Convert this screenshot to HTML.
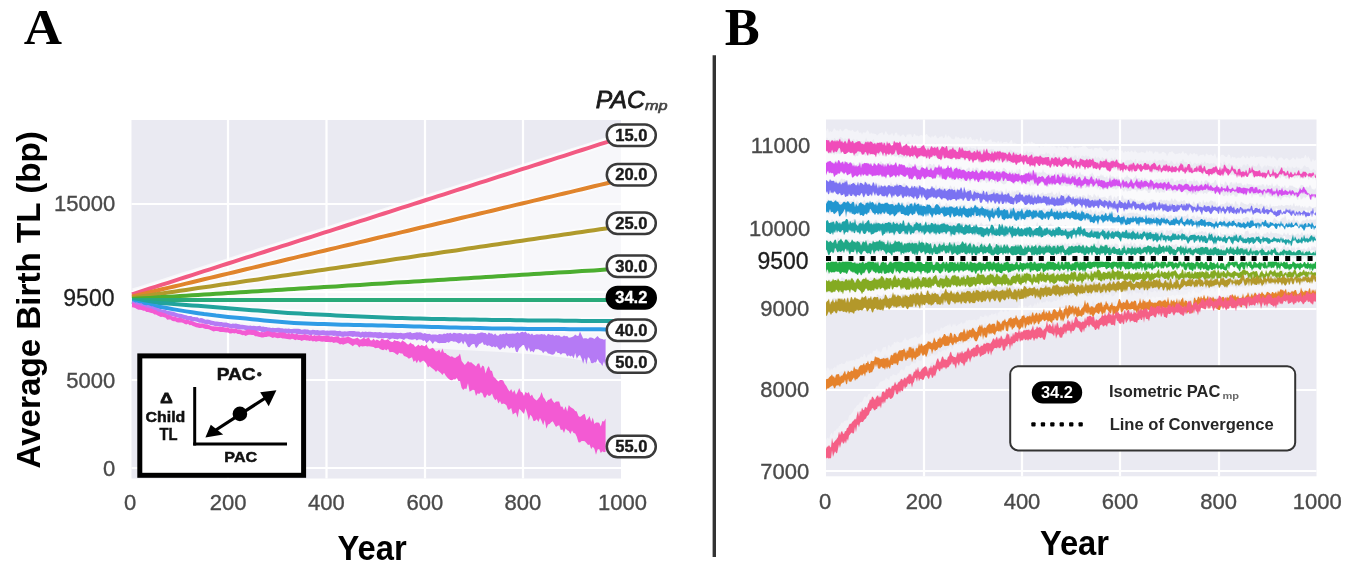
<!DOCTYPE html>
<html><head><meta charset="utf-8"><style>
html,body{margin:0;padding:0;background:#fff;}
body{width:1350px;height:583px;overflow:hidden;position:relative;}
svg{position:absolute;left:0;top:0;filter:blur(0.55px);}
</style></head><body>
<svg width="1350" height="583" viewBox="0 0 1350 583">
<rect x="131.5" y="120" width="489.5" height="358.5" fill="#EAEAF2"/>
<line x1="228" y1="120" x2="228" y2="478.5" stroke="#fff" stroke-width="2.2"/>
<line x1="326.5" y1="120" x2="326.5" y2="478.5" stroke="#fff" stroke-width="2.2"/>
<line x1="425" y1="120" x2="425" y2="478.5" stroke="#fff" stroke-width="2.2"/>
<line x1="523" y1="120" x2="523" y2="478.5" stroke="#fff" stroke-width="2.2"/>
<line x1="131.5" y1="204" x2="621" y2="204" stroke="#fff" stroke-width="2.2"/>
<line x1="131.5" y1="292" x2="621" y2="292" stroke="#fff" stroke-width="2.2"/>
<line x1="131.5" y1="380" x2="621" y2="380" stroke="#fff" stroke-width="2.2"/>
<line x1="131.5" y1="468" x2="621" y2="468" stroke="#fff" stroke-width="2.2"/>
<polygon points="132.0,288.6 142.0,285.4 152.0,282.2 162.0,279.0 172.0,275.8 182.0,272.6 192.0,269.4 202.0,266.3 212.0,263.1 222.0,259.9 232.0,256.7 242.0,253.5 252.0,250.3 262.0,247.1 272.0,243.9 282.0,240.7 292.0,237.5 302.0,234.3 312.0,231.1 322.0,227.9 332.0,224.8 342.0,221.6 352.0,218.4 362.0,215.2 372.0,212.0 382.0,208.8 392.0,205.6 402.0,202.4 412.0,199.2 422.0,196.0 432.0,192.8 442.0,189.6 452.0,186.4 462.0,183.3 472.0,180.1 482.0,176.9 492.0,173.7 502.0,170.5 512.0,167.3 522.0,164.1 532.0,160.9 542.0,157.7 552.0,154.5 562.0,151.3 572.0,148.1 582.0,144.9 592.0,141.8 602.0,138.6 612.0,135.4 621.0,132.5 621.0,368.0 611.0,366.0 601.0,363.9 591.0,361.9 581.0,360.2 571.0,358.6 561.0,357.3 551.0,356.2 541.0,355.1 531.0,354.2 521.0,353.4 511.0,352.7 501.0,352.1 491.0,351.5 481.0,351.0 471.0,350.6 461.0,350.1 451.0,349.4 441.0,348.6 431.0,347.9 421.0,347.1 411.0,346.3 401.0,345.6 391.0,344.8 381.0,344.1 371.0,343.3 361.0,342.6 351.0,341.8 341.0,341.1 331.0,340.3 321.0,339.6 311.0,338.8 301.0,338.1 291.0,337.3 281.0,336.6 271.0,335.9 261.0,335.1 251.0,334.1 241.0,333.1 231.0,332.0 221.0,330.8 211.0,329.2 201.0,327.2 191.0,324.7 181.0,321.8 171.0,318.7 161.0,315.5 151.0,312.1 141.0,308.9" fill="#fff" opacity="0.6"/>
<path d="M132.0,294.3 L138.0,292.4 L144.0,290.5 L150.0,288.5 L156.0,286.6 L162.0,284.7 L168.0,282.8 L174.0,280.8 L180.0,278.9 L186.0,277.0 L192.0,275.1 L198.0,273.1 L204.0,271.2 L210.0,269.3 L216.0,267.4 L222.0,265.4 L228.0,263.5 L234.0,261.6 L240.0,259.7 L246.0,257.7 L252.0,255.8 L258.0,253.9 L264.0,252.0 L270.0,250.0 L276.0,248.1 L282.0,246.2 L288.0,244.3 L294.0,242.4 L300.0,240.4 L306.0,238.5 L312.0,236.6 L318.0,234.7 L324.0,232.7 L330.0,230.8 L336.0,228.9 L342.0,227.0 L348.0,225.0 L354.0,223.1 L360.0,221.2 L366.0,219.3 L372.0,217.3 L378.0,215.4 L384.0,213.5 L390.0,211.6 L396.0,209.6 L402.0,207.7 L408.0,205.8 L414.0,203.9 L420.0,202.0 L426.0,200.0 L432.0,198.1 L438.0,196.2 L444.0,194.3 L450.0,192.3 L456.0,190.4 L462.0,188.5 L468.0,186.6 L474.0,184.6 L480.0,182.7 L486.0,180.8 L492.0,178.9 L498.0,176.9 L504.0,175.0 L510.0,173.1 L516.0,171.2 L522.0,169.2 L528.0,167.3 L534.0,165.4 L540.0,163.5 L546.0,161.5 L552.0,159.6 L558.0,157.7 L564.0,155.8 L570.0,153.9 L576.0,151.9 L582.0,150.0 L588.0,148.1 L594.0,146.2 L600.0,144.2 L606.0,142.3 L612.0,140.4 L618.0,138.5" fill="none" stroke="#fff" stroke-width="8.0" opacity="0.5"/>
<path d="M132.0,296.5 L138.0,295.1 L144.0,293.6 L150.0,292.2 L156.0,290.8 L162.0,289.3 L168.0,287.9 L174.0,286.5 L180.0,285.1 L186.0,283.6 L192.0,282.2 L198.0,280.8 L204.0,279.3 L210.0,277.9 L216.0,276.5 L222.0,275.0 L228.0,273.6 L234.0,272.2 L240.0,270.7 L246.0,269.3 L252.0,267.9 L258.0,266.5 L264.0,265.0 L270.0,263.6 L276.0,262.2 L282.0,260.7 L288.0,259.3 L294.0,257.9 L300.0,256.4 L306.0,255.0 L312.0,253.6 L318.0,252.1 L324.0,250.7 L330.0,249.3 L336.0,247.9 L342.0,246.4 L348.0,245.0 L354.0,243.6 L360.0,242.1 L366.0,240.7 L372.0,239.3 L378.0,237.8 L384.0,236.4 L390.0,235.0 L396.0,233.6 L402.0,232.1 L408.0,230.7 L414.0,229.3 L420.0,227.8 L426.0,226.4 L432.0,225.0 L438.0,223.5 L444.0,222.1 L450.0,220.7 L456.0,219.2 L462.0,217.8 L468.0,216.4 L474.0,215.0 L480.0,213.5 L486.0,212.1 L492.0,210.7 L498.0,209.2 L504.0,207.8 L510.0,206.4 L516.0,204.9 L522.0,203.5 L528.0,202.1 L534.0,200.6 L540.0,199.2 L546.0,197.8 L552.0,196.4 L558.0,194.9 L564.0,193.5 L570.0,192.1 L576.0,190.6 L582.0,189.2 L588.0,187.8 L594.0,186.3 L600.0,184.9 L606.0,183.5 L612.0,182.0 L618.0,180.6" fill="none" stroke="#fff" stroke-width="8.0" opacity="0.5"/>
<path d="M132.0,297.8 L138.0,296.9 L144.0,296.0 L150.0,295.2 L156.0,294.3 L162.0,293.4 L168.0,292.5 L174.0,291.7 L180.0,290.8 L186.0,289.9 L192.0,289.0 L198.0,288.1 L204.0,287.3 L210.0,286.4 L216.0,285.5 L222.0,284.6 L228.0,283.7 L234.0,282.9 L240.0,282.0 L246.0,281.1 L252.0,280.2 L258.0,279.4 L264.0,278.5 L270.0,277.6 L276.0,276.7 L282.0,275.8 L288.0,275.0 L294.0,274.1 L300.0,273.2 L306.0,272.3 L312.0,271.4 L318.0,270.6 L324.0,269.7 L330.0,268.8 L336.0,267.9 L342.0,267.1 L348.0,266.2 L354.0,265.3 L360.0,264.4 L366.0,263.5 L372.0,262.7 L378.0,261.8 L384.0,260.9 L390.0,260.0 L396.0,259.1 L402.0,258.3 L408.0,257.4 L414.0,256.5 L420.0,255.6 L426.0,254.8 L432.0,253.9 L438.0,253.0 L444.0,252.1 L450.0,251.2 L456.0,250.4 L462.0,249.5 L468.0,248.6 L474.0,247.7 L480.0,246.8 L486.0,246.0 L492.0,245.1 L498.0,244.2 L504.0,243.3 L510.0,242.5 L516.0,241.6 L522.0,240.7 L528.0,239.8 L534.0,238.9 L540.0,238.1 L546.0,237.2 L552.0,236.3 L558.0,235.4 L564.0,234.5 L570.0,233.7 L576.0,232.8 L582.0,231.9 L588.0,231.0 L594.0,230.2 L600.0,229.3 L606.0,228.4 L612.0,227.5 L618.0,226.6" fill="none" stroke="#fff" stroke-width="8.0" opacity="0.5"/>
<path d="M132.0,299.0 L138.0,298.6 L144.0,298.3 L150.0,297.9 L156.0,297.5 L162.0,297.1 L168.0,296.8 L174.0,296.4 L180.0,296.0 L186.0,295.7 L192.0,295.3 L198.0,294.9 L204.0,294.5 L210.0,294.2 L216.0,293.8 L222.0,293.4 L228.0,293.1 L234.0,292.7 L240.0,292.3 L246.0,291.9 L252.0,291.6 L258.0,291.2 L264.0,290.8 L270.0,290.4 L276.0,290.1 L282.0,289.7 L288.0,289.3 L294.0,289.0 L300.0,288.6 L306.0,288.2 L312.0,287.8 L318.0,287.5 L324.0,287.1 L330.0,286.7 L336.0,286.4 L342.0,286.0 L348.0,285.6 L354.0,285.2 L360.0,284.9 L366.0,284.5 L372.0,284.1 L378.0,283.8 L384.0,283.4 L390.0,283.0 L396.0,282.6 L402.0,282.3 L408.0,281.9 L414.0,281.5 L420.0,281.2 L426.0,280.8 L432.0,280.4 L438.0,280.0 L444.0,279.7 L450.0,279.3 L456.0,278.9 L462.0,278.6 L468.0,278.2 L474.0,277.8 L480.0,277.4 L486.0,277.1 L492.0,276.7 L498.0,276.3 L504.0,275.9 L510.0,275.6 L516.0,275.2 L522.0,274.8 L528.0,274.5 L534.0,274.1 L540.0,273.7 L546.0,273.3 L552.0,273.0 L558.0,272.6 L564.0,272.2 L570.0,271.9 L576.0,271.5 L582.0,271.1 L588.0,270.7 L594.0,270.4 L600.0,270.0 L606.0,269.6 L612.0,269.3 L618.0,268.9" fill="none" stroke="#fff" stroke-width="8.0" opacity="0.5"/>
<path d="M132.0,300.0 L138.0,300.0 L144.0,300.0 L150.0,300.0 L156.0,300.0 L162.0,300.0 L168.0,300.0 L174.0,300.0 L180.0,300.0 L186.0,300.0 L192.0,300.0 L198.0,300.0 L204.0,300.0 L210.0,300.0 L216.0,300.0 L222.0,300.0 L228.0,300.0 L234.0,300.0 L240.0,300.0 L246.0,300.0 L252.0,300.0 L258.0,300.0 L264.0,300.0 L270.0,300.0 L276.0,300.0 L282.0,300.0 L288.0,300.0 L294.0,300.0 L300.0,300.0 L306.0,300.0 L312.0,300.0 L318.0,300.0 L324.0,300.0 L330.0,300.0 L336.0,300.0 L342.0,300.0 L348.0,300.0 L354.0,300.0 L360.0,300.0 L366.0,300.0 L372.0,300.0 L378.0,300.0 L384.0,300.0 L390.0,300.0 L396.0,300.0 L402.0,300.0 L408.0,300.0 L414.0,300.0 L420.0,300.0 L426.0,300.0 L432.0,300.0 L438.0,300.0 L444.0,300.0 L450.0,300.0 L456.0,300.0 L462.0,300.0 L468.0,300.0 L474.0,300.0 L480.0,300.0 L486.0,300.0 L492.0,300.0 L498.0,300.0 L504.0,300.0 L510.0,300.0 L516.0,300.0 L522.0,300.0 L528.0,300.0 L534.0,300.0 L540.0,300.0 L546.0,300.0 L552.0,300.0 L558.0,300.0 L564.0,300.0 L570.0,300.0 L576.0,300.0 L582.0,300.0 L588.0,300.0 L594.0,300.0 L600.0,300.0 L606.0,300.0 L612.0,300.0 L618.0,300.0" fill="none" stroke="#fff" stroke-width="8.0" opacity="0.5"/>
<path d="M132.0,301.0 L138.0,301.4 L144.0,301.9 L150.0,302.3 L156.0,302.7 L162.0,303.2 L168.0,303.6 L174.0,304.1 L180.0,304.5 L186.0,304.9 L192.0,305.4 L198.0,305.8 L204.0,306.3 L210.0,306.8 L216.0,307.3 L222.0,307.8 L228.0,308.2 L234.0,308.7 L240.0,309.2 L246.0,309.7 L252.0,310.2 L258.0,310.6 L264.0,311.1 L270.0,311.6 L276.0,312.0 L282.0,312.5 L288.0,312.9 L294.0,313.3 L300.0,313.6 L306.0,313.9 L312.0,314.2 L318.0,314.5 L324.0,314.8 L330.0,315.1 L336.0,315.4 L342.0,315.7 L348.0,316.0 L354.0,316.2 L360.0,316.5 L366.0,316.8 L372.0,317.0 L378.0,317.2 L384.0,317.5 L390.0,317.7 L396.0,317.9 L402.0,318.1 L408.0,318.2 L414.0,318.4 L420.0,318.6 L426.0,318.7 L432.0,318.9 L438.0,319.0 L444.0,319.1 L450.0,319.2 L456.0,319.3 L462.0,319.4 L468.0,319.5 L474.0,319.6 L480.0,319.7 L486.0,319.8 L492.0,319.9 L498.0,320.0 L504.0,320.1 L510.0,320.1 L516.0,320.2 L522.0,320.3 L528.0,320.4 L534.0,320.4 L540.0,320.5 L546.0,320.5 L552.0,320.6 L558.0,320.6 L564.0,320.7 L570.0,320.8 L576.0,320.8 L582.0,320.9 L588.0,320.9 L594.0,321.0 L600.0,321.0 L606.0,321.1 L612.0,321.1 L618.0,321.2" fill="none" stroke="#fff" stroke-width="8.0" opacity="0.5"/>
<path d="M132.0,302.0 L138.0,303.0 L144.0,304.1 L150.0,305.1 L156.0,306.2 L162.0,307.3 L168.0,308.3 L174.0,309.4 L180.0,310.4 L186.0,311.4 L192.0,312.3 L198.0,313.2 L204.0,314.1 L210.0,314.8 L216.0,315.6 L222.0,316.2 L228.0,316.9 L234.0,317.5 L240.0,318.0 L246.0,318.6 L252.0,319.2 L258.0,319.8 L264.0,320.4 L270.0,321.0 L276.0,321.5 L282.0,322.0 L288.0,322.5 L294.0,322.9 L300.0,323.2 L306.0,323.5 L312.0,323.7 L318.0,323.9 L324.0,324.1 L330.0,324.3 L336.0,324.5 L342.0,324.7 L348.0,324.8 L354.0,324.9 L360.0,325.1 L366.0,325.2 L372.0,325.3 L378.0,325.5 L384.0,325.6 L390.0,325.7 L396.0,325.9 L402.0,326.1 L408.0,326.2 L414.0,326.4 L420.0,326.5 L426.0,326.7 L432.0,326.9 L438.0,327.1 L444.0,327.2 L450.0,327.4 L456.0,327.5 L462.0,327.7 L468.0,327.8 L474.0,328.0 L480.0,328.1 L486.0,328.2 L492.0,328.4 L498.0,328.5 L504.0,328.6 L510.0,328.6 L516.0,328.7 L522.0,328.8 L528.0,328.9 L534.0,328.9 L540.0,329.0 L546.0,329.0 L552.0,329.1 L558.0,329.1 L564.0,329.1 L570.0,329.2 L576.0,329.2 L582.0,329.2 L588.0,329.3 L594.0,329.3 L600.0,329.3 L606.0,329.4 L612.0,329.4 L618.0,329.5" fill="none" stroke="#fff" stroke-width="8.0" opacity="0.5"/>
<path d="M132.0,294.3 L138.0,292.4 L144.0,290.5 L150.0,288.5 L156.0,286.6 L162.0,284.7 L168.0,282.8 L174.0,280.8 L180.0,278.9 L186.0,277.0 L192.0,275.1 L198.0,273.1 L204.0,271.2 L210.0,269.3 L216.0,267.4 L222.0,265.4 L228.0,263.5 L234.0,261.6 L240.0,259.7 L246.0,257.7 L252.0,255.8 L258.0,253.9 L264.0,252.0 L270.0,250.0 L276.0,248.1 L282.0,246.2 L288.0,244.3 L294.0,242.4 L300.0,240.4 L306.0,238.5 L312.0,236.6 L318.0,234.7 L324.0,232.7 L330.0,230.8 L336.0,228.9 L342.0,227.0 L348.0,225.0 L354.0,223.1 L360.0,221.2 L366.0,219.3 L372.0,217.3 L378.0,215.4 L384.0,213.5 L390.0,211.6 L396.0,209.6 L402.0,207.7 L408.0,205.8 L414.0,203.9 L420.0,202.0 L426.0,200.0 L432.0,198.1 L438.0,196.2 L444.0,194.3 L450.0,192.3 L456.0,190.4 L462.0,188.5 L468.0,186.6 L474.0,184.6 L480.0,182.7 L486.0,180.8 L492.0,178.9 L498.0,176.9 L504.0,175.0 L510.0,173.1 L516.0,171.2 L522.0,169.2 L528.0,167.3 L534.0,165.4 L540.0,163.5 L546.0,161.5 L552.0,159.6 L558.0,157.7 L564.0,155.8 L570.0,153.9 L576.0,151.9 L582.0,150.0 L588.0,148.1 L594.0,146.2 L600.0,144.2 L606.0,142.3 L612.0,140.4 L618.0,138.5" fill="none" stroke="#f25a82" stroke-width="4.0"/>
<path d="M132.0,296.5 L138.0,295.1 L144.0,293.6 L150.0,292.2 L156.0,290.8 L162.0,289.3 L168.0,287.9 L174.0,286.5 L180.0,285.1 L186.0,283.6 L192.0,282.2 L198.0,280.8 L204.0,279.3 L210.0,277.9 L216.0,276.5 L222.0,275.0 L228.0,273.6 L234.0,272.2 L240.0,270.7 L246.0,269.3 L252.0,267.9 L258.0,266.5 L264.0,265.0 L270.0,263.6 L276.0,262.2 L282.0,260.7 L288.0,259.3 L294.0,257.9 L300.0,256.4 L306.0,255.0 L312.0,253.6 L318.0,252.1 L324.0,250.7 L330.0,249.3 L336.0,247.9 L342.0,246.4 L348.0,245.0 L354.0,243.6 L360.0,242.1 L366.0,240.7 L372.0,239.3 L378.0,237.8 L384.0,236.4 L390.0,235.0 L396.0,233.6 L402.0,232.1 L408.0,230.7 L414.0,229.3 L420.0,227.8 L426.0,226.4 L432.0,225.0 L438.0,223.5 L444.0,222.1 L450.0,220.7 L456.0,219.2 L462.0,217.8 L468.0,216.4 L474.0,215.0 L480.0,213.5 L486.0,212.1 L492.0,210.7 L498.0,209.2 L504.0,207.8 L510.0,206.4 L516.0,204.9 L522.0,203.5 L528.0,202.1 L534.0,200.6 L540.0,199.2 L546.0,197.8 L552.0,196.4 L558.0,194.9 L564.0,193.5 L570.0,192.1 L576.0,190.6 L582.0,189.2 L588.0,187.8 L594.0,186.3 L600.0,184.9 L606.0,183.5 L612.0,182.0 L618.0,180.6" fill="none" stroke="#e0842c" stroke-width="4.0"/>
<path d="M132.0,297.8 L138.0,296.9 L144.0,296.0 L150.0,295.2 L156.0,294.3 L162.0,293.4 L168.0,292.5 L174.0,291.7 L180.0,290.8 L186.0,289.9 L192.0,289.0 L198.0,288.1 L204.0,287.3 L210.0,286.4 L216.0,285.5 L222.0,284.6 L228.0,283.7 L234.0,282.9 L240.0,282.0 L246.0,281.1 L252.0,280.2 L258.0,279.4 L264.0,278.5 L270.0,277.6 L276.0,276.7 L282.0,275.8 L288.0,275.0 L294.0,274.1 L300.0,273.2 L306.0,272.3 L312.0,271.4 L318.0,270.6 L324.0,269.7 L330.0,268.8 L336.0,267.9 L342.0,267.1 L348.0,266.2 L354.0,265.3 L360.0,264.4 L366.0,263.5 L372.0,262.7 L378.0,261.8 L384.0,260.9 L390.0,260.0 L396.0,259.1 L402.0,258.3 L408.0,257.4 L414.0,256.5 L420.0,255.6 L426.0,254.8 L432.0,253.9 L438.0,253.0 L444.0,252.1 L450.0,251.2 L456.0,250.4 L462.0,249.5 L468.0,248.6 L474.0,247.7 L480.0,246.8 L486.0,246.0 L492.0,245.1 L498.0,244.2 L504.0,243.3 L510.0,242.5 L516.0,241.6 L522.0,240.7 L528.0,239.8 L534.0,238.9 L540.0,238.1 L546.0,237.2 L552.0,236.3 L558.0,235.4 L564.0,234.5 L570.0,233.7 L576.0,232.8 L582.0,231.9 L588.0,231.0 L594.0,230.2 L600.0,229.3 L606.0,228.4 L612.0,227.5 L618.0,226.6" fill="none" stroke="#b09a2c" stroke-width="4.0"/>
<path d="M132.0,299.0 L138.0,298.6 L144.0,298.3 L150.0,297.9 L156.0,297.5 L162.0,297.1 L168.0,296.8 L174.0,296.4 L180.0,296.0 L186.0,295.7 L192.0,295.3 L198.0,294.9 L204.0,294.5 L210.0,294.2 L216.0,293.8 L222.0,293.4 L228.0,293.1 L234.0,292.7 L240.0,292.3 L246.0,291.9 L252.0,291.6 L258.0,291.2 L264.0,290.8 L270.0,290.4 L276.0,290.1 L282.0,289.7 L288.0,289.3 L294.0,289.0 L300.0,288.6 L306.0,288.2 L312.0,287.8 L318.0,287.5 L324.0,287.1 L330.0,286.7 L336.0,286.4 L342.0,286.0 L348.0,285.6 L354.0,285.2 L360.0,284.9 L366.0,284.5 L372.0,284.1 L378.0,283.8 L384.0,283.4 L390.0,283.0 L396.0,282.6 L402.0,282.3 L408.0,281.9 L414.0,281.5 L420.0,281.2 L426.0,280.8 L432.0,280.4 L438.0,280.0 L444.0,279.7 L450.0,279.3 L456.0,278.9 L462.0,278.6 L468.0,278.2 L474.0,277.8 L480.0,277.4 L486.0,277.1 L492.0,276.7 L498.0,276.3 L504.0,275.9 L510.0,275.6 L516.0,275.2 L522.0,274.8 L528.0,274.5 L534.0,274.1 L540.0,273.7 L546.0,273.3 L552.0,273.0 L558.0,272.6 L564.0,272.2 L570.0,271.9 L576.0,271.5 L582.0,271.1 L588.0,270.7 L594.0,270.4 L600.0,270.0 L606.0,269.6 L612.0,269.3 L618.0,268.9" fill="none" stroke="#4cae30" stroke-width="4.0"/>
<path d="M132.0,300.0 L138.0,300.0 L144.0,300.0 L150.0,300.0 L156.0,300.0 L162.0,300.0 L168.0,300.0 L174.0,300.0 L180.0,300.0 L186.0,300.0 L192.0,300.0 L198.0,300.0 L204.0,300.0 L210.0,300.0 L216.0,300.0 L222.0,300.0 L228.0,300.0 L234.0,300.0 L240.0,300.0 L246.0,300.0 L252.0,300.0 L258.0,300.0 L264.0,300.0 L270.0,300.0 L276.0,300.0 L282.0,300.0 L288.0,300.0 L294.0,300.0 L300.0,300.0 L306.0,300.0 L312.0,300.0 L318.0,300.0 L324.0,300.0 L330.0,300.0 L336.0,300.0 L342.0,300.0 L348.0,300.0 L354.0,300.0 L360.0,300.0 L366.0,300.0 L372.0,300.0 L378.0,300.0 L384.0,300.0 L390.0,300.0 L396.0,300.0 L402.0,300.0 L408.0,300.0 L414.0,300.0 L420.0,300.0 L426.0,300.0 L432.0,300.0 L438.0,300.0 L444.0,300.0 L450.0,300.0 L456.0,300.0 L462.0,300.0 L468.0,300.0 L474.0,300.0 L480.0,300.0 L486.0,300.0 L492.0,300.0 L498.0,300.0 L504.0,300.0 L510.0,300.0 L516.0,300.0 L522.0,300.0 L528.0,300.0 L534.0,300.0 L540.0,300.0 L546.0,300.0 L552.0,300.0 L558.0,300.0 L564.0,300.0 L570.0,300.0 L576.0,300.0 L582.0,300.0 L588.0,300.0 L594.0,300.0 L600.0,300.0 L606.0,300.0 L612.0,300.0 L618.0,300.0" fill="none" stroke="#2aaa7a" stroke-width="4.0"/>
<path d="M132.0,301.0 L138.0,301.4 L144.0,301.9 L150.0,302.3 L156.0,302.7 L162.0,303.2 L168.0,303.6 L174.0,304.1 L180.0,304.5 L186.0,304.9 L192.0,305.4 L198.0,305.8 L204.0,306.3 L210.0,306.8 L216.0,307.3 L222.0,307.8 L228.0,308.2 L234.0,308.7 L240.0,309.2 L246.0,309.7 L252.0,310.2 L258.0,310.6 L264.0,311.1 L270.0,311.6 L276.0,312.0 L282.0,312.5 L288.0,312.9 L294.0,313.3 L300.0,313.6 L306.0,313.9 L312.0,314.2 L318.0,314.5 L324.0,314.8 L330.0,315.1 L336.0,315.4 L342.0,315.7 L348.0,316.0 L354.0,316.2 L360.0,316.5 L366.0,316.8 L372.0,317.0 L378.0,317.2 L384.0,317.5 L390.0,317.7 L396.0,317.9 L402.0,318.1 L408.0,318.2 L414.0,318.4 L420.0,318.6 L426.0,318.7 L432.0,318.9 L438.0,319.0 L444.0,319.1 L450.0,319.2 L456.0,319.3 L462.0,319.4 L468.0,319.5 L474.0,319.6 L480.0,319.7 L486.0,319.8 L492.0,319.9 L498.0,320.0 L504.0,320.1 L510.0,320.1 L516.0,320.2 L522.0,320.3 L528.0,320.4 L534.0,320.4 L540.0,320.5 L546.0,320.5 L552.0,320.6 L558.0,320.6 L564.0,320.7 L570.0,320.8 L576.0,320.8 L582.0,320.9 L588.0,320.9 L594.0,321.0 L600.0,321.0 L606.0,321.1 L612.0,321.1 L618.0,321.2" fill="none" stroke="#22a39c" stroke-width="4.0"/>
<path d="M132.0,302.0 L138.0,303.0 L144.0,304.1 L150.0,305.1 L156.0,306.2 L162.0,307.3 L168.0,308.3 L174.0,309.4 L180.0,310.4 L186.0,311.4 L192.0,312.3 L198.0,313.2 L204.0,314.1 L210.0,314.8 L216.0,315.6 L222.0,316.2 L228.0,316.9 L234.0,317.5 L240.0,318.0 L246.0,318.6 L252.0,319.2 L258.0,319.8 L264.0,320.4 L270.0,321.0 L276.0,321.5 L282.0,322.0 L288.0,322.5 L294.0,322.9 L300.0,323.2 L306.0,323.5 L312.0,323.7 L318.0,323.9 L324.0,324.1 L330.0,324.3 L336.0,324.5 L342.0,324.7 L348.0,324.8 L354.0,324.9 L360.0,325.1 L366.0,325.2 L372.0,325.3 L378.0,325.5 L384.0,325.6 L390.0,325.7 L396.0,325.9 L402.0,326.1 L408.0,326.2 L414.0,326.4 L420.0,326.5 L426.0,326.7 L432.0,326.9 L438.0,327.1 L444.0,327.2 L450.0,327.4 L456.0,327.5 L462.0,327.7 L468.0,327.8 L474.0,328.0 L480.0,328.1 L486.0,328.2 L492.0,328.4 L498.0,328.5 L504.0,328.6 L510.0,328.6 L516.0,328.7 L522.0,328.8 L528.0,328.9 L534.0,328.9 L540.0,329.0 L546.0,329.0 L552.0,329.1 L558.0,329.1 L564.0,329.1 L570.0,329.2 L576.0,329.2 L582.0,329.2 L588.0,329.3 L594.0,329.3 L600.0,329.3 L606.0,329.4 L612.0,329.4 L618.0,329.5" fill="none" stroke="#2f9ce6" stroke-width="4.0"/>
<polygon points="132.0,301.2 133.6,301.4 135.2,302.5 136.8,302.3 138.4,303.0 140.0,303.3 141.6,303.2 143.2,304.4 144.8,305.0 146.4,305.2 148.0,305.0 149.6,305.4 151.2,306.2 152.8,306.3 154.4,307.1 156.0,307.6 157.6,307.9 159.2,308.8 160.8,309.0 162.4,309.7 164.0,309.6 165.6,309.9 167.2,310.8 168.8,311.0 170.4,311.3 172.0,311.5 173.6,311.8 175.2,312.5 176.8,313.0 178.4,313.6 180.0,313.8 181.6,314.0 183.2,314.6 184.8,314.9 186.4,315.2 188.0,315.9 189.6,316.0 191.2,315.9 192.8,317.0 194.4,317.1 196.0,317.3 197.6,317.2 199.2,318.5 200.8,318.0 202.4,318.3 204.0,318.9 205.6,319.7 207.2,319.6 208.8,319.8 210.4,320.3 212.0,320.8 213.6,321.1 215.2,321.4 216.8,321.6 218.4,321.7 220.0,321.9 221.6,322.1 223.2,322.4 224.8,322.6 226.4,322.6 228.0,323.1 229.6,323.4 231.2,324.0 232.8,323.4 234.4,323.8 236.0,323.6 237.6,324.1 239.2,324.2 240.8,324.8 242.4,324.8 244.0,324.9 245.6,325.2 247.2,325.6 248.8,325.7 250.4,325.5 252.0,325.9 253.6,325.8 255.2,326.0 256.8,326.3 258.4,326.0 260.0,325.8 261.6,326.8 263.2,326.6 264.8,326.9 266.4,327.0 268.0,327.5 269.6,327.6 271.2,328.0 272.8,327.7 274.4,327.9 276.0,327.9 277.6,327.7 279.2,327.8 280.8,328.3 282.4,328.2 284.0,328.7 285.6,328.5 287.2,328.8 288.8,328.5 290.4,328.9 292.0,328.9 293.6,328.8 295.2,328.8 296.8,328.8 298.4,328.8 300.0,328.9 301.6,329.7 303.2,329.6 304.8,329.3 306.4,329.5 308.0,329.6 309.6,330.2 311.2,330.3 312.8,329.7 314.4,330.0 316.0,330.2 317.6,330.0 319.2,330.6 320.8,330.4 322.4,330.2 324.0,330.3 325.6,330.7 327.2,330.6 328.8,330.8 330.4,330.5 332.0,330.5 333.6,330.6 335.2,330.6 336.8,331.1 338.4,331.0 340.0,330.8 341.6,331.4 343.2,331.4 344.8,331.3 346.4,331.4 348.0,331.3 349.6,331.0 351.2,330.9 352.8,330.9 354.4,331.0 356.0,331.6 357.6,331.4 359.2,331.6 360.8,332.4 362.4,331.6 364.0,331.9 365.6,331.6 367.2,332.1 368.8,331.8 370.4,331.8 372.0,331.9 373.6,332.2 375.2,332.1 376.8,332.3 378.4,332.2 380.0,332.0 381.6,332.4 383.2,333.0 384.8,332.5 386.4,332.6 388.0,332.7 389.6,332.8 391.2,332.7 392.8,332.5 394.4,332.8 396.0,332.8 397.6,333.1 399.2,333.0 400.8,332.8 402.4,333.2 404.0,333.3 405.6,333.1 407.2,332.5 408.8,332.4 410.4,332.0 412.0,333.2 413.6,332.9 415.2,332.7 416.8,332.3 418.4,332.5 420.0,332.3 421.6,332.7 423.2,333.7 424.8,333.0 426.4,333.7 428.0,334.0 429.6,333.7 431.2,334.7 432.8,334.4 434.4,334.4 436.0,334.4 437.6,334.9 439.2,334.1 440.8,334.3 442.4,334.6 444.0,333.6 445.6,334.0 447.2,332.9 448.8,333.5 450.4,332.7 452.0,333.9 453.6,332.7 455.2,333.1 456.8,333.4 458.4,333.2 460.0,332.9 461.6,333.5 463.2,334.5 464.8,333.2 466.4,333.4 468.0,334.4 469.6,333.6 471.2,333.8 472.8,333.7 474.4,333.9 476.0,334.6 477.6,333.3 479.2,333.3 480.8,332.4 482.4,332.5 484.0,333.1 485.6,333.0 487.2,334.8 488.8,332.6 490.4,333.4 492.0,333.5 493.6,334.9 495.2,333.6 496.8,335.4 498.4,335.7 500.0,334.0 501.6,334.6 503.2,333.7 504.8,334.3 506.4,332.4 508.0,334.0 509.6,333.8 511.2,333.8 512.8,333.4 514.4,333.8 516.0,333.2 517.6,332.1 519.2,333.4 520.8,332.3 522.4,331.8 524.0,332.6 525.6,331.5 527.2,333.7 528.8,333.3 530.4,334.8 532.0,333.6 533.6,335.3 535.2,334.7 536.8,334.3 538.4,334.4 540.0,334.4 541.6,333.9 543.2,334.4 544.8,334.3 546.4,336.1 548.0,333.8 549.6,334.5 551.2,335.1 552.8,334.6 554.4,336.1 556.0,334.9 557.6,335.6 559.2,335.3 560.8,336.7 562.4,336.8 564.0,335.4 565.6,336.3 567.2,336.1 568.8,337.7 570.4,337.6 572.0,337.1 573.6,336.3 575.2,334.6 576.8,335.8 578.4,336.0 580.0,331.6 581.6,335.0 583.2,338.4 584.8,338.2 586.4,338.2 588.0,339.1 589.6,337.5 591.2,337.4 592.8,338.1 594.4,339.0 596.0,337.5 597.6,336.0 599.2,338.1 600.8,338.7 602.4,338.9 604.0,339.8 605.6,338.9 605.6,366.8 604.0,361.2 602.4,366.1 600.8,363.6 599.2,362.3 597.6,359.1 596.0,362.5 594.4,362.2 592.8,363.3 591.2,363.1 589.6,358.5 588.0,357.1 586.4,364.6 584.8,357.8 583.2,363.7 581.6,358.4 580.0,354.9 578.4,356.0 576.8,358.7 575.2,353.0 573.6,358.5 572.0,355.4 570.4,356.5 568.8,355.2 567.2,356.5 565.6,353.6 564.0,353.3 562.4,353.2 560.8,354.8 559.2,353.0 557.6,352.9 556.0,351.0 554.4,353.9 552.8,354.7 551.2,354.6 549.6,353.7 548.0,353.5 546.4,351.5 544.8,351.2 543.2,353.3 541.6,350.8 540.0,350.3 538.4,349.3 536.8,349.2 535.2,349.2 533.6,352.4 532.0,350.8 530.4,352.0 528.8,347.3 527.2,351.4 525.6,349.0 524.0,344.9 522.4,345.2 520.8,347.0 519.2,348.3 517.6,352.2 516.0,351.7 514.4,346.5 512.8,348.3 511.2,347.1 509.6,348.5 508.0,346.4 506.4,345.2 504.8,348.9 503.2,346.9 501.6,348.7 500.0,349.9 498.4,348.6 496.8,346.2 495.2,347.5 493.6,346.2 492.0,347.2 490.4,346.1 488.8,345.3 487.2,346.0 485.6,344.4 484.0,345.1 482.4,342.1 480.8,343.5 479.2,344.0 477.6,346.6 476.0,348.3 474.4,344.1 472.8,344.1 471.2,345.1 469.6,347.3 468.0,347.0 466.4,343.7 464.8,341.1 463.2,344.6 461.6,341.2 460.0,342.9 458.4,343.5 456.8,342.2 455.2,341.4 453.6,341.7 452.0,341.1 450.4,341.3 448.8,342.8 447.2,342.1 445.6,342.9 444.0,343.1 442.4,342.9 440.8,343.0 439.2,343.3 437.6,342.7 436.0,341.4 434.4,341.4 432.8,344.0 431.2,341.8 429.6,339.9 428.0,341.8 426.4,343.3 424.8,340.3 423.2,341.0 421.6,339.7 420.0,339.6 418.4,339.5 416.8,340.4 415.2,339.1 413.6,339.6 412.0,339.8 410.4,339.5 408.8,339.3 407.2,338.4 405.6,338.5 404.0,340.0 402.4,339.2 400.8,338.7 399.2,338.6 397.6,339.6 396.0,338.9 394.4,339.1 392.8,338.5 391.2,338.8 389.6,339.7 388.0,338.4 386.4,338.1 384.8,338.0 383.2,338.4 381.6,337.9 380.0,338.2 378.4,338.5 376.8,338.1 375.2,337.5 373.6,337.7 372.0,337.6 370.4,337.5 368.8,337.4 367.2,337.6 365.6,337.5 364.0,338.0 362.4,337.0 360.8,338.0 359.2,337.0 357.6,336.7 356.0,336.8 354.4,336.6 352.8,337.1 351.2,336.4 349.6,336.3 348.0,336.2 346.4,336.6 344.8,336.5 343.2,336.9 341.6,336.7 340.0,336.2 338.4,336.4 336.8,336.0 335.2,335.8 333.6,336.0 332.0,335.6 330.4,335.5 328.8,335.8 327.2,335.7 325.6,335.8 324.0,335.1 322.4,335.2 320.8,335.2 319.2,335.7 317.6,335.3 316.0,335.5 314.4,334.8 312.8,334.5 311.2,335.4 309.6,335.1 308.0,334.5 306.4,334.5 304.8,334.5 303.2,334.6 301.6,334.5 300.0,334.1 298.4,334.2 296.8,333.9 295.2,333.6 293.6,333.6 292.0,333.9 290.4,333.5 288.8,333.7 287.2,333.5 285.6,333.3 284.0,333.2 282.4,333.2 280.8,333.3 279.2,333.0 277.6,332.6 276.0,332.5 274.4,332.9 272.8,333.1 271.2,332.9 269.6,332.7 268.0,332.4 266.4,331.7 264.8,331.9 263.2,332.0 261.6,331.9 260.0,331.1 258.4,330.8 256.8,331.1 255.2,331.1 253.6,331.5 252.0,330.8 250.4,330.4 248.8,330.7 247.2,330.7 245.6,330.5 244.0,329.6 242.4,329.6 240.8,329.5 239.2,329.1 237.6,329.2 236.0,328.8 234.4,328.6 232.8,328.2 231.2,328.8 229.6,327.9 228.0,327.6 226.4,327.0 224.8,327.5 223.2,327.3 221.6,326.4 220.0,326.7 218.4,326.3 216.8,326.0 215.2,326.2 213.6,325.6 212.0,325.3 210.4,325.2 208.8,324.1 207.2,324.0 205.6,324.0 204.0,323.8 202.4,323.0 200.8,322.8 199.2,322.7 197.6,322.0 196.0,321.6 194.4,321.2 192.8,321.7 191.2,321.4 189.6,320.3 188.0,320.2 186.4,319.9 184.8,319.2 183.2,318.9 181.6,318.4 180.0,318.2 178.4,317.8 176.8,317.3 175.2,316.9 173.6,316.2 172.0,315.9 170.4,315.7 168.8,315.4 167.2,314.8 165.6,314.3 164.0,314.1 162.4,314.3 160.8,313.2 159.2,313.0 157.6,312.5 156.0,311.6 154.4,311.8 152.8,311.5 151.2,310.7 149.6,310.2 148.0,310.4 146.4,310.0 144.8,309.2 143.2,308.7 141.6,308.2 140.0,307.6 138.4,307.6 136.8,307.3 135.2,306.8 133.6,305.9 132.0,305.9" fill="#b57af5" opacity="1.0"/>
<polygon points="132.0,302.8 133.6,303.0 135.2,303.8 136.8,304.7 138.4,304.7 140.0,305.0 141.6,305.9 143.2,305.9 144.8,306.5 146.4,307.5 148.0,307.5 149.6,308.3 151.2,308.2 152.8,309.1 154.4,309.7 156.0,309.9 157.6,311.5 159.2,311.7 160.8,312.1 162.4,312.6 164.0,313.1 165.6,313.6 167.2,314.5 168.8,315.1 170.4,315.2 172.0,316.2 173.6,316.4 175.2,316.6 176.8,317.5 178.4,317.9 180.0,317.7 181.6,317.9 183.2,319.1 184.8,319.3 186.4,320.0 188.0,319.8 189.6,320.6 191.2,320.7 192.8,321.5 194.4,321.9 196.0,322.5 197.6,323.0 199.2,323.2 200.8,323.4 202.4,323.3 204.0,323.9 205.6,324.2 207.2,324.3 208.8,324.7 210.4,325.7 212.0,326.2 213.6,326.3 215.2,326.5 216.8,326.6 218.4,326.8 220.0,326.9 221.6,327.0 223.2,327.0 224.8,327.8 226.4,327.5 228.0,327.2 229.6,328.4 231.2,328.4 232.8,328.5 234.4,328.9 236.0,328.2 237.6,329.5 239.2,329.3 240.8,329.7 242.4,330.4 244.0,330.5 245.6,330.4 247.2,329.6 248.8,329.4 250.4,329.7 252.0,330.1 253.6,330.0 255.2,330.2 256.8,331.1 258.4,331.2 260.0,332.3 261.6,332.1 263.2,332.2 264.8,332.0 266.4,331.3 268.0,331.0 269.6,331.5 271.2,331.9 272.8,332.4 274.4,331.9 276.0,332.5 277.6,332.7 279.2,332.4 280.8,332.4 282.4,332.6 284.0,332.6 285.6,333.0 287.2,334.0 288.8,333.1 290.4,334.2 292.0,333.2 293.6,334.1 295.2,334.3 296.8,333.6 298.4,334.7 300.0,334.5 301.6,335.0 303.2,334.7 304.8,334.1 306.4,334.7 308.0,335.0 309.6,335.4 311.2,334.8 312.8,336.0 314.4,335.0 316.0,336.1 317.6,335.6 319.2,335.3 320.8,335.8 322.4,336.0 324.0,335.6 325.6,336.1 327.2,335.6 328.8,336.1 330.4,336.4 332.0,336.2 333.6,337.0 335.2,336.4 336.8,336.2 338.4,336.3 340.0,337.9 341.6,337.4 343.2,337.2 344.8,337.5 346.4,337.3 348.0,336.2 349.6,337.3 351.2,338.1 352.8,338.7 354.4,338.7 356.0,338.2 357.6,337.6 359.2,339.2 360.8,339.4 362.4,338.6 364.0,337.8 365.6,339.1 367.2,338.2 368.8,337.2 370.4,340.3 372.0,340.5 373.6,338.6 375.2,340.7 376.8,339.4 378.4,340.2 380.0,341.0 381.6,338.2 383.2,339.3 384.8,340.3 386.4,340.1 388.0,338.9 389.6,340.9 391.2,341.7 392.8,341.9 394.4,340.0 396.0,341.0 397.6,341.1 399.2,341.5 400.8,342.6 402.4,340.3 404.0,341.5 405.6,342.5 407.2,344.3 408.8,344.6 410.4,342.4 412.0,344.0 413.6,344.6 415.2,347.0 416.8,346.0 418.4,344.5 420.0,346.3 421.6,344.9 423.2,345.7 424.8,346.3 426.4,344.3 428.0,347.8 429.6,349.2 431.2,348.5 432.8,347.8 434.4,349.6 436.0,351.4 437.6,351.0 439.2,349.6 440.8,352.8 442.4,348.6 444.0,352.7 445.6,353.1 447.2,354.7 448.8,355.4 450.4,356.8 452.0,356.2 453.6,357.6 455.2,358.1 456.8,356.8 458.4,356.1 460.0,353.4 461.6,361.1 463.2,363.0 464.8,365.1 466.4,363.2 468.0,360.9 469.6,362.4 471.2,362.2 472.8,363.7 474.4,364.9 476.0,366.4 477.6,363.8 479.2,363.3 480.8,368.4 482.4,365.4 484.0,366.5 485.6,373.5 487.2,368.4 488.8,365.9 490.4,370.5 492.0,370.9 493.6,376.7 495.2,378.0 496.8,379.9 498.4,381.4 500.0,380.0 501.6,380.0 503.2,380.5 504.8,384.0 506.4,386.0 508.0,389.2 509.6,391.6 511.2,389.1 512.8,392.8 514.4,390.1 516.0,394.7 517.6,392.0 519.2,388.0 520.8,391.7 522.4,392.5 524.0,396.0 525.6,391.7 527.2,393.5 528.8,392.1 530.4,396.2 532.0,394.5 533.6,398.1 535.2,399.5 536.8,400.5 538.4,398.6 540.0,396.5 541.6,391.9 543.2,397.0 544.8,399.0 546.4,402.2 548.0,400.1 549.6,399.5 551.2,398.0 552.8,401.1 554.4,402.9 556.0,401.6 557.6,401.5 559.2,401.5 560.8,406.8 562.4,406.6 564.0,410.2 565.6,406.3 567.2,411.5 568.8,405.0 570.4,406.9 572.0,408.1 573.6,408.9 575.2,411.1 576.8,411.4 578.4,415.9 580.0,416.9 581.6,416.1 583.2,414.5 584.8,413.9 586.4,420.3 588.0,418.8 589.6,415.9 591.2,421.9 592.8,417.6 594.4,424.1 596.0,422.4 597.6,422.4 599.2,422.7 600.8,426.4 602.4,421.0 604.0,421.6 605.6,418.5 605.6,451.8 604.0,452.3 602.4,451.3 600.8,453.0 599.2,449.1 597.6,449.6 596.0,454.7 594.4,448.7 592.8,446.8 591.2,449.1 589.6,444.5 588.0,445.1 586.4,443.1 584.8,441.2 583.2,441.1 581.6,440.9 580.0,442.5 578.4,442.2 576.8,436.8 575.2,433.5 573.6,433.0 572.0,430.6 570.4,433.9 568.8,431.0 567.2,430.2 565.6,428.6 564.0,432.9 562.4,429.4 560.8,430.1 559.2,425.3 557.6,425.7 556.0,426.9 554.4,424.2 552.8,421.2 551.2,422.2 549.6,424.1 548.0,424.5 546.4,428.8 544.8,420.0 543.2,425.3 541.6,420.9 540.0,417.9 538.4,422.1 536.8,419.3 535.2,420.8 533.6,421.3 532.0,416.8 530.4,414.8 528.8,420.2 527.2,413.5 525.6,408.3 524.0,414.1 522.4,412.2 520.8,410.3 519.2,409.0 517.6,417.7 516.0,412.6 514.4,413.2 512.8,414.4 511.2,408.0 509.6,409.4 508.0,409.7 506.4,405.2 504.8,404.1 503.2,403.5 501.6,404.3 500.0,400.9 498.4,403.6 496.8,399.1 495.2,400.3 493.6,397.8 492.0,393.6 490.4,395.6 488.8,396.0 487.2,394.2 485.6,397.4 484.0,397.5 482.4,393.3 480.8,392.2 479.2,393.9 477.6,393.3 476.0,395.9 474.4,390.1 472.8,389.8 471.2,390.8 469.6,391.7 468.0,383.3 466.4,388.9 464.8,388.4 463.2,390.1 461.6,387.8 460.0,381.0 458.4,381.1 456.8,377.7 455.2,379.6 453.6,379.3 452.0,380.3 450.4,380.1 448.8,379.1 447.2,377.6 445.6,375.6 444.0,372.7 442.4,374.9 440.8,372.9 439.2,371.8 437.6,370.2 436.0,372.1 434.4,370.0 432.8,368.8 431.2,367.4 429.6,366.0 428.0,367.5 426.4,363.8 424.8,361.7 423.2,360.6 421.6,361.6 420.0,362.7 418.4,360.1 416.8,363.3 415.2,360.3 413.6,361.9 412.0,357.3 410.4,358.1 408.8,358.8 407.2,357.3 405.6,356.4 404.0,355.9 402.4,353.4 400.8,353.5 399.2,352.7 397.6,355.0 396.0,353.9 394.4,352.8 392.8,352.0 391.2,352.0 389.6,352.2 388.0,348.7 386.4,350.6 384.8,349.2 383.2,350.2 381.6,349.8 380.0,349.1 378.4,347.7 376.8,348.0 375.2,348.2 373.6,347.1 372.0,346.7 370.4,346.6 368.8,346.2 367.2,346.4 365.6,345.9 364.0,346.3 362.4,346.4 360.8,346.0 359.2,347.6 357.6,345.2 356.0,344.6 354.4,344.8 352.8,346.3 351.2,345.0 349.6,343.9 348.0,343.0 346.4,343.6 344.8,343.9 343.2,344.7 341.6,344.0 340.0,344.4 338.4,343.2 336.8,342.5 335.2,342.6 333.6,343.1 332.0,342.0 330.4,342.2 328.8,342.1 327.2,341.9 325.6,341.9 324.0,341.4 322.4,341.8 320.8,341.4 319.2,340.9 317.6,341.2 316.0,341.8 314.4,341.0 312.8,341.6 311.2,340.4 309.6,340.9 308.0,340.6 306.4,340.6 304.8,339.9 303.2,340.2 301.6,340.9 300.0,340.0 298.4,340.0 296.8,339.4 295.2,340.2 293.6,339.3 292.0,338.7 290.4,339.5 288.8,339.2 287.2,339.1 285.6,338.7 284.0,338.4 282.4,338.4 280.8,337.8 279.2,338.1 277.6,338.2 276.0,337.7 274.4,337.2 272.8,338.0 271.2,337.2 269.6,336.5 268.0,336.5 266.4,336.9 264.8,337.1 263.2,337.6 261.6,337.4 260.0,337.1 258.4,336.7 256.8,336.3 255.2,336.3 253.6,335.0 252.0,334.9 250.4,334.7 248.8,334.8 247.2,335.2 245.6,336.0 244.0,335.1 242.4,335.2 240.8,334.6 239.2,334.1 237.6,334.1 236.0,333.1 234.4,333.5 232.8,333.1 231.2,333.5 229.6,333.4 228.0,332.4 226.4,332.4 224.8,332.2 223.2,331.9 221.6,331.9 220.0,331.9 218.4,331.2 216.8,331.0 215.2,331.1 213.6,331.4 212.0,330.7 210.4,330.1 208.8,329.3 207.2,329.1 205.6,328.9 204.0,328.6 202.4,327.7 200.8,328.0 199.2,327.9 197.6,327.4 196.0,327.3 194.4,326.5 192.8,326.0 191.2,325.0 189.6,325.2 188.0,323.8 186.4,324.4 184.8,323.9 183.2,323.1 181.6,322.4 180.0,322.5 178.4,322.5 176.8,322.2 175.2,321.3 173.6,321.3 172.0,320.7 170.4,319.5 168.8,319.5 167.2,319.8 165.6,317.8 164.0,317.2 162.4,316.8 160.8,316.9 159.2,316.3 157.6,315.4 156.0,314.6 154.4,314.4 152.8,313.3 151.2,313.1 149.6,312.6 148.0,312.0 146.4,312.0 144.8,310.8 143.2,310.7 141.6,310.1 140.0,309.7 138.4,309.8 136.8,309.1 135.2,308.0 133.6,307.6 132.0,307.2" fill="#f35ad3" opacity="1.0"/>
<rect x="606.8" y="124.55000000000001" width="49" height="21.5" rx="10.75" fill="#fff" stroke="#3a3a3a" stroke-width="2.5"/>
<text x="631.3" y="140.9" font-family="Liberation Sans" font-size="16.5" font-weight="bold" fill="#1a1a1a" text-anchor="middle" stroke="#1a1a1a" stroke-width="0.4">15.0</text>
<rect x="606.8" y="163.95" width="49" height="21.5" rx="10.75" fill="#fff" stroke="#3a3a3a" stroke-width="2.5"/>
<text x="631.3" y="180.29999999999998" font-family="Liberation Sans" font-size="16.5" font-weight="bold" fill="#1a1a1a" text-anchor="middle" stroke="#1a1a1a" stroke-width="0.4">20.0</text>
<rect x="606.8" y="212.45" width="49" height="21.5" rx="10.75" fill="#fff" stroke="#3a3a3a" stroke-width="2.5"/>
<text x="631.3" y="228.79999999999998" font-family="Liberation Sans" font-size="16.5" font-weight="bold" fill="#1a1a1a" text-anchor="middle" stroke="#1a1a1a" stroke-width="0.4">25.0</text>
<rect x="606.8" y="255.55" width="49" height="21.5" rx="10.75" fill="#fff" stroke="#3a3a3a" stroke-width="2.5"/>
<text x="631.3" y="271.90000000000003" font-family="Liberation Sans" font-size="16.5" font-weight="bold" fill="#1a1a1a" text-anchor="middle" stroke="#1a1a1a" stroke-width="0.4">30.0</text>
<rect x="606.8" y="287.05" width="49" height="21.5" rx="10.75" fill="#000" stroke="#000" stroke-width="2.4"/>
<text x="631.3" y="303.40000000000003" font-family="Liberation Sans" font-size="16.5" font-weight="bold" fill="#fff" text-anchor="middle" stroke="#fff" stroke-width="0.3">34.2</text>
<rect x="606.8" y="319.45" width="49" height="21.5" rx="10.75" fill="#fff" stroke="#3a3a3a" stroke-width="2.5"/>
<text x="631.3" y="335.8" font-family="Liberation Sans" font-size="16.5" font-weight="bold" fill="#1a1a1a" text-anchor="middle" stroke="#1a1a1a" stroke-width="0.4">40.0</text>
<rect x="606.8" y="351.25" width="49" height="21.5" rx="10.75" fill="#fff" stroke="#3a3a3a" stroke-width="2.5"/>
<text x="631.3" y="367.6" font-family="Liberation Sans" font-size="16.5" font-weight="bold" fill="#1a1a1a" text-anchor="middle" stroke="#1a1a1a" stroke-width="0.4">50.0</text>
<rect x="606.8" y="435.85" width="49" height="21.5" rx="10.75" fill="#fff" stroke="#3a3a3a" stroke-width="2.5"/>
<text x="631.3" y="452.20000000000005" font-family="Liberation Sans" font-size="16.5" font-weight="bold" fill="#1a1a1a" text-anchor="middle" stroke="#1a1a1a" stroke-width="0.4">55.0</text>
<text transform="translate(595.86,108.26) scale(1.0335,1)" font-family="Liberation Sans" font-size="23.94" font-weight="normal" font-style="italic" fill="#1a1a1a" stroke="#1a1a1a" stroke-width="0.8">PAC</text>
<text transform="translate(645.07,109.70) scale(1.3120,1)" font-family="Liberation Sans" font-size="12.40" font-weight="normal" font-style="italic" fill="#444" stroke="#444" stroke-width="0.6">mp</text>
<rect x="139.8" y="355.9" width="163.8" height="119.4" fill="#fff" stroke="#000" stroke-width="5"/>
<line x1="194.7" y1="387" x2="194.7" y2="445.5" stroke="#000" stroke-width="3"/>
<line x1="193.2" y1="444" x2="287" y2="444" stroke="#000" stroke-width="3"/>
<line x1="212" y1="432.5" x2="270" y2="395" stroke="#000" stroke-width="3.2"/>
<polygon points="205.4,437.6 210.8,424.8 223.2,434.4" fill="#000"/>
<polygon points="276.4,390.2 260.2,392.2 268.7,406.2" fill="#000"/>
<circle cx="239.9" cy="413.9" r="7.3" fill="#000"/>
<text transform="translate(216.66,379.74) scale(1.2090,1)" font-family="Liberation Sans" font-size="15.77" font-weight="bold" font-style="normal" fill="#111" stroke="#111" stroke-width="0.5">PAC</text>
<circle cx="259.3" cy="374.3" r="2.2" fill="#222"/>
<text transform="translate(160.31,402.60) scale(1.1188,1)" font-family="Liberation Sans" font-size="15.36" font-weight="bold" font-style="normal" fill="#111" stroke="#111" stroke-width="0.9">Δ</text>
<text transform="translate(145.56,421.65) scale(1.0412,1)" font-family="Liberation Sans" font-size="15.27" font-weight="bold" font-style="normal" fill="#111" stroke="#111" stroke-width="0.5">Child</text>
<text transform="translate(159.45,440.20) scale(0.8771,1)" font-family="Liberation Sans" font-size="16.81" font-weight="bold" font-style="normal" fill="#111" stroke="#111" stroke-width="0.5">TL</text>
<text transform="translate(224.37,462.36) scale(1.1195,1)" font-family="Liberation Sans" font-size="14.37" font-weight="bold" font-style="normal" fill="#111" stroke="#111" stroke-width="0.5">PAC</text>
<text x="115.2" y="211.2" font-family="Liberation Sans" font-size="22" font-weight="normal" fill="#4a4a4a" text-anchor="end" stroke="#4a4a4a" stroke-width="0.35">15000</text>
<text x="114.5" y="306.0" font-family="Liberation Sans" font-size="23" font-weight="normal" fill="#1e1e1e" text-anchor="end" stroke="#1e1e1e" stroke-width="0.3">9500</text>
<text x="115.2" y="388.0" font-family="Liberation Sans" font-size="22" font-weight="normal" fill="#4a4a4a" text-anchor="end" stroke="#4a4a4a" stroke-width="0.35">5000</text>
<text x="115.2" y="475.6" font-family="Liberation Sans" font-size="22" font-weight="normal" fill="#4a4a4a" text-anchor="end" stroke="#4a4a4a" stroke-width="0.35">0</text>
<text x="130" y="509.6" font-family="Liberation Sans" font-size="22" font-weight="normal" fill="#4a4a4a" text-anchor="middle" stroke="#4a4a4a" stroke-width="0.35">0</text>
<text x="228.2" y="509.6" font-family="Liberation Sans" font-size="22" font-weight="normal" fill="#4a4a4a" text-anchor="middle" stroke="#4a4a4a" stroke-width="0.35">200</text>
<text x="326.3" y="509.6" font-family="Liberation Sans" font-size="22" font-weight="normal" fill="#4a4a4a" text-anchor="middle" stroke="#4a4a4a" stroke-width="0.35">400</text>
<text x="424.8" y="509.6" font-family="Liberation Sans" font-size="22" font-weight="normal" fill="#4a4a4a" text-anchor="middle" stroke="#4a4a4a" stroke-width="0.35">600</text>
<text x="522.9" y="509.6" font-family="Liberation Sans" font-size="22" font-weight="normal" fill="#4a4a4a" text-anchor="middle" stroke="#4a4a4a" stroke-width="0.35">800</text>
<text x="622.5" y="509.6" font-family="Liberation Sans" font-size="22" font-weight="normal" fill="#4a4a4a" text-anchor="middle" stroke="#4a4a4a" stroke-width="0.35">1000</text>
<text transform="translate(337.55,560.45) scale(0.9228,1)" font-family="Liberation Sans" font-size="35.43" font-weight="bold" font-style="normal" fill="#000" >Year</text>
<text transform="translate(40.0,468.6) rotate(-90) scale(1.0,1)" font-family="Liberation Sans" font-size="33.2" font-weight="bold" fill="#000">Average Birth TL (bp)</text>
<rect x="826" y="119.5" width="490.5" height="356.8" fill="#EAEAF2"/>
<line x1="924" y1="119.5" x2="924" y2="476.3" stroke="#fff" stroke-width="2.2"/>
<line x1="1022" y1="119.5" x2="1022" y2="476.3" stroke="#fff" stroke-width="2.2"/>
<line x1="1120" y1="119.5" x2="1120" y2="476.3" stroke="#fff" stroke-width="2.2"/>
<line x1="1219" y1="119.5" x2="1219" y2="476.3" stroke="#fff" stroke-width="2.2"/>
<line x1="826" y1="145" x2="1316.5" y2="145" stroke="#fff" stroke-width="2.2"/>
<line x1="826" y1="227" x2="1316.5" y2="227" stroke="#fff" stroke-width="2.2"/>
<line x1="826" y1="309" x2="1316.5" y2="309" stroke="#fff" stroke-width="2.2"/>
<line x1="826" y1="390" x2="1316.5" y2="390" stroke="#fff" stroke-width="2.2"/>
<line x1="826" y1="471" x2="1316.5" y2="471" stroke="#fff" stroke-width="2.2"/>
<polygon points="826.0,131.4 827.0,129.1 828.0,128.5 829.0,133.0 830.0,130.4 831.0,131.7 832.0,132.1 833.0,130.4 834.0,128.0 835.0,129.0 836.0,130.6 837.0,130.6 838.0,130.2 839.0,131.5 840.0,128.4 841.0,129.8 842.0,131.6 843.0,131.1 844.0,129.9 845.0,128.7 846.0,128.8 847.0,128.7 848.0,130.1 849.0,130.8 850.0,130.0 851.0,131.5 852.0,129.6 853.0,130.3 854.0,131.8 855.0,131.7 856.0,131.7 857.0,130.4 858.0,130.1 859.0,132.5 860.0,133.1 861.0,132.0 862.0,134.8 863.0,132.2 864.0,132.6 865.0,132.6 866.0,132.5 867.0,130.0 868.0,130.8 869.0,131.9 870.0,134.5 871.0,132.3 872.0,133.4 873.0,133.6 874.0,133.4 875.0,134.1 876.0,133.9 877.0,135.8 878.0,134.7 879.0,133.8 880.0,133.1 881.0,133.1 882.0,131.9 883.0,133.4 884.0,135.6 885.0,132.2 886.0,130.8 887.0,133.2 888.0,134.2 889.0,135.5 890.0,134.2 891.0,134.7 892.0,132.4 893.0,134.8 894.0,136.6 895.0,132.8 896.0,132.7 897.0,132.6 898.0,136.0 899.0,134.0 900.0,136.7 901.0,136.0 902.0,135.1 903.0,134.2 904.0,134.9 905.0,136.8 906.0,137.4 907.0,133.8 908.0,135.5 909.0,133.3 910.0,134.9 911.0,133.6 912.0,137.0 913.0,137.1 914.0,133.7 915.0,134.0 916.0,136.1 917.0,135.2 918.0,135.9 919.0,136.5 920.0,135.3 921.0,135.3 922.0,134.7 923.0,136.3 924.0,134.3 925.0,135.5 926.0,134.0 927.0,134.2 928.0,135.6 929.0,136.7 930.0,136.7 931.0,138.3 932.0,135.3 933.0,137.5 934.0,136.3 935.0,135.3 936.0,135.5 937.0,137.9 938.0,138.4 939.0,137.7 940.0,136.2 941.0,137.0 942.0,135.4 943.0,137.7 944.0,138.6 945.0,136.0 946.0,133.4 947.0,138.0 948.0,135.6 949.0,135.7 950.0,137.1 951.0,137.7 952.0,139.5 953.0,138.6 954.0,139.9 955.0,137.9 956.0,135.6 957.0,138.0 958.0,136.7 959.0,137.7 960.0,138.8 961.0,138.7 962.0,137.9 963.0,137.4 964.0,139.1 965.0,137.9 966.0,136.0 967.0,139.1 968.0,139.8 969.0,138.6 970.0,137.0 971.0,137.1 972.0,139.5 973.0,140.3 974.0,138.7 975.0,141.5 976.0,138.4 977.0,139.4 978.0,139.2 979.0,142.5 980.0,138.4 981.0,136.9 982.0,141.6 983.0,140.6 984.0,140.2 985.0,141.4 986.0,141.9 987.0,141.1 988.0,141.8 989.0,139.6 990.0,140.1 991.0,138.8 992.0,141.7 993.0,141.9 994.0,141.2 995.0,142.0 996.0,142.2 997.0,142.7 998.0,140.5 999.0,141.7 1000.0,143.0 1001.0,140.5 1002.0,143.6 1003.0,142.4 1004.0,142.1 1005.0,141.9 1006.0,141.9 1007.0,141.4 1008.0,143.5 1009.0,142.5 1010.0,142.1 1011.0,140.0 1012.0,140.2 1013.0,144.5 1014.0,142.1 1015.0,144.1 1016.0,142.5 1017.0,145.7 1018.0,146.3 1019.0,145.0 1020.0,144.4 1021.0,143.3 1022.0,141.6 1023.0,145.7 1024.0,142.4 1025.0,145.3 1026.0,141.8 1027.0,143.1 1028.0,143.2 1029.0,140.9 1030.0,144.0 1031.0,141.7 1032.0,141.7 1033.0,142.7 1034.0,143.6 1035.0,143.3 1036.0,145.9 1037.0,144.5 1038.0,143.9 1039.0,148.3 1040.0,146.9 1041.0,144.1 1042.0,144.9 1043.0,147.0 1044.0,145.8 1045.0,144.5 1046.0,142.6 1047.0,145.7 1048.0,146.5 1049.0,144.4 1050.0,145.2 1051.0,145.2 1052.0,146.8 1053.0,145.9 1054.0,144.6 1055.0,147.5 1056.0,146.2 1057.0,148.9 1058.0,145.5 1059.0,146.5 1060.0,146.8 1061.0,147.9 1062.0,145.9 1063.0,146.7 1064.0,147.6 1065.0,146.7 1066.0,147.4 1067.0,147.9 1068.0,150.2 1069.0,144.8 1070.0,147.2 1071.0,146.0 1072.0,146.3 1073.0,146.0 1074.0,148.5 1075.0,148.1 1076.0,148.3 1077.0,146.7 1078.0,148.2 1079.0,146.9 1080.0,147.6 1081.0,146.9 1082.0,147.0 1083.0,144.7 1084.0,145.0 1085.0,145.6 1086.0,146.4 1087.0,147.5 1088.0,148.5 1089.0,149.2 1090.0,148.8 1091.0,149.2 1092.0,147.8 1093.0,151.1 1094.0,148.6 1095.0,148.1 1096.0,147.8 1097.0,148.2 1098.0,148.5 1099.0,148.6 1100.0,147.0 1101.0,148.0 1102.0,148.5 1103.0,149.8 1104.0,151.8 1105.0,149.3 1106.0,150.7 1107.0,151.4 1108.0,151.4 1109.0,149.7 1110.0,150.0 1111.0,148.2 1112.0,149.8 1113.0,149.6 1114.0,148.7 1115.0,149.2 1116.0,151.7 1117.0,148.3 1118.0,149.7 1119.0,151.0 1120.0,154.2 1121.0,151.6 1122.0,149.9 1123.0,151.9 1124.0,153.1 1125.0,150.8 1126.0,151.7 1127.0,152.1 1128.0,150.7 1129.0,151.8 1130.0,152.5 1131.0,150.6 1132.0,150.8 1133.0,152.1 1134.0,152.6 1135.0,149.6 1136.0,152.1 1137.0,152.3 1138.0,153.5 1139.0,152.3 1140.0,153.3 1141.0,151.6 1142.0,152.1 1143.0,152.2 1144.0,152.4 1145.0,153.4 1146.0,152.1 1147.0,149.8 1148.0,152.6 1149.0,151.2 1150.0,150.3 1151.0,152.2 1152.0,150.6 1153.0,154.0 1154.0,153.2 1155.0,151.7 1156.0,151.2 1157.0,152.4 1158.0,151.2 1159.0,154.4 1160.0,152.8 1161.0,153.9 1162.0,151.9 1163.0,151.8 1164.0,151.9 1165.0,153.0 1166.0,153.5 1167.0,156.6 1168.0,154.3 1169.0,152.4 1170.0,151.7 1171.0,152.4 1172.0,150.7 1173.0,152.4 1174.0,153.0 1175.0,154.2 1176.0,154.2 1177.0,153.4 1178.0,153.9 1179.0,152.7 1180.0,153.4 1181.0,153.6 1182.0,152.4 1183.0,150.6 1184.0,153.6 1185.0,153.4 1186.0,152.7 1187.0,154.3 1188.0,155.6 1189.0,155.4 1190.0,153.1 1191.0,153.6 1192.0,154.5 1193.0,154.3 1194.0,152.6 1195.0,153.8 1196.0,154.7 1197.0,153.3 1198.0,156.2 1199.0,156.2 1200.0,154.7 1201.0,154.9 1202.0,154.8 1203.0,154.6 1204.0,154.8 1205.0,156.9 1206.0,153.3 1207.0,153.9 1208.0,154.8 1209.0,155.5 1210.0,154.8 1211.0,154.3 1212.0,155.3 1213.0,156.2 1214.0,154.9 1215.0,153.1 1216.0,156.3 1217.0,159.0 1218.0,155.8 1219.0,155.8 1220.0,157.7 1221.0,154.8 1222.0,155.0 1223.0,154.4 1224.0,155.6 1225.0,156.5 1226.0,156.9 1227.0,156.9 1228.0,154.4 1229.0,154.4 1230.0,155.3 1231.0,159.2 1232.0,156.6 1233.0,157.1 1234.0,157.8 1235.0,156.5 1236.0,159.1 1237.0,157.8 1238.0,157.7 1239.0,157.3 1240.0,158.6 1241.0,157.6 1242.0,156.9 1243.0,155.2 1244.0,156.4 1245.0,158.1 1246.0,158.5 1247.0,155.0 1248.0,157.5 1249.0,158.6 1250.0,157.4 1251.0,155.7 1252.0,156.9 1253.0,156.8 1254.0,155.0 1255.0,157.8 1256.0,157.3 1257.0,156.8 1258.0,157.2 1259.0,156.2 1260.0,156.9 1261.0,156.2 1262.0,156.6 1263.0,156.5 1264.0,157.2 1265.0,157.7 1266.0,158.6 1267.0,158.2 1268.0,154.8 1269.0,157.9 1270.0,154.8 1271.0,158.6 1272.0,157.9 1273.0,155.7 1274.0,157.2 1275.0,158.1 1276.0,159.0 1277.0,160.7 1278.0,160.0 1279.0,157.2 1280.0,158.3 1281.0,156.7 1282.0,158.1 1283.0,158.4 1284.0,160.3 1285.0,158.9 1286.0,158.2 1287.0,158.1 1288.0,159.0 1289.0,160.5 1290.0,160.0 1291.0,159.4 1292.0,158.4 1293.0,157.3 1294.0,158.2 1295.0,159.9 1296.0,158.7 1297.0,156.2 1298.0,158.9 1299.0,158.0 1300.0,159.0 1301.0,158.6 1302.0,157.5 1303.0,158.2 1304.0,157.9 1305.0,155.1 1306.0,155.2 1307.0,159.0 1308.0,156.1 1309.0,157.5 1310.0,158.9 1311.0,162.3 1312.0,160.8 1313.0,158.5 1314.0,160.8 1315.0,160.5 1316.0,159.4 1316.0,170.2 1315.0,170.7 1314.0,168.6 1313.0,169.3 1312.0,169.9 1311.0,171.1 1310.0,170.0 1309.0,167.8 1308.0,166.9 1307.0,167.1 1306.0,167.1 1305.0,165.3 1304.0,165.7 1303.0,167.1 1302.0,169.1 1301.0,168.5 1300.0,169.4 1299.0,166.8 1298.0,168.8 1297.0,166.7 1296.0,166.5 1295.0,168.1 1294.0,167.8 1293.0,167.8 1292.0,166.0 1291.0,170.1 1290.0,166.6 1289.0,168.7 1288.0,165.3 1287.0,167.6 1286.0,168.4 1285.0,167.9 1284.0,166.5 1283.0,168.3 1282.0,168.3 1281.0,166.8 1280.0,166.8 1279.0,164.9 1278.0,166.8 1277.0,169.4 1276.0,167.9 1275.0,165.8 1274.0,166.7 1273.0,168.1 1272.0,166.0 1271.0,167.0 1270.0,165.8 1269.0,166.5 1268.0,165.3 1267.0,165.5 1266.0,167.5 1265.0,164.5 1264.0,166.8 1263.0,166.3 1262.0,169.8 1261.0,166.2 1260.0,166.5 1259.0,163.1 1258.0,164.3 1257.0,166.0 1256.0,167.1 1255.0,165.8 1254.0,166.6 1253.0,164.7 1252.0,165.3 1251.0,168.2 1250.0,166.5 1249.0,166.0 1248.0,163.9 1247.0,163.9 1246.0,166.7 1245.0,164.6 1244.0,164.8 1243.0,164.5 1242.0,167.2 1241.0,167.4 1240.0,166.0 1239.0,168.1 1238.0,166.5 1237.0,166.1 1236.0,164.4 1235.0,168.7 1234.0,164.4 1233.0,167.0 1232.0,163.7 1231.0,165.5 1230.0,163.9 1229.0,162.7 1228.0,164.7 1227.0,165.9 1226.0,163.9 1225.0,162.6 1224.0,161.1 1223.0,164.6 1222.0,165.1 1221.0,162.6 1220.0,163.0 1219.0,164.0 1218.0,166.8 1217.0,166.3 1216.0,164.6 1215.0,164.3 1214.0,162.5 1213.0,163.4 1212.0,163.8 1211.0,163.0 1210.0,164.0 1209.0,163.5 1208.0,163.2 1207.0,162.8 1206.0,164.3 1205.0,160.9 1204.0,162.4 1203.0,164.0 1202.0,162.3 1201.0,162.5 1200.0,164.3 1199.0,163.3 1198.0,163.3 1197.0,164.0 1196.0,163.7 1195.0,162.4 1194.0,163.1 1193.0,164.4 1192.0,165.3 1191.0,162.2 1190.0,161.1 1189.0,163.7 1188.0,165.0 1187.0,162.2 1186.0,161.8 1185.0,162.5 1184.0,161.2 1183.0,158.5 1182.0,160.7 1181.0,161.2 1180.0,161.8 1179.0,163.3 1178.0,164.5 1177.0,161.1 1176.0,163.7 1175.0,163.8 1174.0,164.1 1173.0,162.6 1172.0,161.6 1171.0,160.2 1170.0,163.1 1169.0,162.8 1168.0,163.8 1167.0,160.9 1166.0,160.5 1165.0,160.9 1164.0,160.2 1163.0,159.1 1162.0,159.6 1161.0,161.1 1160.0,160.2 1159.0,159.5 1158.0,161.1 1157.0,160.9 1156.0,162.1 1155.0,158.5 1154.0,161.0 1153.0,161.6 1152.0,161.8 1151.0,163.8 1150.0,159.7 1149.0,161.0 1148.0,162.0 1147.0,159.5 1146.0,161.6 1145.0,163.5 1144.0,160.2 1143.0,160.7 1142.0,161.4 1141.0,159.2 1140.0,161.7 1139.0,159.8 1138.0,162.0 1137.0,164.1 1136.0,159.0 1135.0,159.3 1134.0,162.1 1133.0,161.3 1132.0,160.3 1131.0,159.8 1130.0,159.6 1129.0,160.9 1128.0,159.5 1127.0,160.7 1126.0,160.3 1125.0,161.9 1124.0,161.9 1123.0,162.9 1122.0,161.6 1121.0,158.3 1120.0,160.7 1119.0,159.3 1118.0,159.7 1117.0,160.0 1116.0,160.6 1115.0,156.6 1114.0,160.0 1113.0,159.3 1112.0,158.0 1111.0,157.7 1110.0,161.7 1109.0,159.9 1108.0,160.0 1107.0,157.1 1106.0,159.5 1105.0,159.6 1104.0,158.5 1103.0,157.8 1102.0,156.7 1101.0,159.9 1100.0,158.3 1099.0,157.7 1098.0,156.6 1097.0,159.0 1096.0,157.3 1095.0,155.9 1094.0,159.3 1093.0,157.5 1092.0,157.7 1091.0,158.3 1090.0,156.7 1089.0,156.6 1088.0,155.5 1087.0,157.3 1086.0,154.6 1085.0,156.9 1084.0,156.0 1083.0,155.7 1082.0,155.2 1081.0,156.9 1080.0,159.4 1079.0,154.6 1078.0,158.3 1077.0,157.4 1076.0,155.0 1075.0,155.6 1074.0,155.8 1073.0,158.0 1072.0,155.3 1071.0,157.1 1070.0,156.4 1069.0,155.6 1068.0,158.0 1067.0,157.1 1066.0,157.1 1065.0,157.5 1064.0,155.5 1063.0,157.7 1062.0,156.2 1061.0,157.4 1060.0,154.2 1059.0,157.8 1058.0,154.2 1057.0,157.2 1056.0,158.0 1055.0,153.5 1054.0,153.0 1053.0,155.0 1052.0,157.4 1051.0,156.4 1050.0,154.8 1049.0,153.0 1048.0,153.8 1047.0,153.5 1046.0,151.7 1045.0,154.6 1044.0,154.2 1043.0,154.2 1042.0,153.8 1041.0,153.7 1040.0,153.7 1039.0,155.6 1038.0,156.5 1037.0,156.2 1036.0,154.5 1035.0,155.8 1034.0,153.8 1033.0,152.4 1032.0,151.8 1031.0,151.9 1030.0,151.8 1029.0,152.7 1028.0,153.3 1027.0,150.1 1026.0,152.6 1025.0,153.0 1024.0,153.0 1023.0,150.1 1022.0,152.3 1021.0,151.2 1020.0,155.2 1019.0,153.2 1018.0,152.1 1017.0,152.5 1016.0,152.2 1015.0,152.2 1014.0,150.9 1013.0,151.4 1012.0,150.8 1011.0,150.1 1010.0,149.6 1009.0,151.7 1008.0,152.9 1007.0,148.4 1006.0,153.1 1005.0,151.3 1004.0,152.8 1003.0,149.9 1002.0,152.4 1001.0,150.5 1000.0,149.0 999.0,152.3 998.0,149.3 997.0,152.0 996.0,152.7 995.0,153.1 994.0,149.5 993.0,148.9 992.0,149.4 991.0,148.6 990.0,150.0 989.0,149.5 988.0,151.6 987.0,150.1 986.0,150.8 985.0,150.7 984.0,148.7 983.0,149.9 982.0,149.7 981.0,148.4 980.0,149.5 979.0,148.9 978.0,150.2 977.0,145.2 976.0,149.1 975.0,149.3 974.0,148.1 973.0,148.2 972.0,148.7 971.0,147.9 970.0,147.1 969.0,149.4 968.0,148.7 967.0,146.7 966.0,146.9 965.0,147.6 964.0,147.5 963.0,148.0 962.0,147.2 961.0,147.6 960.0,146.6 959.0,148.5 958.0,145.9 957.0,147.3 956.0,146.2 955.0,147.7 954.0,147.0 953.0,145.7 952.0,146.3 951.0,145.9 950.0,145.0 949.0,144.0 948.0,146.0 947.0,146.2 946.0,144.7 945.0,145.8 944.0,145.9 943.0,145.7 942.0,147.0 941.0,148.4 940.0,148.1 939.0,146.3 938.0,146.1 937.0,147.4 936.0,143.6 935.0,143.4 934.0,145.1 933.0,149.0 932.0,146.8 931.0,146.6 930.0,145.8 929.0,145.7 928.0,144.4 927.0,144.7 926.0,143.6 925.0,143.3 924.0,143.6 923.0,144.8 922.0,144.9 921.0,144.3 920.0,144.3 919.0,144.5 918.0,146.2 917.0,147.4 916.0,144.3 915.0,144.6 914.0,145.0 913.0,145.6 912.0,146.7 911.0,145.2 910.0,142.9 909.0,142.0 908.0,140.7 907.0,143.1 906.0,143.1 905.0,145.8 904.0,144.4 903.0,143.6 902.0,144.5 901.0,143.8 900.0,145.8 899.0,143.8 898.0,145.1 897.0,143.0 896.0,143.0 895.0,144.1 894.0,144.4 893.0,140.6 892.0,143.0 891.0,144.9 890.0,143.4 889.0,144.1 888.0,144.2 887.0,142.6 886.0,142.4 885.0,143.0 884.0,141.5 883.0,142.6 882.0,143.1 881.0,142.7 880.0,143.1 879.0,143.3 878.0,143.2 877.0,145.2 876.0,141.4 875.0,144.8 874.0,139.2 873.0,139.4 872.0,140.9 871.0,141.4 870.0,142.4 869.0,142.0 868.0,141.7 867.0,140.3 866.0,137.3 865.0,141.8 864.0,140.6 863.0,142.5 862.0,141.3 861.0,140.9 860.0,141.8 859.0,140.9 858.0,140.8 857.0,139.0 856.0,140.8 855.0,141.5 854.0,138.4 853.0,139.6 852.0,139.8 851.0,141.3 850.0,141.1 849.0,140.5 848.0,138.3 847.0,139.0 846.0,139.5 845.0,137.5 844.0,139.7 843.0,138.5 842.0,138.0 841.0,137.1 840.0,136.9 839.0,139.6 838.0,138.0 837.0,141.0 836.0,139.8 835.0,137.9 834.0,138.1 833.0,141.6 832.0,138.0 831.0,141.2 830.0,139.0 829.0,140.2 828.0,140.0 827.0,137.0 826.0,139.5" fill="#ffffff" opacity="0.45"/>
<polygon points="826.0,151.8 827.0,150.3 828.0,153.3 829.0,154.2 830.0,153.8 831.0,152.8 832.0,154.4 833.0,152.2 834.0,155.3 835.0,153.5 836.0,153.2 837.0,154.5 838.0,152.4 839.0,154.5 840.0,153.4 841.0,154.5 842.0,152.1 843.0,150.3 844.0,154.8 845.0,152.6 846.0,153.6 847.0,153.3 848.0,151.0 849.0,152.8 850.0,151.3 851.0,153.5 852.0,153.9 853.0,152.6 854.0,154.3 855.0,157.4 856.0,155.3 857.0,156.1 858.0,156.3 859.0,153.0 860.0,154.0 861.0,153.2 862.0,152.6 863.0,154.4 864.0,154.3 865.0,155.4 866.0,155.7 867.0,154.2 868.0,153.5 869.0,154.9 870.0,155.5 871.0,152.5 872.0,154.4 873.0,154.9 874.0,153.8 875.0,153.4 876.0,155.1 877.0,154.4 878.0,154.4 879.0,155.4 880.0,155.9 881.0,153.4 882.0,153.4 883.0,153.9 884.0,156.9 885.0,155.5 886.0,153.5 887.0,153.8 888.0,156.3 889.0,153.0 890.0,151.9 891.0,157.0 892.0,155.3 893.0,154.1 894.0,156.3 895.0,156.3 896.0,157.1 897.0,155.8 898.0,156.1 899.0,158.2 900.0,156.2 901.0,157.5 902.0,156.9 903.0,158.9 904.0,154.4 905.0,157.5 906.0,158.5 907.0,156.8 908.0,155.7 909.0,152.7 910.0,155.5 911.0,155.3 912.0,156.0 913.0,156.4 914.0,160.2 915.0,156.7 916.0,154.7 917.0,158.0 918.0,158.5 919.0,153.7 920.0,156.7 921.0,156.4 922.0,155.6 923.0,158.1 924.0,157.3 925.0,158.6 926.0,158.5 927.0,157.9 928.0,157.7 929.0,157.2 930.0,155.0 931.0,155.6 932.0,154.8 933.0,156.7 934.0,156.4 935.0,158.2 936.0,156.7 937.0,158.3 938.0,159.5 939.0,159.1 940.0,157.5 941.0,157.9 942.0,158.5 943.0,159.2 944.0,155.5 945.0,158.5 946.0,157.7 947.0,157.0 948.0,158.8 949.0,159.0 950.0,157.8 951.0,160.5 952.0,159.9 953.0,159.4 954.0,155.8 955.0,158.6 956.0,157.3 957.0,156.7 958.0,161.3 959.0,158.2 960.0,159.4 961.0,160.3 962.0,157.4 963.0,160.5 964.0,157.9 965.0,160.1 966.0,159.8 967.0,157.3 968.0,160.1 969.0,159.5 970.0,160.1 971.0,161.5 972.0,159.5 973.0,159.4 974.0,159.0 975.0,159.8 976.0,158.3 977.0,160.1 978.0,160.1 979.0,161.0 980.0,164.2 981.0,159.9 982.0,160.9 983.0,159.5 984.0,161.1 985.0,159.8 986.0,161.6 987.0,158.3 988.0,161.2 989.0,162.0 990.0,162.4 991.0,163.2 992.0,160.7 993.0,163.1 994.0,162.8 995.0,160.0 996.0,159.5 997.0,162.5 998.0,162.4 999.0,163.2 1000.0,162.0 1001.0,160.6 1002.0,160.4 1003.0,160.7 1004.0,161.2 1005.0,162.3 1006.0,163.0 1007.0,162.7 1008.0,161.9 1009.0,162.4 1010.0,162.8 1011.0,164.2 1012.0,160.7 1013.0,163.7 1014.0,161.1 1015.0,161.9 1016.0,160.1 1017.0,162.7 1018.0,162.6 1019.0,160.9 1020.0,162.3 1021.0,162.0 1022.0,160.3 1023.0,162.4 1024.0,161.7 1025.0,161.7 1026.0,163.2 1027.0,162.1 1028.0,161.7 1029.0,162.8 1030.0,162.2 1031.0,161.5 1032.0,163.9 1033.0,162.0 1034.0,163.3 1035.0,162.5 1036.0,162.3 1037.0,163.5 1038.0,163.0 1039.0,164.2 1040.0,162.3 1041.0,164.2 1042.0,161.8 1043.0,163.1 1044.0,163.6 1045.0,162.1 1046.0,165.5 1047.0,164.1 1048.0,160.6 1049.0,162.4 1050.0,167.4 1051.0,164.1 1052.0,164.3 1053.0,167.4 1054.0,164.2 1055.0,162.4 1056.0,165.4 1057.0,162.4 1058.0,163.0 1059.0,165.3 1060.0,165.0 1061.0,166.0 1062.0,163.4 1063.0,162.1 1064.0,164.2 1065.0,162.9 1066.0,161.7 1067.0,165.6 1068.0,162.6 1069.0,163.5 1070.0,164.1 1071.0,164.2 1072.0,166.4 1073.0,164.3 1074.0,165.0 1075.0,164.5 1076.0,165.7 1077.0,163.3 1078.0,167.2 1079.0,165.5 1080.0,163.7 1081.0,167.6 1082.0,165.0 1083.0,165.6 1084.0,164.9 1085.0,163.5 1086.0,165.5 1087.0,167.8 1088.0,165.9 1089.0,165.1 1090.0,168.5 1091.0,165.2 1092.0,165.7 1093.0,164.5 1094.0,167.4 1095.0,165.5 1096.0,165.8 1097.0,167.3 1098.0,165.7 1099.0,169.0 1100.0,168.0 1101.0,168.0 1102.0,166.7 1103.0,165.6 1104.0,168.0 1105.0,167.1 1106.0,169.5 1107.0,167.5 1108.0,169.3 1109.0,169.9 1110.0,169.0 1111.0,166.9 1112.0,167.2 1113.0,167.6 1114.0,170.0 1115.0,169.3 1116.0,169.2 1117.0,167.7 1118.0,167.6 1119.0,168.4 1120.0,166.9 1121.0,170.2 1122.0,170.9 1123.0,170.8 1124.0,167.1 1125.0,170.5 1126.0,169.0 1127.0,166.0 1128.0,166.1 1129.0,173.4 1130.0,170.7 1131.0,167.8 1132.0,168.9 1133.0,170.9 1134.0,168.0 1135.0,168.7 1136.0,168.8 1137.0,167.7 1138.0,170.8 1139.0,169.2 1140.0,168.8 1141.0,170.0 1142.0,171.1 1143.0,169.6 1144.0,169.0 1145.0,167.2 1146.0,170.5 1147.0,165.0 1148.0,169.8 1149.0,169.5 1150.0,171.5 1151.0,171.3 1152.0,170.8 1153.0,172.1 1154.0,170.2 1155.0,173.1 1156.0,169.8 1157.0,172.9 1158.0,172.6 1159.0,169.4 1160.0,170.9 1161.0,171.4 1162.0,171.8 1163.0,168.7 1164.0,171.2 1165.0,171.1 1166.0,171.4 1167.0,169.5 1168.0,170.0 1169.0,170.0 1170.0,169.2 1171.0,170.7 1172.0,168.7 1173.0,172.6 1174.0,172.0 1175.0,173.1 1176.0,173.3 1177.0,169.6 1178.0,171.3 1179.0,171.4 1180.0,170.0 1181.0,170.6 1182.0,170.8 1183.0,171.9 1184.0,170.4 1185.0,171.1 1186.0,171.5 1187.0,171.6 1188.0,173.3 1189.0,171.7 1190.0,173.4 1191.0,170.0 1192.0,173.0 1193.0,173.6 1194.0,171.3 1195.0,170.8 1196.0,172.0 1197.0,171.7 1198.0,170.9 1199.0,172.2 1200.0,171.9 1201.0,172.6 1202.0,172.6 1203.0,176.4 1204.0,172.4 1205.0,171.4 1206.0,172.8 1207.0,170.6 1208.0,173.3 1209.0,172.4 1210.0,173.1 1211.0,175.9 1212.0,173.3 1213.0,174.7 1214.0,173.2 1215.0,174.9 1216.0,172.5 1217.0,173.6 1218.0,177.5 1219.0,174.0 1220.0,174.4 1221.0,172.4 1222.0,174.7 1223.0,174.4 1224.0,173.9 1225.0,175.2 1226.0,173.1 1227.0,173.7 1228.0,174.5 1229.0,172.1 1230.0,173.5 1231.0,175.4 1232.0,174.5 1233.0,174.6 1234.0,175.4 1235.0,175.4 1236.0,176.1 1237.0,173.9 1238.0,171.9 1239.0,173.6 1240.0,172.4 1241.0,172.7 1242.0,175.4 1243.0,175.7 1244.0,175.8 1245.0,173.1 1246.0,175.2 1247.0,177.1 1248.0,173.7 1249.0,175.5 1250.0,174.5 1251.0,172.8 1252.0,175.9 1253.0,176.7 1254.0,175.4 1255.0,174.7 1256.0,176.1 1257.0,176.5 1258.0,175.6 1259.0,177.0 1260.0,175.5 1261.0,176.1 1262.0,174.6 1263.0,179.3 1264.0,175.4 1265.0,178.7 1266.0,176.8 1267.0,176.0 1268.0,174.5 1269.0,176.6 1270.0,177.6 1271.0,174.7 1272.0,177.3 1273.0,176.2 1274.0,178.0 1275.0,175.5 1276.0,177.9 1277.0,175.0 1278.0,175.3 1279.0,176.2 1280.0,178.8 1281.0,177.3 1282.0,174.8 1283.0,177.0 1284.0,176.7 1285.0,177.4 1286.0,179.2 1287.0,178.0 1288.0,177.8 1289.0,174.5 1290.0,178.0 1291.0,176.0 1292.0,175.1 1293.0,177.1 1294.0,177.9 1295.0,178.8 1296.0,175.9 1297.0,178.4 1298.0,177.1 1299.0,175.7 1300.0,179.6 1301.0,177.8 1302.0,176.5 1303.0,177.4 1304.0,178.4 1305.0,178.2 1306.0,177.8 1307.0,175.2 1308.0,178.5 1309.0,180.3 1310.0,175.4 1311.0,177.6 1312.0,177.7 1313.0,179.5 1314.0,177.4 1315.0,177.7 1316.0,180.8 1316.0,188.8 1315.0,188.3 1314.0,190.3 1313.0,188.5 1312.0,189.6 1311.0,186.6 1310.0,184.6 1309.0,186.3 1308.0,188.2 1307.0,186.0 1306.0,187.5 1305.0,187.4 1304.0,186.7 1303.0,185.1 1302.0,185.2 1301.0,184.5 1300.0,186.8 1299.0,187.3 1298.0,189.4 1297.0,187.9 1296.0,187.8 1295.0,187.5 1294.0,186.8 1293.0,186.4 1292.0,185.2 1291.0,186.2 1290.0,184.9 1289.0,186.4 1288.0,188.1 1287.0,187.8 1286.0,188.6 1285.0,184.8 1284.0,186.8 1283.0,187.1 1282.0,186.0 1281.0,189.8 1280.0,186.3 1279.0,186.1 1278.0,185.4 1277.0,183.6 1276.0,185.9 1275.0,185.2 1274.0,187.3 1273.0,185.8 1272.0,182.5 1271.0,186.2 1270.0,184.7 1269.0,185.5 1268.0,186.0 1267.0,184.0 1266.0,185.0 1265.0,187.8 1264.0,184.5 1263.0,184.6 1262.0,184.0 1261.0,186.5 1260.0,184.3 1259.0,186.2 1258.0,184.4 1257.0,186.4 1256.0,185.0 1255.0,188.0 1254.0,184.0 1253.0,186.0 1252.0,184.4 1251.0,184.5 1250.0,184.4 1249.0,184.0 1248.0,184.6 1247.0,182.8 1246.0,186.7 1245.0,184.0 1244.0,185.1 1243.0,185.8 1242.0,184.5 1241.0,182.3 1240.0,183.7 1239.0,182.8 1238.0,184.0 1237.0,182.9 1236.0,181.4 1235.0,184.9 1234.0,182.0 1233.0,185.4 1232.0,181.9 1231.0,182.2 1230.0,182.7 1229.0,185.8 1228.0,184.9 1227.0,183.5 1226.0,181.9 1225.0,181.2 1224.0,186.0 1223.0,184.6 1222.0,183.7 1221.0,184.4 1220.0,181.9 1219.0,179.6 1218.0,183.5 1217.0,183.9 1216.0,180.2 1215.0,180.1 1214.0,182.3 1213.0,183.1 1212.0,182.8 1211.0,184.3 1210.0,183.0 1209.0,181.8 1208.0,182.1 1207.0,180.3 1206.0,180.5 1205.0,180.2 1204.0,182.6 1203.0,184.6 1202.0,180.7 1201.0,180.7 1200.0,184.4 1199.0,183.3 1198.0,182.1 1197.0,180.2 1196.0,180.6 1195.0,181.7 1194.0,177.9 1193.0,183.0 1192.0,180.4 1191.0,181.4 1190.0,180.3 1189.0,181.2 1188.0,183.2 1187.0,181.6 1186.0,178.8 1185.0,179.1 1184.0,180.9 1183.0,179.0 1182.0,179.1 1181.0,179.5 1180.0,179.8 1179.0,180.9 1178.0,180.5 1177.0,179.4 1176.0,181.2 1175.0,181.6 1174.0,181.9 1173.0,178.0 1172.0,179.0 1171.0,177.8 1170.0,180.6 1169.0,180.4 1168.0,177.5 1167.0,180.7 1166.0,178.2 1165.0,179.7 1164.0,180.2 1163.0,178.7 1162.0,179.4 1161.0,179.5 1160.0,179.9 1159.0,178.1 1158.0,180.9 1157.0,178.8 1156.0,179.8 1155.0,179.5 1154.0,179.9 1153.0,181.9 1152.0,179.7 1151.0,179.8 1150.0,179.6 1149.0,180.6 1148.0,180.3 1147.0,179.0 1146.0,179.8 1145.0,177.3 1144.0,178.9 1143.0,180.6 1142.0,176.7 1141.0,180.7 1140.0,178.5 1139.0,177.7 1138.0,178.2 1137.0,179.4 1136.0,174.7 1135.0,177.0 1134.0,177.6 1133.0,178.9 1132.0,179.9 1131.0,178.4 1130.0,178.0 1129.0,177.3 1128.0,176.8 1127.0,174.4 1126.0,177.6 1125.0,176.6 1124.0,178.4 1123.0,179.5 1122.0,176.7 1121.0,178.5 1120.0,178.2 1119.0,174.8 1118.0,178.9 1117.0,175.9 1116.0,178.3 1115.0,177.2 1114.0,177.3 1113.0,176.1 1112.0,176.9 1111.0,176.0 1110.0,174.0 1109.0,178.1 1108.0,179.2 1107.0,175.5 1106.0,177.8 1105.0,177.0 1104.0,177.2 1103.0,174.4 1102.0,176.3 1101.0,173.8 1100.0,176.3 1099.0,176.0 1098.0,175.9 1097.0,175.5 1096.0,178.9 1095.0,177.5 1094.0,175.7 1093.0,174.1 1092.0,172.2 1091.0,175.3 1090.0,173.6 1089.0,177.5 1088.0,175.7 1087.0,176.4 1086.0,175.5 1085.0,176.0 1084.0,176.0 1083.0,174.1 1082.0,174.9 1081.0,174.1 1080.0,171.4 1079.0,174.1 1078.0,175.5 1077.0,172.1 1076.0,174.7 1075.0,174.6 1074.0,174.7 1073.0,172.2 1072.0,174.1 1071.0,174.3 1070.0,173.6 1069.0,174.6 1068.0,172.3 1067.0,176.2 1066.0,173.8 1065.0,172.0 1064.0,174.0 1063.0,173.0 1062.0,173.0 1061.0,171.9 1060.0,174.0 1059.0,172.2 1058.0,173.0 1057.0,176.6 1056.0,171.1 1055.0,173.5 1054.0,176.4 1053.0,177.8 1052.0,172.8 1051.0,175.2 1050.0,173.7 1049.0,173.4 1048.0,173.8 1047.0,174.1 1046.0,173.2 1045.0,172.3 1044.0,172.3 1043.0,168.7 1042.0,172.7 1041.0,172.3 1040.0,172.9 1039.0,171.6 1038.0,174.1 1037.0,171.4 1036.0,175.1 1035.0,172.0 1034.0,172.7 1033.0,169.6 1032.0,171.0 1031.0,171.7 1030.0,170.5 1029.0,170.8 1028.0,172.3 1027.0,173.7 1026.0,173.5 1025.0,172.8 1024.0,172.4 1023.0,173.9 1022.0,172.0 1021.0,170.5 1020.0,169.8 1019.0,168.6 1018.0,173.6 1017.0,168.8 1016.0,172.9 1015.0,171.4 1014.0,171.9 1013.0,172.4 1012.0,169.3 1011.0,173.1 1010.0,171.1 1009.0,170.0 1008.0,174.1 1007.0,171.5 1006.0,169.8 1005.0,168.8 1004.0,167.7 1003.0,168.1 1002.0,171.7 1001.0,171.1 1000.0,171.3 999.0,168.9 998.0,170.2 997.0,171.2 996.0,171.4 995.0,168.3 994.0,169.5 993.0,168.7 992.0,169.9 991.0,168.2 990.0,169.8 989.0,170.8 988.0,171.2 987.0,168.7 986.0,168.7 985.0,171.4 984.0,171.4 983.0,170.4 982.0,169.4 981.0,169.4 980.0,170.7 979.0,171.0 978.0,167.6 977.0,168.1 976.0,166.9 975.0,170.1 974.0,168.8 973.0,167.5 972.0,169.0 971.0,172.5 970.0,168.7 969.0,166.9 968.0,168.4 967.0,168.6 966.0,169.8 965.0,170.8 964.0,168.8 963.0,170.0 962.0,168.9 961.0,165.9 960.0,167.9 959.0,166.3 958.0,169.3 957.0,165.8 956.0,168.5 955.0,167.9 954.0,167.2 953.0,168.2 952.0,168.3 951.0,166.0 950.0,168.0 949.0,168.7 948.0,169.9 947.0,168.1 946.0,168.7 945.0,170.2 944.0,167.2 943.0,167.2 942.0,168.0 941.0,168.7 940.0,167.4 939.0,168.5 938.0,167.1 937.0,166.5 936.0,167.1 935.0,165.5 934.0,163.6 933.0,164.5 932.0,166.3 931.0,164.1 930.0,164.1 929.0,163.6 928.0,166.8 927.0,163.9 926.0,167.7 925.0,167.1 924.0,165.2 923.0,167.3 922.0,164.4 921.0,165.3 920.0,166.0 919.0,165.6 918.0,166.4 917.0,165.4 916.0,165.2 915.0,166.7 914.0,168.0 913.0,165.4 912.0,165.6 911.0,163.9 910.0,164.6 909.0,161.9 908.0,166.5 907.0,165.2 906.0,168.1 905.0,167.7 904.0,166.2 903.0,164.6 902.0,165.9 901.0,164.6 900.0,166.7 899.0,164.5 898.0,165.5 897.0,166.6 896.0,165.7 895.0,165.3 894.0,166.6 893.0,163.3 892.0,164.5 891.0,163.8 890.0,161.1 889.0,162.8 888.0,163.4 887.0,163.2 886.0,162.8 885.0,164.9 884.0,164.5 883.0,163.8 882.0,162.7 881.0,161.0 880.0,162.0 879.0,163.4 878.0,163.8 877.0,164.6 876.0,165.5 875.0,160.9 874.0,162.9 873.0,162.7 872.0,166.7 871.0,163.3 870.0,162.7 869.0,164.0 868.0,162.8 867.0,162.6 866.0,163.1 865.0,164.1 864.0,164.8 863.0,165.6 862.0,160.7 861.0,164.2 860.0,162.9 859.0,161.9 858.0,164.5 857.0,163.7 856.0,166.0 855.0,165.5 854.0,162.6 853.0,162.8 852.0,163.3 851.0,161.6 850.0,163.2 849.0,161.9 848.0,162.8 847.0,161.5 846.0,164.6 845.0,161.2 844.0,160.9 843.0,161.8 842.0,161.5 841.0,163.9 840.0,162.4 839.0,162.1 838.0,163.5 837.0,162.3 836.0,159.9 835.0,160.8 834.0,162.1 833.0,162.5 832.0,161.2 831.0,163.7 830.0,164.2 829.0,165.6 828.0,161.0 827.0,161.4 826.0,163.8" fill="#ffffff" opacity="0.75"/>
<polygon points="826.0,173.8 827.0,172.2 828.0,171.0 829.0,171.3 830.0,171.7 831.0,174.5 832.0,170.9 833.0,172.9 834.0,174.4 835.0,172.2 836.0,173.5 837.0,171.1 838.0,172.4 839.0,172.7 840.0,172.1 841.0,172.4 842.0,171.4 843.0,173.4 844.0,173.1 845.0,170.6 846.0,172.9 847.0,174.7 848.0,175.8 849.0,173.6 850.0,173.6 851.0,174.2 852.0,175.2 853.0,173.6 854.0,174.6 855.0,174.0 856.0,174.7 857.0,175.2 858.0,172.6 859.0,174.0 860.0,174.9 861.0,175.3 862.0,173.8 863.0,174.6 864.0,171.2 865.0,171.7 866.0,172.8 867.0,173.3 868.0,177.0 869.0,173.7 870.0,173.7 871.0,176.5 872.0,175.6 873.0,174.6 874.0,174.8 875.0,175.1 876.0,175.0 877.0,173.8 878.0,177.3 879.0,175.7 880.0,176.3 881.0,175.4 882.0,176.0 883.0,177.2 884.0,177.2 885.0,176.8 886.0,175.3 887.0,175.2 888.0,175.1 889.0,176.1 890.0,175.0 891.0,170.0 892.0,175.5 893.0,173.7 894.0,176.1 895.0,174.2 896.0,173.3 897.0,175.5 898.0,175.7 899.0,175.5 900.0,172.6 901.0,176.3 902.0,173.6 903.0,178.3 904.0,175.5 905.0,174.4 906.0,176.2 907.0,174.9 908.0,177.4 909.0,175.5 910.0,178.8 911.0,176.0 912.0,176.8 913.0,178.6 914.0,175.4 915.0,178.5 916.0,176.9 917.0,177.0 918.0,177.0 919.0,179.2 920.0,176.7 921.0,177.3 922.0,179.4 923.0,176.9 924.0,177.9 925.0,176.6 926.0,179.7 927.0,175.5 928.0,177.9 929.0,177.4 930.0,177.6 931.0,177.9 932.0,175.1 933.0,178.6 934.0,179.3 935.0,177.6 936.0,176.7 937.0,177.6 938.0,177.8 939.0,178.0 940.0,176.7 941.0,178.7 942.0,176.9 943.0,178.2 944.0,178.9 945.0,178.6 946.0,178.2 947.0,177.0 948.0,180.0 949.0,177.7 950.0,176.3 951.0,180.6 952.0,178.8 953.0,181.2 954.0,179.4 955.0,179.2 956.0,176.8 957.0,177.2 958.0,177.4 959.0,180.7 960.0,179.8 961.0,182.2 962.0,180.9 963.0,179.2 964.0,181.9 965.0,180.3 966.0,178.1 967.0,182.3 968.0,179.9 969.0,181.2 970.0,183.9 971.0,181.1 972.0,180.3 973.0,179.7 974.0,178.9 975.0,179.4 976.0,179.7 977.0,180.0 978.0,181.9 979.0,180.6 980.0,182.0 981.0,183.1 982.0,180.3 983.0,181.8 984.0,179.4 985.0,180.2 986.0,183.1 987.0,183.3 988.0,180.7 989.0,183.0 990.0,179.7 991.0,182.0 992.0,183.1 993.0,179.6 994.0,180.0 995.0,183.7 996.0,183.5 997.0,180.5 998.0,183.9 999.0,180.8 1000.0,181.5 1001.0,182.4 1002.0,183.4 1003.0,184.0 1004.0,184.7 1005.0,183.5 1006.0,184.1 1007.0,181.3 1008.0,181.0 1009.0,181.5 1010.0,181.5 1011.0,179.2 1012.0,182.5 1013.0,182.7 1014.0,184.4 1015.0,184.5 1016.0,179.6 1017.0,182.2 1018.0,181.7 1019.0,184.0 1020.0,183.1 1021.0,181.9 1022.0,183.6 1023.0,182.0 1024.0,183.2 1025.0,183.6 1026.0,184.7 1027.0,184.9 1028.0,183.6 1029.0,184.6 1030.0,186.4 1031.0,185.2 1032.0,183.5 1033.0,185.9 1034.0,184.5 1035.0,183.2 1036.0,185.5 1037.0,185.4 1038.0,184.7 1039.0,183.1 1040.0,182.8 1041.0,183.4 1042.0,182.7 1043.0,182.4 1044.0,185.3 1045.0,184.6 1046.0,185.9 1047.0,183.9 1048.0,187.7 1049.0,185.0 1050.0,184.6 1051.0,185.0 1052.0,185.8 1053.0,185.5 1054.0,183.9 1055.0,185.1 1056.0,184.1 1057.0,184.3 1058.0,182.2 1059.0,185.6 1060.0,185.3 1061.0,186.6 1062.0,185.7 1063.0,186.2 1064.0,184.3 1065.0,186.3 1066.0,186.0 1067.0,187.1 1068.0,185.8 1069.0,185.5 1070.0,186.2 1071.0,185.7 1072.0,186.2 1073.0,184.8 1074.0,184.2 1075.0,188.5 1076.0,185.8 1077.0,187.4 1078.0,187.5 1079.0,189.2 1080.0,187.4 1081.0,186.8 1082.0,187.5 1083.0,188.5 1084.0,184.4 1085.0,188.2 1086.0,187.9 1087.0,186.9 1088.0,184.6 1089.0,185.1 1090.0,184.8 1091.0,186.7 1092.0,186.8 1093.0,188.1 1094.0,185.0 1095.0,188.0 1096.0,184.8 1097.0,189.8 1098.0,187.4 1099.0,187.9 1100.0,190.6 1101.0,189.0 1102.0,187.8 1103.0,189.1 1104.0,190.6 1105.0,187.8 1106.0,189.2 1107.0,188.5 1108.0,190.4 1109.0,188.5 1110.0,188.0 1111.0,188.3 1112.0,188.2 1113.0,189.1 1114.0,188.5 1115.0,188.6 1116.0,189.9 1117.0,188.3 1118.0,188.7 1119.0,187.3 1120.0,188.2 1121.0,188.5 1122.0,189.4 1123.0,190.6 1124.0,192.0 1125.0,189.8 1126.0,189.2 1127.0,191.8 1128.0,190.9 1129.0,190.5 1130.0,191.3 1131.0,190.7 1132.0,189.0 1133.0,190.0 1134.0,189.6 1135.0,190.2 1136.0,189.8 1137.0,192.5 1138.0,189.7 1139.0,190.5 1140.0,190.1 1141.0,191.3 1142.0,190.8 1143.0,190.5 1144.0,189.8 1145.0,188.9 1146.0,190.9 1147.0,190.2 1148.0,193.1 1149.0,193.0 1150.0,192.7 1151.0,189.4 1152.0,189.4 1153.0,188.7 1154.0,189.2 1155.0,190.2 1156.0,192.9 1157.0,192.3 1158.0,190.4 1159.0,193.0 1160.0,193.1 1161.0,190.0 1162.0,192.7 1163.0,191.4 1164.0,193.3 1165.0,191.7 1166.0,189.9 1167.0,188.7 1168.0,190.7 1169.0,191.1 1170.0,191.3 1171.0,190.4 1172.0,190.4 1173.0,194.1 1174.0,190.9 1175.0,193.6 1176.0,191.5 1177.0,192.5 1178.0,190.1 1179.0,191.3 1180.0,191.2 1181.0,192.0 1182.0,192.2 1183.0,190.9 1184.0,190.7 1185.0,192.5 1186.0,192.2 1187.0,195.8 1188.0,194.1 1189.0,193.1 1190.0,192.8 1191.0,194.1 1192.0,195.0 1193.0,193.5 1194.0,193.6 1195.0,194.6 1196.0,195.3 1197.0,193.9 1198.0,192.6 1199.0,193.0 1200.0,191.0 1201.0,194.0 1202.0,190.3 1203.0,194.2 1204.0,193.5 1205.0,192.6 1206.0,193.6 1207.0,194.0 1208.0,191.8 1209.0,192.3 1210.0,190.4 1211.0,192.7 1212.0,193.2 1213.0,191.1 1214.0,193.2 1215.0,192.3 1216.0,192.9 1217.0,192.5 1218.0,193.9 1219.0,195.6 1220.0,196.4 1221.0,193.1 1222.0,193.3 1223.0,196.0 1224.0,196.3 1225.0,195.9 1226.0,194.1 1227.0,195.4 1228.0,196.6 1229.0,193.3 1230.0,195.0 1231.0,196.3 1232.0,194.6 1233.0,194.4 1234.0,194.4 1235.0,196.9 1236.0,196.3 1237.0,197.0 1238.0,194.1 1239.0,193.5 1240.0,194.4 1241.0,193.1 1242.0,192.8 1243.0,195.2 1244.0,195.2 1245.0,193.8 1246.0,196.3 1247.0,193.3 1248.0,192.5 1249.0,194.5 1250.0,194.4 1251.0,193.5 1252.0,198.5 1253.0,194.0 1254.0,195.6 1255.0,194.6 1256.0,195.2 1257.0,194.7 1258.0,193.5 1259.0,195.5 1260.0,197.8 1261.0,196.3 1262.0,197.2 1263.0,195.7 1264.0,197.2 1265.0,198.7 1266.0,194.9 1267.0,193.0 1268.0,196.0 1269.0,195.3 1270.0,197.0 1271.0,196.8 1272.0,196.4 1273.0,197.0 1274.0,196.1 1275.0,198.2 1276.0,194.9 1277.0,197.7 1278.0,198.8 1279.0,197.6 1280.0,198.9 1281.0,200.5 1282.0,197.7 1283.0,197.4 1284.0,196.7 1285.0,196.6 1286.0,197.2 1287.0,197.4 1288.0,196.5 1289.0,198.2 1290.0,198.5 1291.0,195.7 1292.0,196.4 1293.0,196.0 1294.0,197.8 1295.0,195.1 1296.0,197.0 1297.0,199.1 1298.0,200.3 1299.0,195.6 1300.0,196.3 1301.0,199.9 1302.0,198.4 1303.0,198.4 1304.0,196.3 1305.0,198.6 1306.0,197.3 1307.0,196.6 1308.0,195.9 1309.0,197.0 1310.0,199.3 1311.0,200.3 1312.0,199.6 1313.0,196.5 1314.0,198.3 1315.0,198.6 1316.0,197.9 1316.0,206.7 1315.0,206.9 1314.0,207.5 1313.0,207.4 1312.0,208.6 1311.0,206.5 1310.0,206.5 1309.0,205.7 1308.0,208.4 1307.0,206.8 1306.0,208.9 1305.0,205.5 1304.0,207.9 1303.0,206.5 1302.0,206.0 1301.0,208.5 1300.0,205.7 1299.0,205.1 1298.0,206.7 1297.0,205.3 1296.0,206.0 1295.0,206.5 1294.0,202.5 1293.0,204.8 1292.0,207.0 1291.0,204.5 1290.0,205.3 1289.0,205.7 1288.0,205.1 1287.0,205.2 1286.0,204.7 1285.0,205.7 1284.0,205.8 1283.0,205.9 1282.0,204.8 1281.0,204.9 1280.0,206.3 1279.0,205.1 1278.0,205.9 1277.0,206.3 1276.0,206.0 1275.0,206.2 1274.0,206.6 1273.0,205.7 1272.0,207.1 1271.0,206.0 1270.0,203.3 1269.0,207.2 1268.0,207.2 1267.0,204.6 1266.0,205.6 1265.0,206.2 1264.0,204.3 1263.0,206.2 1262.0,203.6 1261.0,204.1 1260.0,203.7 1259.0,205.4 1258.0,204.4 1257.0,202.3 1256.0,203.9 1255.0,205.9 1254.0,204.4 1253.0,203.8 1252.0,203.2 1251.0,203.8 1250.0,202.5 1249.0,203.7 1248.0,204.8 1247.0,204.7 1246.0,204.3 1245.0,204.1 1244.0,203.7 1243.0,202.8 1242.0,202.6 1241.0,201.6 1240.0,204.6 1239.0,207.4 1238.0,203.4 1237.0,204.7 1236.0,201.0 1235.0,201.8 1234.0,207.1 1233.0,203.7 1232.0,203.6 1231.0,203.7 1230.0,204.0 1229.0,201.9 1228.0,204.1 1227.0,200.6 1226.0,203.2 1225.0,203.0 1224.0,205.0 1223.0,203.7 1222.0,204.3 1221.0,204.4 1220.0,204.3 1219.0,205.2 1218.0,202.1 1217.0,203.6 1216.0,203.9 1215.0,200.5 1214.0,203.0 1213.0,200.8 1212.0,201.1 1211.0,199.9 1210.0,201.0 1209.0,202.3 1208.0,202.9 1207.0,201.5 1206.0,201.7 1205.0,203.4 1204.0,202.0 1203.0,199.5 1202.0,206.0 1201.0,202.5 1200.0,201.8 1199.0,201.4 1198.0,204.0 1197.0,202.8 1196.0,204.9 1195.0,203.9 1194.0,201.2 1193.0,202.0 1192.0,205.6 1191.0,203.9 1190.0,203.9 1189.0,200.8 1188.0,203.8 1187.0,203.0 1186.0,203.6 1185.0,200.6 1184.0,199.9 1183.0,200.7 1182.0,201.6 1181.0,199.6 1180.0,202.4 1179.0,201.1 1178.0,203.1 1177.0,200.5 1176.0,200.6 1175.0,198.3 1174.0,199.9 1173.0,201.4 1172.0,198.0 1171.0,199.2 1170.0,202.2 1169.0,200.3 1168.0,201.6 1167.0,199.6 1166.0,200.3 1165.0,200.7 1164.0,199.6 1163.0,201.2 1162.0,199.9 1161.0,199.2 1160.0,200.2 1159.0,200.1 1158.0,203.8 1157.0,201.8 1156.0,202.9 1155.0,200.8 1154.0,200.6 1153.0,199.2 1152.0,199.8 1151.0,199.0 1150.0,201.2 1149.0,201.1 1148.0,203.3 1147.0,200.9 1146.0,202.2 1145.0,199.3 1144.0,201.3 1143.0,200.2 1142.0,201.1 1141.0,200.4 1140.0,200.2 1139.0,201.6 1138.0,201.0 1137.0,199.9 1136.0,202.7 1135.0,198.6 1134.0,199.7 1133.0,199.4 1132.0,199.3 1131.0,198.2 1130.0,198.5 1129.0,199.1 1128.0,200.2 1127.0,198.5 1126.0,200.1 1125.0,198.1 1124.0,199.8 1123.0,196.0 1122.0,195.1 1121.0,197.9 1120.0,196.2 1119.0,196.6 1118.0,195.7 1117.0,197.1 1116.0,199.4 1115.0,196.7 1114.0,196.5 1113.0,200.3 1112.0,198.6 1111.0,194.4 1110.0,196.3 1109.0,195.5 1108.0,200.1 1107.0,197.9 1106.0,198.0 1105.0,196.2 1104.0,197.6 1103.0,196.7 1102.0,197.9 1101.0,197.0 1100.0,197.9 1099.0,197.0 1098.0,194.4 1097.0,197.7 1096.0,196.1 1095.0,195.1 1094.0,193.5 1093.0,196.7 1092.0,197.6 1091.0,195.7 1090.0,194.7 1089.0,196.1 1088.0,193.2 1087.0,198.1 1086.0,197.3 1085.0,195.8 1084.0,195.6 1083.0,195.0 1082.0,196.3 1081.0,197.2 1080.0,195.8 1079.0,196.2 1078.0,197.3 1077.0,194.8 1076.0,195.4 1075.0,196.4 1074.0,196.6 1073.0,196.4 1072.0,196.9 1071.0,197.0 1070.0,193.7 1069.0,194.0 1068.0,195.1 1067.0,193.4 1066.0,193.2 1065.0,195.4 1064.0,193.8 1063.0,195.5 1062.0,195.7 1061.0,195.0 1060.0,193.3 1059.0,190.7 1058.0,196.3 1057.0,192.2 1056.0,193.6 1055.0,194.5 1054.0,194.9 1053.0,193.5 1052.0,191.0 1051.0,193.3 1050.0,192.6 1049.0,193.8 1048.0,192.5 1047.0,194.1 1046.0,194.1 1045.0,193.8 1044.0,194.7 1043.0,191.7 1042.0,193.2 1041.0,193.2 1040.0,195.0 1039.0,195.2 1038.0,195.7 1037.0,195.3 1036.0,196.1 1035.0,194.6 1034.0,192.1 1033.0,193.0 1032.0,191.4 1031.0,194.4 1030.0,193.6 1029.0,191.8 1028.0,194.5 1027.0,193.0 1026.0,193.5 1025.0,193.4 1024.0,192.6 1023.0,194.1 1022.0,191.5 1021.0,191.1 1020.0,195.0 1019.0,189.8 1018.0,191.1 1017.0,190.1 1016.0,191.2 1015.0,192.1 1014.0,190.5 1013.0,193.3 1012.0,189.6 1011.0,195.1 1010.0,191.7 1009.0,190.3 1008.0,192.4 1007.0,191.9 1006.0,188.1 1005.0,193.9 1004.0,193.8 1003.0,192.0 1002.0,191.4 1001.0,189.7 1000.0,191.2 999.0,191.6 998.0,191.4 997.0,189.8 996.0,192.9 995.0,189.6 994.0,189.2 993.0,189.5 992.0,189.5 991.0,190.0 990.0,192.2 989.0,191.2 988.0,190.0 987.0,192.0 986.0,193.1 985.0,191.7 984.0,193.7 983.0,189.9 982.0,189.3 981.0,192.7 980.0,192.3 979.0,191.0 978.0,191.2 977.0,189.7 976.0,190.8 975.0,189.1 974.0,190.3 973.0,188.8 972.0,191.8 971.0,189.7 970.0,190.4 969.0,188.3 968.0,189.7 967.0,188.9 966.0,190.9 965.0,190.0 964.0,190.2 963.0,191.1 962.0,191.5 961.0,191.2 960.0,188.5 959.0,189.7 958.0,188.8 957.0,187.4 956.0,191.4 955.0,187.4 954.0,185.9 953.0,189.7 952.0,188.3 951.0,185.8 950.0,185.4 949.0,189.0 948.0,188.7 947.0,187.8 946.0,188.2 945.0,188.3 944.0,189.0 943.0,186.1 942.0,187.3 941.0,188.6 940.0,185.6 939.0,187.5 938.0,189.8 937.0,186.8 936.0,184.2 935.0,186.8 934.0,187.8 933.0,186.2 932.0,187.3 931.0,185.3 930.0,189.5 929.0,189.7 928.0,187.6 927.0,189.1 926.0,187.5 925.0,188.6 924.0,187.5 923.0,186.9 922.0,187.4 921.0,187.1 920.0,186.1 919.0,185.0 918.0,185.1 917.0,187.9 916.0,187.9 915.0,186.2 914.0,186.2 913.0,185.7 912.0,186.7 911.0,188.4 910.0,188.0 909.0,187.0 908.0,185.6 907.0,185.1 906.0,185.3 905.0,183.6 904.0,183.3 903.0,183.7 902.0,185.4 901.0,185.6 900.0,184.4 899.0,183.1 898.0,185.7 897.0,182.1 896.0,183.4 895.0,186.1 894.0,184.4 893.0,184.4 892.0,184.8 891.0,181.6 890.0,184.7 889.0,184.9 888.0,186.3 887.0,186.1 886.0,185.7 885.0,184.8 884.0,184.3 883.0,188.4 882.0,186.1 881.0,184.2 880.0,186.0 879.0,182.8 878.0,185.1 877.0,183.1 876.0,182.5 875.0,182.0 874.0,184.8 873.0,185.4 872.0,185.6 871.0,183.7 870.0,184.4 869.0,183.0 868.0,184.1 867.0,181.7 866.0,183.0 865.0,180.5 864.0,182.0 863.0,185.0 862.0,184.4 861.0,180.0 860.0,183.8 859.0,182.9 858.0,181.5 857.0,185.1 856.0,182.4 855.0,181.9 854.0,182.2 853.0,183.5 852.0,183.2 851.0,184.2 850.0,181.2 849.0,184.4 848.0,184.6 847.0,182.8 846.0,179.9 845.0,179.7 844.0,178.7 843.0,179.9 842.0,178.3 841.0,179.1 840.0,180.4 839.0,181.6 838.0,182.2 837.0,181.7 836.0,178.9 835.0,181.7 834.0,180.9 833.0,183.1 832.0,180.1 831.0,183.6 830.0,181.4 829.0,180.4 828.0,182.5 827.0,181.4 826.0,182.4" fill="#ffffff" opacity="0.75"/>
<polygon points="826.0,192.5 827.0,191.5 828.0,191.1 829.0,193.1 830.0,193.2 831.0,192.4 832.0,193.8 833.0,192.9 834.0,192.8 835.0,191.5 836.0,189.3 837.0,191.0 838.0,195.5 839.0,189.6 840.0,193.1 841.0,192.6 842.0,192.5 843.0,193.0 844.0,193.9 845.0,192.6 846.0,191.5 847.0,191.1 848.0,193.9 849.0,194.4 850.0,191.6 851.0,191.6 852.0,193.4 853.0,192.8 854.0,190.5 855.0,191.4 856.0,193.9 857.0,190.9 858.0,193.1 859.0,193.5 860.0,195.1 861.0,192.7 862.0,192.9 863.0,192.0 864.0,192.0 865.0,192.7 866.0,195.0 867.0,190.4 868.0,193.0 869.0,192.7 870.0,192.8 871.0,196.9 872.0,191.6 873.0,194.7 874.0,192.4 875.0,192.6 876.0,193.0 877.0,190.6 878.0,194.7 879.0,192.2 880.0,193.2 881.0,193.9 882.0,194.0 883.0,193.9 884.0,192.6 885.0,193.1 886.0,194.0 887.0,193.6 888.0,192.9 889.0,193.3 890.0,195.2 891.0,193.8 892.0,193.7 893.0,193.0 894.0,194.2 895.0,195.1 896.0,192.4 897.0,195.1 898.0,194.6 899.0,195.2 900.0,195.7 901.0,195.6 902.0,193.8 903.0,193.9 904.0,196.7 905.0,195.1 906.0,192.7 907.0,195.6 908.0,194.8 909.0,194.5 910.0,192.6 911.0,197.1 912.0,194.0 913.0,193.6 914.0,194.4 915.0,195.3 916.0,195.3 917.0,196.4 918.0,195.9 919.0,197.3 920.0,194.8 921.0,194.3 922.0,195.0 923.0,196.6 924.0,194.7 925.0,194.4 926.0,194.4 927.0,196.5 928.0,194.7 929.0,196.4 930.0,196.7 931.0,195.7 932.0,196.2 933.0,195.9 934.0,195.3 935.0,195.9 936.0,194.8 937.0,197.6 938.0,196.4 939.0,197.1 940.0,193.1 941.0,194.1 942.0,194.6 943.0,195.8 944.0,194.8 945.0,193.9 946.0,196.0 947.0,196.3 948.0,195.8 949.0,195.5 950.0,197.8 951.0,197.9 952.0,195.6 953.0,195.8 954.0,195.4 955.0,195.5 956.0,194.5 957.0,196.9 958.0,196.6 959.0,198.1 960.0,195.6 961.0,195.4 962.0,196.8 963.0,199.2 964.0,195.6 965.0,195.9 966.0,195.9 967.0,197.7 968.0,197.4 969.0,199.4 970.0,198.9 971.0,198.3 972.0,197.7 973.0,198.8 974.0,199.0 975.0,199.1 976.0,198.0 977.0,198.0 978.0,195.6 979.0,198.2 980.0,196.2 981.0,197.6 982.0,198.9 983.0,199.2 984.0,199.4 985.0,198.8 986.0,198.5 987.0,199.3 988.0,199.6 989.0,199.9 990.0,198.9 991.0,201.2 992.0,198.2 993.0,198.3 994.0,197.7 995.0,200.1 996.0,199.2 997.0,198.3 998.0,197.1 999.0,198.9 1000.0,199.8 1001.0,200.7 1002.0,199.8 1003.0,196.4 1004.0,198.2 1005.0,200.8 1006.0,200.8 1007.0,198.7 1008.0,200.0 1009.0,198.2 1010.0,199.2 1011.0,200.2 1012.0,199.7 1013.0,198.8 1014.0,198.1 1015.0,197.3 1016.0,197.4 1017.0,197.8 1018.0,199.6 1019.0,200.4 1020.0,198.7 1021.0,198.6 1022.0,200.7 1023.0,197.8 1024.0,201.4 1025.0,198.9 1026.0,198.5 1027.0,199.2 1028.0,201.8 1029.0,198.9 1030.0,198.4 1031.0,200.9 1032.0,200.9 1033.0,199.7 1034.0,199.9 1035.0,200.3 1036.0,199.9 1037.0,200.3 1038.0,200.2 1039.0,200.9 1040.0,201.6 1041.0,199.5 1042.0,199.7 1043.0,198.7 1044.0,198.6 1045.0,199.9 1046.0,201.9 1047.0,201.0 1048.0,199.5 1049.0,198.8 1050.0,198.6 1051.0,200.3 1052.0,199.4 1053.0,198.9 1054.0,196.6 1055.0,200.0 1056.0,199.6 1057.0,199.6 1058.0,201.6 1059.0,199.9 1060.0,200.9 1061.0,201.6 1062.0,200.7 1063.0,201.0 1064.0,198.2 1065.0,199.7 1066.0,202.1 1067.0,200.7 1068.0,199.5 1069.0,201.6 1070.0,202.2 1071.0,202.0 1072.0,200.7 1073.0,197.0 1074.0,202.4 1075.0,200.9 1076.0,201.5 1077.0,204.6 1078.0,202.5 1079.0,202.7 1080.0,199.3 1081.0,200.6 1082.0,201.4 1083.0,201.0 1084.0,202.9 1085.0,202.0 1086.0,202.6 1087.0,202.0 1088.0,202.1 1089.0,201.6 1090.0,201.0 1091.0,200.1 1092.0,201.3 1093.0,202.4 1094.0,200.9 1095.0,202.5 1096.0,200.5 1097.0,202.8 1098.0,203.0 1099.0,202.4 1100.0,204.0 1101.0,202.9 1102.0,201.7 1103.0,201.5 1104.0,203.6 1105.0,204.7 1106.0,203.9 1107.0,201.7 1108.0,203.0 1109.0,201.9 1110.0,201.5 1111.0,205.6 1112.0,204.7 1113.0,203.8 1114.0,205.0 1115.0,206.6 1116.0,205.2 1117.0,203.4 1118.0,206.6 1119.0,205.2 1120.0,204.5 1121.0,206.9 1122.0,205.5 1123.0,203.9 1124.0,204.8 1125.0,204.5 1126.0,205.6 1127.0,205.8 1128.0,205.9 1129.0,204.4 1130.0,204.4 1131.0,204.3 1132.0,205.9 1133.0,202.9 1134.0,203.3 1135.0,203.9 1136.0,206.2 1137.0,204.3 1138.0,206.6 1139.0,204.9 1140.0,205.5 1141.0,205.0 1142.0,206.8 1143.0,204.6 1144.0,203.9 1145.0,206.2 1146.0,209.5 1147.0,207.0 1148.0,206.7 1149.0,207.4 1150.0,204.5 1151.0,205.0 1152.0,206.3 1153.0,205.1 1154.0,205.7 1155.0,204.1 1156.0,207.0 1157.0,205.6 1158.0,205.3 1159.0,207.3 1160.0,205.9 1161.0,206.8 1162.0,206.3 1163.0,207.3 1164.0,205.9 1165.0,207.6 1166.0,207.7 1167.0,208.3 1168.0,207.3 1169.0,205.9 1170.0,205.3 1171.0,208.8 1172.0,209.1 1173.0,208.0 1174.0,206.4 1175.0,206.6 1176.0,204.3 1177.0,208.8 1178.0,204.2 1179.0,206.1 1180.0,208.1 1181.0,206.0 1182.0,204.9 1183.0,206.1 1184.0,207.7 1185.0,207.6 1186.0,207.7 1187.0,206.5 1188.0,205.7 1189.0,209.6 1190.0,205.8 1191.0,207.0 1192.0,209.3 1193.0,208.5 1194.0,206.1 1195.0,209.2 1196.0,209.8 1197.0,206.6 1198.0,206.4 1199.0,206.4 1200.0,208.4 1201.0,206.1 1202.0,208.8 1203.0,208.6 1204.0,208.4 1205.0,208.2 1206.0,205.8 1207.0,208.5 1208.0,208.8 1209.0,209.9 1210.0,209.3 1211.0,208.9 1212.0,208.5 1213.0,210.9 1214.0,207.9 1215.0,208.1 1216.0,209.6 1217.0,209.0 1218.0,207.6 1219.0,210.2 1220.0,210.2 1221.0,208.4 1222.0,211.6 1223.0,208.9 1224.0,211.5 1225.0,207.4 1226.0,209.4 1227.0,208.6 1228.0,210.3 1229.0,209.2 1230.0,209.8 1231.0,211.6 1232.0,208.0 1233.0,210.1 1234.0,211.0 1235.0,209.9 1236.0,210.8 1237.0,210.1 1238.0,209.9 1239.0,207.9 1240.0,209.9 1241.0,210.9 1242.0,210.2 1243.0,210.4 1244.0,209.7 1245.0,211.2 1246.0,211.7 1247.0,206.5 1248.0,208.4 1249.0,210.0 1250.0,209.0 1251.0,210.4 1252.0,209.8 1253.0,209.8 1254.0,211.8 1255.0,213.3 1256.0,209.0 1257.0,210.5 1258.0,211.0 1259.0,208.1 1260.0,211.2 1261.0,209.5 1262.0,209.7 1263.0,212.7 1264.0,209.4 1265.0,211.3 1266.0,211.4 1267.0,212.1 1268.0,210.8 1269.0,212.8 1270.0,211.1 1271.0,211.7 1272.0,210.2 1273.0,211.2 1274.0,211.1 1275.0,212.7 1276.0,207.4 1277.0,209.5 1278.0,209.1 1279.0,211.1 1280.0,211.0 1281.0,210.9 1282.0,210.0 1283.0,209.7 1284.0,210.4 1285.0,207.7 1286.0,213.6 1287.0,210.8 1288.0,212.0 1289.0,213.3 1290.0,210.7 1291.0,210.3 1292.0,210.6 1293.0,209.9 1294.0,207.5 1295.0,212.1 1296.0,211.0 1297.0,212.6 1298.0,211.6 1299.0,214.4 1300.0,214.7 1301.0,213.3 1302.0,211.6 1303.0,213.0 1304.0,210.4 1305.0,209.4 1306.0,210.2 1307.0,209.6 1308.0,213.7 1309.0,211.4 1310.0,210.0 1311.0,211.9 1312.0,212.1 1313.0,211.6 1314.0,210.8 1315.0,210.9 1316.0,213.2 1316.0,218.4 1315.0,220.3 1314.0,219.0 1313.0,220.7 1312.0,219.6 1311.0,219.9 1310.0,218.5 1309.0,220.5 1308.0,220.1 1307.0,218.2 1306.0,220.0 1305.0,220.6 1304.0,220.5 1303.0,220.0 1302.0,221.3 1301.0,222.0 1300.0,224.5 1299.0,221.9 1298.0,220.9 1297.0,219.8 1296.0,220.9 1295.0,220.4 1294.0,215.2 1293.0,219.4 1292.0,220.5 1291.0,220.7 1290.0,220.9 1289.0,218.8 1288.0,219.9 1287.0,221.8 1286.0,217.7 1285.0,214.8 1284.0,218.2 1283.0,217.1 1282.0,218.8 1281.0,218.6 1280.0,221.4 1279.0,221.3 1278.0,221.7 1277.0,219.7 1276.0,220.1 1275.0,217.9 1274.0,218.3 1273.0,220.3 1272.0,223.6 1271.0,221.6 1270.0,221.9 1269.0,221.5 1268.0,221.5 1267.0,222.0 1266.0,219.9 1265.0,219.1 1264.0,220.9 1263.0,220.0 1262.0,218.8 1261.0,219.6 1260.0,217.9 1259.0,220.8 1258.0,217.8 1257.0,219.2 1256.0,218.1 1255.0,219.4 1254.0,220.6 1253.0,217.2 1252.0,216.8 1251.0,219.6 1250.0,221.2 1249.0,217.7 1248.0,217.5 1247.0,216.8 1246.0,217.1 1245.0,217.7 1244.0,218.2 1243.0,218.1 1242.0,221.0 1241.0,220.3 1240.0,219.0 1239.0,219.0 1238.0,218.4 1237.0,219.5 1236.0,219.1 1235.0,218.9 1234.0,218.0 1233.0,220.9 1232.0,219.3 1231.0,221.0 1230.0,219.9 1229.0,218.8 1228.0,220.5 1227.0,217.0 1226.0,219.6 1225.0,217.2 1224.0,216.5 1223.0,220.3 1222.0,220.5 1221.0,218.6 1220.0,219.1 1219.0,216.7 1218.0,218.2 1217.0,217.0 1216.0,220.1 1215.0,218.1 1214.0,219.0 1213.0,219.5 1212.0,217.3 1211.0,217.8 1210.0,218.6 1209.0,217.1 1208.0,219.4 1207.0,217.7 1206.0,216.8 1205.0,219.1 1204.0,216.0 1203.0,217.4 1202.0,219.4 1201.0,216.4 1200.0,216.9 1199.0,216.5 1198.0,217.1 1197.0,214.8 1196.0,218.4 1195.0,217.5 1194.0,215.0 1193.0,216.3 1192.0,216.0 1191.0,217.9 1190.0,217.8 1189.0,218.8 1188.0,213.8 1187.0,214.5 1186.0,216.3 1185.0,216.1 1184.0,215.7 1183.0,217.6 1182.0,215.5 1181.0,217.9 1180.0,214.9 1179.0,216.1 1178.0,214.9 1177.0,218.3 1176.0,215.5 1175.0,216.1 1174.0,215.4 1173.0,218.8 1172.0,215.7 1171.0,215.1 1170.0,215.6 1169.0,216.7 1168.0,215.2 1167.0,219.0 1166.0,216.7 1165.0,215.0 1164.0,214.1 1163.0,214.2 1162.0,217.2 1161.0,215.1 1160.0,216.8 1159.0,213.0 1158.0,215.5 1157.0,215.2 1156.0,216.8 1155.0,216.4 1154.0,214.1 1153.0,214.5 1152.0,214.5 1151.0,213.9 1150.0,216.6 1149.0,214.5 1148.0,215.0 1147.0,215.4 1146.0,215.2 1145.0,216.7 1144.0,214.9 1143.0,215.8 1142.0,215.8 1141.0,215.6 1140.0,214.1 1139.0,214.4 1138.0,213.4 1137.0,212.6 1136.0,213.1 1135.0,214.3 1134.0,212.3 1133.0,212.9 1132.0,212.6 1131.0,212.9 1130.0,212.6 1129.0,213.1 1128.0,213.3 1127.0,213.4 1126.0,215.3 1125.0,212.0 1124.0,215.1 1123.0,212.2 1122.0,214.5 1121.0,213.7 1120.0,212.7 1119.0,213.3 1118.0,212.8 1117.0,214.5 1116.0,214.4 1115.0,212.8 1114.0,213.4 1113.0,212.7 1112.0,212.4 1111.0,214.1 1110.0,210.9 1109.0,212.2 1108.0,213.6 1107.0,213.1 1106.0,213.5 1105.0,212.7 1104.0,211.0 1103.0,211.5 1102.0,210.3 1101.0,210.5 1100.0,212.3 1099.0,212.3 1098.0,211.6 1097.0,215.0 1096.0,209.5 1095.0,211.7 1094.0,211.2 1093.0,213.4 1092.0,211.3 1091.0,209.5 1090.0,209.3 1089.0,212.8 1088.0,209.8 1087.0,210.2 1086.0,211.8 1085.0,210.0 1084.0,213.0 1083.0,208.0 1082.0,210.7 1081.0,209.3 1080.0,210.9 1079.0,212.0 1078.0,211.0 1077.0,210.3 1076.0,209.8 1075.0,209.7 1074.0,213.5 1073.0,210.4 1072.0,213.1 1071.0,207.7 1070.0,209.4 1069.0,210.8 1068.0,210.2 1067.0,208.6 1066.0,207.4 1065.0,210.1 1064.0,208.6 1063.0,209.7 1062.0,209.7 1061.0,206.8 1060.0,209.1 1059.0,208.5 1058.0,210.1 1057.0,209.5 1056.0,208.6 1055.0,208.2 1054.0,209.5 1053.0,207.0 1052.0,208.3 1051.0,209.4 1050.0,209.3 1049.0,208.3 1048.0,209.2 1047.0,209.9 1046.0,211.0 1045.0,208.4 1044.0,208.4 1043.0,208.3 1042.0,209.7 1041.0,209.4 1040.0,210.3 1039.0,207.5 1038.0,208.8 1037.0,208.3 1036.0,209.0 1035.0,209.3 1034.0,209.2 1033.0,209.0 1032.0,210.1 1031.0,210.7 1030.0,212.5 1029.0,206.9 1028.0,208.6 1027.0,207.1 1026.0,208.1 1025.0,206.7 1024.0,208.1 1023.0,208.0 1022.0,208.6 1021.0,210.3 1020.0,208.9 1019.0,207.6 1018.0,209.2 1017.0,209.1 1016.0,208.0 1015.0,209.6 1014.0,206.0 1013.0,207.4 1012.0,207.9 1011.0,207.7 1010.0,207.3 1009.0,208.0 1008.0,209.7 1007.0,210.3 1006.0,206.7 1005.0,209.4 1004.0,208.7 1003.0,206.4 1002.0,209.0 1001.0,208.0 1000.0,210.1 999.0,207.9 998.0,207.0 997.0,205.1 996.0,207.7 995.0,208.5 994.0,205.8 993.0,207.2 992.0,207.7 991.0,209.5 990.0,207.8 989.0,208.3 988.0,206.1 987.0,206.7 986.0,206.8 985.0,208.2 984.0,209.8 983.0,207.7 982.0,205.4 981.0,205.0 980.0,206.3 979.0,207.9 978.0,206.2 977.0,205.2 976.0,205.1 975.0,208.4 974.0,208.3 973.0,205.9 972.0,206.6 971.0,204.9 970.0,206.2 969.0,206.8 968.0,209.2 967.0,208.1 966.0,207.7 965.0,203.6 964.0,206.0 963.0,206.0 962.0,204.5 961.0,204.5 960.0,208.2 959.0,206.2 958.0,205.4 957.0,206.0 956.0,208.0 955.0,206.5 954.0,204.5 953.0,205.9 952.0,206.8 951.0,206.7 950.0,205.3 949.0,203.9 948.0,206.2 947.0,203.6 946.0,203.0 945.0,205.6 944.0,205.5 943.0,205.3 942.0,205.7 941.0,205.7 940.0,201.7 939.0,202.4 938.0,205.1 937.0,205.5 936.0,204.9 935.0,206.2 934.0,205.8 933.0,202.2 932.0,204.4 931.0,206.9 930.0,205.4 929.0,205.5 928.0,205.5 927.0,205.9 926.0,204.3 925.0,203.3 924.0,202.8 923.0,203.3 922.0,205.1 921.0,204.3 920.0,204.4 919.0,204.4 918.0,205.9 917.0,201.7 916.0,203.1 915.0,204.3 914.0,203.5 913.0,203.1 912.0,204.9 911.0,204.2 910.0,203.1 909.0,201.4 908.0,201.7 907.0,201.7 906.0,204.0 905.0,205.9 904.0,203.1 903.0,202.6 902.0,204.6 901.0,203.8 900.0,203.3 899.0,204.1 898.0,203.0 897.0,202.5 896.0,204.9 895.0,202.2 894.0,203.1 893.0,200.9 892.0,200.3 891.0,206.7 890.0,204.8 889.0,204.6 888.0,201.9 887.0,204.4 886.0,203.8 885.0,203.6 884.0,204.6 883.0,203.2 882.0,203.6 881.0,202.4 880.0,202.0 879.0,198.4 878.0,201.2 877.0,200.2 876.0,201.7 875.0,202.6 874.0,203.1 873.0,201.8 872.0,202.4 871.0,201.8 870.0,202.0 869.0,203.0 868.0,201.8 867.0,201.1 866.0,203.9 865.0,200.2 864.0,200.3 863.0,202.2 862.0,202.3 861.0,203.0 860.0,203.1 859.0,202.5 858.0,202.1 857.0,200.2 856.0,202.0 855.0,203.9 854.0,198.3 853.0,201.3 852.0,200.7 851.0,201.3 850.0,201.4 849.0,201.2 848.0,204.1 847.0,202.7 846.0,199.2 845.0,200.9 844.0,201.0 843.0,201.5 842.0,202.5 841.0,202.2 840.0,201.5 839.0,200.1 838.0,203.0 837.0,201.0 836.0,198.7 835.0,201.7 834.0,198.7 833.0,200.2 832.0,202.3 831.0,201.9 830.0,201.9 829.0,201.2 828.0,198.6 827.0,200.9 826.0,201.3" fill="#ffffff" opacity="0.75"/>
<polygon points="826.0,212.6 827.0,211.3 828.0,211.9 829.0,214.5 830.0,213.7 831.0,210.7 832.0,210.1 833.0,211.1 834.0,213.8 835.0,213.5 836.0,213.7 837.0,212.9 838.0,211.9 839.0,209.6 840.0,211.4 841.0,214.6 842.0,213.6 843.0,212.6 844.0,211.7 845.0,212.4 846.0,211.4 847.0,212.6 848.0,210.8 849.0,210.0 850.0,211.9 851.0,210.7 852.0,213.7 853.0,211.2 854.0,209.6 855.0,212.6 856.0,212.3 857.0,213.1 858.0,213.4 859.0,212.3 860.0,211.9 861.0,212.6 862.0,214.5 863.0,209.9 864.0,212.1 865.0,213.1 866.0,215.0 867.0,213.4 868.0,212.7 869.0,213.5 870.0,212.4 871.0,213.2 872.0,210.7 873.0,214.1 874.0,212.1 875.0,211.8 876.0,212.7 877.0,214.2 878.0,213.0 879.0,214.7 880.0,216.3 881.0,214.8 882.0,215.9 883.0,211.7 884.0,212.9 885.0,212.5 886.0,214.1 887.0,213.6 888.0,213.8 889.0,214.5 890.0,212.1 891.0,212.0 892.0,213.3 893.0,211.5 894.0,213.1 895.0,213.4 896.0,213.2 897.0,213.0 898.0,212.1 899.0,214.8 900.0,211.8 901.0,213.0 902.0,214.1 903.0,213.5 904.0,213.2 905.0,212.4 906.0,213.3 907.0,216.0 908.0,213.8 909.0,213.2 910.0,214.3 911.0,213.3 912.0,212.6 913.0,213.2 914.0,213.3 915.0,212.0 916.0,212.4 917.0,211.9 918.0,216.3 919.0,212.4 920.0,215.1 921.0,214.7 922.0,213.1 923.0,213.4 924.0,214.3 925.0,212.8 926.0,213.1 927.0,214.1 928.0,212.0 929.0,213.3 930.0,214.2 931.0,213.7 932.0,214.7 933.0,212.4 934.0,213.8 935.0,213.0 936.0,211.2 937.0,213.1 938.0,214.3 939.0,213.8 940.0,214.6 941.0,217.3 942.0,212.0 943.0,212.6 944.0,214.3 945.0,213.7 946.0,212.6 947.0,213.4 948.0,212.1 949.0,212.6 950.0,213.0 951.0,210.9 952.0,213.2 953.0,213.5 954.0,215.2 955.0,214.2 956.0,212.0 957.0,214.4 958.0,214.8 959.0,213.7 960.0,213.2 961.0,214.2 962.0,212.4 963.0,214.4 964.0,215.4 965.0,213.1 966.0,214.7 967.0,215.2 968.0,213.1 969.0,213.0 970.0,215.1 971.0,214.7 972.0,212.7 973.0,216.0 974.0,217.7 975.0,217.4 976.0,216.1 977.0,214.0 978.0,215.6 979.0,215.2 980.0,214.5 981.0,212.3 982.0,215.9 983.0,215.1 984.0,215.9 985.0,214.7 986.0,215.7 987.0,216.3 988.0,215.1 989.0,212.8 990.0,215.2 991.0,214.6 992.0,216.3 993.0,215.9 994.0,214.4 995.0,216.5 996.0,214.4 997.0,216.2 998.0,213.5 999.0,215.3 1000.0,213.9 1001.0,214.7 1002.0,213.1 1003.0,215.5 1004.0,216.5 1005.0,216.8 1006.0,217.7 1007.0,216.2 1008.0,217.0 1009.0,219.0 1010.0,215.9 1011.0,215.8 1012.0,217.4 1013.0,216.8 1014.0,216.2 1015.0,217.9 1016.0,217.0 1017.0,217.4 1018.0,216.7 1019.0,216.3 1020.0,218.0 1021.0,215.6 1022.0,216.0 1023.0,215.1 1024.0,218.1 1025.0,218.1 1026.0,217.6 1027.0,220.7 1028.0,217.6 1029.0,216.3 1030.0,218.8 1031.0,220.3 1032.0,219.0 1033.0,214.6 1034.0,215.6 1035.0,218.6 1036.0,215.4 1037.0,216.8 1038.0,216.3 1039.0,218.2 1040.0,218.0 1041.0,216.9 1042.0,218.4 1043.0,219.2 1044.0,219.4 1045.0,216.3 1046.0,217.9 1047.0,218.2 1048.0,217.3 1049.0,217.6 1050.0,216.4 1051.0,217.1 1052.0,215.7 1053.0,217.3 1054.0,215.4 1055.0,217.1 1056.0,219.0 1057.0,219.3 1058.0,216.5 1059.0,218.6 1060.0,217.9 1061.0,216.0 1062.0,216.4 1063.0,217.5 1064.0,218.8 1065.0,218.2 1066.0,217.8 1067.0,218.5 1068.0,218.2 1069.0,217.0 1070.0,218.5 1071.0,219.2 1072.0,216.9 1073.0,218.8 1074.0,218.5 1075.0,218.3 1076.0,217.6 1077.0,217.9 1078.0,218.6 1079.0,219.5 1080.0,220.7 1081.0,218.5 1082.0,218.3 1083.0,217.1 1084.0,220.2 1085.0,220.5 1086.0,220.5 1087.0,217.7 1088.0,218.2 1089.0,221.0 1090.0,219.0 1091.0,220.0 1092.0,221.4 1093.0,219.2 1094.0,220.0 1095.0,218.4 1096.0,219.7 1097.0,219.7 1098.0,218.8 1099.0,219.4 1100.0,220.9 1101.0,220.6 1102.0,220.1 1103.0,219.6 1104.0,220.4 1105.0,219.3 1106.0,220.1 1107.0,221.4 1108.0,220.9 1109.0,221.1 1110.0,219.7 1111.0,218.4 1112.0,219.6 1113.0,218.7 1114.0,220.9 1115.0,220.6 1116.0,221.3 1117.0,221.1 1118.0,220.0 1119.0,218.4 1120.0,221.9 1121.0,220.2 1122.0,222.1 1123.0,221.8 1124.0,220.8 1125.0,223.5 1126.0,220.5 1127.0,219.8 1128.0,219.5 1129.0,222.5 1130.0,220.0 1131.0,221.5 1132.0,219.8 1133.0,219.3 1134.0,220.4 1135.0,219.6 1136.0,220.9 1137.0,222.7 1138.0,221.3 1139.0,220.0 1140.0,223.3 1141.0,221.6 1142.0,220.9 1143.0,223.2 1144.0,219.0 1145.0,221.3 1146.0,220.0 1147.0,223.6 1148.0,223.8 1149.0,222.6 1150.0,222.7 1151.0,219.4 1152.0,220.5 1153.0,221.7 1154.0,223.5 1155.0,221.4 1156.0,222.5 1157.0,220.9 1158.0,221.0 1159.0,223.3 1160.0,225.2 1161.0,221.3 1162.0,222.3 1163.0,221.0 1164.0,223.3 1165.0,223.1 1166.0,221.1 1167.0,222.1 1168.0,221.0 1169.0,218.7 1170.0,222.4 1171.0,221.0 1172.0,222.2 1173.0,225.0 1174.0,224.5 1175.0,222.7 1176.0,223.3 1177.0,220.9 1178.0,223.2 1179.0,222.6 1180.0,223.4 1181.0,221.7 1182.0,219.0 1183.0,220.9 1184.0,221.6 1185.0,221.9 1186.0,223.1 1187.0,222.4 1188.0,224.0 1189.0,223.2 1190.0,222.5 1191.0,224.5 1192.0,224.5 1193.0,225.1 1194.0,224.3 1195.0,221.8 1196.0,224.5 1197.0,222.5 1198.0,224.0 1199.0,223.4 1200.0,222.0 1201.0,223.8 1202.0,218.8 1203.0,223.5 1204.0,224.1 1205.0,222.0 1206.0,220.8 1207.0,223.1 1208.0,224.3 1209.0,221.6 1210.0,223.2 1211.0,222.4 1212.0,224.6 1213.0,222.7 1214.0,222.8 1215.0,225.2 1216.0,224.2 1217.0,222.9 1218.0,222.2 1219.0,222.2 1220.0,225.5 1221.0,224.3 1222.0,225.7 1223.0,224.1 1224.0,224.3 1225.0,223.7 1226.0,224.8 1227.0,224.1 1228.0,225.5 1229.0,224.3 1230.0,225.7 1231.0,223.7 1232.0,224.4 1233.0,223.5 1234.0,221.9 1235.0,223.6 1236.0,226.7 1237.0,224.5 1238.0,223.9 1239.0,225.5 1240.0,225.4 1241.0,224.0 1242.0,224.7 1243.0,225.1 1244.0,222.3 1245.0,223.6 1246.0,222.7 1247.0,223.7 1248.0,221.6 1249.0,223.6 1250.0,224.4 1251.0,223.9 1252.0,226.6 1253.0,226.8 1254.0,224.3 1255.0,224.2 1256.0,223.4 1257.0,224.2 1258.0,224.5 1259.0,224.4 1260.0,224.6 1261.0,226.4 1262.0,226.1 1263.0,221.5 1264.0,225.4 1265.0,223.7 1266.0,224.4 1267.0,223.8 1268.0,224.0 1269.0,223.5 1270.0,223.0 1271.0,224.4 1272.0,225.5 1273.0,226.0 1274.0,224.5 1275.0,226.1 1276.0,226.6 1277.0,227.3 1278.0,225.3 1279.0,225.4 1280.0,229.0 1281.0,222.0 1282.0,225.6 1283.0,225.4 1284.0,222.5 1285.0,226.4 1286.0,225.2 1287.0,223.1 1288.0,226.5 1289.0,224.3 1290.0,225.2 1291.0,225.8 1292.0,225.6 1293.0,223.7 1294.0,225.0 1295.0,226.7 1296.0,226.3 1297.0,224.5 1298.0,226.2 1299.0,224.7 1300.0,226.1 1301.0,225.0 1302.0,224.9 1303.0,226.0 1304.0,224.7 1305.0,226.1 1306.0,225.0 1307.0,224.4 1308.0,224.5 1309.0,225.8 1310.0,226.1 1311.0,225.1 1312.0,224.8 1313.0,223.6 1314.0,226.4 1315.0,223.6 1316.0,227.0 1316.0,236.3 1315.0,234.4 1314.0,235.0 1313.0,233.5 1312.0,236.0 1311.0,233.6 1310.0,233.1 1309.0,235.9 1308.0,233.6 1307.0,233.8 1306.0,235.8 1305.0,233.1 1304.0,236.7 1303.0,233.8 1302.0,232.1 1301.0,233.2 1300.0,235.3 1299.0,234.8 1298.0,232.8 1297.0,234.5 1296.0,233.9 1295.0,235.6 1294.0,235.2 1293.0,233.2 1292.0,233.6 1291.0,235.3 1290.0,235.0 1289.0,235.1 1288.0,232.3 1287.0,234.2 1286.0,235.1 1285.0,233.8 1284.0,232.3 1283.0,234.8 1282.0,235.8 1281.0,233.9 1280.0,235.1 1279.0,233.0 1278.0,234.3 1277.0,233.0 1276.0,233.2 1275.0,232.8 1274.0,233.7 1273.0,232.8 1272.0,233.4 1271.0,230.7 1270.0,233.5 1269.0,233.9 1268.0,232.3 1267.0,232.1 1266.0,233.9 1265.0,233.6 1264.0,233.6 1263.0,234.5 1262.0,236.4 1261.0,235.2 1260.0,235.3 1259.0,232.7 1258.0,232.7 1257.0,233.5 1256.0,230.8 1255.0,232.9 1254.0,234.0 1253.0,232.5 1252.0,233.4 1251.0,233.2 1250.0,234.4 1249.0,233.2 1248.0,230.2 1247.0,231.1 1246.0,231.0 1245.0,231.8 1244.0,236.3 1243.0,234.0 1242.0,233.9 1241.0,232.9 1240.0,235.4 1239.0,232.6 1238.0,234.8 1237.0,233.4 1236.0,233.4 1235.0,232.2 1234.0,231.7 1233.0,235.5 1232.0,233.7 1231.0,233.9 1230.0,235.8 1229.0,233.2 1228.0,234.9 1227.0,232.5 1226.0,235.4 1225.0,234.1 1224.0,234.7 1223.0,233.7 1222.0,234.8 1221.0,233.1 1220.0,232.1 1219.0,232.8 1218.0,231.7 1217.0,233.9 1216.0,234.3 1215.0,232.7 1214.0,232.0 1213.0,232.9 1212.0,233.0 1211.0,231.9 1210.0,231.8 1209.0,232.3 1208.0,235.1 1207.0,233.8 1206.0,231.4 1205.0,231.4 1204.0,232.9 1203.0,231.6 1202.0,231.0 1201.0,231.6 1200.0,232.6 1199.0,231.0 1198.0,233.7 1197.0,232.0 1196.0,232.2 1195.0,232.9 1194.0,232.8 1193.0,235.0 1192.0,232.3 1191.0,234.8 1190.0,229.7 1189.0,231.7 1188.0,234.0 1187.0,234.4 1186.0,232.4 1185.0,232.4 1184.0,233.3 1183.0,230.6 1182.0,228.2 1181.0,229.2 1180.0,230.3 1179.0,231.0 1178.0,231.3 1177.0,231.0 1176.0,231.9 1175.0,234.6 1174.0,230.3 1173.0,233.7 1172.0,230.0 1171.0,230.5 1170.0,229.8 1169.0,231.2 1168.0,230.7 1167.0,229.4 1166.0,231.1 1165.0,234.1 1164.0,233.5 1163.0,230.0 1162.0,230.4 1161.0,230.1 1160.0,231.6 1159.0,231.2 1158.0,231.7 1157.0,231.5 1156.0,232.3 1155.0,231.7 1154.0,231.8 1153.0,232.1 1152.0,231.0 1151.0,230.2 1150.0,229.8 1149.0,229.4 1148.0,231.1 1147.0,229.1 1146.0,232.3 1145.0,228.5 1144.0,230.5 1143.0,228.1 1142.0,230.3 1141.0,230.8 1140.0,230.0 1139.0,230.5 1138.0,230.4 1137.0,229.5 1136.0,231.5 1135.0,228.7 1134.0,229.3 1133.0,227.4 1132.0,229.2 1131.0,229.5 1130.0,228.7 1129.0,229.0 1128.0,228.8 1127.0,230.8 1126.0,230.0 1125.0,229.6 1124.0,231.1 1123.0,231.0 1122.0,231.8 1121.0,231.1 1120.0,230.1 1119.0,228.1 1118.0,228.2 1117.0,230.4 1116.0,230.2 1115.0,228.4 1114.0,228.2 1113.0,228.5 1112.0,227.5 1111.0,228.0 1110.0,229.5 1109.0,229.9 1108.0,228.3 1107.0,227.8 1106.0,230.1 1105.0,226.4 1104.0,228.3 1103.0,229.7 1102.0,228.8 1101.0,228.8 1100.0,229.3 1099.0,225.4 1098.0,228.2 1097.0,227.3 1096.0,229.6 1095.0,227.7 1094.0,226.4 1093.0,228.0 1092.0,226.3 1091.0,227.7 1090.0,228.2 1089.0,227.6 1088.0,228.0 1087.0,227.6 1086.0,225.8 1085.0,228.7 1084.0,227.4 1083.0,225.9 1082.0,225.8 1081.0,228.7 1080.0,229.7 1079.0,227.0 1078.0,226.2 1077.0,227.5 1076.0,227.8 1075.0,226.1 1074.0,226.2 1073.0,228.0 1072.0,227.2 1071.0,229.3 1070.0,226.1 1069.0,228.1 1068.0,227.9 1067.0,227.2 1066.0,225.2 1065.0,224.9 1064.0,227.5 1063.0,228.6 1062.0,226.6 1061.0,224.9 1060.0,228.0 1059.0,225.7 1058.0,227.3 1057.0,229.0 1056.0,227.0 1055.0,227.4 1054.0,226.9 1053.0,224.5 1052.0,226.0 1051.0,223.1 1050.0,224.4 1049.0,224.2 1048.0,224.9 1047.0,230.5 1046.0,226.3 1045.0,227.4 1044.0,227.7 1043.0,224.7 1042.0,225.7 1041.0,225.0 1040.0,226.2 1039.0,228.6 1038.0,223.6 1037.0,221.9 1036.0,226.2 1035.0,226.1 1034.0,226.1 1033.0,225.4 1032.0,226.1 1031.0,228.7 1030.0,226.4 1029.0,228.6 1028.0,224.4 1027.0,227.0 1026.0,226.3 1025.0,225.3 1024.0,225.4 1023.0,227.1 1022.0,224.6 1021.0,224.3 1020.0,227.5 1019.0,224.1 1018.0,226.5 1017.0,226.7 1016.0,225.1 1015.0,224.0 1014.0,224.3 1013.0,224.9 1012.0,225.8 1011.0,227.2 1010.0,223.7 1009.0,226.6 1008.0,224.9 1007.0,226.5 1006.0,227.4 1005.0,227.1 1004.0,225.6 1003.0,225.2 1002.0,222.6 1001.0,226.0 1000.0,224.7 999.0,224.2 998.0,223.5 997.0,226.0 996.0,223.9 995.0,222.8 994.0,225.3 993.0,225.2 992.0,225.5 991.0,225.5 990.0,224.5 989.0,223.4 988.0,224.9 987.0,224.1 986.0,224.2 985.0,225.2 984.0,225.7 983.0,224.9 982.0,223.4 981.0,222.3 980.0,224.5 979.0,225.3 978.0,226.5 977.0,223.5 976.0,223.4 975.0,224.3 974.0,224.7 973.0,224.4 972.0,221.7 971.0,224.6 970.0,223.4 969.0,225.1 968.0,221.9 967.0,225.6 966.0,223.3 965.0,222.8 964.0,224.6 963.0,222.3 962.0,222.6 961.0,222.4 960.0,223.6 959.0,223.3 958.0,223.1 957.0,223.6 956.0,222.7 955.0,222.0 954.0,226.0 953.0,221.3 952.0,224.2 951.0,221.5 950.0,222.7 949.0,222.1 948.0,223.9 947.0,221.7 946.0,223.7 945.0,221.5 944.0,222.0 943.0,223.2 942.0,221.3 941.0,224.1 940.0,224.2 939.0,223.3 938.0,220.3 937.0,223.6 936.0,222.5 935.0,222.9 934.0,220.2 933.0,223.3 932.0,223.3 931.0,225.2 930.0,224.4 929.0,221.4 928.0,222.6 927.0,222.0 926.0,223.5 925.0,222.8 924.0,222.6 923.0,220.2 922.0,221.7 921.0,222.7 920.0,222.3 919.0,221.9 918.0,221.5 917.0,222.1 916.0,219.4 915.0,221.5 914.0,222.7 913.0,221.5 912.0,222.7 911.0,223.2 910.0,223.0 909.0,220.8 908.0,222.1 907.0,223.0 906.0,222.3 905.0,224.0 904.0,219.8 903.0,220.1 902.0,224.1 901.0,221.9 900.0,221.7 899.0,220.9 898.0,222.6 897.0,221.3 896.0,220.7 895.0,222.9 894.0,220.4 893.0,222.1 892.0,223.4 891.0,220.4 890.0,220.0 889.0,222.5 888.0,224.3 887.0,221.3 886.0,221.7 885.0,221.5 884.0,222.1 883.0,221.0 882.0,223.6 881.0,224.4 880.0,222.3 879.0,224.1 878.0,222.5 877.0,221.1 876.0,219.6 875.0,220.5 874.0,221.9 873.0,223.0 872.0,222.7 871.0,220.9 870.0,221.9 869.0,221.6 868.0,220.5 867.0,219.3 866.0,222.2 865.0,220.2 864.0,221.3 863.0,220.8 862.0,221.3 861.0,222.4 860.0,220.0 859.0,221.6 858.0,221.6 857.0,221.8 856.0,220.3 855.0,219.9 854.0,218.3 853.0,220.3 852.0,220.0 851.0,221.1 850.0,221.7 849.0,220.6 848.0,222.5 847.0,219.0 846.0,220.6 845.0,220.1 844.0,223.1 843.0,221.6 842.0,221.7 841.0,222.8 840.0,223.1 839.0,219.8 838.0,220.1 837.0,221.0 836.0,222.4 835.0,219.6 834.0,222.7 833.0,220.8 832.0,219.1 831.0,221.2 830.0,222.3 829.0,223.4 828.0,222.4 827.0,222.8 826.0,222.1" fill="#ffffff" opacity="0.75"/>
<polygon points="826.0,231.1 827.0,229.5 828.0,231.4 829.0,233.0 830.0,232.1 831.0,229.4 832.0,231.7 833.0,233.9 834.0,231.1 835.0,230.1 836.0,229.7 837.0,232.4 838.0,231.4 839.0,229.5 840.0,230.4 841.0,232.6 842.0,232.7 843.0,232.6 844.0,231.2 845.0,230.0 846.0,231.5 847.0,230.8 848.0,229.3 849.0,230.2 850.0,231.7 851.0,232.8 852.0,230.4 853.0,233.2 854.0,232.5 855.0,232.6 856.0,227.3 857.0,232.1 858.0,231.4 859.0,230.8 860.0,233.6 861.0,233.1 862.0,230.4 863.0,230.6 864.0,233.6 865.0,233.1 866.0,233.4 867.0,231.7 868.0,230.0 869.0,232.5 870.0,231.7 871.0,232.4 872.0,231.7 873.0,232.1 874.0,232.9 875.0,231.8 876.0,231.7 877.0,232.0 878.0,232.0 879.0,230.9 880.0,231.6 881.0,231.4 882.0,233.4 883.0,231.7 884.0,232.4 885.0,233.4 886.0,230.2 887.0,232.3 888.0,233.8 889.0,233.9 890.0,232.2 891.0,232.8 892.0,234.4 893.0,231.0 894.0,233.7 895.0,232.3 896.0,235.5 897.0,233.1 898.0,233.5 899.0,234.2 900.0,234.6 901.0,232.7 902.0,234.0 903.0,234.4 904.0,233.2 905.0,235.1 906.0,232.7 907.0,232.7 908.0,231.8 909.0,232.4 910.0,232.3 911.0,232.3 912.0,231.7 913.0,232.0 914.0,231.8 915.0,234.6 916.0,234.3 917.0,234.2 918.0,232.9 919.0,235.6 920.0,233.4 921.0,234.2 922.0,230.0 923.0,231.0 924.0,233.8 925.0,233.6 926.0,231.1 927.0,233.1 928.0,232.7 929.0,234.4 930.0,234.0 931.0,236.1 932.0,232.4 933.0,231.6 934.0,230.9 935.0,232.8 936.0,232.4 937.0,234.8 938.0,233.4 939.0,230.8 940.0,234.1 941.0,233.2 942.0,233.6 943.0,235.1 944.0,234.5 945.0,232.5 946.0,234.4 947.0,232.1 948.0,232.0 949.0,234.3 950.0,237.3 951.0,232.9 952.0,231.9 953.0,232.4 954.0,232.5 955.0,233.0 956.0,236.0 957.0,234.1 958.0,232.9 959.0,232.4 960.0,232.0 961.0,233.3 962.0,233.0 963.0,233.6 964.0,233.0 965.0,234.1 966.0,233.8 967.0,233.8 968.0,234.9 969.0,232.3 970.0,230.4 971.0,232.3 972.0,236.5 973.0,233.4 974.0,235.9 975.0,234.6 976.0,233.5 977.0,235.1 978.0,232.8 979.0,234.6 980.0,233.2 981.0,234.6 982.0,234.5 983.0,236.4 984.0,233.2 985.0,231.7 986.0,235.2 987.0,235.9 988.0,234.5 989.0,234.8 990.0,236.4 991.0,234.3 992.0,237.3 993.0,239.5 994.0,234.6 995.0,235.8 996.0,235.7 997.0,235.3 998.0,236.8 999.0,233.8 1000.0,236.4 1001.0,236.2 1002.0,234.7 1003.0,235.0 1004.0,234.9 1005.0,238.4 1006.0,233.7 1007.0,237.0 1008.0,236.5 1009.0,235.2 1010.0,235.6 1011.0,237.9 1012.0,237.0 1013.0,237.2 1014.0,235.1 1015.0,235.8 1016.0,234.9 1017.0,235.2 1018.0,236.0 1019.0,234.6 1020.0,236.9 1021.0,236.3 1022.0,238.0 1023.0,234.2 1024.0,233.5 1025.0,235.5 1026.0,236.2 1027.0,235.3 1028.0,234.6 1029.0,235.2 1030.0,236.6 1031.0,236.9 1032.0,236.4 1033.0,235.2 1034.0,235.8 1035.0,236.9 1036.0,235.3 1037.0,235.5 1038.0,235.1 1039.0,233.5 1040.0,234.8 1041.0,234.9 1042.0,234.6 1043.0,235.1 1044.0,234.8 1045.0,235.9 1046.0,236.1 1047.0,234.8 1048.0,236.9 1049.0,237.0 1050.0,233.1 1051.0,234.4 1052.0,236.4 1053.0,236.4 1054.0,234.9 1055.0,235.3 1056.0,234.3 1057.0,236.4 1058.0,234.1 1059.0,236.2 1060.0,235.2 1061.0,232.3 1062.0,237.9 1063.0,235.5 1064.0,236.5 1065.0,232.3 1066.0,233.4 1067.0,236.8 1068.0,237.8 1069.0,233.6 1070.0,236.8 1071.0,236.9 1072.0,235.6 1073.0,235.3 1074.0,233.9 1075.0,234.7 1076.0,233.0 1077.0,233.7 1078.0,234.1 1079.0,237.0 1080.0,235.8 1081.0,234.4 1082.0,236.3 1083.0,234.6 1084.0,235.0 1085.0,236.3 1086.0,236.4 1087.0,233.6 1088.0,235.1 1089.0,238.1 1090.0,235.9 1091.0,235.2 1092.0,236.1 1093.0,236.7 1094.0,235.5 1095.0,235.8 1096.0,235.2 1097.0,233.9 1098.0,235.3 1099.0,234.9 1100.0,235.5 1101.0,237.9 1102.0,234.6 1103.0,234.7 1104.0,237.4 1105.0,236.5 1106.0,234.1 1107.0,236.0 1108.0,232.1 1109.0,234.3 1110.0,234.6 1111.0,237.5 1112.0,234.7 1113.0,236.0 1114.0,236.6 1115.0,236.1 1116.0,234.9 1117.0,235.7 1118.0,234.0 1119.0,236.3 1120.0,235.6 1121.0,236.4 1122.0,237.5 1123.0,234.6 1124.0,233.6 1125.0,235.7 1126.0,234.8 1127.0,235.2 1128.0,233.7 1129.0,234.3 1130.0,236.8 1131.0,234.0 1132.0,232.2 1133.0,238.7 1134.0,235.2 1135.0,237.3 1136.0,235.9 1137.0,237.0 1138.0,235.0 1139.0,236.2 1140.0,233.9 1141.0,238.0 1142.0,238.5 1143.0,237.0 1144.0,236.1 1145.0,234.0 1146.0,235.1 1147.0,237.7 1148.0,232.4 1149.0,236.4 1150.0,236.0 1151.0,233.6 1152.0,234.7 1153.0,235.2 1154.0,236.7 1155.0,238.3 1156.0,235.5 1157.0,237.5 1158.0,236.3 1159.0,234.8 1160.0,237.1 1161.0,236.5 1162.0,238.3 1163.0,236.8 1164.0,237.4 1165.0,235.1 1166.0,236.3 1167.0,236.5 1168.0,235.0 1169.0,237.2 1170.0,235.3 1171.0,236.9 1172.0,234.8 1173.0,236.3 1174.0,237.9 1175.0,235.3 1176.0,236.3 1177.0,235.8 1178.0,237.8 1179.0,236.3 1180.0,236.0 1181.0,236.9 1182.0,239.7 1183.0,236.8 1184.0,236.1 1185.0,237.1 1186.0,236.1 1187.0,234.9 1188.0,238.1 1189.0,234.8 1190.0,238.5 1191.0,237.7 1192.0,236.9 1193.0,237.7 1194.0,236.4 1195.0,237.4 1196.0,239.8 1197.0,236.1 1198.0,237.3 1199.0,236.0 1200.0,235.7 1201.0,235.1 1202.0,237.1 1203.0,239.3 1204.0,235.2 1205.0,237.5 1206.0,238.1 1207.0,238.4 1208.0,236.1 1209.0,235.1 1210.0,238.2 1211.0,235.8 1212.0,238.0 1213.0,236.8 1214.0,239.3 1215.0,238.4 1216.0,236.4 1217.0,236.5 1218.0,238.7 1219.0,235.6 1220.0,237.2 1221.0,239.2 1222.0,237.4 1223.0,237.6 1224.0,236.0 1225.0,239.5 1226.0,237.4 1227.0,240.2 1228.0,237.1 1229.0,237.8 1230.0,237.5 1231.0,239.1 1232.0,237.0 1233.0,237.8 1234.0,238.9 1235.0,237.4 1236.0,237.5 1237.0,235.1 1238.0,237.4 1239.0,236.5 1240.0,236.0 1241.0,238.6 1242.0,238.1 1243.0,238.3 1244.0,236.5 1245.0,238.5 1246.0,239.0 1247.0,238.0 1248.0,236.9 1249.0,238.3 1250.0,238.0 1251.0,237.7 1252.0,238.5 1253.0,236.6 1254.0,237.3 1255.0,238.1 1256.0,238.9 1257.0,239.7 1258.0,236.7 1259.0,238.6 1260.0,238.8 1261.0,236.9 1262.0,238.4 1263.0,236.6 1264.0,238.7 1265.0,237.6 1266.0,237.4 1267.0,238.6 1268.0,237.9 1269.0,237.6 1270.0,237.1 1271.0,239.4 1272.0,240.1 1273.0,236.0 1274.0,240.4 1275.0,239.0 1276.0,236.5 1277.0,238.7 1278.0,237.8 1279.0,238.8 1280.0,239.5 1281.0,240.4 1282.0,240.4 1283.0,236.7 1284.0,236.0 1285.0,236.2 1286.0,239.2 1287.0,238.7 1288.0,239.2 1289.0,239.6 1290.0,239.7 1291.0,239.5 1292.0,238.7 1293.0,239.5 1294.0,236.3 1295.0,238.4 1296.0,237.6 1297.0,239.0 1298.0,239.1 1299.0,239.5 1300.0,242.6 1301.0,236.9 1302.0,238.9 1303.0,240.5 1304.0,236.8 1305.0,239.2 1306.0,238.3 1307.0,239.4 1308.0,241.5 1309.0,240.1 1310.0,238.8 1311.0,238.3 1312.0,239.6 1313.0,239.2 1314.0,238.1 1315.0,236.8 1316.0,238.0 1316.0,247.2 1315.0,247.3 1314.0,245.8 1313.0,248.4 1312.0,245.6 1311.0,249.2 1310.0,249.5 1309.0,246.7 1308.0,247.8 1307.0,249.1 1306.0,250.5 1305.0,248.7 1304.0,248.3 1303.0,249.1 1302.0,249.4 1301.0,248.4 1300.0,249.4 1299.0,246.2 1298.0,248.0 1297.0,247.1 1296.0,248.7 1295.0,248.9 1294.0,246.2 1293.0,249.3 1292.0,246.7 1291.0,248.0 1290.0,251.0 1289.0,247.3 1288.0,246.9 1287.0,247.0 1286.0,249.2 1285.0,245.7 1284.0,245.4 1283.0,247.1 1282.0,248.4 1281.0,248.9 1280.0,249.2 1279.0,248.6 1278.0,247.1 1277.0,246.3 1276.0,247.4 1275.0,248.5 1274.0,247.0 1273.0,246.9 1272.0,248.7 1271.0,248.0 1270.0,245.2 1269.0,246.5 1268.0,246.6 1267.0,245.9 1266.0,245.2 1265.0,247.6 1264.0,248.1 1263.0,246.1 1262.0,244.0 1261.0,246.7 1260.0,247.8 1259.0,249.3 1258.0,246.8 1257.0,249.0 1256.0,247.5 1255.0,244.9 1254.0,245.0 1253.0,248.0 1252.0,244.9 1251.0,247.5 1250.0,249.2 1249.0,246.3 1248.0,245.9 1247.0,248.7 1246.0,246.5 1245.0,247.1 1244.0,247.3 1243.0,247.3 1242.0,245.2 1241.0,246.4 1240.0,247.0 1239.0,246.1 1238.0,244.1 1237.0,244.7 1236.0,247.0 1235.0,246.8 1234.0,245.9 1233.0,248.2 1232.0,246.3 1231.0,248.0 1230.0,248.4 1229.0,248.4 1228.0,245.9 1227.0,249.3 1226.0,246.8 1225.0,246.6 1224.0,244.7 1223.0,246.0 1222.0,245.3 1221.0,246.7 1220.0,244.1 1219.0,246.7 1218.0,244.4 1217.0,246.4 1216.0,245.2 1215.0,246.7 1214.0,248.2 1213.0,243.4 1212.0,246.6 1211.0,246.9 1210.0,247.4 1209.0,247.8 1208.0,246.9 1207.0,245.9 1206.0,244.3 1205.0,246.3 1204.0,246.9 1203.0,245.8 1202.0,247.1 1201.0,243.9 1200.0,245.9 1199.0,245.6 1198.0,243.7 1197.0,246.0 1196.0,245.7 1195.0,247.8 1194.0,246.2 1193.0,245.4 1192.0,245.8 1191.0,246.7 1190.0,246.2 1189.0,247.6 1188.0,246.6 1187.0,246.0 1186.0,243.1 1185.0,243.8 1184.0,243.5 1183.0,246.5 1182.0,244.7 1181.0,246.1 1180.0,247.9 1179.0,246.6 1178.0,248.3 1177.0,244.7 1176.0,243.8 1175.0,244.6 1174.0,245.5 1173.0,245.1 1172.0,243.9 1171.0,245.4 1170.0,245.9 1169.0,244.9 1168.0,244.3 1167.0,244.9 1166.0,247.1 1165.0,246.1 1164.0,246.5 1163.0,245.6 1162.0,246.7 1161.0,244.6 1160.0,244.1 1159.0,245.1 1158.0,244.1 1157.0,245.4 1156.0,245.0 1155.0,246.5 1154.0,242.1 1153.0,244.6 1152.0,243.6 1151.0,246.6 1150.0,244.8 1149.0,246.0 1148.0,246.4 1147.0,246.5 1146.0,246.2 1145.0,244.1 1144.0,244.5 1143.0,245.4 1142.0,245.5 1141.0,244.0 1140.0,243.2 1139.0,245.5 1138.0,245.8 1137.0,246.2 1136.0,245.0 1135.0,243.6 1134.0,242.8 1133.0,245.8 1132.0,245.0 1131.0,241.3 1130.0,243.9 1129.0,244.4 1128.0,243.9 1127.0,242.5 1126.0,245.5 1125.0,243.2 1124.0,243.4 1123.0,243.8 1122.0,245.2 1121.0,244.0 1120.0,246.6 1119.0,245.5 1118.0,245.3 1117.0,243.5 1116.0,244.3 1115.0,243.1 1114.0,245.6 1113.0,245.8 1112.0,243.2 1111.0,245.9 1110.0,244.6 1109.0,245.3 1108.0,243.1 1107.0,245.8 1106.0,243.5 1105.0,246.2 1104.0,245.7 1103.0,245.7 1102.0,242.8 1101.0,244.2 1100.0,244.5 1099.0,242.0 1098.0,239.8 1097.0,244.0 1096.0,243.7 1095.0,243.5 1094.0,246.1 1093.0,245.4 1092.0,244.0 1091.0,244.7 1090.0,245.8 1089.0,247.3 1088.0,246.9 1087.0,245.6 1086.0,244.3 1085.0,245.9 1084.0,244.7 1083.0,245.1 1082.0,245.1 1081.0,242.1 1080.0,243.4 1079.0,242.7 1078.0,242.8 1077.0,241.9 1076.0,243.7 1075.0,244.2 1074.0,243.5 1073.0,243.0 1072.0,243.9 1071.0,246.4 1070.0,246.6 1069.0,243.2 1068.0,243.6 1067.0,244.7 1066.0,244.3 1065.0,242.3 1064.0,244.5 1063.0,245.0 1062.0,242.3 1061.0,244.3 1060.0,243.2 1059.0,245.0 1058.0,243.2 1057.0,244.9 1056.0,243.8 1055.0,244.0 1054.0,245.6 1053.0,244.2 1052.0,245.7 1051.0,243.3 1050.0,243.5 1049.0,243.8 1048.0,243.4 1047.0,244.4 1046.0,243.6 1045.0,246.3 1044.0,243.6 1043.0,245.9 1042.0,243.9 1041.0,245.1 1040.0,241.5 1039.0,244.4 1038.0,242.3 1037.0,243.9 1036.0,244.7 1035.0,244.1 1034.0,247.4 1033.0,245.9 1032.0,244.5 1031.0,245.0 1030.0,242.7 1029.0,245.1 1028.0,245.4 1027.0,243.6 1026.0,243.9 1025.0,245.4 1024.0,242.5 1023.0,245.8 1022.0,243.4 1021.0,244.7 1020.0,244.9 1019.0,247.0 1018.0,245.8 1017.0,244.8 1016.0,244.2 1015.0,244.0 1014.0,244.5 1013.0,244.4 1012.0,245.9 1011.0,247.6 1010.0,244.7 1009.0,246.2 1008.0,243.9 1007.0,244.5 1006.0,243.3 1005.0,244.0 1004.0,244.9 1003.0,245.1 1002.0,246.2 1001.0,244.8 1000.0,245.2 999.0,243.0 998.0,242.1 997.0,245.0 996.0,243.9 995.0,243.6 994.0,242.2 993.0,244.1 992.0,245.6 991.0,245.4 990.0,244.1 989.0,244.4 988.0,244.7 987.0,244.7 986.0,243.4 985.0,243.6 984.0,243.0 983.0,247.0 982.0,240.8 981.0,242.7 980.0,243.5 979.0,242.1 978.0,241.9 977.0,242.6 976.0,245.6 975.0,244.5 974.0,242.7 973.0,242.6 972.0,243.7 971.0,240.6 970.0,242.8 969.0,244.4 968.0,242.9 967.0,243.6 966.0,243.1 965.0,244.0 964.0,243.3 963.0,243.8 962.0,242.3 961.0,244.3 960.0,242.9 959.0,241.8 958.0,241.0 957.0,241.8 956.0,242.3 955.0,241.6 954.0,242.1 953.0,241.3 952.0,242.8 951.0,241.2 950.0,244.5 949.0,243.9 948.0,242.8 947.0,242.9 946.0,243.1 945.0,243.8 944.0,242.6 943.0,243.2 942.0,241.4 941.0,241.7 940.0,240.9 939.0,242.0 938.0,242.3 937.0,240.4 936.0,243.8 935.0,241.6 934.0,242.2 933.0,241.8 932.0,242.1 931.0,247.7 930.0,241.4 929.0,242.8 928.0,243.1 927.0,244.6 926.0,242.3 925.0,240.8 924.0,243.2 923.0,240.6 922.0,237.7 921.0,243.2 920.0,242.1 919.0,244.3 918.0,241.9 917.0,241.0 916.0,242.0 915.0,240.2 914.0,241.4 913.0,242.0 912.0,239.9 911.0,239.8 910.0,239.4 909.0,242.8 908.0,239.8 907.0,243.7 906.0,242.0 905.0,245.1 904.0,243.5 903.0,243.2 902.0,244.6 901.0,242.8 900.0,243.9 899.0,244.0 898.0,243.1 897.0,243.0 896.0,244.9 895.0,243.5 894.0,240.4 893.0,241.6 892.0,242.3 891.0,241.5 890.0,240.5 889.0,241.6 888.0,240.9 887.0,242.1 886.0,241.7 885.0,242.0 884.0,239.5 883.0,240.1 882.0,243.2 881.0,238.7 880.0,239.6 879.0,240.2 878.0,241.0 877.0,240.6 876.0,240.1 875.0,240.3 874.0,243.1 873.0,241.3 872.0,240.9 871.0,241.7 870.0,240.5 869.0,241.0 868.0,238.8 867.0,240.2 866.0,242.3 865.0,242.9 864.0,239.8 863.0,241.2 862.0,241.3 861.0,240.8 860.0,241.1 859.0,240.0 858.0,241.1 857.0,243.8 856.0,240.6 855.0,241.5 854.0,241.8 853.0,240.6 852.0,241.2 851.0,242.5 850.0,241.0 849.0,239.1 848.0,239.2 847.0,238.8 846.0,240.8 845.0,239.1 844.0,242.1 843.0,241.6 842.0,240.5 841.0,239.1 840.0,241.7 839.0,238.5 838.0,237.5 837.0,239.2 836.0,242.9 835.0,239.1 834.0,244.3 833.0,240.2 832.0,242.7 831.0,241.4 830.0,239.5 829.0,242.4 828.0,238.6 827.0,241.2 826.0,241.6" fill="#ffffff" opacity="0.75"/>
<polygon points="826.0,249.2 827.0,252.2 828.0,250.3 829.0,252.8 830.0,250.8 831.0,251.0 832.0,253.1 833.0,252.4 834.0,252.0 835.0,252.5 836.0,251.7 837.0,250.5 838.0,252.4 839.0,253.1 840.0,253.2 841.0,255.1 842.0,252.8 843.0,252.3 844.0,251.6 845.0,250.5 846.0,249.5 847.0,252.5 848.0,250.1 849.0,251.4 850.0,250.3 851.0,251.7 852.0,251.7 853.0,252.1 854.0,252.8 855.0,251.7 856.0,252.5 857.0,251.8 858.0,251.9 859.0,250.9 860.0,251.8 861.0,252.0 862.0,251.3 863.0,251.0 864.0,252.3 865.0,252.0 866.0,250.8 867.0,253.5 868.0,254.3 869.0,252.8 870.0,252.7 871.0,252.7 872.0,251.5 873.0,251.7 874.0,253.6 875.0,253.7 876.0,253.4 877.0,251.8 878.0,251.9 879.0,252.7 880.0,254.8 881.0,252.2 882.0,253.2 883.0,254.9 884.0,253.0 885.0,252.7 886.0,249.8 887.0,253.3 888.0,251.8 889.0,253.6 890.0,251.6 891.0,252.5 892.0,252.6 893.0,251.7 894.0,252.6 895.0,252.1 896.0,251.4 897.0,252.0 898.0,251.0 899.0,253.8 900.0,251.5 901.0,249.8 902.0,250.7 903.0,255.8 904.0,252.3 905.0,251.6 906.0,252.5 907.0,252.7 908.0,254.0 909.0,249.7 910.0,252.2 911.0,253.3 912.0,249.7 913.0,251.9 914.0,253.0 915.0,254.7 916.0,255.5 917.0,253.2 918.0,250.6 919.0,251.1 920.0,251.7 921.0,253.1 922.0,251.7 923.0,252.6 924.0,251.6 925.0,252.9 926.0,252.0 927.0,249.4 928.0,249.9 929.0,251.7 930.0,254.7 931.0,253.8 932.0,252.1 933.0,252.1 934.0,253.6 935.0,250.8 936.0,252.0 937.0,249.8 938.0,253.4 939.0,251.0 940.0,249.5 941.0,251.3 942.0,250.4 943.0,251.0 944.0,253.3 945.0,254.9 946.0,252.2 947.0,251.5 948.0,251.2 949.0,254.0 950.0,253.2 951.0,251.6 952.0,253.2 953.0,251.0 954.0,251.3 955.0,252.1 956.0,253.0 957.0,250.5 958.0,252.5 959.0,251.4 960.0,254.9 961.0,254.2 962.0,252.2 963.0,251.4 964.0,253.8 965.0,252.2 966.0,254.4 967.0,253.6 968.0,253.2 969.0,253.2 970.0,251.6 971.0,253.7 972.0,251.8 973.0,251.1 974.0,249.7 975.0,250.8 976.0,252.1 977.0,252.3 978.0,252.9 979.0,252.1 980.0,250.5 981.0,251.0 982.0,251.6 983.0,251.3 984.0,251.2 985.0,251.2 986.0,250.1 987.0,252.1 988.0,253.8 989.0,251.3 990.0,251.7 991.0,249.6 992.0,251.5 993.0,252.2 994.0,253.2 995.0,252.4 996.0,252.7 997.0,249.7 998.0,250.8 999.0,251.8 1000.0,250.9 1001.0,251.9 1002.0,253.7 1003.0,250.9 1004.0,254.5 1005.0,252.5 1006.0,253.4 1007.0,253.3 1008.0,253.5 1009.0,251.8 1010.0,250.8 1011.0,250.8 1012.0,252.4 1013.0,253.5 1014.0,250.5 1015.0,250.9 1016.0,250.5 1017.0,251.5 1018.0,252.9 1019.0,250.7 1020.0,249.8 1021.0,253.0 1022.0,253.5 1023.0,249.7 1024.0,252.4 1025.0,253.3 1026.0,250.4 1027.0,251.7 1028.0,252.0 1029.0,250.5 1030.0,249.1 1031.0,250.3 1032.0,253.5 1033.0,249.0 1034.0,250.7 1035.0,250.6 1036.0,252.1 1037.0,253.5 1038.0,250.5 1039.0,249.9 1040.0,251.1 1041.0,249.5 1042.0,250.2 1043.0,250.9 1044.0,251.6 1045.0,252.3 1046.0,249.3 1047.0,252.1 1048.0,251.0 1049.0,252.6 1050.0,250.8 1051.0,250.1 1052.0,250.4 1053.0,252.7 1054.0,251.1 1055.0,252.0 1056.0,251.8 1057.0,253.3 1058.0,251.6 1059.0,251.3 1060.0,251.6 1061.0,249.9 1062.0,253.2 1063.0,251.9 1064.0,247.8 1065.0,248.3 1066.0,252.4 1067.0,251.3 1068.0,252.3 1069.0,254.3 1070.0,252.3 1071.0,247.4 1072.0,250.6 1073.0,250.6 1074.0,251.6 1075.0,249.5 1076.0,249.8 1077.0,250.2 1078.0,248.1 1079.0,251.7 1080.0,251.1 1081.0,252.3 1082.0,250.6 1083.0,250.1 1084.0,252.8 1085.0,249.4 1086.0,248.0 1087.0,251.2 1088.0,251.4 1089.0,249.6 1090.0,249.7 1091.0,250.1 1092.0,251.5 1093.0,251.8 1094.0,250.8 1095.0,251.4 1096.0,249.7 1097.0,250.4 1098.0,248.5 1099.0,250.2 1100.0,250.2 1101.0,250.4 1102.0,250.1 1103.0,250.3 1104.0,248.8 1105.0,250.1 1106.0,248.4 1107.0,251.9 1108.0,253.5 1109.0,252.1 1110.0,250.8 1111.0,252.1 1112.0,253.5 1113.0,249.7 1114.0,251.5 1115.0,247.5 1116.0,253.2 1117.0,250.8 1118.0,252.7 1119.0,250.0 1120.0,253.0 1121.0,250.9 1122.0,248.7 1123.0,248.1 1124.0,248.4 1125.0,249.2 1126.0,248.2 1127.0,251.4 1128.0,249.2 1129.0,251.8 1130.0,251.6 1131.0,249.6 1132.0,250.3 1133.0,248.5 1134.0,249.2 1135.0,249.6 1136.0,252.0 1137.0,251.6 1138.0,251.3 1139.0,253.2 1140.0,250.8 1141.0,251.5 1142.0,250.8 1143.0,251.0 1144.0,251.6 1145.0,253.1 1146.0,249.0 1147.0,251.0 1148.0,251.7 1149.0,249.4 1150.0,252.2 1151.0,252.2 1152.0,250.1 1153.0,252.2 1154.0,250.1 1155.0,250.1 1156.0,251.5 1157.0,253.7 1158.0,250.8 1159.0,250.2 1160.0,249.1 1161.0,250.0 1162.0,250.7 1163.0,252.4 1164.0,250.4 1165.0,249.0 1166.0,251.2 1167.0,249.0 1168.0,249.4 1169.0,249.7 1170.0,250.3 1171.0,249.6 1172.0,251.9 1173.0,250.5 1174.0,251.9 1175.0,250.1 1176.0,250.7 1177.0,250.5 1178.0,251.7 1179.0,248.5 1180.0,248.3 1181.0,252.2 1182.0,249.9 1183.0,250.1 1184.0,251.6 1185.0,249.8 1186.0,252.3 1187.0,252.1 1188.0,249.5 1189.0,248.9 1190.0,250.6 1191.0,252.2 1192.0,252.2 1193.0,251.2 1194.0,250.8 1195.0,251.2 1196.0,249.6 1197.0,250.2 1198.0,250.3 1199.0,249.9 1200.0,249.1 1201.0,251.7 1202.0,250.0 1203.0,252.9 1204.0,250.5 1205.0,251.2 1206.0,253.2 1207.0,250.0 1208.0,250.4 1209.0,249.7 1210.0,250.9 1211.0,253.2 1212.0,251.5 1213.0,249.6 1214.0,252.7 1215.0,250.8 1216.0,248.7 1217.0,251.8 1218.0,251.2 1219.0,249.8 1220.0,251.1 1221.0,251.4 1222.0,251.3 1223.0,249.8 1224.0,251.3 1225.0,245.7 1226.0,247.0 1227.0,248.8 1228.0,249.1 1229.0,250.4 1230.0,252.4 1231.0,250.3 1232.0,251.9 1233.0,251.1 1234.0,252.5 1235.0,250.9 1236.0,249.5 1237.0,252.3 1238.0,247.3 1239.0,249.3 1240.0,248.8 1241.0,248.7 1242.0,248.2 1243.0,250.5 1244.0,252.3 1245.0,250.9 1246.0,252.2 1247.0,252.1 1248.0,249.8 1249.0,252.6 1250.0,253.2 1251.0,250.0 1252.0,249.6 1253.0,250.4 1254.0,251.0 1255.0,249.4 1256.0,251.5 1257.0,249.0 1258.0,251.6 1259.0,250.4 1260.0,250.2 1261.0,250.6 1262.0,251.9 1263.0,251.0 1264.0,249.5 1265.0,251.9 1266.0,250.1 1267.0,249.6 1268.0,251.2 1269.0,251.3 1270.0,252.9 1271.0,250.4 1272.0,252.5 1273.0,248.9 1274.0,250.7 1275.0,252.8 1276.0,251.8 1277.0,252.3 1278.0,250.9 1279.0,249.5 1280.0,248.4 1281.0,251.0 1282.0,251.1 1283.0,249.1 1284.0,250.8 1285.0,249.4 1286.0,249.9 1287.0,250.9 1288.0,249.9 1289.0,252.2 1290.0,250.1 1291.0,251.1 1292.0,251.3 1293.0,250.8 1294.0,250.7 1295.0,250.8 1296.0,248.3 1297.0,249.8 1298.0,251.5 1299.0,251.4 1300.0,251.2 1301.0,251.8 1302.0,250.4 1303.0,249.9 1304.0,250.9 1305.0,252.7 1306.0,252.4 1307.0,252.3 1308.0,251.1 1309.0,251.0 1310.0,250.5 1311.0,250.4 1312.0,250.1 1313.0,250.3 1314.0,250.7 1315.0,252.5 1316.0,252.1 1316.0,259.6 1315.0,261.7 1314.0,261.3 1313.0,259.3 1312.0,257.2 1311.0,260.2 1310.0,259.0 1309.0,260.9 1308.0,259.4 1307.0,261.7 1306.0,257.5 1305.0,259.8 1304.0,260.8 1303.0,260.1 1302.0,258.2 1301.0,260.1 1300.0,259.5 1299.0,258.1 1298.0,257.6 1297.0,257.3 1296.0,258.8 1295.0,259.9 1294.0,257.5 1293.0,257.8 1292.0,259.6 1291.0,259.4 1290.0,260.2 1289.0,259.4 1288.0,259.8 1287.0,263.0 1286.0,260.8 1285.0,258.1 1284.0,259.9 1283.0,259.2 1282.0,258.5 1281.0,259.4 1280.0,257.6 1279.0,259.6 1278.0,262.4 1277.0,260.0 1276.0,261.9 1275.0,259.3 1274.0,260.3 1273.0,255.4 1272.0,259.6 1271.0,260.2 1270.0,259.3 1269.0,258.7 1268.0,262.9 1267.0,259.6 1266.0,259.5 1265.0,259.8 1264.0,260.3 1263.0,259.2 1262.0,263.2 1261.0,259.6 1260.0,259.3 1259.0,259.7 1258.0,259.4 1257.0,261.2 1256.0,260.7 1255.0,258.2 1254.0,260.8 1253.0,258.8 1252.0,258.6 1251.0,260.0 1250.0,260.1 1249.0,258.1 1248.0,260.4 1247.0,259.8 1246.0,260.6 1245.0,258.6 1244.0,260.8 1243.0,258.2 1242.0,257.5 1241.0,259.8 1240.0,258.6 1239.0,258.6 1238.0,257.0 1237.0,260.4 1236.0,256.1 1235.0,260.4 1234.0,261.1 1233.0,260.1 1232.0,262.7 1231.0,258.9 1230.0,262.2 1229.0,262.5 1228.0,258.5 1227.0,259.0 1226.0,259.4 1225.0,256.9 1224.0,257.9 1223.0,257.8 1222.0,259.1 1221.0,259.1 1220.0,263.3 1219.0,261.3 1218.0,258.3 1217.0,259.9 1216.0,258.5 1215.0,259.5 1214.0,261.0 1213.0,259.6 1212.0,259.1 1211.0,259.4 1210.0,261.1 1209.0,261.9 1208.0,258.3 1207.0,259.5 1206.0,258.1 1205.0,259.5 1204.0,261.2 1203.0,255.4 1202.0,260.8 1201.0,260.0 1200.0,257.8 1199.0,259.0 1198.0,260.3 1197.0,259.2 1196.0,261.1 1195.0,259.8 1194.0,259.8 1193.0,258.8 1192.0,260.7 1191.0,257.2 1190.0,260.5 1189.0,259.0 1188.0,260.3 1187.0,260.1 1186.0,259.2 1185.0,259.7 1184.0,259.3 1183.0,261.6 1182.0,258.3 1181.0,258.2 1180.0,258.5 1179.0,258.1 1178.0,259.8 1177.0,259.1 1176.0,260.9 1175.0,260.2 1174.0,258.7 1173.0,259.7 1172.0,261.8 1171.0,260.1 1170.0,261.1 1169.0,261.0 1168.0,256.5 1167.0,260.0 1166.0,258.6 1165.0,258.4 1164.0,261.6 1163.0,258.6 1162.0,260.3 1161.0,258.5 1160.0,259.9 1159.0,261.9 1158.0,259.9 1157.0,259.4 1156.0,260.0 1155.0,260.4 1154.0,260.2 1153.0,260.5 1152.0,259.1 1151.0,257.8 1150.0,261.1 1149.0,260.3 1148.0,259.9 1147.0,258.8 1146.0,258.9 1145.0,261.4 1144.0,260.9 1143.0,258.1 1142.0,258.3 1141.0,259.4 1140.0,260.9 1139.0,258.9 1138.0,261.5 1137.0,259.8 1136.0,259.2 1135.0,258.2 1134.0,259.2 1133.0,262.0 1132.0,259.6 1131.0,257.4 1130.0,259.6 1129.0,260.2 1128.0,257.9 1127.0,259.7 1126.0,260.5 1125.0,256.6 1124.0,260.1 1123.0,256.0 1122.0,258.0 1121.0,259.4 1120.0,257.9 1119.0,259.8 1118.0,260.0 1117.0,258.1 1116.0,258.7 1115.0,260.3 1114.0,259.0 1113.0,263.0 1112.0,261.0 1111.0,260.2 1110.0,259.9 1109.0,260.5 1108.0,261.3 1107.0,260.6 1106.0,259.1 1105.0,261.5 1104.0,259.8 1103.0,259.0 1102.0,262.5 1101.0,259.3 1100.0,260.4 1099.0,259.6 1098.0,258.8 1097.0,260.8 1096.0,259.4 1095.0,259.9 1094.0,260.3 1093.0,259.6 1092.0,260.0 1091.0,261.1 1090.0,260.2 1089.0,256.9 1088.0,261.4 1087.0,259.7 1086.0,260.7 1085.0,259.7 1084.0,259.0 1083.0,261.3 1082.0,261.3 1081.0,259.9 1080.0,260.7 1079.0,260.2 1078.0,259.6 1077.0,258.9 1076.0,260.6 1075.0,258.8 1074.0,258.6 1073.0,260.9 1072.0,258.6 1071.0,258.4 1070.0,260.3 1069.0,260.0 1068.0,262.2 1067.0,261.2 1066.0,258.8 1065.0,260.2 1064.0,259.6 1063.0,260.2 1062.0,257.4 1061.0,259.8 1060.0,259.3 1059.0,260.5 1058.0,259.5 1057.0,259.5 1056.0,259.7 1055.0,260.7 1054.0,261.8 1053.0,259.8 1052.0,261.6 1051.0,261.8 1050.0,260.1 1049.0,260.5 1048.0,259.1 1047.0,261.0 1046.0,262.0 1045.0,259.8 1044.0,258.3 1043.0,261.5 1042.0,258.3 1041.0,259.9 1040.0,258.4 1039.0,260.7 1038.0,258.7 1037.0,259.1 1036.0,260.5 1035.0,259.6 1034.0,260.1 1033.0,262.1 1032.0,258.4 1031.0,258.9 1030.0,258.1 1029.0,259.4 1028.0,257.9 1027.0,260.4 1026.0,257.9 1025.0,262.7 1024.0,262.1 1023.0,260.3 1022.0,257.6 1021.0,261.0 1020.0,261.1 1019.0,258.9 1018.0,257.2 1017.0,260.4 1016.0,260.6 1015.0,259.4 1014.0,259.6 1013.0,259.9 1012.0,261.0 1011.0,260.0 1010.0,261.0 1009.0,259.4 1008.0,259.9 1007.0,260.1 1006.0,261.1 1005.0,258.3 1004.0,259.3 1003.0,263.3 1002.0,260.2 1001.0,259.6 1000.0,260.4 999.0,259.4 998.0,260.0 997.0,260.3 996.0,259.6 995.0,259.2 994.0,262.3 993.0,261.4 992.0,259.4 991.0,258.8 990.0,262.3 989.0,263.3 988.0,264.0 987.0,262.3 986.0,258.9 985.0,259.3 984.0,260.9 983.0,262.6 982.0,261.9 981.0,259.8 980.0,263.0 979.0,259.1 978.0,261.6 977.0,257.4 976.0,260.7 975.0,263.0 974.0,260.6 973.0,260.5 972.0,262.4 971.0,261.8 970.0,259.8 969.0,261.5 968.0,261.1 967.0,261.0 966.0,263.4 965.0,262.3 964.0,261.2 963.0,260.9 962.0,257.5 961.0,263.1 960.0,263.9 959.0,260.2 958.0,262.3 957.0,261.6 956.0,261.6 955.0,259.9 954.0,259.2 953.0,262.0 952.0,260.2 951.0,263.7 950.0,261.2 949.0,263.4 948.0,261.1 947.0,260.8 946.0,261.1 945.0,260.7 944.0,261.1 943.0,261.6 942.0,259.9 941.0,258.5 940.0,260.4 939.0,263.0 938.0,260.9 937.0,258.3 936.0,260.7 935.0,258.1 934.0,263.2 933.0,261.0 932.0,261.4 931.0,263.3 930.0,261.1 929.0,261.8 928.0,259.6 927.0,257.9 926.0,260.0 925.0,260.0 924.0,262.3 923.0,264.1 922.0,260.2 921.0,259.6 920.0,262.0 919.0,263.3 918.0,260.3 917.0,264.1 916.0,262.0 915.0,264.6 914.0,260.0 913.0,261.7 912.0,259.9 911.0,262.3 910.0,259.5 909.0,260.8 908.0,263.2 907.0,261.1 906.0,259.4 905.0,261.2 904.0,261.1 903.0,262.2 902.0,259.9 901.0,260.1 900.0,263.6 899.0,261.5 898.0,259.1 897.0,261.6 896.0,261.5 895.0,259.2 894.0,261.1 893.0,260.9 892.0,261.2 891.0,260.6 890.0,262.6 889.0,260.8 888.0,262.9 887.0,264.0 886.0,260.5 885.0,262.3 884.0,262.3 883.0,260.5 882.0,260.9 881.0,260.9 880.0,263.1 879.0,262.1 878.0,260.9 877.0,261.7 876.0,263.5 875.0,260.8 874.0,260.3 873.0,262.2 872.0,262.9 871.0,258.3 870.0,262.8 869.0,263.2 868.0,261.8 867.0,261.0 866.0,260.0 865.0,260.7 864.0,260.8 863.0,261.0 862.0,261.2 861.0,259.0 860.0,261.9 859.0,261.4 858.0,261.9 857.0,261.7 856.0,262.5 855.0,261.1 854.0,260.0 853.0,259.8 852.0,260.9 851.0,263.3 850.0,261.6 849.0,259.3 848.0,260.3 847.0,261.1 846.0,259.2 845.0,259.3 844.0,259.6 843.0,261.1 842.0,261.2 841.0,261.5 840.0,263.1 839.0,260.9 838.0,260.9 837.0,260.4 836.0,259.0 835.0,262.5 834.0,260.9 833.0,260.4 832.0,261.7 831.0,260.7 830.0,261.3 829.0,263.7 828.0,262.6 827.0,260.6 826.0,263.5" fill="#ffffff" opacity="0.75"/>
<polygon points="826.0,273.1 827.0,270.3 828.0,276.1 829.0,270.0 830.0,271.3 831.0,269.6 832.0,270.9 833.0,272.3 834.0,272.4 835.0,272.5 836.0,270.3 837.0,271.9 838.0,268.6 839.0,270.7 840.0,268.5 841.0,271.5 842.0,267.9 843.0,271.3 844.0,271.2 845.0,268.7 846.0,268.4 847.0,271.0 848.0,268.7 849.0,268.2 850.0,267.5 851.0,271.1 852.0,269.3 853.0,269.0 854.0,271.3 855.0,271.3 856.0,270.6 857.0,271.3 858.0,272.9 859.0,269.4 860.0,270.4 861.0,272.5 862.0,272.3 863.0,272.3 864.0,274.0 865.0,272.0 866.0,272.6 867.0,269.3 868.0,270.6 869.0,270.6 870.0,270.3 871.0,272.0 872.0,268.6 873.0,269.4 874.0,269.0 875.0,268.5 876.0,269.6 877.0,270.1 878.0,270.2 879.0,269.4 880.0,270.0 881.0,269.4 882.0,269.4 883.0,268.1 884.0,270.0 885.0,266.6 886.0,267.3 887.0,269.7 888.0,269.3 889.0,270.5 890.0,269.8 891.0,269.8 892.0,270.8 893.0,268.7 894.0,268.1 895.0,269.7 896.0,266.7 897.0,267.8 898.0,268.7 899.0,269.2 900.0,268.8 901.0,266.0 902.0,267.7 903.0,268.3 904.0,267.9 905.0,267.4 906.0,268.1 907.0,269.6 908.0,268.0 909.0,268.1 910.0,265.7 911.0,269.0 912.0,267.7 913.0,271.4 914.0,269.3 915.0,268.9 916.0,268.0 917.0,267.9 918.0,267.0 919.0,269.2 920.0,268.0 921.0,268.8 922.0,267.2 923.0,269.1 924.0,268.2 925.0,267.9 926.0,267.7 927.0,267.9 928.0,266.5 929.0,267.6 930.0,268.3 931.0,267.8 932.0,268.1 933.0,265.2 934.0,266.7 935.0,269.9 936.0,266.1 937.0,266.8 938.0,264.1 939.0,265.3 940.0,266.0 941.0,268.1 942.0,265.1 943.0,266.9 944.0,266.5 945.0,267.3 946.0,267.6 947.0,264.8 948.0,268.4 949.0,265.7 950.0,268.2 951.0,268.3 952.0,266.8 953.0,266.0 954.0,265.0 955.0,264.1 956.0,264.8 957.0,267.6 958.0,266.6 959.0,268.0 960.0,267.1 961.0,267.0 962.0,267.1 963.0,266.7 964.0,264.2 965.0,267.0 966.0,265.3 967.0,266.4 968.0,265.1 969.0,266.8 970.0,264.4 971.0,265.5 972.0,265.9 973.0,264.9 974.0,264.8 975.0,266.1 976.0,268.3 977.0,266.3 978.0,262.9 979.0,262.9 980.0,263.5 981.0,264.5 982.0,264.9 983.0,266.0 984.0,265.9 985.0,268.0 986.0,266.8 987.0,265.4 988.0,266.4 989.0,265.7 990.0,264.1 991.0,265.1 992.0,267.0 993.0,262.4 994.0,264.8 995.0,265.0 996.0,264.7 997.0,265.1 998.0,262.7 999.0,266.3 1000.0,266.5 1001.0,266.3 1002.0,266.4 1003.0,263.4 1004.0,263.9 1005.0,265.5 1006.0,263.1 1007.0,264.4 1008.0,266.4 1009.0,263.4 1010.0,265.7 1011.0,264.8 1012.0,265.9 1013.0,262.9 1014.0,264.9 1015.0,262.6 1016.0,266.1 1017.0,263.6 1018.0,263.1 1019.0,263.0 1020.0,262.0 1021.0,265.6 1022.0,265.1 1023.0,263.4 1024.0,264.6 1025.0,265.3 1026.0,264.6 1027.0,267.2 1028.0,264.9 1029.0,266.1 1030.0,265.1 1031.0,263.7 1032.0,260.7 1033.0,265.1 1034.0,263.9 1035.0,265.7 1036.0,265.8 1037.0,263.4 1038.0,262.7 1039.0,263.4 1040.0,262.6 1041.0,265.2 1042.0,265.4 1043.0,264.6 1044.0,261.8 1045.0,264.8 1046.0,265.1 1047.0,263.7 1048.0,263.4 1049.0,264.8 1050.0,264.9 1051.0,264.0 1052.0,265.3 1053.0,262.8 1054.0,263.4 1055.0,265.1 1056.0,263.4 1057.0,260.8 1058.0,264.1 1059.0,265.1 1060.0,263.8 1061.0,263.2 1062.0,260.5 1063.0,261.7 1064.0,263.2 1065.0,261.2 1066.0,262.3 1067.0,264.2 1068.0,263.2 1069.0,264.1 1070.0,263.8 1071.0,260.7 1072.0,260.6 1073.0,261.7 1074.0,260.6 1075.0,259.2 1076.0,262.1 1077.0,260.7 1078.0,262.0 1079.0,262.9 1080.0,262.0 1081.0,264.1 1082.0,263.3 1083.0,260.2 1084.0,264.3 1085.0,262.6 1086.0,262.0 1087.0,259.8 1088.0,263.5 1089.0,263.2 1090.0,259.6 1091.0,259.9 1092.0,261.6 1093.0,260.1 1094.0,262.3 1095.0,261.3 1096.0,262.4 1097.0,262.7 1098.0,262.0 1099.0,259.1 1100.0,261.4 1101.0,263.4 1102.0,262.3 1103.0,260.1 1104.0,263.1 1105.0,262.9 1106.0,263.2 1107.0,260.8 1108.0,262.9 1109.0,259.6 1110.0,260.8 1111.0,258.9 1112.0,263.5 1113.0,263.2 1114.0,265.1 1115.0,258.6 1116.0,263.2 1117.0,264.1 1118.0,260.6 1119.0,264.6 1120.0,261.3 1121.0,261.2 1122.0,261.2 1123.0,259.2 1124.0,262.5 1125.0,260.0 1126.0,260.7 1127.0,259.9 1128.0,263.2 1129.0,261.0 1130.0,260.1 1131.0,258.9 1132.0,260.5 1133.0,260.2 1134.0,257.8 1135.0,260.1 1136.0,260.4 1137.0,260.6 1138.0,257.2 1139.0,259.1 1140.0,260.0 1141.0,263.0 1142.0,260.9 1143.0,260.4 1144.0,258.9 1145.0,259.4 1146.0,259.7 1147.0,260.7 1148.0,260.9 1149.0,259.8 1150.0,260.9 1151.0,258.5 1152.0,259.7 1153.0,257.4 1154.0,261.2 1155.0,259.2 1156.0,261.3 1157.0,261.5 1158.0,261.8 1159.0,260.0 1160.0,261.8 1161.0,259.2 1162.0,259.3 1163.0,259.6 1164.0,262.4 1165.0,261.8 1166.0,258.9 1167.0,260.7 1168.0,260.1 1169.0,258.5 1170.0,261.1 1171.0,258.8 1172.0,263.1 1173.0,259.2 1174.0,260.1 1175.0,259.9 1176.0,260.4 1177.0,259.9 1178.0,260.4 1179.0,260.7 1180.0,261.5 1181.0,258.7 1182.0,261.1 1183.0,259.3 1184.0,259.4 1185.0,260.4 1186.0,259.9 1187.0,259.0 1188.0,258.3 1189.0,259.1 1190.0,258.3 1191.0,260.3 1192.0,262.2 1193.0,263.0 1194.0,257.6 1195.0,260.5 1196.0,260.1 1197.0,259.2 1198.0,260.7 1199.0,259.4 1200.0,258.8 1201.0,257.9 1202.0,259.9 1203.0,259.9 1204.0,261.1 1205.0,260.5 1206.0,258.1 1207.0,261.5 1208.0,261.2 1209.0,260.3 1210.0,260.3 1211.0,261.8 1212.0,260.3 1213.0,260.5 1214.0,261.6 1215.0,260.9 1216.0,260.7 1217.0,260.1 1218.0,259.3 1219.0,260.7 1220.0,262.4 1221.0,260.7 1222.0,262.7 1223.0,258.5 1224.0,259.3 1225.0,258.9 1226.0,261.2 1227.0,258.9 1228.0,258.7 1229.0,262.1 1230.0,259.9 1231.0,256.1 1232.0,258.8 1233.0,258.5 1234.0,258.3 1235.0,260.3 1236.0,258.8 1237.0,258.6 1238.0,260.1 1239.0,260.4 1240.0,259.8 1241.0,261.5 1242.0,261.4 1243.0,260.5 1244.0,259.6 1245.0,259.1 1246.0,258.3 1247.0,257.7 1248.0,259.5 1249.0,258.8 1250.0,261.9 1251.0,258.0 1252.0,261.5 1253.0,259.5 1254.0,260.5 1255.0,258.4 1256.0,261.1 1257.0,260.4 1258.0,259.4 1259.0,259.2 1260.0,260.3 1261.0,258.5 1262.0,260.5 1263.0,257.5 1264.0,260.5 1265.0,257.2 1266.0,257.7 1267.0,259.7 1268.0,259.2 1269.0,258.4 1270.0,259.7 1271.0,262.2 1272.0,260.7 1273.0,258.3 1274.0,258.8 1275.0,260.1 1276.0,259.1 1277.0,258.9 1278.0,258.1 1279.0,257.8 1280.0,262.2 1281.0,258.8 1282.0,261.5 1283.0,257.2 1284.0,260.7 1285.0,260.0 1286.0,261.7 1287.0,261.6 1288.0,261.7 1289.0,259.1 1290.0,260.7 1291.0,260.4 1292.0,259.8 1293.0,261.0 1294.0,258.3 1295.0,259.2 1296.0,258.8 1297.0,259.1 1298.0,258.5 1299.0,259.9 1300.0,257.9 1301.0,260.8 1302.0,262.9 1303.0,261.0 1304.0,258.0 1305.0,258.8 1306.0,257.9 1307.0,260.7 1308.0,257.7 1309.0,257.3 1310.0,257.0 1311.0,258.9 1312.0,261.6 1313.0,257.8 1314.0,258.9 1315.0,260.2 1316.0,259.5 1316.0,269.8 1315.0,268.8 1314.0,269.5 1313.0,270.6 1312.0,267.4 1311.0,265.9 1310.0,266.8 1309.0,267.6 1308.0,266.9 1307.0,269.0 1306.0,267.1 1305.0,269.5 1304.0,268.3 1303.0,269.5 1302.0,271.6 1301.0,270.6 1300.0,268.4 1299.0,268.4 1298.0,267.2 1297.0,269.0 1296.0,269.0 1295.0,267.2 1294.0,268.1 1293.0,270.9 1292.0,266.7 1291.0,270.9 1290.0,267.1 1289.0,270.1 1288.0,270.2 1287.0,272.3 1286.0,268.8 1285.0,268.5 1284.0,267.9 1283.0,268.8 1282.0,270.3 1281.0,269.8 1280.0,269.2 1279.0,267.2 1278.0,269.3 1277.0,268.1 1276.0,270.0 1275.0,268.7 1274.0,267.5 1273.0,268.5 1272.0,269.2 1271.0,269.1 1270.0,270.0 1269.0,265.0 1268.0,268.0 1267.0,266.6 1266.0,269.4 1265.0,268.6 1264.0,266.9 1263.0,267.2 1262.0,269.0 1261.0,269.4 1260.0,269.8 1259.0,267.4 1258.0,271.5 1257.0,268.0 1256.0,270.4 1255.0,268.9 1254.0,268.6 1253.0,269.4 1252.0,266.2 1251.0,268.3 1250.0,271.0 1249.0,268.6 1248.0,268.6 1247.0,268.0 1246.0,268.7 1245.0,268.5 1244.0,269.1 1243.0,267.6 1242.0,268.4 1241.0,270.9 1240.0,269.7 1239.0,271.3 1238.0,267.6 1237.0,267.3 1236.0,270.2 1235.0,269.6 1234.0,268.9 1233.0,269.0 1232.0,269.4 1231.0,268.4 1230.0,267.5 1229.0,268.3 1228.0,269.6 1227.0,269.2 1226.0,271.4 1225.0,269.6 1224.0,269.5 1223.0,268.2 1222.0,271.3 1221.0,269.3 1220.0,273.3 1219.0,270.0 1218.0,268.1 1217.0,270.9 1216.0,268.1 1215.0,269.6 1214.0,270.4 1213.0,269.5 1212.0,271.1 1211.0,270.6 1210.0,270.7 1209.0,268.6 1208.0,267.3 1207.0,270.1 1206.0,265.7 1205.0,271.2 1204.0,271.5 1203.0,267.5 1202.0,271.8 1201.0,268.4 1200.0,266.4 1199.0,267.8 1198.0,268.2 1197.0,269.7 1196.0,267.3 1195.0,270.4 1194.0,267.2 1193.0,270.2 1192.0,270.2 1191.0,271.2 1190.0,270.9 1189.0,267.5 1188.0,267.6 1187.0,269.6 1186.0,267.6 1185.0,269.4 1184.0,268.4 1183.0,268.3 1182.0,269.9 1181.0,269.2 1180.0,268.9 1179.0,270.6 1178.0,271.0 1177.0,268.3 1176.0,267.0 1175.0,269.0 1174.0,270.2 1173.0,268.0 1172.0,269.9 1171.0,269.8 1170.0,268.7 1169.0,270.3 1168.0,269.1 1167.0,270.3 1166.0,273.4 1165.0,269.7 1164.0,268.6 1163.0,271.0 1162.0,268.6 1161.0,269.5 1160.0,270.3 1159.0,269.0 1158.0,269.2 1157.0,270.1 1156.0,269.2 1155.0,271.1 1154.0,268.3 1153.0,269.6 1152.0,268.7 1151.0,269.1 1150.0,271.1 1149.0,268.5 1148.0,268.1 1147.0,268.8 1146.0,271.8 1145.0,270.0 1144.0,271.2 1143.0,269.1 1142.0,266.2 1141.0,270.4 1140.0,269.3 1139.0,268.6 1138.0,270.5 1137.0,268.3 1136.0,271.1 1135.0,266.5 1134.0,268.5 1133.0,267.4 1132.0,267.7 1131.0,270.4 1130.0,269.9 1129.0,270.5 1128.0,272.0 1127.0,271.4 1126.0,267.7 1125.0,272.2 1124.0,269.4 1123.0,270.1 1122.0,271.3 1121.0,270.1 1120.0,270.3 1119.0,270.6 1118.0,270.2 1117.0,271.0 1116.0,271.0 1115.0,270.7 1114.0,272.1 1113.0,272.8 1112.0,271.1 1111.0,268.9 1110.0,268.5 1109.0,269.5 1108.0,270.9 1107.0,270.4 1106.0,271.3 1105.0,270.8 1104.0,271.2 1103.0,270.6 1102.0,273.4 1101.0,271.2 1100.0,270.2 1099.0,270.2 1098.0,269.2 1097.0,270.6 1096.0,271.1 1095.0,269.9 1094.0,270.9 1093.0,270.8 1092.0,270.0 1091.0,271.0 1090.0,270.0 1089.0,271.7 1088.0,269.5 1087.0,271.9 1086.0,271.2 1085.0,272.8 1084.0,270.1 1083.0,273.5 1082.0,271.7 1081.0,273.2 1080.0,269.7 1079.0,271.5 1078.0,270.2 1077.0,270.6 1076.0,271.7 1075.0,270.1 1074.0,269.0 1073.0,271.4 1072.0,270.1 1071.0,271.7 1070.0,269.4 1069.0,272.0 1068.0,270.0 1067.0,271.1 1066.0,270.4 1065.0,270.2 1064.0,272.2 1063.0,274.1 1062.0,272.1 1061.0,271.5 1060.0,272.4 1059.0,271.5 1058.0,269.7 1057.0,270.6 1056.0,273.4 1055.0,272.9 1054.0,269.9 1053.0,272.4 1052.0,274.8 1051.0,273.9 1050.0,271.8 1049.0,272.5 1048.0,272.3 1047.0,273.4 1046.0,272.5 1045.0,271.4 1044.0,270.7 1043.0,273.4 1042.0,272.9 1041.0,272.4 1040.0,271.5 1039.0,273.6 1038.0,275.0 1037.0,274.6 1036.0,275.1 1035.0,275.6 1034.0,274.2 1033.0,274.0 1032.0,273.2 1031.0,271.6 1030.0,273.1 1029.0,272.5 1028.0,274.2 1027.0,274.9 1026.0,273.6 1025.0,275.0 1024.0,273.8 1023.0,272.1 1022.0,273.9 1021.0,272.8 1020.0,273.6 1019.0,271.1 1018.0,274.5 1017.0,274.8 1016.0,275.4 1015.0,271.6 1014.0,272.8 1013.0,273.2 1012.0,276.0 1011.0,272.8 1010.0,271.5 1009.0,274.1 1008.0,273.0 1007.0,273.9 1006.0,274.7 1005.0,273.9 1004.0,273.1 1003.0,270.8 1002.0,272.7 1001.0,274.2 1000.0,274.5 999.0,274.1 998.0,275.8 997.0,274.8 996.0,274.9 995.0,273.2 994.0,272.5 993.0,272.7 992.0,273.2 991.0,273.9 990.0,272.3 989.0,273.4 988.0,275.2 987.0,275.5 986.0,272.4 985.0,275.0 984.0,273.5 983.0,274.3 982.0,274.9 981.0,275.8 980.0,274.8 979.0,272.1 978.0,274.3 977.0,274.6 976.0,277.0 975.0,273.7 974.0,276.6 973.0,277.3 972.0,275.0 971.0,275.3 970.0,274.3 969.0,274.6 968.0,275.5 967.0,275.2 966.0,274.7 965.0,275.7 964.0,274.6 963.0,274.6 962.0,275.2 961.0,275.4 960.0,278.3 959.0,277.5 958.0,274.5 957.0,276.9 956.0,274.2 955.0,275.3 954.0,274.6 953.0,275.4 952.0,276.1 951.0,276.1 950.0,277.1 949.0,274.0 948.0,275.7 947.0,275.0 946.0,273.3 945.0,273.8 944.0,275.8 943.0,275.9 942.0,274.9 941.0,275.1 940.0,274.4 939.0,275.8 938.0,276.4 937.0,275.6 936.0,276.2 935.0,276.9 934.0,277.0 933.0,275.8 932.0,273.7 931.0,279.3 930.0,275.8 929.0,278.2 928.0,277.0 927.0,275.9 926.0,277.6 925.0,276.3 924.0,276.9 923.0,277.5 922.0,276.9 921.0,275.1 920.0,276.3 919.0,276.1 918.0,275.2 917.0,278.8 916.0,278.4 915.0,279.2 914.0,276.6 913.0,278.3 912.0,276.3 911.0,278.0 910.0,276.3 909.0,276.6 908.0,276.4 907.0,279.0 906.0,277.9 905.0,275.4 904.0,278.6 903.0,276.5 902.0,278.0 901.0,277.0 900.0,277.9 899.0,279.6 898.0,276.9 897.0,275.9 896.0,278.0 895.0,279.4 894.0,274.9 893.0,279.0 892.0,279.1 891.0,280.0 890.0,277.3 889.0,279.1 888.0,280.7 887.0,278.9 886.0,276.8 885.0,278.9 884.0,277.2 883.0,278.4 882.0,278.1 881.0,278.5 880.0,279.4 879.0,277.3 878.0,279.2 877.0,276.5 876.0,278.0 875.0,279.9 874.0,277.8 873.0,276.9 872.0,279.6 871.0,276.7 870.0,278.0 869.0,279.0 868.0,280.9 867.0,277.9 866.0,280.2 865.0,278.2 864.0,281.3 863.0,280.5 862.0,281.7 861.0,278.1 860.0,281.5 859.0,279.2 858.0,281.7 857.0,279.5 856.0,278.8 855.0,280.3 854.0,280.1 853.0,280.6 852.0,278.9 851.0,276.4 850.0,281.0 849.0,280.6 848.0,278.5 847.0,278.9 846.0,282.0 845.0,279.0 844.0,278.0 843.0,278.3 842.0,276.7 841.0,278.5 840.0,280.7 839.0,281.1 838.0,280.0 837.0,278.2 836.0,279.8 835.0,280.3 834.0,280.7 833.0,281.7 832.0,280.2 831.0,279.5 830.0,280.6 829.0,279.5 828.0,281.8 827.0,280.4 826.0,282.2" fill="#ffffff" opacity="0.75"/>
<polygon points="826.0,293.9 827.0,291.3 828.0,292.1 829.0,292.8 830.0,291.9 831.0,293.5 832.0,289.7 833.0,290.4 834.0,290.6 835.0,289.4 836.0,288.3 837.0,287.4 838.0,290.0 839.0,291.3 840.0,289.5 841.0,288.6 842.0,291.4 843.0,289.9 844.0,291.8 845.0,289.8 846.0,291.9 847.0,289.8 848.0,290.1 849.0,288.2 850.0,289.2 851.0,291.2 852.0,289.5 853.0,288.5 854.0,288.9 855.0,290.7 856.0,290.8 857.0,290.4 858.0,289.4 859.0,288.9 860.0,288.1 861.0,289.9 862.0,287.7 863.0,286.0 864.0,290.3 865.0,289.3 866.0,286.3 867.0,287.6 868.0,287.2 869.0,288.9 870.0,288.1 871.0,288.5 872.0,289.7 873.0,286.4 874.0,288.0 875.0,289.5 876.0,287.3 877.0,286.1 878.0,288.7 879.0,285.9 880.0,284.9 881.0,289.6 882.0,287.2 883.0,287.3 884.0,287.5 885.0,287.3 886.0,286.9 887.0,286.8 888.0,284.1 889.0,284.3 890.0,285.4 891.0,286.4 892.0,284.7 893.0,285.8 894.0,286.0 895.0,286.5 896.0,286.4 897.0,285.9 898.0,285.8 899.0,286.0 900.0,283.6 901.0,285.7 902.0,284.0 903.0,286.3 904.0,284.7 905.0,285.2 906.0,286.8 907.0,282.8 908.0,287.4 909.0,286.4 910.0,284.9 911.0,286.5 912.0,284.9 913.0,283.8 914.0,283.5 915.0,283.0 916.0,284.6 917.0,285.4 918.0,281.5 919.0,283.8 920.0,283.5 921.0,284.2 922.0,284.0 923.0,284.2 924.0,285.6 925.0,282.1 926.0,286.9 927.0,284.7 928.0,284.9 929.0,281.9 930.0,284.9 931.0,285.4 932.0,283.4 933.0,285.1 934.0,282.5 935.0,283.2 936.0,284.1 937.0,284.9 938.0,285.9 939.0,282.8 940.0,282.9 941.0,280.7 942.0,281.1 943.0,282.0 944.0,283.1 945.0,283.3 946.0,282.2 947.0,278.9 948.0,279.4 949.0,281.3 950.0,281.6 951.0,283.4 952.0,280.2 953.0,283.1 954.0,281.7 955.0,281.4 956.0,282.9 957.0,282.9 958.0,281.4 959.0,282.6 960.0,281.0 961.0,281.7 962.0,280.1 963.0,278.7 964.0,277.3 965.0,281.5 966.0,280.4 967.0,279.8 968.0,281.0 969.0,278.3 970.0,280.1 971.0,281.0 972.0,279.6 973.0,279.2 974.0,279.9 975.0,280.8 976.0,281.1 977.0,283.0 978.0,278.2 979.0,278.4 980.0,278.3 981.0,281.1 982.0,278.0 983.0,280.3 984.0,280.6 985.0,283.4 986.0,280.0 987.0,278.9 988.0,277.6 989.0,280.3 990.0,279.6 991.0,278.8 992.0,279.1 993.0,280.8 994.0,278.7 995.0,279.7 996.0,279.8 997.0,279.4 998.0,276.8 999.0,278.0 1000.0,278.1 1001.0,276.3 1002.0,278.8 1003.0,278.4 1004.0,276.7 1005.0,278.9 1006.0,279.9 1007.0,279.8 1008.0,281.9 1009.0,277.9 1010.0,277.1 1011.0,277.3 1012.0,278.4 1013.0,275.4 1014.0,278.6 1015.0,277.9 1016.0,278.2 1017.0,276.9 1018.0,279.8 1019.0,276.6 1020.0,279.5 1021.0,279.0 1022.0,276.8 1023.0,276.8 1024.0,275.9 1025.0,277.8 1026.0,278.4 1027.0,277.3 1028.0,279.3 1029.0,276.0 1030.0,275.1 1031.0,276.2 1032.0,277.2 1033.0,276.1 1034.0,277.1 1035.0,276.3 1036.0,274.5 1037.0,276.4 1038.0,277.0 1039.0,277.1 1040.0,275.7 1041.0,277.3 1042.0,273.8 1043.0,276.8 1044.0,273.3 1045.0,273.9 1046.0,275.6 1047.0,275.8 1048.0,274.6 1049.0,276.7 1050.0,275.9 1051.0,275.7 1052.0,272.5 1053.0,274.3 1054.0,274.0 1055.0,275.0 1056.0,273.5 1057.0,273.0 1058.0,275.4 1059.0,272.7 1060.0,276.2 1061.0,275.1 1062.0,277.3 1063.0,273.0 1064.0,274.7 1065.0,273.5 1066.0,271.2 1067.0,274.0 1068.0,273.3 1069.0,271.5 1070.0,272.0 1071.0,271.6 1072.0,273.8 1073.0,273.5 1074.0,274.1 1075.0,274.4 1076.0,272.8 1077.0,272.7 1078.0,272.8 1079.0,272.0 1080.0,272.1 1081.0,273.2 1082.0,274.5 1083.0,272.5 1084.0,272.5 1085.0,270.4 1086.0,270.1 1087.0,274.0 1088.0,271.4 1089.0,271.6 1090.0,271.9 1091.0,273.2 1092.0,273.0 1093.0,273.5 1094.0,273.1 1095.0,271.1 1096.0,272.4 1097.0,270.0 1098.0,271.0 1099.0,273.9 1100.0,272.8 1101.0,272.0 1102.0,270.2 1103.0,270.6 1104.0,269.6 1105.0,272.3 1106.0,271.1 1107.0,270.4 1108.0,271.5 1109.0,270.2 1110.0,272.3 1111.0,269.9 1112.0,271.6 1113.0,272.1 1114.0,273.0 1115.0,268.9 1116.0,270.4 1117.0,270.4 1118.0,271.6 1119.0,272.1 1120.0,269.9 1121.0,270.6 1122.0,271.4 1123.0,271.2 1124.0,270.9 1125.0,271.6 1126.0,271.4 1127.0,271.4 1128.0,271.4 1129.0,266.9 1130.0,266.9 1131.0,271.6 1132.0,269.2 1133.0,270.0 1134.0,266.9 1135.0,267.3 1136.0,269.3 1137.0,270.8 1138.0,270.2 1139.0,270.9 1140.0,269.2 1141.0,271.3 1142.0,269.6 1143.0,269.0 1144.0,264.2 1145.0,270.2 1146.0,267.9 1147.0,267.6 1148.0,268.7 1149.0,268.6 1150.0,270.6 1151.0,270.0 1152.0,270.1 1153.0,271.3 1154.0,269.2 1155.0,271.0 1156.0,270.0 1157.0,271.0 1158.0,267.6 1159.0,268.5 1160.0,267.7 1161.0,268.6 1162.0,267.9 1163.0,267.2 1164.0,269.0 1165.0,265.7 1166.0,268.7 1167.0,269.7 1168.0,270.1 1169.0,272.7 1170.0,267.2 1171.0,268.3 1172.0,269.4 1173.0,266.8 1174.0,270.6 1175.0,268.6 1176.0,267.8 1177.0,266.8 1178.0,266.0 1179.0,266.6 1180.0,267.2 1181.0,271.1 1182.0,266.6 1183.0,268.2 1184.0,267.4 1185.0,266.3 1186.0,266.5 1187.0,266.1 1188.0,268.0 1189.0,270.0 1190.0,268.4 1191.0,267.5 1192.0,269.2 1193.0,264.2 1194.0,265.9 1195.0,269.8 1196.0,264.8 1197.0,267.4 1198.0,267.1 1199.0,266.1 1200.0,266.1 1201.0,265.4 1202.0,267.6 1203.0,267.3 1204.0,268.2 1205.0,267.0 1206.0,267.5 1207.0,265.4 1208.0,267.2 1209.0,263.4 1210.0,265.5 1211.0,267.9 1212.0,265.1 1213.0,266.6 1214.0,265.6 1215.0,266.8 1216.0,268.5 1217.0,265.7 1218.0,267.8 1219.0,269.3 1220.0,266.8 1221.0,265.2 1222.0,266.0 1223.0,265.6 1224.0,269.3 1225.0,265.4 1226.0,268.2 1227.0,265.2 1228.0,266.6 1229.0,262.4 1230.0,265.8 1231.0,266.1 1232.0,265.1 1233.0,265.2 1234.0,267.2 1235.0,266.9 1236.0,266.4 1237.0,265.0 1238.0,267.6 1239.0,264.4 1240.0,264.4 1241.0,265.8 1242.0,265.3 1243.0,265.7 1244.0,265.1 1245.0,264.5 1246.0,266.4 1247.0,266.2 1248.0,264.5 1249.0,263.4 1250.0,266.3 1251.0,266.5 1252.0,266.3 1253.0,264.4 1254.0,265.1 1255.0,264.3 1256.0,266.3 1257.0,262.4 1258.0,266.7 1259.0,265.7 1260.0,266.3 1261.0,266.2 1262.0,264.0 1263.0,265.2 1264.0,262.9 1265.0,266.3 1266.0,264.8 1267.0,268.3 1268.0,264.8 1269.0,265.5 1270.0,266.4 1271.0,264.9 1272.0,264.5 1273.0,261.9 1274.0,264.0 1275.0,267.0 1276.0,260.6 1277.0,263.5 1278.0,263.9 1279.0,265.2 1280.0,264.5 1281.0,265.1 1282.0,261.5 1283.0,262.9 1284.0,263.8 1285.0,262.9 1286.0,264.3 1287.0,263.7 1288.0,263.8 1289.0,263.3 1290.0,263.5 1291.0,265.6 1292.0,263.0 1293.0,264.9 1294.0,263.2 1295.0,261.8 1296.0,264.1 1297.0,263.9 1298.0,262.7 1299.0,266.0 1300.0,261.8 1301.0,262.4 1302.0,263.6 1303.0,264.1 1304.0,263.1 1305.0,264.1 1306.0,265.6 1307.0,262.8 1308.0,263.5 1309.0,263.7 1310.0,262.1 1311.0,264.3 1312.0,261.4 1313.0,263.0 1314.0,262.4 1315.0,262.1 1316.0,262.7 1316.0,273.2 1315.0,273.1 1314.0,271.0 1313.0,273.8 1312.0,271.3 1311.0,271.9 1310.0,272.6 1309.0,271.7 1308.0,272.6 1307.0,273.5 1306.0,271.4 1305.0,270.9 1304.0,270.1 1303.0,273.0 1302.0,274.1 1301.0,272.5 1300.0,270.3 1299.0,273.0 1298.0,273.1 1297.0,273.5 1296.0,276.8 1295.0,271.3 1294.0,274.1 1293.0,271.3 1292.0,270.6 1291.0,272.4 1290.0,272.4 1289.0,273.1 1288.0,272.8 1287.0,271.3 1286.0,272.6 1285.0,272.7 1284.0,272.0 1283.0,270.3 1282.0,269.9 1281.0,273.3 1280.0,271.9 1279.0,274.6 1278.0,273.3 1277.0,273.6 1276.0,274.4 1275.0,270.7 1274.0,274.7 1273.0,272.9 1272.0,272.3 1271.0,276.2 1270.0,276.3 1269.0,272.4 1268.0,273.1 1267.0,276.6 1266.0,275.2 1265.0,274.2 1264.0,274.6 1263.0,274.9 1262.0,272.8 1261.0,275.9 1260.0,273.8 1259.0,275.2 1258.0,274.4 1257.0,274.6 1256.0,272.6 1255.0,273.0 1254.0,276.0 1253.0,275.3 1252.0,277.2 1251.0,275.1 1250.0,275.7 1249.0,275.2 1248.0,273.8 1247.0,272.9 1246.0,272.5 1245.0,271.0 1244.0,277.4 1243.0,275.5 1242.0,277.6 1241.0,275.0 1240.0,273.0 1239.0,273.1 1238.0,270.9 1237.0,274.0 1236.0,277.0 1235.0,276.5 1234.0,275.2 1233.0,272.6 1232.0,274.7 1231.0,277.3 1230.0,278.3 1229.0,275.3 1228.0,273.2 1227.0,275.0 1226.0,275.8 1225.0,275.4 1224.0,277.3 1223.0,275.7 1222.0,273.6 1221.0,273.7 1220.0,275.2 1219.0,277.4 1218.0,276.6 1217.0,277.1 1216.0,275.0 1215.0,276.3 1214.0,276.2 1213.0,276.1 1212.0,276.2 1211.0,276.7 1210.0,275.1 1209.0,276.4 1208.0,278.0 1207.0,274.9 1206.0,276.3 1205.0,274.4 1204.0,278.8 1203.0,272.2 1202.0,275.9 1201.0,277.2 1200.0,275.5 1199.0,274.2 1198.0,274.8 1197.0,274.5 1196.0,277.0 1195.0,278.0 1194.0,274.4 1193.0,276.4 1192.0,277.8 1191.0,275.0 1190.0,275.1 1189.0,279.6 1188.0,276.8 1187.0,274.5 1186.0,275.0 1185.0,273.8 1184.0,278.0 1183.0,276.9 1182.0,276.8 1181.0,278.9 1180.0,279.0 1179.0,276.2 1178.0,278.1 1177.0,277.6 1176.0,277.0 1175.0,277.9 1174.0,277.3 1173.0,276.9 1172.0,276.3 1171.0,276.6 1170.0,277.1 1169.0,278.1 1168.0,278.1 1167.0,278.6 1166.0,276.7 1165.0,276.2 1164.0,278.6 1163.0,279.1 1162.0,276.1 1161.0,276.1 1160.0,278.4 1159.0,277.7 1158.0,278.9 1157.0,277.7 1156.0,278.5 1155.0,279.2 1154.0,278.7 1153.0,279.1 1152.0,280.8 1151.0,276.1 1150.0,278.7 1149.0,277.5 1148.0,277.8 1147.0,277.0 1146.0,277.1 1145.0,278.3 1144.0,276.7 1143.0,277.2 1142.0,277.8 1141.0,277.8 1140.0,277.9 1139.0,278.7 1138.0,280.5 1137.0,279.6 1136.0,279.2 1135.0,280.2 1134.0,280.5 1133.0,279.4 1132.0,278.7 1131.0,277.1 1130.0,279.1 1129.0,278.3 1128.0,277.6 1127.0,280.3 1126.0,279.3 1125.0,279.5 1124.0,279.8 1123.0,281.7 1122.0,282.0 1121.0,279.6 1120.0,279.1 1119.0,279.6 1118.0,278.1 1117.0,279.9 1116.0,278.3 1115.0,275.6 1114.0,279.1 1113.0,279.1 1112.0,280.1 1111.0,279.2 1110.0,278.0 1109.0,277.4 1108.0,281.5 1107.0,279.0 1106.0,279.3 1105.0,281.4 1104.0,279.0 1103.0,279.3 1102.0,279.3 1101.0,280.2 1100.0,283.2 1099.0,281.4 1098.0,281.4 1097.0,282.4 1096.0,280.5 1095.0,280.1 1094.0,282.2 1093.0,279.8 1092.0,279.4 1091.0,281.3 1090.0,281.2 1089.0,280.8 1088.0,278.7 1087.0,281.9 1086.0,281.8 1085.0,280.9 1084.0,282.4 1083.0,281.6 1082.0,284.5 1081.0,281.5 1080.0,281.3 1079.0,283.2 1078.0,281.6 1077.0,283.0 1076.0,283.5 1075.0,282.6 1074.0,284.6 1073.0,281.0 1072.0,281.6 1071.0,282.4 1070.0,280.8 1069.0,283.9 1068.0,282.6 1067.0,283.4 1066.0,283.9 1065.0,281.9 1064.0,281.0 1063.0,283.5 1062.0,286.0 1061.0,284.7 1060.0,284.5 1059.0,283.4 1058.0,283.6 1057.0,284.5 1056.0,282.8 1055.0,285.4 1054.0,282.9 1053.0,282.8 1052.0,282.6 1051.0,284.1 1050.0,284.0 1049.0,287.3 1048.0,284.2 1047.0,284.0 1046.0,284.4 1045.0,282.9 1044.0,285.8 1043.0,283.4 1042.0,284.6 1041.0,285.5 1040.0,287.9 1039.0,284.8 1038.0,286.0 1037.0,285.6 1036.0,285.2 1035.0,285.4 1034.0,286.2 1033.0,285.1 1032.0,289.3 1031.0,287.3 1030.0,285.6 1029.0,285.9 1028.0,286.4 1027.0,286.1 1026.0,286.1 1025.0,285.1 1024.0,283.6 1023.0,286.3 1022.0,287.2 1021.0,289.0 1020.0,288.0 1019.0,286.2 1018.0,288.2 1017.0,285.9 1016.0,287.9 1015.0,287.7 1014.0,286.6 1013.0,286.2 1012.0,284.3 1011.0,285.8 1010.0,285.8 1009.0,287.7 1008.0,288.0 1007.0,287.3 1006.0,287.3 1005.0,286.0 1004.0,287.8 1003.0,287.2 1002.0,287.2 1001.0,286.4 1000.0,287.2 999.0,285.7 998.0,287.3 997.0,285.6 996.0,285.1 995.0,285.5 994.0,287.9 993.0,287.8 992.0,287.8 991.0,288.8 990.0,287.1 989.0,286.7 988.0,289.0 987.0,284.9 986.0,288.4 985.0,290.1 984.0,290.9 983.0,286.9 982.0,289.8 981.0,290.0 980.0,287.9 979.0,284.9 978.0,287.3 977.0,289.2 976.0,287.6 975.0,287.2 974.0,288.2 973.0,288.4 972.0,288.7 971.0,288.9 970.0,287.5 969.0,287.5 968.0,286.9 967.0,289.5 966.0,287.0 965.0,289.3 964.0,289.1 963.0,289.4 962.0,291.5 961.0,288.3 960.0,291.0 959.0,289.9 958.0,289.9 957.0,290.0 956.0,291.9 955.0,291.7 954.0,290.8 953.0,294.3 952.0,293.2 951.0,289.6 950.0,291.7 949.0,289.8 948.0,290.0 947.0,291.7 946.0,287.8 945.0,293.0 944.0,290.2 943.0,290.6 942.0,291.3 941.0,288.6 940.0,290.4 939.0,293.5 938.0,292.1 937.0,294.3 936.0,292.8 935.0,292.1 934.0,290.4 933.0,291.5 932.0,295.2 931.0,294.0 930.0,292.0 929.0,291.0 928.0,290.2 927.0,293.1 926.0,292.8 925.0,291.3 924.0,294.1 923.0,294.0 922.0,291.6 921.0,294.2 920.0,293.2 919.0,293.5 918.0,293.5 917.0,292.9 916.0,288.9 915.0,292.5 914.0,291.8 913.0,294.3 912.0,291.0 911.0,296.2 910.0,295.4 909.0,294.3 908.0,295.0 907.0,294.5 906.0,294.4 905.0,295.1 904.0,294.0 903.0,294.1 902.0,293.4 901.0,295.2 900.0,295.5 899.0,295.3 898.0,294.2 897.0,294.2 896.0,295.2 895.0,295.8 894.0,296.8 893.0,293.3 892.0,294.9 891.0,293.8 890.0,295.3 889.0,295.6 888.0,297.4 887.0,296.8 886.0,298.2 885.0,295.6 884.0,293.3 883.0,294.4 882.0,297.1 881.0,295.7 880.0,295.9 879.0,295.2 878.0,294.5 877.0,293.9 876.0,298.1 875.0,296.3 874.0,298.5 873.0,298.2 872.0,296.3 871.0,298.1 870.0,298.1 869.0,297.1 868.0,296.2 867.0,297.1 866.0,297.7 865.0,297.8 864.0,297.8 863.0,296.9 862.0,296.0 861.0,297.5 860.0,299.1 859.0,298.6 858.0,299.8 857.0,298.8 856.0,298.2 855.0,298.2 854.0,299.0 853.0,299.8 852.0,299.3 851.0,298.4 850.0,298.4 849.0,298.7 848.0,297.7 847.0,297.6 846.0,299.3 845.0,298.9 844.0,297.3 843.0,299.8 842.0,300.6 841.0,298.0 840.0,299.5 839.0,301.5 838.0,297.0 837.0,299.2 836.0,301.8 835.0,297.4 834.0,298.6 833.0,297.6 832.0,299.7 831.0,301.2 830.0,302.9 829.0,302.3 828.0,301.4 827.0,301.2 826.0,302.1" fill="#ffffff" opacity="0.75"/>
<polygon points="826.0,371.7 827.0,367.0 828.0,368.4 829.0,368.0 830.0,371.3 831.0,367.7 832.0,370.2 833.0,368.3 834.0,368.1 835.0,366.2 836.0,368.9 837.0,363.9 838.0,366.2 839.0,364.1 840.0,364.6 841.0,363.4 842.0,363.2 843.0,364.1 844.0,363.9 845.0,363.6 846.0,361.8 847.0,360.3 848.0,362.2 849.0,360.3 850.0,361.6 851.0,359.9 852.0,360.8 853.0,360.2 854.0,359.8 855.0,361.7 856.0,358.1 857.0,359.5 858.0,358.6 859.0,359.1 860.0,357.9 861.0,356.2 862.0,356.7 863.0,357.0 864.0,353.4 865.0,354.4 866.0,358.0 867.0,356.8 868.0,353.8 869.0,355.3 870.0,353.2 871.0,353.0 872.0,354.4 873.0,350.7 874.0,350.5 875.0,351.0 876.0,350.1 877.0,347.9 878.0,352.1 879.0,350.2 880.0,352.3 881.0,352.6 882.0,350.1 883.0,347.1 884.0,347.5 885.0,346.6 886.0,347.1 887.0,351.8 888.0,345.6 889.0,344.9 890.0,346.2 891.0,347.5 892.0,343.7 893.0,345.6 894.0,342.0 895.0,341.7 896.0,343.3 897.0,340.9 898.0,341.9 899.0,342.0 900.0,343.3 901.0,341.5 902.0,342.9 903.0,340.0 904.0,340.2 905.0,336.7 906.0,340.1 907.0,339.6 908.0,340.9 909.0,339.2 910.0,338.5 911.0,338.6 912.0,337.7 913.0,337.8 914.0,337.3 915.0,336.5 916.0,336.2 917.0,337.5 918.0,338.6 919.0,336.4 920.0,337.4 921.0,333.8 922.0,335.8 923.0,333.0 924.0,334.8 925.0,336.1 926.0,333.1 927.0,332.2 928.0,333.5 929.0,334.8 930.0,333.1 931.0,333.7 932.0,331.5 933.0,334.0 934.0,331.9 935.0,330.8 936.0,332.3 937.0,328.7 938.0,330.7 939.0,331.1 940.0,330.0 941.0,326.7 942.0,328.6 943.0,327.9 944.0,327.3 945.0,326.4 946.0,326.1 947.0,326.0 948.0,324.3 949.0,325.9 950.0,322.8 951.0,326.2 952.0,327.1 953.0,323.0 954.0,325.5 955.0,323.0 956.0,326.5 957.0,325.7 958.0,324.7 959.0,324.1 960.0,324.1 961.0,322.2 962.0,322.4 963.0,324.8 964.0,322.2 965.0,323.4 966.0,320.0 967.0,320.4 968.0,320.6 969.0,319.6 970.0,319.9 971.0,320.5 972.0,319.7 973.0,319.9 974.0,319.5 975.0,319.8 976.0,320.3 977.0,320.4 978.0,318.5 979.0,320.1 980.0,316.5 981.0,315.4 982.0,317.0 983.0,316.8 984.0,317.3 985.0,313.4 986.0,316.4 987.0,315.1 988.0,318.0 989.0,315.1 990.0,315.5 991.0,314.7 992.0,312.7 993.0,315.1 994.0,313.8 995.0,314.3 996.0,312.2 997.0,316.8 998.0,312.1 999.0,312.9 1000.0,310.4 1001.0,310.3 1002.0,309.6 1003.0,312.6 1004.0,311.8 1005.0,308.5 1006.0,310.3 1007.0,310.6 1008.0,312.2 1009.0,310.4 1010.0,308.5 1011.0,308.0 1012.0,309.5 1013.0,308.5 1014.0,308.5 1015.0,308.6 1016.0,309.0 1017.0,307.5 1018.0,307.7 1019.0,304.6 1020.0,305.9 1021.0,306.9 1022.0,306.9 1023.0,306.2 1024.0,306.5 1025.0,306.8 1026.0,305.5 1027.0,307.9 1028.0,306.4 1029.0,306.1 1030.0,305.0 1031.0,304.3 1032.0,307.9 1033.0,305.8 1034.0,305.4 1035.0,302.2 1036.0,306.0 1037.0,303.2 1038.0,302.0 1039.0,305.1 1040.0,300.2 1041.0,301.7 1042.0,303.1 1043.0,302.4 1044.0,301.6 1045.0,302.7 1046.0,301.0 1047.0,299.8 1048.0,301.7 1049.0,301.6 1050.0,301.0 1051.0,302.9 1052.0,301.4 1053.0,302.1 1054.0,299.5 1055.0,301.1 1056.0,301.1 1057.0,300.2 1058.0,298.9 1059.0,298.1 1060.0,301.5 1061.0,297.8 1062.0,300.2 1063.0,296.9 1064.0,296.9 1065.0,296.9 1066.0,296.6 1067.0,299.0 1068.0,296.3 1069.0,295.8 1070.0,295.3 1071.0,299.1 1072.0,296.3 1073.0,296.6 1074.0,296.6 1075.0,295.0 1076.0,295.0 1077.0,296.5 1078.0,297.4 1079.0,294.9 1080.0,293.5 1081.0,293.1 1082.0,294.1 1083.0,295.4 1084.0,294.9 1085.0,293.9 1086.0,295.7 1087.0,296.4 1088.0,296.6 1089.0,295.7 1090.0,295.5 1091.0,296.9 1092.0,291.9 1093.0,292.7 1094.0,292.7 1095.0,295.8 1096.0,295.3 1097.0,291.8 1098.0,293.7 1099.0,294.3 1100.0,293.5 1101.0,295.7 1102.0,295.7 1103.0,297.9 1104.0,294.5 1105.0,294.6 1106.0,294.2 1107.0,295.1 1108.0,294.9 1109.0,295.2 1110.0,292.2 1111.0,293.9 1112.0,296.9 1113.0,295.7 1114.0,296.0 1115.0,294.0 1116.0,293.2 1117.0,292.7 1118.0,293.9 1119.0,294.5 1120.0,294.3 1121.0,291.9 1122.0,292.5 1123.0,292.2 1124.0,291.1 1125.0,291.4 1126.0,293.0 1127.0,291.8 1128.0,295.9 1129.0,293.5 1130.0,293.7 1131.0,291.6 1132.0,296.7 1133.0,290.3 1134.0,292.4 1135.0,290.8 1136.0,293.9 1137.0,292.1 1138.0,293.8 1139.0,293.0 1140.0,292.1 1141.0,293.1 1142.0,294.7 1143.0,294.3 1144.0,291.0 1145.0,290.6 1146.0,289.5 1147.0,294.0 1148.0,296.5 1149.0,290.7 1150.0,290.4 1151.0,292.6 1152.0,291.4 1153.0,292.4 1154.0,289.8 1155.0,290.7 1156.0,291.0 1157.0,293.2 1158.0,290.4 1159.0,291.0 1160.0,291.7 1161.0,289.5 1162.0,290.6 1163.0,291.2 1164.0,291.1 1165.0,291.8 1166.0,290.8 1167.0,291.0 1168.0,289.5 1169.0,290.6 1170.0,290.6 1171.0,291.7 1172.0,291.3 1173.0,291.7 1174.0,288.6 1175.0,289.6 1176.0,290.8 1177.0,291.5 1178.0,291.1 1179.0,293.7 1180.0,287.6 1181.0,288.9 1182.0,287.7 1183.0,288.9 1184.0,289.2 1185.0,289.9 1186.0,289.8 1187.0,290.1 1188.0,289.0 1189.0,287.8 1190.0,289.3 1191.0,289.9 1192.0,286.1 1193.0,289.2 1194.0,288.1 1195.0,288.5 1196.0,287.5 1197.0,287.7 1198.0,289.5 1199.0,287.4 1200.0,287.4 1201.0,291.2 1202.0,290.0 1203.0,290.0 1204.0,288.6 1205.0,289.1 1206.0,289.7 1207.0,288.6 1208.0,287.7 1209.0,286.3 1210.0,286.2 1211.0,286.7 1212.0,288.4 1213.0,286.6 1214.0,288.1 1215.0,288.2 1216.0,285.3 1217.0,286.5 1218.0,289.4 1219.0,287.3 1220.0,286.4 1221.0,286.4 1222.0,286.7 1223.0,286.1 1224.0,286.9 1225.0,287.7 1226.0,287.5 1227.0,286.8 1228.0,286.6 1229.0,285.2 1230.0,286.3 1231.0,285.6 1232.0,286.2 1233.0,286.8 1234.0,288.3 1235.0,284.2 1236.0,287.9 1237.0,287.7 1238.0,285.8 1239.0,287.2 1240.0,286.9 1241.0,287.4 1242.0,286.0 1243.0,286.2 1244.0,282.5 1245.0,287.2 1246.0,283.9 1247.0,286.1 1248.0,282.3 1249.0,283.1 1250.0,282.9 1251.0,283.9 1252.0,285.1 1253.0,285.8 1254.0,284.9 1255.0,284.1 1256.0,282.2 1257.0,283.9 1258.0,283.2 1259.0,283.5 1260.0,285.2 1261.0,284.2 1262.0,285.8 1263.0,283.0 1264.0,284.2 1265.0,286.9 1266.0,282.4 1267.0,282.9 1268.0,283.0 1269.0,281.5 1270.0,282.5 1271.0,283.9 1272.0,284.1 1273.0,282.7 1274.0,281.1 1275.0,283.8 1276.0,287.2 1277.0,284.6 1278.0,280.4 1279.0,282.2 1280.0,282.4 1281.0,285.3 1282.0,278.9 1283.0,280.7 1284.0,279.8 1285.0,280.9 1286.0,282.0 1287.0,280.1 1288.0,282.1 1289.0,283.1 1290.0,281.1 1291.0,283.4 1292.0,280.2 1293.0,280.9 1294.0,281.0 1295.0,279.3 1296.0,283.0 1297.0,282.3 1298.0,279.4 1299.0,280.2 1300.0,284.2 1301.0,279.5 1302.0,279.6 1303.0,279.9 1304.0,282.0 1305.0,282.3 1306.0,280.8 1307.0,280.7 1308.0,282.5 1309.0,282.4 1310.0,279.3 1311.0,281.9 1312.0,279.1 1313.0,280.5 1314.0,281.1 1315.0,279.1 1316.0,280.9 1316.0,290.4 1315.0,290.9 1314.0,289.0 1313.0,288.8 1312.0,289.9 1311.0,289.0 1310.0,287.6 1309.0,289.2 1308.0,290.7 1307.0,291.6 1306.0,288.3 1305.0,290.7 1304.0,290.4 1303.0,288.4 1302.0,288.8 1301.0,291.3 1300.0,291.6 1299.0,289.7 1298.0,290.3 1297.0,290.0 1296.0,290.1 1295.0,288.9 1294.0,289.7 1293.0,290.8 1292.0,290.7 1291.0,290.8 1290.0,288.9 1289.0,289.1 1288.0,288.6 1287.0,291.6 1286.0,292.1 1285.0,289.5 1284.0,292.5 1283.0,290.2 1282.0,288.9 1281.0,293.1 1280.0,289.6 1279.0,292.3 1278.0,290.1 1277.0,290.9 1276.0,290.9 1275.0,291.6 1274.0,292.8 1273.0,293.1 1272.0,293.1 1271.0,294.6 1270.0,291.1 1269.0,288.5 1268.0,291.8 1267.0,291.9 1266.0,289.8 1265.0,292.3 1264.0,293.0 1263.0,294.1 1262.0,292.3 1261.0,292.6 1260.0,292.6 1259.0,292.0 1258.0,292.4 1257.0,292.4 1256.0,293.6 1255.0,293.1 1254.0,291.6 1253.0,293.5 1252.0,293.2 1251.0,294.1 1250.0,292.0 1249.0,293.5 1248.0,293.7 1247.0,292.7 1246.0,295.8 1245.0,297.5 1244.0,294.3 1243.0,292.8 1242.0,292.5 1241.0,296.5 1240.0,294.9 1239.0,294.1 1238.0,295.3 1237.0,297.2 1236.0,295.7 1235.0,295.2 1234.0,297.1 1233.0,295.3 1232.0,296.1 1231.0,294.8 1230.0,296.1 1229.0,296.4 1228.0,295.0 1227.0,295.1 1226.0,296.0 1225.0,296.4 1224.0,294.2 1223.0,296.4 1222.0,296.8 1221.0,294.4 1220.0,296.3 1219.0,297.6 1218.0,296.6 1217.0,296.6 1216.0,294.5 1215.0,298.3 1214.0,295.3 1213.0,296.8 1212.0,294.6 1211.0,296.0 1210.0,295.9 1209.0,296.3 1208.0,295.0 1207.0,296.7 1206.0,300.1 1205.0,300.4 1204.0,299.3 1203.0,298.0 1202.0,299.5 1201.0,298.2 1200.0,296.6 1199.0,297.8 1198.0,295.7 1197.0,296.0 1196.0,296.9 1195.0,294.9 1194.0,295.7 1193.0,297.6 1192.0,297.2 1191.0,297.0 1190.0,298.1 1189.0,300.0 1188.0,299.0 1187.0,299.3 1186.0,299.1 1185.0,297.5 1184.0,297.7 1183.0,299.1 1182.0,299.7 1181.0,298.8 1180.0,300.6 1179.0,301.5 1178.0,298.2 1177.0,301.0 1176.0,300.8 1175.0,298.8 1174.0,301.4 1173.0,299.9 1172.0,299.6 1171.0,301.1 1170.0,300.3 1169.0,301.3 1168.0,298.6 1167.0,299.7 1166.0,300.4 1165.0,301.3 1164.0,298.5 1163.0,300.0 1162.0,298.1 1161.0,300.0 1160.0,301.0 1159.0,299.2 1158.0,301.1 1157.0,299.6 1156.0,300.1 1155.0,299.5 1154.0,301.6 1153.0,299.8 1152.0,300.6 1151.0,301.5 1150.0,300.7 1149.0,301.0 1148.0,303.7 1147.0,301.3 1146.0,300.7 1145.0,299.1 1144.0,300.9 1143.0,302.0 1142.0,301.6 1141.0,301.1 1140.0,302.4 1139.0,302.6 1138.0,301.9 1137.0,300.5 1136.0,301.4 1135.0,302.5 1134.0,303.7 1133.0,301.3 1132.0,303.3 1131.0,299.6 1130.0,301.0 1129.0,301.5 1128.0,301.0 1127.0,299.9 1126.0,302.1 1125.0,302.5 1124.0,301.0 1123.0,300.4 1122.0,301.5 1121.0,301.6 1120.0,300.8 1119.0,303.1 1118.0,304.2 1117.0,303.9 1116.0,299.9 1115.0,301.5 1114.0,303.4 1113.0,301.0 1112.0,304.4 1111.0,303.5 1110.0,303.0 1109.0,303.1 1108.0,301.9 1107.0,305.0 1106.0,302.2 1105.0,303.0 1104.0,302.2 1103.0,305.3 1102.0,303.6 1101.0,301.3 1100.0,303.8 1099.0,304.1 1098.0,303.6 1097.0,302.8 1096.0,305.7 1095.0,304.3 1094.0,302.5 1093.0,300.2 1092.0,303.6 1091.0,306.5 1090.0,304.2 1089.0,304.8 1088.0,306.0 1087.0,305.8 1086.0,304.1 1085.0,302.5 1084.0,304.7 1083.0,307.0 1082.0,304.0 1081.0,304.9 1080.0,304.5 1079.0,303.7 1078.0,306.2 1077.0,306.6 1076.0,305.5 1075.0,306.2 1074.0,303.5 1073.0,307.2 1072.0,306.4 1071.0,304.1 1070.0,306.4 1069.0,304.8 1068.0,305.7 1067.0,305.6 1066.0,304.5 1065.0,307.7 1064.0,306.6 1063.0,306.2 1062.0,306.6 1061.0,308.9 1060.0,310.0 1059.0,309.7 1058.0,310.0 1057.0,309.8 1056.0,310.1 1055.0,309.1 1054.0,309.7 1053.0,310.3 1052.0,308.7 1051.0,310.6 1050.0,311.9 1049.0,310.7 1048.0,309.1 1047.0,310.5 1046.0,311.8 1045.0,312.2 1044.0,311.5 1043.0,312.3 1042.0,310.9 1041.0,311.7 1040.0,308.4 1039.0,312.0 1038.0,312.2 1037.0,314.3 1036.0,314.5 1035.0,311.8 1034.0,314.2 1033.0,316.0 1032.0,313.4 1031.0,310.5 1030.0,311.3 1029.0,314.2 1028.0,312.4 1027.0,315.2 1026.0,314.5 1025.0,314.4 1024.0,316.3 1023.0,316.0 1022.0,315.5 1021.0,316.7 1020.0,315.9 1019.0,316.2 1018.0,316.5 1017.0,318.9 1016.0,317.2 1015.0,316.9 1014.0,317.3 1013.0,317.5 1012.0,320.3 1011.0,316.7 1010.0,317.4 1009.0,319.2 1008.0,322.3 1007.0,320.1 1006.0,320.7 1005.0,320.7 1004.0,322.5 1003.0,321.3 1002.0,322.4 1001.0,321.6 1000.0,321.7 999.0,321.2 998.0,322.6 997.0,324.8 996.0,321.3 995.0,324.9 994.0,322.8 993.0,323.2 992.0,322.9 991.0,325.3 990.0,324.1 989.0,325.2 988.0,326.1 987.0,325.1 986.0,325.1 985.0,321.9 984.0,325.7 983.0,327.3 982.0,326.3 981.0,325.6 980.0,326.8 979.0,326.9 978.0,328.2 977.0,326.8 976.0,326.4 975.0,327.8 974.0,328.8 973.0,328.8 972.0,329.8 971.0,331.5 970.0,329.2 969.0,330.9 968.0,330.9 967.0,332.8 966.0,330.4 965.0,332.1 964.0,334.5 963.0,330.6 962.0,333.9 961.0,332.1 960.0,333.3 959.0,334.5 958.0,331.9 957.0,335.0 956.0,333.3 955.0,336.2 954.0,334.0 953.0,333.5 952.0,335.9 951.0,335.3 950.0,333.3 949.0,333.9 948.0,332.7 947.0,337.7 946.0,333.9 945.0,337.7 944.0,336.2 943.0,338.2 942.0,338.4 941.0,339.0 940.0,337.9 939.0,338.7 938.0,339.8 937.0,341.5 936.0,341.3 935.0,340.7 934.0,340.3 933.0,339.4 932.0,341.3 931.0,341.0 930.0,341.4 929.0,342.8 928.0,342.5 927.0,342.3 926.0,342.7 925.0,342.6 924.0,342.8 923.0,344.2 922.0,344.4 921.0,342.9 920.0,345.2 919.0,344.9 918.0,343.3 917.0,344.7 916.0,346.3 915.0,346.3 914.0,345.1 913.0,345.8 912.0,346.4 911.0,347.2 910.0,346.8 909.0,348.1 908.0,349.8 907.0,347.4 906.0,349.3 905.0,346.7 904.0,349.5 903.0,349.6 902.0,351.2 901.0,350.8 900.0,352.1 899.0,350.2 898.0,351.9 897.0,353.4 896.0,350.3 895.0,351.1 894.0,353.1 893.0,353.3 892.0,354.3 891.0,357.7 890.0,354.7 889.0,357.2 888.0,358.3 887.0,355.3 886.0,356.7 885.0,353.8 884.0,356.2 883.0,358.8 882.0,356.7 881.0,358.7 880.0,358.7 879.0,359.2 878.0,360.0 877.0,359.6 876.0,360.3 875.0,360.2 874.0,359.0 873.0,359.3 872.0,364.0 871.0,362.9 870.0,362.1 869.0,361.7 868.0,365.3 867.0,365.2 866.0,363.8 865.0,363.2 864.0,362.5 863.0,366.2 862.0,366.6 861.0,364.8 860.0,364.6 859.0,367.8 858.0,367.8 857.0,366.1 856.0,367.7 855.0,369.3 854.0,370.0 853.0,366.9 852.0,371.4 851.0,372.0 850.0,372.1 849.0,370.3 848.0,370.6 847.0,369.5 846.0,371.9 845.0,370.8 844.0,370.1 843.0,371.9 842.0,371.4 841.0,371.3 840.0,372.3 839.0,372.6 838.0,376.5 837.0,376.6 836.0,376.1 835.0,376.2 834.0,376.6 833.0,377.5 832.0,377.2 831.0,377.1 830.0,379.2 829.0,379.6 828.0,378.3 827.0,378.9 826.0,378.8" fill="#ffffff" opacity="0.35"/>
<polygon points="826.0,440.1 827.0,437.9 828.0,437.6 829.0,439.3 830.0,436.1 831.0,433.3 832.0,432.9 833.0,436.2 834.0,431.1 835.0,431.0 836.0,429.9 837.0,428.1 838.0,428.9 839.0,425.9 840.0,426.0 841.0,423.4 842.0,422.1 843.0,423.5 844.0,420.9 845.0,420.7 846.0,420.4 847.0,420.2 848.0,420.4 849.0,415.6 850.0,414.9 851.0,414.5 852.0,412.7 853.0,411.9 854.0,408.9 855.0,408.1 856.0,407.2 857.0,405.1 858.0,405.2 859.0,404.1 860.0,401.7 861.0,402.7 862.0,402.0 863.0,400.2 864.0,397.1 865.0,396.3 866.0,396.7 867.0,397.7 868.0,395.0 869.0,393.4 870.0,394.2 871.0,390.2 872.0,390.1 873.0,389.3 874.0,389.0 875.0,389.0 876.0,387.0 877.0,386.0 878.0,386.7 879.0,383.6 880.0,382.1 881.0,381.3 882.0,381.5 883.0,380.6 884.0,380.5 885.0,380.0 886.0,376.9 887.0,379.3 888.0,378.7 889.0,380.4 890.0,377.1 891.0,375.6 892.0,376.6 893.0,373.4 894.0,375.0 895.0,374.5 896.0,375.6 897.0,375.1 898.0,372.8 899.0,373.7 900.0,371.0 901.0,369.5 902.0,369.6 903.0,369.7 904.0,370.9 905.0,368.5 906.0,365.5 907.0,366.1 908.0,365.8 909.0,366.4 910.0,364.9 911.0,364.4 912.0,362.3 913.0,364.0 914.0,362.3 915.0,364.0 916.0,362.2 917.0,358.7 918.0,359.6 919.0,361.3 920.0,359.9 921.0,361.5 922.0,359.2 923.0,356.4 924.0,356.2 925.0,356.1 926.0,357.0 927.0,358.0 928.0,356.9 929.0,356.5 930.0,356.1 931.0,355.9 932.0,353.6 933.0,356.0 934.0,353.2 935.0,356.2 936.0,353.4 937.0,355.2 938.0,351.6 939.0,351.0 940.0,352.1 941.0,352.6 942.0,349.9 943.0,350.7 944.0,350.1 945.0,349.2 946.0,351.5 947.0,347.7 948.0,349.6 949.0,346.1 950.0,347.0 951.0,346.5 952.0,350.1 953.0,347.1 954.0,345.9 955.0,343.4 956.0,343.0 957.0,340.1 958.0,345.8 959.0,343.7 960.0,344.0 961.0,344.2 962.0,342.2 963.0,345.5 964.0,342.1 965.0,341.3 966.0,339.7 967.0,342.1 968.0,342.3 969.0,343.3 970.0,340.9 971.0,340.9 972.0,338.3 973.0,337.2 974.0,340.2 975.0,341.4 976.0,339.8 977.0,339.8 978.0,338.6 979.0,336.6 980.0,335.4 981.0,336.0 982.0,336.2 983.0,335.7 984.0,336.0 985.0,332.7 986.0,334.2 987.0,331.7 988.0,333.3 989.0,332.6 990.0,332.2 991.0,331.4 992.0,330.2 993.0,330.2 994.0,330.2 995.0,329.9 996.0,333.1 997.0,328.8 998.0,328.0 999.0,328.5 1000.0,328.7 1001.0,327.5 1002.0,329.8 1003.0,328.2 1004.0,329.1 1005.0,328.9 1006.0,327.0 1007.0,326.5 1008.0,328.2 1009.0,322.8 1010.0,324.3 1011.0,323.6 1012.0,322.2 1013.0,324.7 1014.0,324.5 1015.0,322.9 1016.0,324.7 1017.0,321.9 1018.0,322.8 1019.0,321.6 1020.0,324.4 1021.0,321.4 1022.0,323.0 1023.0,320.5 1024.0,319.5 1025.0,320.4 1026.0,319.6 1027.0,319.7 1028.0,321.1 1029.0,318.2 1030.0,321.5 1031.0,320.5 1032.0,320.0 1033.0,318.7 1034.0,321.2 1035.0,317.8 1036.0,318.6 1037.0,317.5 1038.0,315.8 1039.0,318.5 1040.0,317.9 1041.0,318.0 1042.0,314.5 1043.0,317.5 1044.0,315.9 1045.0,316.2 1046.0,315.5 1047.0,313.6 1048.0,315.9 1049.0,316.1 1050.0,315.5 1051.0,316.5 1052.0,314.4 1053.0,314.8 1054.0,313.2 1055.0,316.3 1056.0,315.1 1057.0,314.8 1058.0,313.6 1059.0,311.0 1060.0,313.6 1061.0,311.7 1062.0,312.4 1063.0,314.6 1064.0,312.9 1065.0,313.8 1066.0,316.2 1067.0,310.1 1068.0,309.7 1069.0,312.9 1070.0,311.8 1071.0,311.0 1072.0,310.4 1073.0,310.2 1074.0,309.3 1075.0,309.8 1076.0,313.1 1077.0,311.0 1078.0,309.3 1079.0,312.3 1080.0,310.2 1081.0,308.7 1082.0,308.8 1083.0,307.9 1084.0,308.2 1085.0,309.0 1086.0,308.5 1087.0,308.1 1088.0,306.3 1089.0,308.1 1090.0,306.7 1091.0,307.6 1092.0,305.8 1093.0,308.7 1094.0,309.2 1095.0,307.5 1096.0,305.1 1097.0,307.7 1098.0,308.5 1099.0,306.2 1100.0,307.2 1101.0,305.6 1102.0,305.8 1103.0,306.1 1104.0,306.9 1105.0,305.5 1106.0,303.4 1107.0,303.6 1108.0,305.1 1109.0,304.4 1110.0,304.6 1111.0,303.2 1112.0,304.8 1113.0,305.1 1114.0,305.9 1115.0,304.6 1116.0,303.6 1117.0,300.8 1118.0,302.8 1119.0,303.0 1120.0,301.5 1121.0,304.3 1122.0,306.2 1123.0,302.6 1124.0,304.1 1125.0,301.8 1126.0,300.1 1127.0,299.6 1128.0,301.9 1129.0,302.5 1130.0,302.6 1131.0,301.1 1132.0,302.1 1133.0,301.1 1134.0,299.9 1135.0,298.9 1136.0,300.7 1137.0,301.3 1138.0,298.7 1139.0,301.1 1140.0,300.7 1141.0,300.7 1142.0,298.5 1143.0,301.2 1144.0,299.8 1145.0,299.3 1146.0,296.5 1147.0,297.1 1148.0,299.5 1149.0,295.7 1150.0,297.7 1151.0,300.1 1152.0,295.8 1153.0,297.8 1154.0,296.1 1155.0,298.7 1156.0,296.9 1157.0,296.3 1158.0,297.6 1159.0,296.7 1160.0,296.9 1161.0,297.3 1162.0,297.4 1163.0,299.1 1164.0,296.0 1165.0,296.0 1166.0,297.9 1167.0,295.8 1168.0,295.6 1169.0,295.7 1170.0,295.4 1171.0,296.1 1172.0,295.0 1173.0,295.1 1174.0,295.2 1175.0,296.5 1176.0,294.5 1177.0,294.7 1178.0,294.2 1179.0,295.7 1180.0,294.3 1181.0,295.2 1182.0,293.0 1183.0,296.2 1184.0,294.1 1185.0,295.3 1186.0,293.1 1187.0,295.5 1188.0,292.2 1189.0,291.2 1190.0,292.1 1191.0,295.0 1192.0,291.2 1193.0,290.3 1194.0,289.7 1195.0,292.1 1196.0,293.4 1197.0,291.0 1198.0,293.7 1199.0,292.9 1200.0,292.1 1201.0,293.4 1202.0,289.1 1203.0,291.0 1204.0,290.3 1205.0,289.5 1206.0,289.3 1207.0,289.4 1208.0,289.3 1209.0,290.6 1210.0,291.4 1211.0,290.0 1212.0,287.4 1213.0,289.0 1214.0,288.6 1215.0,292.6 1216.0,289.7 1217.0,287.9 1218.0,289.8 1219.0,290.7 1220.0,287.6 1221.0,289.0 1222.0,290.9 1223.0,290.9 1224.0,288.5 1225.0,287.9 1226.0,291.0 1227.0,289.2 1228.0,287.5 1229.0,286.6 1230.0,286.9 1231.0,286.9 1232.0,286.7 1233.0,284.7 1234.0,287.3 1235.0,285.2 1236.0,290.2 1237.0,289.1 1238.0,287.0 1239.0,287.0 1240.0,287.0 1241.0,286.0 1242.0,286.7 1243.0,288.4 1244.0,287.5 1245.0,289.1 1246.0,286.5 1247.0,288.3 1248.0,286.4 1249.0,284.6 1250.0,284.4 1251.0,285.7 1252.0,285.5 1253.0,283.4 1254.0,285.8 1255.0,284.8 1256.0,287.3 1257.0,285.8 1258.0,288.0 1259.0,283.9 1260.0,286.0 1261.0,285.7 1262.0,287.7 1263.0,283.2 1264.0,286.8 1265.0,286.7 1266.0,284.9 1267.0,284.8 1268.0,284.2 1269.0,284.0 1270.0,284.3 1271.0,285.3 1272.0,284.3 1273.0,285.3 1274.0,284.1 1275.0,285.8 1276.0,282.9 1277.0,283.8 1278.0,283.8 1279.0,284.2 1280.0,284.1 1281.0,283.6 1282.0,284.3 1283.0,281.0 1284.0,283.9 1285.0,282.6 1286.0,283.2 1287.0,283.7 1288.0,282.9 1289.0,284.1 1290.0,283.5 1291.0,282.9 1292.0,283.5 1293.0,282.8 1294.0,282.9 1295.0,282.5 1296.0,282.1 1297.0,283.3 1298.0,281.7 1299.0,283.8 1300.0,283.1 1301.0,283.7 1302.0,284.2 1303.0,282.6 1304.0,285.8 1305.0,282.8 1306.0,284.5 1307.0,283.0 1308.0,282.0 1309.0,282.5 1310.0,282.7 1311.0,282.4 1312.0,281.4 1313.0,282.3 1314.0,280.8 1315.0,281.6 1316.0,282.7 1316.0,292.3 1315.0,289.6 1314.0,291.0 1313.0,290.4 1312.0,292.8 1311.0,292.8 1310.0,291.3 1309.0,292.0 1308.0,290.0 1307.0,291.6 1306.0,293.2 1305.0,291.9 1304.0,293.7 1303.0,292.2 1302.0,293.4 1301.0,296.6 1300.0,291.8 1299.0,290.9 1298.0,291.6 1297.0,292.7 1296.0,291.5 1295.0,292.4 1294.0,291.2 1293.0,291.2 1292.0,291.0 1291.0,291.2 1290.0,291.1 1289.0,292.6 1288.0,291.0 1287.0,292.0 1286.0,289.9 1285.0,291.1 1284.0,293.2 1283.0,292.4 1282.0,291.3 1281.0,291.6 1280.0,295.3 1279.0,294.6 1278.0,293.9 1277.0,294.8 1276.0,292.7 1275.0,295.2 1274.0,292.6 1273.0,294.3 1272.0,294.8 1271.0,293.7 1270.0,293.4 1269.0,292.4 1268.0,293.6 1267.0,294.3 1266.0,293.9 1265.0,295.1 1264.0,295.0 1263.0,293.3 1262.0,294.2 1261.0,296.7 1260.0,294.2 1259.0,297.5 1258.0,295.6 1257.0,296.9 1256.0,295.3 1255.0,293.0 1254.0,295.0 1253.0,292.2 1252.0,294.6 1251.0,292.8 1250.0,292.9 1249.0,294.6 1248.0,296.3 1247.0,296.5 1246.0,297.3 1245.0,296.6 1244.0,294.5 1243.0,297.3 1242.0,297.4 1241.0,295.4 1240.0,297.1 1239.0,296.1 1238.0,296.1 1237.0,297.0 1236.0,299.2 1235.0,297.7 1234.0,297.5 1233.0,296.7 1232.0,296.2 1231.0,297.3 1230.0,297.0 1229.0,297.8 1228.0,294.5 1227.0,295.6 1226.0,297.7 1225.0,298.3 1224.0,297.4 1223.0,297.6 1222.0,298.6 1221.0,298.3 1220.0,298.6 1219.0,296.7 1218.0,297.5 1217.0,296.2 1216.0,297.5 1215.0,298.8 1214.0,297.9 1213.0,295.8 1212.0,298.0 1211.0,298.2 1210.0,298.0 1209.0,298.4 1208.0,300.1 1207.0,300.6 1206.0,298.9 1205.0,301.0 1204.0,302.0 1203.0,299.3 1202.0,300.4 1201.0,302.4 1200.0,299.8 1199.0,301.5 1198.0,301.3 1197.0,301.5 1196.0,300.7 1195.0,302.2 1194.0,298.6 1193.0,300.3 1192.0,300.3 1191.0,303.1 1190.0,301.3 1189.0,300.1 1188.0,300.7 1187.0,302.2 1186.0,302.1 1185.0,305.7 1184.0,303.9 1183.0,303.9 1182.0,304.8 1181.0,303.3 1180.0,302.6 1179.0,305.6 1178.0,305.1 1177.0,305.9 1176.0,305.3 1175.0,305.1 1174.0,306.5 1173.0,301.2 1172.0,307.2 1171.0,305.0 1170.0,302.2 1169.0,304.8 1168.0,305.4 1167.0,303.1 1166.0,306.1 1165.0,306.4 1164.0,306.3 1163.0,307.6 1162.0,308.2 1161.0,306.8 1160.0,304.9 1159.0,306.6 1158.0,306.6 1157.0,305.4 1156.0,304.6 1155.0,306.2 1154.0,307.2 1153.0,305.7 1152.0,307.4 1151.0,307.6 1150.0,304.6 1149.0,306.0 1148.0,307.6 1147.0,304.4 1146.0,305.0 1145.0,309.0 1144.0,307.4 1143.0,308.9 1142.0,308.0 1141.0,307.6 1140.0,309.1 1139.0,309.9 1138.0,308.4 1137.0,309.7 1136.0,309.2 1135.0,308.6 1134.0,309.7 1133.0,307.5 1132.0,309.1 1131.0,308.7 1130.0,307.7 1129.0,308.7 1128.0,311.0 1127.0,310.3 1126.0,313.2 1125.0,312.9 1124.0,311.6 1123.0,310.6 1122.0,314.0 1121.0,313.6 1120.0,312.0 1119.0,310.5 1118.0,310.2 1117.0,311.7 1116.0,312.4 1115.0,311.7 1114.0,315.5 1113.0,312.3 1112.0,315.3 1111.0,315.8 1110.0,314.3 1109.0,315.2 1108.0,313.5 1107.0,311.6 1106.0,313.3 1105.0,313.2 1104.0,314.3 1103.0,316.0 1102.0,316.2 1101.0,317.1 1100.0,316.5 1099.0,316.0 1098.0,315.9 1097.0,314.3 1096.0,316.7 1095.0,318.1 1094.0,316.7 1093.0,316.3 1092.0,315.1 1091.0,316.8 1090.0,317.5 1089.0,317.2 1088.0,316.2 1087.0,318.9 1086.0,318.9 1085.0,318.3 1084.0,320.8 1083.0,318.6 1082.0,317.5 1081.0,317.6 1080.0,317.9 1079.0,319.6 1078.0,319.2 1077.0,319.5 1076.0,320.8 1075.0,319.7 1074.0,319.4 1073.0,319.8 1072.0,322.6 1071.0,320.6 1070.0,321.2 1069.0,321.9 1068.0,317.2 1067.0,320.9 1066.0,323.9 1065.0,321.3 1064.0,320.2 1063.0,322.9 1062.0,321.5 1061.0,321.4 1060.0,322.5 1059.0,321.7 1058.0,323.6 1057.0,322.4 1056.0,325.7 1055.0,322.4 1054.0,322.3 1053.0,323.5 1052.0,321.7 1051.0,327.2 1050.0,327.4 1049.0,322.2 1048.0,327.3 1047.0,323.6 1046.0,324.7 1045.0,328.9 1044.0,325.9 1043.0,326.5 1042.0,323.8 1041.0,326.1 1040.0,324.4 1039.0,327.2 1038.0,326.2 1037.0,327.5 1036.0,326.8 1035.0,327.2 1034.0,326.9 1033.0,326.0 1032.0,327.5 1031.0,327.7 1030.0,331.6 1029.0,328.2 1028.0,331.1 1027.0,328.5 1026.0,327.7 1025.0,328.3 1024.0,329.5 1023.0,330.9 1022.0,329.1 1021.0,331.5 1020.0,331.0 1019.0,331.3 1018.0,332.5 1017.0,332.0 1016.0,331.5 1015.0,333.0 1014.0,333.6 1013.0,332.1 1012.0,334.3 1011.0,330.6 1010.0,334.5 1009.0,332.9 1008.0,335.3 1007.0,335.2 1006.0,335.1 1005.0,335.1 1004.0,337.4 1003.0,338.4 1002.0,337.0 1001.0,338.2 1000.0,337.9 999.0,337.3 998.0,340.1 997.0,337.6 996.0,340.3 995.0,339.5 994.0,339.3 993.0,340.8 992.0,343.4 991.0,342.5 990.0,339.3 989.0,340.4 988.0,342.7 987.0,340.7 986.0,340.5 985.0,339.8 984.0,346.6 983.0,344.8 982.0,346.1 981.0,343.4 980.0,344.2 979.0,345.9 978.0,347.6 977.0,346.2 976.0,346.8 975.0,347.5 974.0,347.8 973.0,348.5 972.0,349.3 971.0,348.9 970.0,350.4 969.0,351.1 968.0,348.7 967.0,349.0 966.0,351.0 965.0,350.8 964.0,349.4 963.0,351.3 962.0,351.7 961.0,351.0 960.0,353.9 959.0,353.4 958.0,352.4 957.0,353.7 956.0,352.1 955.0,353.7 954.0,354.5 953.0,354.0 952.0,356.6 951.0,355.4 950.0,356.9 949.0,358.2 948.0,360.0 947.0,359.0 946.0,357.0 945.0,357.9 944.0,360.6 943.0,359.7 942.0,360.1 941.0,359.9 940.0,363.0 939.0,362.4 938.0,362.6 937.0,362.9 936.0,363.1 935.0,365.3 934.0,362.9 933.0,361.8 932.0,363.2 931.0,362.3 930.0,365.6 929.0,368.1 928.0,366.7 927.0,367.7 926.0,366.0 925.0,365.9 924.0,366.2 923.0,365.3 922.0,367.3 921.0,368.8 920.0,368.6 919.0,368.7 918.0,371.3 917.0,369.7 916.0,373.4 915.0,371.1 914.0,372.4 913.0,374.5 912.0,372.2 911.0,372.8 910.0,373.4 909.0,375.2 908.0,375.8 907.0,377.7 906.0,376.2 905.0,377.0 904.0,377.9 903.0,380.6 902.0,378.4 901.0,379.1 900.0,378.2 899.0,380.9 898.0,381.0 897.0,381.2 896.0,382.7 895.0,383.0 894.0,384.8 893.0,384.2 892.0,386.0 891.0,386.5 890.0,387.3 889.0,386.4 888.0,388.0 887.0,388.7 886.0,390.0 885.0,390.9 884.0,389.2 883.0,389.9 882.0,392.4 881.0,393.7 880.0,392.8 879.0,394.7 878.0,397.1 877.0,395.1 876.0,395.9 875.0,398.1 874.0,397.3 873.0,402.0 872.0,402.4 871.0,400.9 870.0,402.0 869.0,403.6 868.0,404.8 867.0,407.0 866.0,406.8 865.0,405.9 864.0,408.6 863.0,408.9 862.0,411.1 861.0,412.1 860.0,412.0 859.0,410.9 858.0,416.7 857.0,415.1 856.0,415.5 855.0,419.0 854.0,419.8 853.0,420.9 852.0,422.1 851.0,423.3 850.0,423.9 849.0,424.0 848.0,426.2 847.0,429.3 846.0,432.3 845.0,430.4 844.0,433.8 843.0,430.9 842.0,431.8 841.0,433.8 840.0,433.6 839.0,434.8 838.0,438.6 837.0,438.2 836.0,436.2 835.0,438.9 834.0,444.2 833.0,442.4 832.0,441.8 831.0,444.5 830.0,444.4 829.0,446.7 828.0,445.8 827.0,448.0 826.0,449.9" fill="#ffffff" opacity="0.35"/>
<polygon points="826.0,140.1 827.0,139.9 828.0,140.4 829.0,139.9 830.0,142.7 831.0,141.1 832.0,140.3 833.0,140.4 834.0,141.7 835.0,140.1 836.0,142.0 837.0,139.8 838.0,141.8 839.0,140.3 840.0,138.4 841.0,142.2 842.0,140.6 843.0,143.1 844.0,142.2 845.0,140.4 846.0,142.0 847.0,144.0 848.0,140.2 849.0,138.0 850.0,140.4 851.0,142.6 852.0,141.2 853.0,140.7 854.0,143.5 855.0,142.8 856.0,142.2 857.0,142.0 858.0,140.9 859.0,141.4 860.0,141.1 861.0,143.2 862.0,143.8 863.0,143.7 864.0,144.6 865.0,142.4 866.0,141.6 867.0,142.7 868.0,141.1 869.0,143.1 870.0,141.3 871.0,141.8 872.0,142.1 873.0,143.7 874.0,143.8 875.0,142.8 876.0,144.8 877.0,142.5 878.0,143.0 879.0,142.8 880.0,142.6 881.0,142.8 882.0,142.0 883.0,145.1 884.0,142.4 885.0,143.5 886.0,146.2 887.0,141.0 888.0,143.9 889.0,142.5 890.0,143.6 891.0,145.4 892.0,145.4 893.0,145.0 894.0,140.5 895.0,142.0 896.0,142.9 897.0,142.1 898.0,143.0 899.0,142.7 900.0,141.2 901.0,143.7 902.0,147.7 903.0,146.3 904.0,145.4 905.0,145.6 906.0,143.7 907.0,144.3 908.0,146.5 909.0,145.6 910.0,147.8 911.0,148.5 912.0,144.5 913.0,146.3 914.0,147.8 915.0,145.2 916.0,146.0 917.0,147.9 918.0,148.5 919.0,147.9 920.0,148.2 921.0,147.2 922.0,146.1 923.0,145.4 924.0,145.0 925.0,147.8 926.0,149.2 927.0,150.4 928.0,147.2 929.0,150.3 930.0,149.1 931.0,146.4 932.0,146.3 933.0,148.3 934.0,147.4 935.0,147.1 936.0,148.4 937.0,146.7 938.0,146.8 939.0,150.5 940.0,149.4 941.0,147.9 942.0,146.1 943.0,147.0 944.0,146.9 945.0,148.6 946.0,146.3 947.0,146.1 948.0,150.7 949.0,150.6 950.0,149.0 951.0,149.8 952.0,148.8 953.0,147.0 954.0,149.7 955.0,149.5 956.0,150.5 957.0,152.1 958.0,151.8 959.0,147.6 960.0,147.3 961.0,150.0 962.0,147.1 963.0,149.0 964.0,151.1 965.0,150.4 966.0,150.7 967.0,151.2 968.0,150.7 969.0,150.8 970.0,150.2 971.0,152.8 972.0,152.6 973.0,152.7 974.0,151.0 975.0,151.2 976.0,152.9 977.0,149.3 978.0,151.0 979.0,152.2 980.0,150.3 981.0,153.2 982.0,154.8 983.0,153.0 984.0,148.2 985.0,153.1 986.0,150.0 987.0,148.3 988.0,152.8 989.0,152.8 990.0,153.7 991.0,154.1 992.0,150.8 993.0,153.7 994.0,152.4 995.0,150.8 996.0,153.1 997.0,151.2 998.0,151.6 999.0,151.7 1000.0,150.8 1001.0,152.3 1002.0,152.8 1003.0,152.1 1004.0,153.1 1005.0,152.4 1006.0,153.2 1007.0,154.5 1008.0,154.3 1009.0,151.4 1010.0,153.0 1011.0,154.2 1012.0,156.1 1013.0,152.4 1014.0,152.5 1015.0,155.4 1016.0,153.3 1017.0,155.1 1018.0,154.8 1019.0,155.2 1020.0,153.4 1021.0,153.9 1022.0,156.9 1023.0,154.4 1024.0,155.5 1025.0,155.8 1026.0,154.4 1027.0,155.0 1028.0,157.7 1029.0,156.4 1030.0,155.8 1031.0,155.2 1032.0,154.1 1033.0,158.8 1034.0,156.7 1035.0,156.8 1036.0,156.3 1037.0,156.5 1038.0,156.6 1039.0,156.9 1040.0,155.3 1041.0,156.3 1042.0,157.6 1043.0,157.4 1044.0,158.1 1045.0,157.3 1046.0,157.2 1047.0,157.3 1048.0,157.0 1049.0,157.1 1050.0,161.4 1051.0,158.4 1052.0,157.2 1053.0,158.6 1054.0,158.7 1055.0,157.0 1056.0,157.3 1057.0,157.8 1058.0,159.2 1059.0,156.5 1060.0,158.4 1061.0,160.8 1062.0,159.2 1063.0,158.3 1064.0,157.9 1065.0,156.7 1066.0,157.8 1067.0,158.3 1068.0,159.4 1069.0,158.3 1070.0,158.8 1071.0,156.7 1072.0,159.6 1073.0,161.1 1074.0,160.7 1075.0,159.7 1076.0,159.6 1077.0,161.8 1078.0,161.8 1079.0,162.0 1080.0,158.6 1081.0,158.7 1082.0,159.6 1083.0,159.5 1084.0,160.2 1085.0,160.6 1086.0,159.8 1087.0,158.5 1088.0,160.5 1089.0,159.5 1090.0,158.7 1091.0,160.0 1092.0,159.7 1093.0,158.1 1094.0,161.3 1095.0,161.9 1096.0,162.0 1097.0,163.0 1098.0,162.2 1099.0,164.8 1100.0,160.6 1101.0,161.0 1102.0,161.4 1103.0,161.4 1104.0,160.5 1105.0,161.2 1106.0,158.3 1107.0,161.0 1108.0,162.4 1109.0,162.0 1110.0,163.1 1111.0,160.7 1112.0,161.4 1113.0,160.2 1114.0,161.5 1115.0,161.8 1116.0,160.1 1117.0,159.3 1118.0,162.7 1119.0,162.4 1120.0,164.3 1121.0,163.3 1122.0,164.3 1123.0,161.9 1124.0,163.0 1125.0,165.2 1126.0,165.3 1127.0,165.3 1128.0,167.6 1129.0,164.1 1130.0,165.4 1131.0,163.2 1132.0,165.1 1133.0,162.5 1134.0,163.0 1135.0,165.6 1136.0,165.4 1137.0,163.6 1138.0,163.2 1139.0,165.0 1140.0,164.6 1141.0,163.7 1142.0,165.8 1143.0,166.3 1144.0,163.4 1145.0,162.8 1146.0,163.3 1147.0,164.7 1148.0,163.6 1149.0,164.7 1150.0,166.8 1151.0,165.1 1152.0,164.3 1153.0,163.7 1154.0,162.5 1155.0,163.3 1156.0,164.8 1157.0,167.2 1158.0,165.8 1159.0,164.9 1160.0,164.3 1161.0,168.5 1162.0,168.1 1163.0,166.5 1164.0,164.5 1165.0,166.2 1166.0,164.0 1167.0,164.7 1168.0,166.7 1169.0,165.3 1170.0,166.3 1171.0,168.1 1172.0,165.3 1173.0,166.8 1174.0,167.4 1175.0,166.6 1176.0,165.9 1177.0,167.8 1178.0,168.8 1179.0,166.3 1180.0,165.0 1181.0,162.7 1182.0,164.7 1183.0,164.2 1184.0,169.3 1185.0,166.3 1186.0,167.9 1187.0,166.6 1188.0,163.9 1189.0,163.9 1190.0,164.6 1191.0,168.7 1192.0,166.9 1193.0,171.6 1194.0,168.5 1195.0,168.1 1196.0,167.5 1197.0,165.6 1198.0,168.9 1199.0,164.8 1200.0,166.6 1201.0,164.1 1202.0,167.5 1203.0,168.7 1204.0,165.7 1205.0,166.4 1206.0,170.2 1207.0,170.4 1208.0,169.2 1209.0,168.8 1210.0,169.1 1211.0,168.7 1212.0,168.8 1213.0,167.3 1214.0,167.3 1215.0,167.3 1216.0,165.5 1217.0,167.6 1218.0,169.8 1219.0,170.1 1220.0,166.2 1221.0,171.1 1222.0,167.8 1223.0,169.6 1224.0,164.5 1225.0,165.0 1226.0,166.9 1227.0,168.6 1228.0,168.7 1229.0,169.3 1230.0,170.8 1231.0,168.1 1232.0,165.0 1233.0,168.0 1234.0,169.6 1235.0,168.5 1236.0,170.2 1237.0,173.4 1238.0,169.3 1239.0,169.0 1240.0,168.5 1241.0,172.3 1242.0,171.6 1243.0,171.6 1244.0,171.4 1245.0,172.4 1246.0,169.6 1247.0,172.1 1248.0,174.1 1249.0,168.2 1250.0,167.4 1251.0,171.3 1252.0,165.9 1253.0,169.4 1254.0,170.2 1255.0,170.9 1256.0,171.3 1257.0,170.9 1258.0,171.5 1259.0,170.3 1260.0,170.5 1261.0,173.4 1262.0,172.5 1263.0,172.5 1264.0,172.8 1265.0,172.4 1266.0,173.4 1267.0,172.9 1268.0,169.4 1269.0,170.6 1270.0,174.4 1271.0,173.9 1272.0,173.6 1273.0,168.2 1274.0,172.5 1275.0,172.5 1276.0,172.5 1277.0,174.2 1278.0,173.7 1279.0,171.9 1280.0,170.5 1281.0,168.2 1282.0,166.9 1283.0,171.2 1284.0,171.1 1285.0,171.8 1286.0,173.8 1287.0,171.2 1288.0,170.6 1289.0,174.5 1290.0,172.9 1291.0,171.6 1292.0,173.4 1293.0,174.7 1294.0,174.0 1295.0,171.8 1296.0,174.8 1297.0,173.2 1298.0,170.9 1299.0,169.9 1300.0,173.7 1301.0,173.7 1302.0,173.5 1303.0,171.2 1304.0,172.0 1305.0,171.5 1306.0,172.2 1307.0,173.6 1308.0,174.7 1309.0,172.8 1310.0,173.5 1311.0,172.9 1312.0,173.8 1313.0,171.9 1314.0,173.5 1315.0,176.5 1316.0,173.8 1316.0,177.9 1315.0,177.5 1314.0,174.5 1313.0,176.3 1312.0,176.0 1311.0,178.3 1310.0,175.9 1309.0,177.0 1308.0,175.9 1307.0,174.6 1306.0,177.0 1305.0,177.3 1304.0,175.6 1303.0,178.7 1302.0,176.5 1301.0,178.1 1300.0,175.2 1299.0,175.3 1298.0,175.4 1297.0,175.1 1296.0,176.1 1295.0,174.7 1294.0,176.3 1293.0,176.3 1292.0,177.7 1291.0,177.1 1290.0,176.8 1289.0,179.4 1288.0,175.2 1287.0,174.5 1286.0,176.2 1285.0,175.2 1284.0,175.9 1283.0,172.6 1282.0,174.5 1281.0,174.5 1280.0,174.1 1279.0,175.1 1278.0,177.8 1277.0,177.2 1276.0,179.0 1275.0,177.8 1274.0,174.8 1273.0,176.8 1272.0,174.7 1271.0,177.1 1270.0,176.9 1269.0,175.1 1268.0,173.2 1267.0,176.3 1266.0,177.7 1265.0,178.7 1264.0,176.2 1263.0,178.1 1262.0,176.8 1261.0,176.1 1260.0,176.8 1259.0,176.0 1258.0,176.0 1257.0,176.7 1256.0,176.1 1255.0,176.8 1254.0,177.8 1253.0,174.3 1252.0,171.6 1251.0,173.3 1250.0,173.1 1249.0,174.0 1248.0,176.8 1247.0,176.9 1246.0,176.2 1245.0,174.9 1244.0,177.5 1243.0,175.8 1242.0,177.7 1241.0,177.1 1240.0,174.6 1239.0,177.0 1238.0,174.1 1237.0,178.0 1236.0,173.7 1235.0,174.6 1234.0,172.7 1233.0,170.7 1232.0,170.2 1231.0,172.2 1230.0,173.5 1229.0,174.8 1228.0,176.0 1227.0,173.4 1226.0,172.5 1225.0,171.0 1224.0,173.3 1223.0,176.5 1222.0,173.7 1221.0,175.7 1220.0,175.4 1219.0,175.2 1218.0,174.4 1217.0,174.3 1216.0,171.4 1215.0,172.5 1214.0,173.5 1213.0,173.2 1212.0,175.1 1211.0,174.0 1210.0,174.0 1209.0,176.7 1208.0,174.3 1207.0,173.9 1206.0,173.9 1205.0,172.5 1204.0,170.6 1203.0,173.4 1202.0,173.4 1201.0,172.2 1200.0,171.7 1199.0,172.0 1198.0,169.9 1197.0,172.6 1196.0,171.2 1195.0,171.9 1194.0,171.7 1193.0,172.6 1192.0,173.4 1191.0,172.4 1190.0,172.0 1189.0,172.5 1188.0,169.4 1187.0,171.2 1186.0,172.4 1185.0,174.3 1184.0,171.6 1183.0,172.1 1182.0,170.5 1181.0,169.9 1180.0,170.9 1179.0,172.9 1178.0,170.4 1177.0,170.2 1176.0,172.2 1175.0,171.7 1174.0,171.9 1173.0,171.5 1172.0,172.9 1171.0,171.8 1170.0,171.0 1169.0,171.3 1168.0,172.7 1167.0,170.1 1166.0,171.4 1165.0,171.1 1164.0,170.5 1163.0,170.4 1162.0,172.0 1161.0,172.7 1160.0,168.5 1159.0,172.0 1158.0,170.1 1157.0,170.6 1156.0,169.7 1155.0,169.3 1154.0,169.8 1153.0,168.6 1152.0,172.9 1151.0,170.7 1150.0,172.4 1149.0,169.3 1148.0,169.4 1147.0,170.3 1146.0,169.4 1145.0,170.6 1144.0,168.9 1143.0,169.2 1142.0,171.3 1141.0,172.1 1140.0,170.8 1139.0,169.1 1138.0,168.3 1137.0,170.7 1136.0,171.2 1135.0,171.6 1134.0,170.9 1133.0,168.4 1132.0,172.8 1131.0,169.6 1130.0,171.7 1129.0,170.9 1128.0,170.5 1127.0,168.1 1126.0,170.8 1125.0,169.5 1124.0,168.7 1123.0,172.9 1122.0,169.8 1121.0,169.9 1120.0,171.4 1119.0,167.0 1118.0,171.1 1117.0,166.8 1116.0,166.9 1115.0,167.7 1114.0,166.3 1113.0,168.5 1112.0,167.6 1111.0,170.6 1110.0,171.8 1109.0,171.2 1108.0,170.3 1107.0,170.5 1106.0,167.9 1105.0,167.0 1104.0,168.0 1103.0,167.3 1102.0,167.2 1101.0,167.8 1100.0,170.6 1099.0,169.5 1098.0,167.2 1097.0,169.3 1096.0,169.0 1095.0,168.3 1094.0,168.3 1093.0,168.8 1092.0,165.1 1091.0,166.9 1090.0,167.5 1089.0,167.1 1088.0,169.0 1087.0,167.0 1086.0,166.9 1085.0,170.3 1084.0,167.1 1083.0,166.7 1082.0,165.9 1081.0,164.6 1080.0,169.2 1079.0,166.9 1078.0,166.1 1077.0,167.9 1076.0,169.3 1075.0,163.7 1074.0,167.4 1073.0,168.4 1072.0,166.8 1071.0,165.7 1070.0,164.3 1069.0,164.9 1068.0,167.2 1067.0,163.7 1066.0,164.2 1065.0,164.1 1064.0,165.3 1063.0,165.5 1062.0,167.3 1061.0,166.2 1060.0,166.0 1059.0,164.3 1058.0,166.7 1057.0,166.9 1056.0,166.0 1055.0,164.7 1054.0,167.2 1053.0,163.7 1052.0,164.2 1051.0,167.1 1050.0,167.9 1049.0,165.4 1048.0,165.4 1047.0,166.2 1046.0,164.2 1045.0,165.1 1044.0,164.0 1043.0,165.5 1042.0,164.6 1041.0,163.5 1040.0,166.1 1039.0,166.1 1038.0,164.9 1037.0,163.4 1036.0,163.0 1035.0,167.8 1034.0,165.6 1033.0,165.6 1032.0,165.6 1031.0,165.1 1030.0,167.0 1029.0,164.3 1028.0,163.7 1027.0,164.6 1026.0,162.2 1025.0,160.7 1024.0,165.3 1023.0,163.8 1022.0,161.6 1021.0,161.6 1020.0,161.9 1019.0,162.9 1018.0,162.2 1017.0,164.2 1016.0,165.3 1015.0,162.5 1014.0,162.4 1013.0,163.0 1012.0,162.3 1011.0,162.1 1010.0,160.9 1009.0,161.0 1008.0,160.2 1007.0,162.2 1006.0,157.9 1005.0,160.5 1004.0,160.5 1003.0,162.5 1002.0,162.3 1001.0,158.0 1000.0,159.7 999.0,161.4 998.0,158.3 997.0,161.0 996.0,159.4 995.0,160.8 994.0,162.4 993.0,162.2 992.0,160.3 991.0,162.2 990.0,159.3 989.0,160.7 988.0,161.3 987.0,159.7 986.0,161.1 985.0,161.6 984.0,161.3 983.0,162.8 982.0,161.6 981.0,162.8 980.0,159.6 979.0,162.4 978.0,158.6 977.0,159.3 976.0,160.4 975.0,160.0 974.0,160.8 973.0,163.2 972.0,160.4 971.0,158.8 970.0,160.7 969.0,161.4 968.0,158.6 967.0,158.2 966.0,157.9 965.0,160.8 964.0,158.5 963.0,157.6 962.0,158.1 961.0,157.0 960.0,159.2 959.0,158.7 958.0,159.2 957.0,158.3 956.0,160.1 955.0,158.1 954.0,157.6 953.0,157.9 952.0,158.9 951.0,158.7 950.0,158.9 949.0,157.9 948.0,158.4 947.0,157.6 946.0,157.4 945.0,158.5 944.0,158.3 943.0,154.4 942.0,158.2 941.0,160.5 940.0,159.1 939.0,159.0 938.0,158.4 937.0,157.5 936.0,155.3 935.0,155.7 934.0,156.0 933.0,155.1 932.0,157.4 931.0,156.4 930.0,158.6 929.0,159.3 928.0,155.5 927.0,158.8 926.0,157.4 925.0,155.7 924.0,157.4 923.0,155.7 922.0,156.6 921.0,155.1 920.0,156.5 919.0,156.2 918.0,157.6 917.0,159.1 916.0,157.0 915.0,155.4 914.0,154.5 913.0,157.0 912.0,155.7 911.0,156.0 910.0,157.4 909.0,156.0 908.0,155.1 907.0,156.8 906.0,154.8 905.0,155.1 904.0,156.7 903.0,154.6 902.0,155.2 901.0,153.7 900.0,154.0 899.0,154.7 898.0,155.2 897.0,153.5 896.0,149.6 895.0,152.2 894.0,154.4 893.0,154.1 892.0,155.5 891.0,153.5 890.0,153.2 889.0,155.3 888.0,153.9 887.0,153.6 886.0,157.0 885.0,153.2 884.0,152.4 883.0,156.2 882.0,153.0 881.0,151.5 880.0,151.4 879.0,153.6 878.0,153.5 877.0,152.4 876.0,157.6 875.0,155.1 874.0,154.6 873.0,154.1 872.0,154.2 871.0,153.9 870.0,154.4 869.0,152.4 868.0,155.9 867.0,154.5 866.0,152.2 865.0,151.9 864.0,154.4 863.0,154.2 862.0,154.9 861.0,152.2 860.0,151.6 859.0,151.7 858.0,151.0 857.0,152.3 856.0,153.5 855.0,153.5 854.0,156.0 853.0,152.4 852.0,153.1 851.0,152.8 850.0,153.3 849.0,151.6 848.0,152.6 847.0,153.0 846.0,154.0 845.0,154.1 844.0,153.9 843.0,152.0 842.0,151.5 841.0,153.3 840.0,148.4 839.0,147.7 838.0,149.7 837.0,151.7 836.0,152.3 835.0,151.0 834.0,153.1 833.0,152.1 832.0,149.6 831.0,153.6 830.0,151.8 829.0,153.3 828.0,152.4 827.0,150.5 826.0,151.7" fill="#f04cb9" opacity="1.0"/>
<polygon points="826.0,163.1 827.0,162.4 828.0,161.4 829.0,161.6 830.0,160.8 831.0,161.5 832.0,162.8 833.0,162.8 834.0,164.0 835.0,162.5 836.0,161.2 837.0,163.7 838.0,160.4 839.0,160.0 840.0,162.0 841.0,163.4 842.0,161.8 843.0,161.7 844.0,164.5 845.0,160.9 846.0,162.6 847.0,162.1 848.0,163.9 849.0,163.7 850.0,162.3 851.0,162.7 852.0,163.9 853.0,166.5 854.0,164.5 855.0,166.9 856.0,164.7 857.0,167.1 858.0,165.7 859.0,165.7 860.0,162.1 861.0,168.2 862.0,163.5 863.0,164.4 864.0,162.8 865.0,163.3 866.0,163.0 867.0,163.3 868.0,163.4 869.0,163.6 870.0,165.0 871.0,163.0 872.0,165.7 873.0,166.1 874.0,163.0 875.0,163.9 876.0,164.7 877.0,166.0 878.0,162.9 879.0,163.6 880.0,165.0 881.0,164.0 882.0,166.2 883.0,162.9 884.0,167.6 885.0,163.8 886.0,166.9 887.0,165.0 888.0,162.9 889.0,165.2 890.0,165.8 891.0,163.7 892.0,165.4 893.0,164.9 894.0,165.3 895.0,163.5 896.0,161.9 897.0,165.5 898.0,167.3 899.0,163.5 900.0,164.6 901.0,164.4 902.0,164.2 903.0,165.6 904.0,164.7 905.0,165.8 906.0,167.9 907.0,167.0 908.0,167.5 909.0,168.0 910.0,166.7 911.0,168.4 912.0,167.5 913.0,166.1 914.0,166.9 915.0,163.5 916.0,166.7 917.0,169.0 918.0,169.7 919.0,169.8 920.0,170.5 921.0,168.1 922.0,167.1 923.0,167.8 924.0,168.1 925.0,169.2 926.0,167.9 927.0,166.3 928.0,169.8 929.0,169.9 930.0,169.5 931.0,167.3 932.0,170.0 933.0,170.7 934.0,169.6 935.0,166.8 936.0,167.7 937.0,167.6 938.0,167.7 939.0,164.0 940.0,168.1 941.0,165.7 942.0,167.8 943.0,169.8 944.0,168.1 945.0,169.4 946.0,167.8 947.0,168.0 948.0,164.8 949.0,168.0 950.0,168.1 951.0,166.6 952.0,168.8 953.0,172.3 954.0,169.3 955.0,168.8 956.0,167.7 957.0,167.7 958.0,169.7 959.0,169.0 960.0,168.8 961.0,170.6 962.0,169.9 963.0,169.8 964.0,169.8 965.0,170.7 966.0,171.5 967.0,172.6 968.0,171.1 969.0,171.0 970.0,171.9 971.0,172.1 972.0,171.0 973.0,170.4 974.0,171.9 975.0,172.1 976.0,169.6 977.0,171.0 978.0,172.7 979.0,173.4 980.0,171.8 981.0,171.1 982.0,169.6 983.0,170.8 984.0,172.1 985.0,170.7 986.0,171.9 987.0,172.7 988.0,171.7 989.0,170.1 990.0,172.1 991.0,171.6 992.0,171.6 993.0,170.7 994.0,172.7 995.0,174.2 996.0,171.4 997.0,171.3 998.0,172.1 999.0,172.4 1000.0,171.6 1001.0,174.1 1002.0,171.5 1003.0,171.5 1004.0,171.1 1005.0,172.0 1006.0,172.7 1007.0,173.0 1008.0,174.3 1009.0,173.6 1010.0,172.1 1011.0,174.5 1012.0,174.0 1013.0,172.8 1014.0,175.6 1015.0,173.0 1016.0,173.8 1017.0,174.1 1018.0,174.5 1019.0,173.1 1020.0,176.2 1021.0,174.7 1022.0,175.3 1023.0,175.3 1024.0,174.8 1025.0,174.2 1026.0,173.0 1027.0,173.7 1028.0,173.2 1029.0,172.1 1030.0,174.7 1031.0,172.1 1032.0,176.2 1033.0,169.5 1034.0,171.3 1035.0,175.3 1036.0,171.6 1037.0,178.0 1038.0,177.3 1039.0,176.1 1040.0,177.0 1041.0,177.0 1042.0,175.8 1043.0,176.4 1044.0,177.6 1045.0,179.2 1046.0,177.4 1047.0,176.4 1048.0,175.5 1049.0,174.8 1050.0,178.3 1051.0,176.6 1052.0,175.4 1053.0,176.0 1054.0,175.3 1055.0,173.8 1056.0,180.5 1057.0,175.3 1058.0,174.1 1059.0,175.4 1060.0,177.3 1061.0,177.5 1062.0,175.9 1063.0,172.5 1064.0,177.3 1065.0,173.6 1066.0,178.0 1067.0,176.7 1068.0,178.5 1069.0,175.0 1070.0,178.9 1071.0,178.1 1072.0,176.5 1073.0,175.8 1074.0,178.0 1075.0,174.4 1076.0,179.3 1077.0,179.3 1078.0,178.1 1079.0,176.8 1080.0,177.0 1081.0,179.5 1082.0,181.1 1083.0,179.4 1084.0,178.3 1085.0,175.5 1086.0,178.3 1087.0,179.3 1088.0,179.1 1089.0,180.1 1090.0,178.5 1091.0,176.4 1092.0,176.6 1093.0,179.9 1094.0,178.8 1095.0,182.6 1096.0,178.1 1097.0,178.8 1098.0,181.1 1099.0,178.1 1100.0,180.5 1101.0,180.3 1102.0,179.7 1103.0,180.9 1104.0,180.3 1105.0,181.6 1106.0,182.7 1107.0,181.8 1108.0,181.9 1109.0,181.5 1110.0,177.3 1111.0,182.0 1112.0,179.6 1113.0,180.3 1114.0,177.9 1115.0,179.5 1116.0,179.8 1117.0,179.0 1118.0,180.9 1119.0,178.8 1120.0,181.2 1121.0,184.3 1122.0,181.2 1123.0,179.3 1124.0,181.1 1125.0,182.5 1126.0,180.8 1127.0,181.4 1128.0,184.0 1129.0,182.7 1130.0,181.4 1131.0,178.6 1132.0,180.7 1133.0,183.0 1134.0,183.4 1135.0,181.9 1136.0,180.5 1137.0,177.9 1138.0,182.5 1139.0,181.1 1140.0,182.5 1141.0,180.1 1142.0,180.2 1143.0,182.7 1144.0,180.7 1145.0,181.0 1146.0,180.6 1147.0,181.8 1148.0,182.5 1149.0,183.4 1150.0,180.5 1151.0,179.3 1152.0,181.0 1153.0,181.2 1154.0,183.9 1155.0,183.4 1156.0,182.5 1157.0,182.2 1158.0,183.5 1159.0,183.6 1160.0,182.9 1161.0,182.0 1162.0,184.1 1163.0,182.7 1164.0,182.5 1165.0,181.7 1166.0,183.9 1167.0,183.8 1168.0,181.7 1169.0,181.7 1170.0,184.4 1171.0,184.6 1172.0,185.6 1173.0,186.7 1174.0,184.6 1175.0,185.2 1176.0,184.7 1177.0,187.0 1178.0,184.9 1179.0,183.4 1180.0,184.3 1181.0,184.5 1182.0,184.8 1183.0,186.3 1184.0,184.8 1185.0,184.3 1186.0,183.6 1187.0,184.1 1188.0,184.2 1189.0,185.1 1190.0,187.3 1191.0,185.9 1192.0,183.6 1193.0,185.4 1194.0,186.5 1195.0,186.0 1196.0,185.7 1197.0,184.6 1198.0,187.0 1199.0,185.7 1200.0,185.4 1201.0,184.6 1202.0,184.5 1203.0,187.0 1204.0,185.5 1205.0,184.0 1206.0,183.7 1207.0,185.8 1208.0,182.3 1209.0,187.1 1210.0,185.8 1211.0,184.9 1212.0,186.8 1213.0,187.5 1214.0,187.9 1215.0,187.3 1216.0,186.7 1217.0,184.6 1218.0,187.4 1219.0,186.4 1220.0,189.3 1221.0,187.2 1222.0,186.2 1223.0,188.8 1224.0,187.9 1225.0,188.4 1226.0,188.5 1227.0,184.9 1228.0,186.3 1229.0,188.7 1230.0,189.1 1231.0,189.3 1232.0,188.1 1233.0,187.5 1234.0,190.1 1235.0,189.2 1236.0,189.7 1237.0,185.8 1238.0,187.8 1239.0,186.7 1240.0,187.3 1241.0,187.8 1242.0,188.6 1243.0,187.4 1244.0,187.8 1245.0,187.8 1246.0,188.2 1247.0,188.3 1248.0,188.4 1249.0,189.0 1250.0,187.3 1251.0,187.1 1252.0,186.8 1253.0,187.0 1254.0,189.4 1255.0,187.0 1256.0,187.4 1257.0,187.0 1258.0,190.6 1259.0,189.1 1260.0,189.2 1261.0,190.0 1262.0,191.1 1263.0,189.9 1264.0,189.0 1265.0,189.7 1266.0,191.5 1267.0,189.3 1268.0,188.6 1269.0,188.9 1270.0,189.5 1271.0,189.1 1272.0,187.7 1273.0,192.1 1274.0,190.3 1275.0,192.1 1276.0,190.5 1277.0,187.5 1278.0,191.9 1279.0,190.1 1280.0,189.8 1281.0,190.6 1282.0,187.6 1283.0,190.8 1284.0,191.4 1285.0,189.6 1286.0,190.6 1287.0,191.1 1288.0,191.8 1289.0,191.6 1290.0,189.3 1291.0,191.9 1292.0,190.1 1293.0,190.5 1294.0,191.8 1295.0,193.4 1296.0,191.7 1297.0,193.0 1298.0,192.6 1299.0,191.0 1300.0,187.8 1301.0,189.7 1302.0,189.9 1303.0,187.3 1304.0,186.7 1305.0,189.2 1306.0,190.1 1307.0,191.9 1308.0,193.4 1309.0,193.2 1310.0,195.0 1311.0,194.8 1312.0,193.4 1313.0,195.0 1314.0,193.7 1315.0,195.0 1316.0,193.7 1316.0,196.6 1315.0,198.0 1314.0,194.7 1313.0,197.2 1312.0,195.6 1311.0,199.9 1310.0,199.0 1309.0,194.2 1308.0,194.4 1307.0,195.3 1306.0,193.5 1305.0,194.3 1304.0,191.5 1303.0,193.9 1302.0,192.0 1301.0,193.4 1300.0,193.6 1299.0,195.7 1298.0,196.8 1297.0,197.6 1296.0,193.4 1295.0,196.0 1294.0,195.0 1293.0,193.4 1292.0,194.4 1291.0,196.0 1290.0,194.0 1289.0,193.3 1288.0,195.0 1287.0,195.0 1286.0,194.5 1285.0,194.6 1284.0,194.9 1283.0,194.7 1282.0,195.9 1281.0,195.4 1280.0,193.7 1279.0,195.6 1278.0,197.1 1277.0,194.4 1276.0,192.6 1275.0,194.6 1274.0,194.2 1273.0,194.8 1272.0,196.2 1271.0,192.4 1270.0,194.8 1269.0,191.4 1268.0,193.1 1267.0,191.9 1266.0,194.1 1265.0,191.5 1264.0,191.0 1263.0,195.4 1262.0,193.7 1261.0,192.2 1260.0,193.0 1259.0,193.1 1258.0,193.9 1257.0,192.1 1256.0,193.2 1255.0,193.0 1254.0,193.5 1253.0,193.2 1252.0,191.0 1251.0,192.8 1250.0,193.7 1249.0,192.5 1248.0,190.1 1247.0,193.8 1246.0,195.5 1245.0,192.8 1244.0,194.6 1243.0,193.8 1242.0,193.1 1241.0,193.4 1240.0,191.9 1239.0,193.6 1238.0,192.8 1237.0,192.7 1236.0,190.8 1235.0,192.4 1234.0,191.1 1233.0,191.0 1232.0,191.5 1231.0,193.1 1230.0,192.5 1229.0,189.9 1228.0,192.7 1227.0,191.5 1226.0,190.8 1225.0,192.5 1224.0,190.3 1223.0,190.1 1222.0,192.5 1221.0,190.7 1220.0,195.2 1219.0,193.8 1218.0,191.9 1217.0,191.2 1216.0,193.3 1215.0,194.3 1214.0,190.2 1213.0,191.1 1212.0,190.9 1211.0,190.1 1210.0,191.1 1209.0,189.4 1208.0,190.7 1207.0,188.1 1206.0,189.4 1205.0,190.1 1204.0,189.5 1203.0,190.5 1202.0,190.6 1201.0,189.6 1200.0,190.9 1199.0,190.5 1198.0,191.7 1197.0,190.2 1196.0,191.0 1195.0,192.6 1194.0,189.1 1193.0,193.7 1192.0,190.0 1191.0,191.7 1190.0,191.2 1189.0,191.3 1188.0,190.2 1187.0,189.6 1186.0,189.6 1185.0,189.4 1184.0,190.2 1183.0,191.4 1182.0,192.2 1181.0,192.0 1180.0,190.1 1179.0,188.8 1178.0,189.9 1177.0,191.3 1176.0,189.7 1175.0,189.6 1174.0,189.4 1173.0,190.4 1172.0,190.5 1171.0,188.4 1170.0,188.0 1169.0,189.7 1168.0,188.5 1167.0,191.0 1166.0,190.3 1165.0,186.4 1164.0,189.5 1163.0,189.7 1162.0,188.6 1161.0,188.0 1160.0,188.5 1159.0,187.8 1158.0,189.9 1157.0,188.0 1156.0,187.4 1155.0,187.7 1154.0,189.6 1153.0,189.5 1152.0,184.9 1151.0,190.2 1150.0,185.8 1149.0,189.9 1148.0,187.0 1147.0,186.4 1146.0,186.1 1145.0,187.4 1144.0,186.3 1143.0,188.8 1142.0,186.3 1141.0,189.0 1140.0,189.3 1139.0,187.6 1138.0,188.9 1137.0,186.4 1136.0,186.8 1135.0,184.3 1134.0,189.0 1133.0,188.3 1132.0,188.7 1131.0,186.3 1130.0,186.8 1129.0,187.6 1128.0,188.9 1127.0,186.6 1126.0,187.9 1125.0,186.1 1124.0,187.2 1123.0,188.0 1122.0,183.7 1121.0,189.5 1120.0,186.9 1119.0,185.7 1118.0,186.4 1117.0,185.5 1116.0,185.6 1115.0,186.8 1114.0,185.4 1113.0,186.7 1112.0,186.5 1111.0,188.1 1110.0,186.6 1109.0,185.4 1108.0,188.2 1107.0,189.2 1106.0,186.7 1105.0,188.6 1104.0,187.3 1103.0,189.8 1102.0,186.9 1101.0,187.2 1100.0,185.9 1099.0,185.9 1098.0,186.8 1097.0,183.6 1096.0,183.2 1095.0,184.7 1094.0,186.1 1093.0,187.1 1092.0,183.9 1091.0,183.5 1090.0,183.8 1089.0,188.0 1088.0,184.6 1087.0,187.5 1086.0,183.6 1085.0,183.9 1084.0,184.4 1083.0,186.0 1082.0,185.5 1081.0,189.2 1080.0,185.0 1079.0,186.0 1078.0,185.2 1077.0,188.1 1076.0,184.6 1075.0,185.3 1074.0,184.9 1073.0,181.9 1072.0,183.4 1071.0,183.9 1070.0,184.9 1069.0,183.3 1068.0,184.3 1067.0,183.3 1066.0,183.9 1065.0,181.6 1064.0,183.5 1063.0,183.0 1062.0,181.7 1061.0,183.8 1060.0,185.3 1059.0,183.9 1058.0,183.0 1057.0,182.7 1056.0,183.5 1055.0,185.2 1054.0,183.6 1053.0,183.4 1052.0,184.9 1051.0,182.5 1050.0,184.8 1049.0,183.4 1048.0,183.7 1047.0,187.0 1046.0,184.5 1045.0,186.0 1044.0,183.6 1043.0,181.9 1042.0,181.6 1041.0,181.7 1040.0,183.5 1039.0,183.6 1038.0,186.3 1037.0,185.1 1036.0,182.1 1035.0,184.8 1034.0,182.0 1033.0,178.8 1032.0,180.9 1031.0,179.4 1030.0,181.3 1029.0,182.2 1028.0,180.9 1027.0,181.6 1026.0,184.6 1025.0,183.3 1024.0,183.0 1023.0,181.9 1022.0,185.0 1021.0,181.5 1020.0,180.2 1019.0,180.7 1018.0,182.3 1017.0,181.1 1016.0,181.2 1015.0,181.7 1014.0,183.1 1013.0,183.4 1012.0,181.7 1011.0,182.1 1010.0,180.6 1009.0,181.0 1008.0,180.8 1007.0,181.0 1006.0,178.5 1005.0,178.5 1004.0,180.7 1003.0,181.3 1002.0,176.7 1001.0,179.0 1000.0,181.2 999.0,180.5 998.0,181.9 997.0,181.8 996.0,178.9 995.0,181.6 994.0,179.7 993.0,180.1 992.0,179.1 991.0,178.9 990.0,180.2 989.0,181.8 988.0,177.6 987.0,179.1 986.0,177.2 985.0,179.0 984.0,181.1 983.0,179.0 982.0,179.3 981.0,179.3 980.0,179.5 979.0,182.0 978.0,182.2 977.0,180.0 976.0,179.1 975.0,181.8 974.0,179.5 973.0,177.9 972.0,179.0 971.0,179.1 970.0,181.2 969.0,178.6 968.0,178.6 967.0,180.7 966.0,180.9 965.0,180.4 964.0,178.8 963.0,177.6 962.0,179.0 961.0,178.7 960.0,178.0 959.0,177.9 958.0,180.0 957.0,177.1 956.0,178.7 955.0,179.9 954.0,179.5 953.0,178.3 952.0,179.8 951.0,177.0 950.0,178.5 949.0,177.2 948.0,176.0 947.0,178.2 946.0,180.3 945.0,179.2 944.0,179.3 943.0,178.3 942.0,179.6 941.0,173.8 940.0,178.0 939.0,174.6 938.0,175.1 937.0,174.0 936.0,177.6 935.0,179.1 934.0,177.5 933.0,179.2 932.0,178.2 931.0,177.0 930.0,177.1 929.0,177.1 928.0,176.1 927.0,177.3 926.0,177.2 925.0,179.2 924.0,178.5 923.0,176.3 922.0,176.4 921.0,178.9 920.0,180.1 919.0,179.1 918.0,179.0 917.0,180.3 916.0,176.9 915.0,175.5 914.0,176.3 913.0,178.2 912.0,179.8 911.0,178.8 910.0,178.4 909.0,179.3 908.0,175.4 907.0,174.4 906.0,176.3 905.0,176.9 904.0,176.5 903.0,176.0 902.0,175.1 901.0,174.7 900.0,174.3 899.0,176.9 898.0,175.3 897.0,175.1 896.0,177.7 895.0,176.3 894.0,175.0 893.0,175.8 892.0,176.7 891.0,176.7 890.0,177.9 889.0,175.1 888.0,174.6 887.0,175.1 886.0,178.7 885.0,176.2 884.0,177.0 883.0,175.4 882.0,177.6 881.0,174.7 880.0,174.5 879.0,176.1 878.0,174.9 877.0,175.2 876.0,175.6 875.0,175.8 874.0,175.4 873.0,176.1 872.0,176.4 871.0,174.2 870.0,174.9 869.0,173.6 868.0,176.3 867.0,175.3 866.0,176.0 865.0,173.8 864.0,175.1 863.0,175.7 862.0,173.6 861.0,177.2 860.0,174.3 859.0,174.8 858.0,176.1 857.0,177.1 856.0,175.4 855.0,175.5 854.0,176.6 853.0,177.5 852.0,177.4 851.0,172.4 850.0,174.3 849.0,174.1 848.0,175.1 847.0,175.3 846.0,172.3 845.0,172.7 844.0,174.6 843.0,172.5 842.0,172.4 841.0,170.8 840.0,173.2 839.0,174.1 838.0,173.1 837.0,174.9 836.0,174.5 835.0,176.2 834.0,176.9 833.0,172.7 832.0,173.6 831.0,172.8 830.0,172.4 829.0,173.6 828.0,170.6 827.0,172.5 826.0,175.6" fill="#d54ef0" opacity="1.0"/>
<polygon points="826.0,179.9 827.0,180.5 828.0,181.5 829.0,181.8 830.0,178.9 831.0,180.7 832.0,180.7 833.0,181.0 834.0,180.4 835.0,183.3 836.0,181.5 837.0,183.2 838.0,183.5 839.0,183.2 840.0,181.5 841.0,184.8 842.0,183.5 843.0,182.2 844.0,183.6 845.0,180.9 846.0,182.6 847.0,179.8 848.0,185.8 849.0,183.7 850.0,185.5 851.0,184.0 852.0,183.9 853.0,182.8 854.0,183.3 855.0,184.2 856.0,185.6 857.0,184.9 858.0,181.4 859.0,185.9 860.0,182.8 861.0,182.9 862.0,183.3 863.0,184.3 864.0,185.2 865.0,181.8 866.0,182.6 867.0,184.0 868.0,185.1 869.0,183.6 870.0,184.7 871.0,185.9 872.0,185.5 873.0,182.1 874.0,183.0 875.0,186.5 876.0,183.0 877.0,186.1 878.0,188.7 879.0,184.8 880.0,188.0 881.0,185.1 882.0,186.3 883.0,186.6 884.0,186.3 885.0,185.3 886.0,186.8 887.0,187.6 888.0,185.3 889.0,185.2 890.0,185.5 891.0,186.7 892.0,185.7 893.0,186.9 894.0,186.8 895.0,184.9 896.0,186.2 897.0,183.7 898.0,186.3 899.0,185.0 900.0,185.0 901.0,184.9 902.0,185.9 903.0,187.0 904.0,186.8 905.0,187.5 906.0,185.2 907.0,185.7 908.0,187.0 909.0,188.2 910.0,188.4 911.0,187.6 912.0,185.2 913.0,188.3 914.0,186.4 915.0,185.8 916.0,188.4 917.0,186.0 918.0,189.5 919.0,186.5 920.0,185.1 921.0,187.5 922.0,187.0 923.0,187.4 924.0,188.1 925.0,188.9 926.0,190.4 927.0,188.6 928.0,188.8 929.0,189.4 930.0,189.1 931.0,188.2 932.0,185.7 933.0,188.5 934.0,187.8 935.0,189.6 936.0,190.7 937.0,189.1 938.0,189.8 939.0,188.3 940.0,188.2 941.0,190.0 942.0,189.0 943.0,191.0 944.0,189.1 945.0,188.5 946.0,191.3 947.0,190.5 948.0,189.9 949.0,188.7 950.0,189.1 951.0,190.0 952.0,188.5 953.0,190.3 954.0,189.9 955.0,189.6 956.0,192.8 957.0,189.5 958.0,189.6 959.0,190.6 960.0,189.4 961.0,187.1 962.0,189.0 963.0,193.6 964.0,186.4 965.0,189.5 966.0,192.8 967.0,192.1 968.0,190.8 969.0,191.6 970.0,190.1 971.0,190.5 972.0,195.0 973.0,194.3 974.0,190.9 975.0,191.7 976.0,192.8 977.0,192.7 978.0,192.5 979.0,193.2 980.0,193.9 981.0,193.2 982.0,194.6 983.0,191.3 984.0,190.5 985.0,195.6 986.0,191.8 987.0,191.4 988.0,195.2 989.0,194.5 990.0,194.6 991.0,194.3 992.0,193.7 993.0,193.8 994.0,191.5 995.0,194.7 996.0,192.9 997.0,193.4 998.0,193.0 999.0,195.0 1000.0,193.9 1001.0,195.0 1002.0,191.1 1003.0,194.5 1004.0,194.9 1005.0,193.9 1006.0,194.6 1007.0,194.8 1008.0,192.9 1009.0,193.5 1010.0,196.2 1011.0,196.5 1012.0,196.4 1013.0,198.1 1014.0,198.1 1015.0,196.2 1016.0,194.2 1017.0,194.4 1018.0,194.9 1019.0,194.0 1020.0,191.8 1021.0,195.2 1022.0,193.9 1023.0,195.3 1024.0,197.5 1025.0,195.5 1026.0,195.2 1027.0,195.2 1028.0,195.7 1029.0,193.9 1030.0,195.0 1031.0,196.7 1032.0,194.3 1033.0,198.6 1034.0,196.9 1035.0,195.1 1036.0,198.0 1037.0,196.7 1038.0,193.6 1039.0,195.9 1040.0,197.1 1041.0,196.5 1042.0,199.1 1043.0,196.1 1044.0,195.5 1045.0,197.1 1046.0,195.9 1047.0,196.7 1048.0,197.4 1049.0,195.8 1050.0,199.4 1051.0,198.7 1052.0,196.0 1053.0,198.4 1054.0,197.1 1055.0,198.4 1056.0,199.7 1057.0,196.0 1058.0,198.2 1059.0,198.8 1060.0,198.0 1061.0,195.1 1062.0,195.5 1063.0,195.9 1064.0,196.3 1065.0,200.3 1066.0,197.5 1067.0,197.8 1068.0,195.4 1069.0,195.5 1070.0,196.9 1071.0,197.6 1072.0,199.3 1073.0,195.9 1074.0,198.8 1075.0,199.2 1076.0,197.8 1077.0,199.4 1078.0,197.3 1079.0,200.4 1080.0,196.1 1081.0,199.3 1082.0,199.5 1083.0,196.7 1084.0,200.6 1085.0,197.9 1086.0,199.1 1087.0,199.4 1088.0,198.2 1089.0,199.4 1090.0,200.8 1091.0,200.6 1092.0,200.0 1093.0,199.7 1094.0,201.5 1095.0,199.1 1096.0,201.5 1097.0,199.6 1098.0,201.1 1099.0,199.3 1100.0,198.6 1101.0,200.3 1102.0,200.4 1103.0,202.1 1104.0,200.5 1105.0,199.7 1106.0,201.2 1107.0,200.9 1108.0,202.7 1109.0,200.0 1110.0,201.1 1111.0,201.5 1112.0,203.5 1113.0,203.0 1114.0,201.0 1115.0,200.7 1116.0,204.8 1117.0,203.2 1118.0,203.9 1119.0,200.4 1120.0,199.9 1121.0,202.0 1122.0,202.1 1123.0,203.3 1124.0,203.3 1125.0,201.3 1126.0,203.6 1127.0,203.5 1128.0,199.7 1129.0,199.9 1130.0,203.0 1131.0,204.1 1132.0,202.8 1133.0,200.5 1134.0,201.7 1135.0,201.5 1136.0,202.5 1137.0,204.6 1138.0,203.4 1139.0,204.3 1140.0,204.5 1141.0,203.2 1142.0,202.9 1143.0,202.3 1144.0,203.5 1145.0,204.9 1146.0,206.0 1147.0,204.1 1148.0,205.0 1149.0,203.9 1150.0,203.6 1151.0,203.4 1152.0,203.5 1153.0,201.7 1154.0,202.8 1155.0,202.3 1156.0,202.8 1157.0,206.9 1158.0,204.8 1159.0,201.7 1160.0,202.7 1161.0,205.4 1162.0,202.8 1163.0,205.1 1164.0,203.7 1165.0,205.0 1166.0,203.1 1167.0,205.7 1168.0,205.5 1169.0,206.2 1170.0,203.4 1171.0,206.7 1172.0,203.5 1173.0,204.9 1174.0,204.9 1175.0,205.0 1176.0,206.8 1177.0,204.1 1178.0,205.4 1179.0,204.6 1180.0,206.0 1181.0,204.2 1182.0,203.8 1183.0,206.3 1184.0,203.4 1185.0,205.9 1186.0,204.3 1187.0,202.9 1188.0,205.0 1189.0,202.9 1190.0,204.4 1191.0,205.1 1192.0,206.1 1193.0,206.4 1194.0,207.0 1195.0,206.6 1196.0,208.5 1197.0,205.6 1198.0,202.7 1199.0,207.1 1200.0,206.3 1201.0,207.3 1202.0,206.8 1203.0,207.9 1204.0,205.2 1205.0,205.2 1206.0,207.0 1207.0,205.9 1208.0,206.2 1209.0,205.8 1210.0,206.9 1211.0,208.6 1212.0,204.4 1213.0,206.5 1214.0,207.0 1215.0,206.5 1216.0,206.7 1217.0,208.3 1218.0,206.2 1219.0,207.1 1220.0,205.3 1221.0,208.3 1222.0,208.4 1223.0,206.0 1224.0,207.2 1225.0,209.2 1226.0,209.1 1227.0,205.4 1228.0,207.2 1229.0,206.7 1230.0,206.5 1231.0,205.2 1232.0,207.4 1233.0,207.9 1234.0,206.3 1235.0,209.9 1236.0,209.5 1237.0,208.1 1238.0,207.9 1239.0,209.8 1240.0,206.9 1241.0,207.1 1242.0,208.6 1243.0,208.4 1244.0,210.2 1245.0,208.5 1246.0,210.1 1247.0,208.6 1248.0,208.7 1249.0,208.5 1250.0,209.2 1251.0,206.1 1252.0,205.4 1253.0,210.0 1254.0,210.3 1255.0,208.1 1256.0,208.0 1257.0,207.8 1258.0,209.1 1259.0,208.9 1260.0,208.2 1261.0,212.7 1262.0,209.1 1263.0,207.7 1264.0,205.4 1265.0,209.9 1266.0,209.6 1267.0,209.1 1268.0,209.5 1269.0,209.9 1270.0,210.0 1271.0,207.6 1272.0,209.2 1273.0,211.2 1274.0,211.7 1275.0,210.3 1276.0,212.3 1277.0,211.3 1278.0,209.8 1279.0,210.6 1280.0,209.8 1281.0,209.7 1282.0,213.3 1283.0,212.0 1284.0,210.5 1285.0,212.1 1286.0,207.9 1287.0,210.5 1288.0,209.2 1289.0,210.9 1290.0,208.4 1291.0,212.4 1292.0,209.8 1293.0,211.4 1294.0,209.3 1295.0,214.8 1296.0,211.3 1297.0,211.7 1298.0,213.0 1299.0,210.9 1300.0,211.5 1301.0,213.1 1302.0,212.7 1303.0,211.4 1304.0,210.3 1305.0,211.6 1306.0,212.3 1307.0,212.6 1308.0,212.5 1309.0,212.6 1310.0,213.5 1311.0,210.6 1312.0,211.8 1313.0,207.6 1314.0,213.5 1315.0,213.6 1316.0,211.5 1316.0,215.9 1315.0,214.6 1314.0,214.5 1313.0,212.5 1312.0,217.4 1311.0,212.3 1310.0,215.7 1309.0,216.1 1308.0,216.3 1307.0,215.7 1306.0,217.7 1305.0,215.8 1304.0,213.5 1303.0,216.2 1302.0,213.7 1301.0,214.6 1300.0,216.2 1299.0,213.1 1298.0,216.5 1297.0,213.6 1296.0,215.5 1295.0,216.1 1294.0,214.6 1293.0,212.9 1292.0,215.7 1291.0,215.8 1290.0,213.9 1289.0,213.0 1288.0,212.6 1287.0,211.5 1286.0,213.4 1285.0,214.3 1284.0,213.6 1283.0,213.5 1282.0,215.1 1281.0,212.5 1280.0,214.7 1279.0,215.6 1278.0,215.7 1277.0,216.3 1276.0,217.1 1275.0,214.7 1274.0,215.2 1273.0,213.5 1272.0,212.6 1271.0,212.3 1270.0,211.4 1269.0,213.8 1268.0,214.5 1267.0,214.2 1266.0,212.0 1265.0,213.7 1264.0,213.9 1263.0,213.3 1262.0,211.7 1261.0,213.7 1260.0,213.7 1259.0,212.5 1258.0,212.7 1257.0,212.0 1256.0,212.8 1255.0,213.3 1254.0,213.6 1253.0,215.2 1252.0,211.9 1251.0,209.5 1250.0,213.0 1249.0,210.6 1248.0,211.9 1247.0,210.5 1246.0,214.1 1245.0,212.7 1244.0,212.3 1243.0,213.2 1242.0,214.2 1241.0,209.1 1240.0,211.8 1239.0,214.1 1238.0,212.0 1237.0,213.8 1236.0,214.6 1235.0,211.9 1234.0,214.2 1233.0,213.1 1232.0,212.9 1231.0,211.3 1230.0,212.9 1229.0,213.8 1228.0,209.9 1227.0,211.2 1226.0,212.8 1225.0,214.6 1224.0,212.6 1223.0,210.7 1222.0,211.3 1221.0,214.0 1220.0,209.1 1219.0,214.0 1218.0,213.6 1217.0,211.1 1216.0,211.2 1215.0,210.0 1214.0,210.3 1213.0,211.2 1212.0,212.9 1211.0,214.2 1210.0,213.4 1209.0,211.7 1208.0,210.7 1207.0,212.2 1206.0,212.0 1205.0,211.7 1204.0,210.6 1203.0,210.3 1202.0,215.3 1201.0,212.4 1200.0,211.2 1199.0,208.9 1198.0,211.2 1197.0,211.3 1196.0,212.5 1195.0,209.5 1194.0,210.1 1193.0,213.2 1192.0,211.3 1191.0,209.5 1190.0,206.5 1189.0,208.3 1188.0,210.9 1187.0,209.5 1186.0,211.7 1185.0,210.0 1184.0,210.6 1183.0,210.4 1182.0,209.5 1181.0,206.7 1180.0,208.7 1179.0,210.3 1178.0,210.3 1177.0,212.2 1176.0,210.9 1175.0,212.1 1174.0,211.9 1173.0,212.1 1172.0,208.6 1171.0,211.6 1170.0,210.2 1169.0,211.7 1168.0,211.7 1167.0,212.1 1166.0,210.6 1165.0,210.7 1164.0,209.8 1163.0,212.1 1162.0,208.4 1161.0,208.0 1160.0,209.5 1159.0,210.5 1158.0,208.4 1157.0,211.3 1156.0,209.1 1155.0,210.2 1154.0,211.7 1153.0,207.1 1152.0,208.4 1151.0,210.9 1150.0,210.2 1149.0,210.6 1148.0,209.6 1147.0,208.3 1146.0,211.8 1145.0,209.2 1144.0,210.0 1143.0,209.7 1142.0,208.3 1141.0,209.9 1140.0,210.9 1139.0,208.3 1138.0,208.3 1137.0,208.3 1136.0,209.7 1135.0,209.8 1134.0,206.8 1133.0,205.6 1132.0,210.4 1131.0,207.2 1130.0,208.9 1129.0,207.0 1128.0,209.3 1127.0,209.4 1126.0,209.4 1125.0,208.9 1124.0,212.0 1123.0,207.8 1122.0,208.0 1121.0,208.2 1120.0,208.3 1119.0,207.1 1118.0,213.2 1117.0,211.8 1116.0,207.9 1115.0,209.7 1114.0,207.3 1113.0,210.0 1112.0,206.4 1111.0,208.4 1110.0,206.0 1109.0,208.4 1108.0,209.7 1107.0,206.7 1106.0,205.0 1105.0,207.6 1104.0,208.0 1103.0,206.5 1102.0,206.2 1101.0,205.5 1100.0,204.5 1099.0,208.0 1098.0,208.4 1097.0,206.1 1096.0,205.8 1095.0,206.2 1094.0,208.0 1093.0,207.2 1092.0,205.4 1091.0,207.7 1090.0,207.4 1089.0,208.1 1088.0,207.0 1087.0,205.4 1086.0,209.2 1085.0,206.0 1084.0,204.7 1083.0,204.7 1082.0,208.6 1081.0,205.6 1080.0,205.0 1079.0,203.5 1078.0,204.3 1077.0,205.7 1076.0,205.8 1075.0,207.5 1074.0,204.7 1073.0,203.6 1072.0,205.6 1071.0,202.8 1070.0,203.1 1069.0,201.3 1068.0,204.3 1067.0,201.6 1066.0,204.4 1065.0,202.8 1064.0,205.3 1063.0,204.7 1062.0,205.7 1061.0,205.2 1060.0,205.4 1059.0,205.6 1058.0,205.7 1057.0,205.4 1056.0,205.2 1055.0,206.5 1054.0,206.1 1053.0,204.9 1052.0,204.5 1051.0,204.7 1050.0,204.2 1049.0,206.1 1048.0,203.8 1047.0,206.2 1046.0,204.5 1045.0,203.2 1044.0,202.4 1043.0,203.1 1042.0,202.8 1041.0,203.8 1040.0,202.6 1039.0,203.8 1038.0,203.0 1037.0,203.8 1036.0,204.4 1035.0,202.5 1034.0,204.5 1033.0,205.3 1032.0,203.7 1031.0,204.3 1030.0,204.8 1029.0,202.5 1028.0,203.4 1027.0,204.5 1026.0,204.9 1025.0,204.9 1024.0,203.4 1023.0,201.7 1022.0,201.5 1021.0,199.9 1020.0,201.7 1019.0,202.6 1018.0,202.2 1017.0,203.7 1016.0,204.0 1015.0,200.1 1014.0,204.5 1013.0,204.5 1012.0,204.0 1011.0,203.9 1010.0,203.7 1009.0,202.6 1008.0,202.8 1007.0,201.2 1006.0,204.3 1005.0,201.1 1004.0,203.3 1003.0,203.9 1002.0,204.1 1001.0,200.3 1000.0,202.9 999.0,204.5 998.0,202.4 997.0,201.0 996.0,203.1 995.0,203.9 994.0,201.8 993.0,200.0 992.0,201.5 991.0,203.1 990.0,201.1 989.0,199.7 988.0,204.2 987.0,201.3 986.0,202.0 985.0,200.3 984.0,199.5 983.0,199.2 982.0,202.2 981.0,202.9 980.0,202.6 979.0,198.0 978.0,198.0 977.0,200.6 976.0,197.7 975.0,200.9 974.0,200.4 973.0,201.6 972.0,199.3 971.0,198.1 970.0,200.4 969.0,200.9 968.0,201.0 967.0,200.5 966.0,197.5 965.0,197.7 964.0,199.8 963.0,201.2 962.0,198.6 961.0,199.3 960.0,198.1 959.0,200.0 958.0,198.8 957.0,200.2 956.0,201.1 955.0,199.0 954.0,199.1 953.0,199.0 952.0,199.5 951.0,200.2 950.0,200.3 949.0,199.2 948.0,201.3 947.0,199.8 946.0,199.0 945.0,198.0 944.0,198.6 943.0,197.8 942.0,200.1 941.0,198.8 940.0,197.9 939.0,196.5 938.0,197.0 937.0,197.9 936.0,199.2 935.0,196.9 934.0,197.9 933.0,197.2 932.0,196.3 931.0,197.7 930.0,197.2 929.0,198.3 928.0,198.7 927.0,200.3 926.0,199.9 925.0,197.5 924.0,197.2 923.0,194.3 922.0,198.8 921.0,196.3 920.0,193.7 919.0,197.7 918.0,198.3 917.0,200.0 916.0,197.6 915.0,195.7 914.0,199.0 913.0,198.1 912.0,197.1 911.0,196.4 910.0,195.8 909.0,197.8 908.0,195.0 907.0,196.4 906.0,196.9 905.0,195.6 904.0,197.3 903.0,198.6 902.0,196.9 901.0,193.8 900.0,195.7 899.0,195.7 898.0,197.1 897.0,196.5 896.0,195.2 895.0,193.9 894.0,196.7 893.0,195.1 892.0,198.6 891.0,196.0 890.0,193.3 889.0,193.8 888.0,195.7 887.0,198.0 886.0,195.5 885.0,195.8 884.0,196.7 883.0,195.8 882.0,196.6 881.0,194.3 880.0,194.3 879.0,195.8 878.0,195.8 877.0,195.2 876.0,192.5 875.0,196.1 874.0,193.6 873.0,191.2 872.0,196.5 871.0,194.6 870.0,194.2 869.0,195.9 868.0,196.0 867.0,195.6 866.0,193.1 865.0,195.0 864.0,197.5 863.0,196.6 862.0,192.9 861.0,193.4 860.0,195.4 859.0,195.8 858.0,194.8 857.0,195.2 856.0,197.4 855.0,195.4 854.0,195.8 853.0,193.7 852.0,195.9 851.0,196.0 850.0,195.6 849.0,193.6 848.0,196.6 847.0,195.8 846.0,197.1 845.0,196.8 844.0,193.4 843.0,194.9 842.0,195.0 841.0,195.4 840.0,193.0 839.0,193.6 838.0,194.7 837.0,193.9 836.0,193.4 835.0,191.6 834.0,191.6 833.0,193.6 832.0,191.9 831.0,193.3 830.0,189.8 829.0,194.5 828.0,193.8 827.0,191.0 826.0,192.9" fill="#7a72f2" opacity="1.0"/>
<polygon points="826.0,204.0 827.0,202.2 828.0,200.8 829.0,200.3 830.0,201.2 831.0,200.2 832.0,201.5 833.0,202.2 834.0,202.0 835.0,200.6 836.0,200.6 837.0,202.1 838.0,201.6 839.0,203.7 840.0,204.7 841.0,204.6 842.0,204.0 843.0,202.4 844.0,201.8 845.0,202.0 846.0,202.9 847.0,201.7 848.0,201.0 849.0,202.5 850.0,203.8 851.0,204.0 852.0,202.6 853.0,201.8 854.0,202.3 855.0,207.3 856.0,203.2 857.0,205.3 858.0,206.5 859.0,203.4 860.0,202.9 861.0,201.9 862.0,203.7 863.0,204.0 864.0,204.8 865.0,205.6 866.0,202.6 867.0,203.2 868.0,202.0 869.0,204.0 870.0,200.5 871.0,203.2 872.0,201.7 873.0,202.3 874.0,203.8 875.0,205.0 876.0,202.9 877.0,205.9 878.0,203.7 879.0,202.0 880.0,203.3 881.0,203.7 882.0,204.1 883.0,203.6 884.0,204.3 885.0,202.6 886.0,203.3 887.0,202.3 888.0,203.4 889.0,204.2 890.0,204.4 891.0,204.1 892.0,204.3 893.0,204.1 894.0,205.9 895.0,205.2 896.0,204.3 897.0,205.6 898.0,203.0 899.0,202.3 900.0,204.8 901.0,205.4 902.0,202.0 903.0,205.8 904.0,205.4 905.0,207.8 906.0,206.8 907.0,204.2 908.0,205.6 909.0,206.3 910.0,203.4 911.0,204.0 912.0,202.9 913.0,206.7 914.0,203.7 915.0,201.9 916.0,205.3 917.0,204.2 918.0,203.8 919.0,203.4 920.0,206.5 921.0,203.9 922.0,206.4 923.0,205.6 924.0,206.0 925.0,206.0 926.0,206.9 927.0,203.8 928.0,205.2 929.0,204.2 930.0,205.3 931.0,206.2 932.0,208.6 933.0,207.4 934.0,208.5 935.0,205.8 936.0,204.6 937.0,204.1 938.0,204.8 939.0,205.7 940.0,207.2 941.0,208.8 942.0,206.6 943.0,208.1 944.0,205.9 945.0,206.7 946.0,208.0 947.0,206.5 948.0,208.1 949.0,206.8 950.0,206.6 951.0,206.6 952.0,206.5 953.0,207.6 954.0,207.7 955.0,207.8 956.0,207.0 957.0,205.8 958.0,208.5 959.0,209.6 960.0,205.3 961.0,208.0 962.0,208.6 963.0,207.5 964.0,205.0 965.0,207.9 966.0,208.5 967.0,209.1 968.0,208.7 969.0,207.8 970.0,209.0 971.0,206.7 972.0,207.7 973.0,208.5 974.0,206.8 975.0,204.4 976.0,206.1 977.0,207.5 978.0,207.0 979.0,209.3 980.0,208.0 981.0,208.5 982.0,205.7 983.0,207.9 984.0,208.3 985.0,209.4 986.0,208.4 987.0,210.2 988.0,208.4 989.0,211.3 990.0,209.5 991.0,211.5 992.0,207.8 993.0,208.9 994.0,213.0 995.0,208.5 996.0,211.6 997.0,208.1 998.0,208.0 999.0,206.0 1000.0,210.8 1001.0,209.9 1002.0,210.5 1003.0,210.3 1004.0,209.1 1005.0,209.3 1006.0,210.8 1007.0,209.5 1008.0,210.8 1009.0,215.1 1010.0,211.9 1011.0,208.2 1012.0,212.0 1013.0,207.6 1014.0,208.5 1015.0,211.5 1016.0,213.5 1017.0,211.7 1018.0,210.7 1019.0,211.6 1020.0,211.6 1021.0,210.4 1022.0,208.1 1023.0,211.8 1024.0,214.3 1025.0,211.6 1026.0,210.9 1027.0,209.1 1028.0,210.6 1029.0,209.9 1030.0,209.4 1031.0,210.9 1032.0,212.2 1033.0,210.3 1034.0,210.3 1035.0,211.0 1036.0,209.9 1037.0,211.2 1038.0,213.4 1039.0,210.5 1040.0,210.5 1041.0,210.6 1042.0,210.0 1043.0,211.8 1044.0,213.1 1045.0,214.1 1046.0,212.2 1047.0,211.4 1048.0,211.5 1049.0,211.8 1050.0,211.7 1051.0,209.1 1052.0,208.3 1053.0,212.9 1054.0,211.2 1055.0,212.1 1056.0,212.4 1057.0,210.2 1058.0,211.6 1059.0,213.5 1060.0,210.6 1061.0,211.7 1062.0,213.5 1063.0,212.6 1064.0,212.1 1065.0,211.6 1066.0,212.6 1067.0,210.5 1068.0,212.3 1069.0,213.0 1070.0,212.4 1071.0,212.8 1072.0,211.1 1073.0,211.0 1074.0,211.7 1075.0,212.2 1076.0,209.6 1077.0,213.4 1078.0,213.3 1079.0,212.1 1080.0,214.6 1081.0,212.4 1082.0,210.3 1083.0,212.6 1084.0,212.1 1085.0,215.2 1086.0,213.3 1087.0,213.3 1088.0,213.5 1089.0,213.7 1090.0,215.6 1091.0,214.1 1092.0,216.9 1093.0,216.8 1094.0,214.8 1095.0,213.3 1096.0,216.6 1097.0,215.7 1098.0,215.6 1099.0,215.3 1100.0,217.3 1101.0,215.6 1102.0,214.1 1103.0,215.0 1104.0,216.1 1105.0,213.7 1106.0,212.4 1107.0,216.0 1108.0,215.9 1109.0,215.0 1110.0,212.2 1111.0,214.7 1112.0,210.8 1113.0,216.9 1114.0,217.2 1115.0,217.5 1116.0,217.6 1117.0,216.9 1118.0,215.0 1119.0,215.1 1120.0,217.6 1121.0,217.4 1122.0,216.6 1123.0,217.3 1124.0,215.3 1125.0,218.8 1126.0,220.4 1127.0,217.8 1128.0,217.2 1129.0,218.5 1130.0,217.8 1131.0,217.5 1132.0,218.5 1133.0,215.6 1134.0,218.4 1135.0,217.8 1136.0,215.7 1137.0,218.4 1138.0,217.6 1139.0,217.4 1140.0,216.2 1141.0,218.0 1142.0,216.7 1143.0,217.7 1144.0,219.0 1145.0,219.2 1146.0,214.2 1147.0,218.4 1148.0,218.4 1149.0,217.0 1150.0,218.7 1151.0,217.5 1152.0,218.9 1153.0,219.1 1154.0,217.2 1155.0,220.5 1156.0,217.0 1157.0,218.0 1158.0,218.3 1159.0,219.1 1160.0,219.8 1161.0,218.3 1162.0,217.6 1163.0,219.5 1164.0,216.9 1165.0,219.7 1166.0,219.4 1167.0,217.9 1168.0,219.7 1169.0,220.1 1170.0,222.2 1171.0,219.7 1172.0,220.4 1173.0,219.3 1174.0,218.1 1175.0,219.7 1176.0,216.4 1177.0,219.2 1178.0,220.3 1179.0,220.4 1180.0,219.2 1181.0,218.3 1182.0,215.9 1183.0,221.6 1184.0,222.0 1185.0,221.8 1186.0,220.3 1187.0,218.8 1188.0,218.5 1189.0,220.8 1190.0,219.6 1191.0,219.3 1192.0,219.1 1193.0,221.4 1194.0,220.8 1195.0,223.8 1196.0,219.7 1197.0,222.5 1198.0,221.1 1199.0,221.3 1200.0,220.2 1201.0,219.1 1202.0,219.0 1203.0,220.1 1204.0,220.6 1205.0,219.1 1206.0,222.6 1207.0,221.9 1208.0,222.1 1209.0,221.5 1210.0,221.9 1211.0,222.1 1212.0,223.0 1213.0,223.3 1214.0,223.9 1215.0,223.2 1216.0,220.7 1217.0,222.6 1218.0,224.0 1219.0,222.0 1220.0,221.2 1221.0,221.6 1222.0,222.2 1223.0,222.2 1224.0,220.6 1225.0,221.8 1226.0,224.1 1227.0,222.9 1228.0,222.5 1229.0,221.2 1230.0,221.4 1231.0,223.4 1232.0,221.0 1233.0,220.9 1234.0,220.3 1235.0,222.9 1236.0,223.1 1237.0,224.9 1238.0,221.7 1239.0,222.4 1240.0,222.6 1241.0,223.0 1242.0,224.3 1243.0,222.5 1244.0,222.2 1245.0,223.5 1246.0,223.9 1247.0,222.0 1248.0,221.0 1249.0,223.3 1250.0,221.5 1251.0,220.0 1252.0,221.1 1253.0,219.9 1254.0,223.5 1255.0,223.8 1256.0,222.8 1257.0,223.7 1258.0,222.0 1259.0,223.8 1260.0,222.9 1261.0,225.0 1262.0,221.4 1263.0,222.3 1264.0,222.3 1265.0,219.9 1266.0,220.3 1267.0,223.8 1268.0,222.6 1269.0,224.9 1270.0,221.7 1271.0,222.4 1272.0,222.8 1273.0,223.0 1274.0,224.5 1275.0,223.7 1276.0,222.7 1277.0,224.3 1278.0,223.8 1279.0,223.2 1280.0,224.6 1281.0,220.8 1282.0,224.4 1283.0,223.0 1284.0,226.5 1285.0,225.7 1286.0,223.6 1287.0,223.3 1288.0,225.0 1289.0,222.0 1290.0,224.7 1291.0,222.8 1292.0,222.3 1293.0,225.1 1294.0,224.9 1295.0,223.3 1296.0,222.2 1297.0,223.1 1298.0,225.5 1299.0,227.3 1300.0,223.4 1301.0,225.5 1302.0,223.3 1303.0,225.7 1304.0,223.9 1305.0,223.5 1306.0,223.1 1307.0,226.5 1308.0,223.1 1309.0,223.3 1310.0,224.2 1311.0,224.7 1312.0,222.0 1313.0,224.2 1314.0,225.9 1315.0,226.6 1316.0,225.1 1316.0,228.6 1315.0,227.6 1314.0,230.2 1313.0,226.3 1312.0,229.0 1311.0,228.8 1310.0,226.1 1309.0,227.2 1308.0,226.6 1307.0,227.5 1306.0,226.5 1305.0,229.3 1304.0,230.9 1303.0,229.0 1302.0,228.0 1301.0,226.5 1300.0,227.0 1299.0,228.8 1298.0,226.9 1297.0,225.7 1296.0,225.5 1295.0,225.1 1294.0,226.7 1293.0,227.3 1292.0,227.0 1291.0,228.0 1290.0,226.6 1289.0,227.0 1288.0,227.3 1287.0,227.6 1286.0,225.8 1285.0,229.7 1284.0,228.3 1283.0,226.6 1282.0,226.3 1281.0,225.0 1280.0,227.9 1279.0,225.7 1278.0,225.5 1277.0,228.7 1276.0,228.9 1275.0,227.8 1274.0,225.9 1273.0,225.5 1272.0,225.6 1271.0,225.9 1270.0,227.3 1269.0,227.8 1268.0,228.3 1267.0,226.9 1266.0,226.6 1265.0,225.7 1264.0,227.0 1263.0,224.9 1262.0,224.2 1261.0,227.9 1260.0,225.5 1259.0,229.8 1258.0,224.3 1257.0,227.7 1256.0,228.4 1255.0,225.7 1254.0,225.7 1253.0,226.2 1252.0,226.6 1251.0,227.8 1250.0,228.0 1249.0,228.1 1248.0,225.7 1247.0,227.6 1246.0,226.9 1245.0,229.6 1244.0,227.8 1243.0,227.5 1242.0,227.1 1241.0,228.3 1240.0,226.9 1239.0,227.4 1238.0,225.6 1237.0,227.9 1236.0,226.5 1235.0,225.6 1234.0,224.9 1233.0,226.3 1232.0,226.4 1231.0,225.6 1230.0,225.8 1229.0,225.8 1228.0,228.7 1227.0,225.8 1226.0,227.4 1225.0,225.3 1224.0,226.7 1223.0,224.6 1222.0,227.3 1221.0,225.2 1220.0,225.1 1219.0,225.1 1218.0,228.2 1217.0,227.4 1216.0,225.8 1215.0,227.4 1214.0,229.8 1213.0,226.1 1212.0,227.8 1211.0,226.2 1210.0,225.7 1209.0,225.7 1208.0,227.1 1207.0,224.4 1206.0,226.0 1205.0,227.3 1204.0,226.2 1203.0,225.3 1202.0,225.9 1201.0,225.4 1200.0,224.7 1199.0,228.0 1198.0,224.3 1197.0,229.0 1196.0,224.4 1195.0,224.8 1194.0,224.8 1193.0,225.7 1192.0,227.1 1191.0,223.3 1190.0,224.9 1189.0,225.8 1188.0,223.8 1187.0,225.2 1186.0,223.7 1185.0,226.8 1184.0,225.8 1183.0,224.5 1182.0,223.9 1181.0,222.0 1180.0,224.3 1179.0,226.2 1178.0,223.8 1177.0,224.0 1176.0,223.3 1175.0,225.5 1174.0,225.2 1173.0,224.7 1172.0,225.3 1171.0,224.7 1170.0,225.8 1169.0,224.7 1168.0,223.4 1167.0,222.7 1166.0,224.9 1165.0,222.9 1164.0,223.7 1163.0,222.3 1162.0,222.7 1161.0,225.4 1160.0,225.4 1159.0,225.3 1158.0,223.0 1157.0,226.9 1156.0,222.9 1155.0,223.3 1154.0,223.5 1153.0,222.5 1152.0,224.9 1151.0,222.7 1150.0,225.6 1149.0,223.5 1148.0,224.1 1147.0,223.4 1146.0,225.2 1145.0,222.5 1144.0,222.1 1143.0,222.5 1142.0,222.5 1141.0,222.6 1140.0,222.3 1139.0,226.5 1138.0,223.2 1137.0,224.7 1136.0,223.2 1135.0,220.8 1134.0,222.0 1133.0,222.5 1132.0,222.3 1131.0,222.6 1130.0,224.8 1129.0,224.0 1128.0,224.3 1127.0,224.7 1126.0,225.3 1125.0,224.3 1124.0,221.2 1123.0,224.9 1122.0,223.3 1121.0,225.7 1120.0,222.6 1119.0,222.3 1118.0,221.9 1117.0,222.7 1116.0,221.1 1115.0,223.3 1114.0,221.8 1113.0,223.8 1112.0,221.8 1111.0,221.6 1110.0,221.3 1109.0,218.9 1108.0,222.2 1107.0,220.5 1106.0,220.1 1105.0,221.4 1104.0,221.5 1103.0,223.5 1102.0,220.7 1101.0,220.1 1100.0,218.5 1099.0,220.8 1098.0,225.1 1097.0,221.8 1096.0,219.9 1095.0,221.8 1094.0,223.4 1093.0,222.8 1092.0,221.8 1091.0,222.3 1090.0,222.4 1089.0,218.3 1088.0,220.5 1087.0,218.1 1086.0,218.5 1085.0,221.1 1084.0,217.9 1083.0,219.6 1082.0,220.5 1081.0,221.2 1080.0,220.4 1079.0,220.5 1078.0,219.2 1077.0,219.3 1076.0,219.7 1075.0,219.4 1074.0,219.6 1073.0,218.4 1072.0,217.7 1071.0,217.8 1070.0,219.8 1069.0,218.0 1068.0,217.9 1067.0,217.7 1066.0,216.1 1065.0,218.2 1064.0,219.5 1063.0,217.9 1062.0,218.6 1061.0,219.7 1060.0,217.8 1059.0,219.9 1058.0,219.7 1057.0,219.2 1056.0,218.6 1055.0,220.2 1054.0,218.7 1053.0,216.3 1052.0,216.2 1051.0,215.9 1050.0,216.9 1049.0,219.4 1048.0,220.3 1047.0,216.3 1046.0,218.6 1045.0,219.3 1044.0,217.2 1043.0,219.4 1042.0,220.0 1041.0,219.0 1040.0,218.1 1039.0,217.5 1038.0,217.4 1037.0,215.8 1036.0,218.2 1035.0,216.7 1034.0,218.7 1033.0,218.5 1032.0,219.8 1031.0,216.3 1030.0,216.3 1029.0,217.6 1028.0,217.1 1027.0,217.0 1026.0,217.6 1025.0,220.3 1024.0,219.2 1023.0,219.1 1022.0,218.6 1021.0,220.7 1020.0,215.7 1019.0,220.3 1018.0,218.9 1017.0,220.8 1016.0,220.7 1015.0,219.9 1014.0,218.7 1013.0,215.2 1012.0,218.6 1011.0,218.5 1010.0,218.4 1009.0,217.7 1008.0,219.3 1007.0,218.6 1006.0,218.2 1005.0,219.6 1004.0,220.4 1003.0,219.0 1002.0,219.2 1001.0,214.8 1000.0,216.7 999.0,218.0 998.0,218.4 997.0,215.7 996.0,214.5 995.0,216.0 994.0,219.0 993.0,218.0 992.0,217.2 991.0,216.4 990.0,221.9 989.0,220.3 988.0,217.6 987.0,216.4 986.0,215.1 985.0,218.2 984.0,217.1 983.0,214.9 982.0,216.0 981.0,214.0 980.0,217.7 979.0,215.0 978.0,215.7 977.0,215.9 976.0,216.0 975.0,211.5 974.0,216.1 973.0,215.1 972.0,215.2 971.0,217.7 970.0,216.1 969.0,216.8 968.0,218.3 967.0,216.7 966.0,217.4 965.0,215.7 964.0,214.9 963.0,213.7 962.0,218.3 961.0,216.3 960.0,215.5 959.0,217.1 958.0,215.3 957.0,215.3 956.0,216.0 955.0,216.6 954.0,217.2 953.0,215.2 952.0,212.7 951.0,217.0 950.0,217.9 949.0,215.3 948.0,214.8 947.0,215.4 946.0,216.2 945.0,216.2 944.0,217.1 943.0,214.4 942.0,212.9 941.0,213.1 940.0,214.8 939.0,214.8 938.0,214.3 937.0,213.9 936.0,215.4 935.0,214.7 934.0,213.2 933.0,216.0 932.0,217.9 931.0,215.1 930.0,214.2 929.0,212.5 928.0,216.6 927.0,213.1 926.0,216.9 925.0,213.4 924.0,215.4 923.0,216.9 922.0,214.9 921.0,215.9 920.0,214.2 919.0,215.8 918.0,214.6 917.0,213.1 916.0,210.5 915.0,214.2 914.0,213.4 913.0,215.0 912.0,215.3 911.0,213.2 910.0,213.7 909.0,215.6 908.0,216.2 907.0,215.0 906.0,215.2 905.0,215.5 904.0,214.6 903.0,213.9 902.0,214.1 901.0,214.1 900.0,211.0 899.0,212.8 898.0,211.9 897.0,214.1 896.0,214.8 895.0,216.1 894.0,216.5 893.0,213.6 892.0,214.5 891.0,214.2 890.0,215.9 889.0,214.3 888.0,213.8 887.0,213.5 886.0,211.2 885.0,213.3 884.0,214.2 883.0,212.0 882.0,212.7 881.0,214.6 880.0,213.4 879.0,213.3 878.0,215.2 877.0,212.9 876.0,213.0 875.0,215.3 874.0,213.3 873.0,212.9 872.0,211.6 871.0,209.6 870.0,208.8 869.0,213.1 868.0,212.2 867.0,214.7 866.0,213.9 865.0,213.4 864.0,215.5 863.0,216.2 862.0,214.9 861.0,214.9 860.0,215.5 859.0,212.1 858.0,214.2 857.0,212.9 856.0,213.8 855.0,214.6 854.0,214.8 853.0,213.4 852.0,214.2 851.0,211.4 850.0,213.7 849.0,211.0 848.0,212.6 847.0,210.7 846.0,217.5 845.0,208.7 844.0,210.5 843.0,212.4 842.0,213.8 841.0,214.7 840.0,216.5 839.0,215.9 838.0,210.5 837.0,211.4 836.0,212.5 835.0,213.6 834.0,214.3 833.0,212.2 832.0,211.7 831.0,212.4 830.0,208.9 829.0,212.0 828.0,212.8 827.0,211.2 826.0,213.1" fill="#2196d0" opacity="1.0"/>
<polygon points="826.0,221.5 827.0,220.1 828.0,220.6 829.0,223.0 830.0,222.9 831.0,222.3 832.0,222.6 833.0,221.6 834.0,221.8 835.0,224.7 836.0,220.5 837.0,221.2 838.0,222.4 839.0,223.8 840.0,222.0 841.0,224.7 842.0,221.9 843.0,221.4 844.0,221.3 845.0,221.3 846.0,219.1 847.0,219.1 848.0,219.9 849.0,224.9 850.0,220.6 851.0,222.5 852.0,223.4 853.0,221.8 854.0,223.4 855.0,218.6 856.0,223.9 857.0,224.9 858.0,225.9 859.0,223.2 860.0,223.4 861.0,222.5 862.0,224.3 863.0,219.7 864.0,224.7 865.0,223.3 866.0,223.1 867.0,221.6 868.0,220.5 869.0,219.8 870.0,224.4 871.0,222.8 872.0,224.1 873.0,224.7 874.0,222.6 875.0,224.4 876.0,222.0 877.0,223.9 878.0,222.5 879.0,223.5 880.0,223.3 881.0,224.6 882.0,223.5 883.0,223.2 884.0,224.4 885.0,223.1 886.0,223.0 887.0,223.0 888.0,222.4 889.0,221.8 890.0,222.9 891.0,222.5 892.0,225.2 893.0,221.6 894.0,222.4 895.0,224.1 896.0,223.7 897.0,222.6 898.0,223.9 899.0,225.0 900.0,222.9 901.0,223.3 902.0,224.5 903.0,220.0 904.0,221.2 905.0,226.3 906.0,224.9 907.0,225.9 908.0,222.6 909.0,222.5 910.0,224.6 911.0,225.5 912.0,225.5 913.0,227.4 914.0,224.0 915.0,224.4 916.0,222.0 917.0,222.6 918.0,223.3 919.0,224.2 920.0,222.8 921.0,223.5 922.0,226.6 923.0,224.4 924.0,225.9 925.0,223.0 926.0,221.3 927.0,225.4 928.0,224.7 929.0,224.3 930.0,225.6 931.0,222.8 932.0,223.0 933.0,223.4 934.0,224.8 935.0,223.3 936.0,223.8 937.0,225.5 938.0,223.8 939.0,225.6 940.0,224.6 941.0,224.3 942.0,223.4 943.0,223.8 944.0,222.9 945.0,224.0 946.0,224.7 947.0,224.3 948.0,224.5 949.0,225.7 950.0,226.0 951.0,225.2 952.0,226.8 953.0,225.3 954.0,225.2 955.0,225.7 956.0,226.4 957.0,224.4 958.0,223.3 959.0,223.6 960.0,223.2 961.0,226.1 962.0,223.4 963.0,227.3 964.0,227.1 965.0,225.1 966.0,224.2 967.0,225.3 968.0,225.8 969.0,224.9 970.0,223.8 971.0,227.6 972.0,226.9 973.0,227.0 974.0,225.1 975.0,227.1 976.0,223.9 977.0,225.7 978.0,227.4 979.0,227.2 980.0,227.3 981.0,226.7 982.0,227.4 983.0,227.4 984.0,228.8 985.0,228.5 986.0,228.5 987.0,226.3 988.0,228.3 989.0,229.2 990.0,228.2 991.0,224.9 992.0,224.5 993.0,225.6 994.0,227.3 995.0,230.8 996.0,227.5 997.0,229.7 998.0,228.7 999.0,224.0 1000.0,224.6 1001.0,227.3 1002.0,223.5 1003.0,225.8 1004.0,229.1 1005.0,225.0 1006.0,227.3 1007.0,225.7 1008.0,229.1 1009.0,227.1 1010.0,225.5 1011.0,227.9 1012.0,226.1 1013.0,226.1 1014.0,229.3 1015.0,227.3 1016.0,229.1 1017.0,228.8 1018.0,226.0 1019.0,227.6 1020.0,229.4 1021.0,228.3 1022.0,227.9 1023.0,229.8 1024.0,229.2 1025.0,227.6 1026.0,228.8 1027.0,226.5 1028.0,228.4 1029.0,226.4 1030.0,227.1 1031.0,227.4 1032.0,228.9 1033.0,231.3 1034.0,229.4 1035.0,229.2 1036.0,227.9 1037.0,227.9 1038.0,228.0 1039.0,226.6 1040.0,225.2 1041.0,227.5 1042.0,227.6 1043.0,231.0 1044.0,228.7 1045.0,228.5 1046.0,228.6 1047.0,227.0 1048.0,228.7 1049.0,230.5 1050.0,228.6 1051.0,230.9 1052.0,230.4 1053.0,228.2 1054.0,230.0 1055.0,230.3 1056.0,226.7 1057.0,229.0 1058.0,226.2 1059.0,227.3 1060.0,227.1 1061.0,229.4 1062.0,230.3 1063.0,229.4 1064.0,231.5 1065.0,229.6 1066.0,229.0 1067.0,231.7 1068.0,231.3 1069.0,231.8 1070.0,231.3 1071.0,230.4 1072.0,230.4 1073.0,229.5 1074.0,227.2 1075.0,230.2 1076.0,230.5 1077.0,229.6 1078.0,226.5 1079.0,227.0 1080.0,227.4 1081.0,225.5 1082.0,230.4 1083.0,229.1 1084.0,228.6 1085.0,228.4 1086.0,232.0 1087.0,231.8 1088.0,232.4 1089.0,232.9 1090.0,231.7 1091.0,231.0 1092.0,229.0 1093.0,233.7 1094.0,230.6 1095.0,232.2 1096.0,230.8 1097.0,232.3 1098.0,230.6 1099.0,232.7 1100.0,232.6 1101.0,232.0 1102.0,230.8 1103.0,229.1 1104.0,231.2 1105.0,230.8 1106.0,234.1 1107.0,231.7 1108.0,231.6 1109.0,230.0 1110.0,233.7 1111.0,232.7 1112.0,231.3 1113.0,231.2 1114.0,232.7 1115.0,231.8 1116.0,231.0 1117.0,232.1 1118.0,230.2 1119.0,232.1 1120.0,231.7 1121.0,234.0 1122.0,232.0 1123.0,231.2 1124.0,232.6 1125.0,231.7 1126.0,229.5 1127.0,230.4 1128.0,233.7 1129.0,231.4 1130.0,233.8 1131.0,232.5 1132.0,232.0 1133.0,230.2 1134.0,231.9 1135.0,232.9 1136.0,233.9 1137.0,232.6 1138.0,231.3 1139.0,235.8 1140.0,233.0 1141.0,234.1 1142.0,233.7 1143.0,232.1 1144.0,231.2 1145.0,231.7 1146.0,233.9 1147.0,231.6 1148.0,233.6 1149.0,232.5 1150.0,232.2 1151.0,231.9 1152.0,234.3 1153.0,233.6 1154.0,234.3 1155.0,233.9 1156.0,231.7 1157.0,234.6 1158.0,232.7 1159.0,236.7 1160.0,235.5 1161.0,233.5 1162.0,232.3 1163.0,235.9 1164.0,234.6 1165.0,235.4 1166.0,235.8 1167.0,236.3 1168.0,234.7 1169.0,236.0 1170.0,236.6 1171.0,235.9 1172.0,234.8 1173.0,232.5 1174.0,234.5 1175.0,233.2 1176.0,234.6 1177.0,236.4 1178.0,234.0 1179.0,234.4 1180.0,236.0 1181.0,235.0 1182.0,233.1 1183.0,234.1 1184.0,234.3 1185.0,234.5 1186.0,237.0 1187.0,235.2 1188.0,238.0 1189.0,236.5 1190.0,235.6 1191.0,235.0 1192.0,234.9 1193.0,234.7 1194.0,234.8 1195.0,234.5 1196.0,235.7 1197.0,236.3 1198.0,235.1 1199.0,235.2 1200.0,237.0 1201.0,235.1 1202.0,235.2 1203.0,236.9 1204.0,235.2 1205.0,236.1 1206.0,236.2 1207.0,238.7 1208.0,237.4 1209.0,232.4 1210.0,235.1 1211.0,234.3 1212.0,233.6 1213.0,237.4 1214.0,237.4 1215.0,234.9 1216.0,237.4 1217.0,237.8 1218.0,235.3 1219.0,236.1 1220.0,237.8 1221.0,236.3 1222.0,238.9 1223.0,237.1 1224.0,237.3 1225.0,234.3 1226.0,238.0 1227.0,238.1 1228.0,237.2 1229.0,235.7 1230.0,236.8 1231.0,237.4 1232.0,236.6 1233.0,237.7 1234.0,234.8 1235.0,236.7 1236.0,233.9 1237.0,235.4 1238.0,239.0 1239.0,235.9 1240.0,235.4 1241.0,235.1 1242.0,238.4 1243.0,236.7 1244.0,239.2 1245.0,238.3 1246.0,238.8 1247.0,238.5 1248.0,236.8 1249.0,237.9 1250.0,238.1 1251.0,237.5 1252.0,237.3 1253.0,237.3 1254.0,237.4 1255.0,239.5 1256.0,236.6 1257.0,236.9 1258.0,236.7 1259.0,236.2 1260.0,238.5 1261.0,239.2 1262.0,238.7 1263.0,235.9 1264.0,238.0 1265.0,237.6 1266.0,238.2 1267.0,236.7 1268.0,238.5 1269.0,238.1 1270.0,239.0 1271.0,240.2 1272.0,239.0 1273.0,238.4 1274.0,236.6 1275.0,238.3 1276.0,238.2 1277.0,238.8 1278.0,238.5 1279.0,238.5 1280.0,239.7 1281.0,236.8 1282.0,239.7 1283.0,237.4 1284.0,240.1 1285.0,239.8 1286.0,238.7 1287.0,240.3 1288.0,238.9 1289.0,239.8 1290.0,240.7 1291.0,241.1 1292.0,237.9 1293.0,234.6 1294.0,239.7 1295.0,236.3 1296.0,238.3 1297.0,240.0 1298.0,239.2 1299.0,238.3 1300.0,240.6 1301.0,238.3 1302.0,236.5 1303.0,239.4 1304.0,234.6 1305.0,237.8 1306.0,239.1 1307.0,237.5 1308.0,239.0 1309.0,238.4 1310.0,236.7 1311.0,235.5 1312.0,235.3 1313.0,237.4 1314.0,236.2 1315.0,237.4 1316.0,239.4 1316.0,241.3 1315.0,240.0 1314.0,240.7 1313.0,242.8 1312.0,239.2 1311.0,241.6 1310.0,241.5 1309.0,241.4 1308.0,242.9 1307.0,242.0 1306.0,241.3 1305.0,243.0 1304.0,240.7 1303.0,241.1 1302.0,244.1 1301.0,242.6 1300.0,242.4 1299.0,242.7 1298.0,243.4 1297.0,243.1 1296.0,242.1 1295.0,239.6 1294.0,241.3 1293.0,240.3 1292.0,244.7 1291.0,246.6 1290.0,242.0 1289.0,245.1 1288.0,242.2 1287.0,242.9 1286.0,245.4 1285.0,243.7 1284.0,242.3 1283.0,242.4 1282.0,242.7 1281.0,239.5 1280.0,243.2 1279.0,242.1 1278.0,241.8 1277.0,242.9 1276.0,241.1 1275.0,241.4 1274.0,240.9 1273.0,242.1 1272.0,242.3 1271.0,241.8 1270.0,243.8 1269.0,243.4 1268.0,243.9 1267.0,242.3 1266.0,241.3 1265.0,241.3 1264.0,241.4 1263.0,243.0 1262.0,239.7 1261.0,244.3 1260.0,243.6 1259.0,242.2 1258.0,241.7 1257.0,240.0 1256.0,241.6 1255.0,242.8 1254.0,243.5 1253.0,244.3 1252.0,241.5 1251.0,242.8 1250.0,243.0 1249.0,244.7 1248.0,241.4 1247.0,243.0 1246.0,243.2 1245.0,243.3 1244.0,242.6 1243.0,243.4 1242.0,241.3 1241.0,241.1 1240.0,239.4 1239.0,242.3 1238.0,242.4 1237.0,241.6 1236.0,240.8 1235.0,240.6 1234.0,240.9 1233.0,244.8 1232.0,243.2 1231.0,242.2 1230.0,239.8 1229.0,238.5 1228.0,239.8 1227.0,242.8 1226.0,243.4 1225.0,242.6 1224.0,240.9 1223.0,242.4 1222.0,240.9 1221.0,240.2 1220.0,241.4 1219.0,241.0 1218.0,239.9 1217.0,241.3 1216.0,244.8 1215.0,242.1 1214.0,244.7 1213.0,242.4 1212.0,240.8 1211.0,240.0 1210.0,241.3 1209.0,238.9 1208.0,241.7 1207.0,243.4 1206.0,243.1 1205.0,243.1 1204.0,240.8 1203.0,242.9 1202.0,240.9 1201.0,240.1 1200.0,243.0 1199.0,241.2 1198.0,238.6 1197.0,241.2 1196.0,240.3 1195.0,242.2 1194.0,242.9 1193.0,238.9 1192.0,240.5 1191.0,239.7 1190.0,240.8 1189.0,242.4 1188.0,244.1 1187.0,242.0 1186.0,239.4 1185.0,239.8 1184.0,240.1 1183.0,239.0 1182.0,241.4 1181.0,239.2 1180.0,238.3 1179.0,240.2 1178.0,239.4 1177.0,240.1 1176.0,239.3 1175.0,239.9 1174.0,239.7 1173.0,240.1 1172.0,240.4 1171.0,242.7 1170.0,240.2 1169.0,241.1 1168.0,240.4 1167.0,238.6 1166.0,242.9 1165.0,240.6 1164.0,239.8 1163.0,240.8 1162.0,236.6 1161.0,241.8 1160.0,239.4 1159.0,239.9 1158.0,241.1 1157.0,242.7 1156.0,240.4 1155.0,239.8 1154.0,240.9 1153.0,241.8 1152.0,237.8 1151.0,239.7 1150.0,238.8 1149.0,239.2 1148.0,239.7 1147.0,240.9 1146.0,238.8 1145.0,235.9 1144.0,236.5 1143.0,238.5 1142.0,240.1 1141.0,239.2 1140.0,238.2 1139.0,239.2 1138.0,239.0 1137.0,238.3 1136.0,239.5 1135.0,240.0 1134.0,238.3 1133.0,238.8 1132.0,240.4 1131.0,238.6 1130.0,238.8 1129.0,238.2 1128.0,239.8 1127.0,238.1 1126.0,238.2 1125.0,238.6 1124.0,237.5 1123.0,237.9 1122.0,237.0 1121.0,241.9 1120.0,240.6 1119.0,238.6 1118.0,237.5 1117.0,237.1 1116.0,236.6 1115.0,236.8 1114.0,239.0 1113.0,238.7 1112.0,238.0 1111.0,239.1 1110.0,236.1 1109.0,238.6 1108.0,240.1 1107.0,238.9 1106.0,237.7 1105.0,240.0 1104.0,239.0 1103.0,236.5 1102.0,236.0 1101.0,234.6 1100.0,237.7 1099.0,239.4 1098.0,237.9 1097.0,239.6 1096.0,237.7 1095.0,236.8 1094.0,238.1 1093.0,237.5 1092.0,236.8 1091.0,237.0 1090.0,238.3 1089.0,236.9 1088.0,237.8 1087.0,237.0 1086.0,236.6 1085.0,236.0 1084.0,235.3 1083.0,236.9 1082.0,234.3 1081.0,233.7 1080.0,237.1 1079.0,234.5 1078.0,234.5 1077.0,234.5 1076.0,239.0 1075.0,233.9 1074.0,235.1 1073.0,234.5 1072.0,238.9 1071.0,238.2 1070.0,235.8 1069.0,238.3 1068.0,238.7 1067.0,239.6 1066.0,236.3 1065.0,235.3 1064.0,235.2 1063.0,235.5 1062.0,235.8 1061.0,236.0 1060.0,234.4 1059.0,235.6 1058.0,235.4 1057.0,235.0 1056.0,235.3 1055.0,238.0 1054.0,235.7 1053.0,235.5 1052.0,236.9 1051.0,236.4 1050.0,235.3 1049.0,234.8 1048.0,233.4 1047.0,235.0 1046.0,234.7 1045.0,236.2 1044.0,234.9 1043.0,237.1 1042.0,236.9 1041.0,237.7 1040.0,235.3 1039.0,237.0 1038.0,235.6 1037.0,235.6 1036.0,235.6 1035.0,235.0 1034.0,235.2 1033.0,237.9 1032.0,234.3 1031.0,237.2 1030.0,237.1 1029.0,236.0 1028.0,234.1 1027.0,237.0 1026.0,235.9 1025.0,236.1 1024.0,234.6 1023.0,236.5 1022.0,236.3 1021.0,236.5 1020.0,236.0 1019.0,236.7 1018.0,234.4 1017.0,234.4 1016.0,236.5 1015.0,236.1 1014.0,235.4 1013.0,236.5 1012.0,238.6 1011.0,235.0 1010.0,233.4 1009.0,231.8 1008.0,235.2 1007.0,233.7 1006.0,236.5 1005.0,235.0 1004.0,237.3 1003.0,234.5 1002.0,235.3 1001.0,234.2 1000.0,236.3 999.0,236.1 998.0,234.8 997.0,235.8 996.0,236.1 995.0,234.9 994.0,235.5 993.0,233.7 992.0,236.0 991.0,232.5 990.0,233.2 989.0,236.2 988.0,236.6 987.0,233.5 986.0,235.8 985.0,234.8 984.0,237.2 983.0,237.3 982.0,236.3 981.0,236.7 980.0,233.7 979.0,235.8 978.0,233.7 977.0,234.6 976.0,231.9 975.0,235.6 974.0,232.7 973.0,234.4 972.0,234.2 971.0,232.8 970.0,233.2 969.0,233.7 968.0,233.2 967.0,232.9 966.0,234.2 965.0,234.8 964.0,234.7 963.0,234.4 962.0,232.7 961.0,233.8 960.0,231.8 959.0,235.1 958.0,232.3 957.0,232.4 956.0,231.8 955.0,235.5 954.0,234.6 953.0,234.8 952.0,233.4 951.0,237.0 950.0,231.4 949.0,231.5 948.0,231.2 947.0,233.1 946.0,234.5 945.0,232.0 944.0,232.3 943.0,232.0 942.0,233.6 941.0,231.9 940.0,234.1 939.0,234.3 938.0,232.4 937.0,232.4 936.0,235.4 935.0,232.4 934.0,234.2 933.0,231.3 932.0,232.7 931.0,232.3 930.0,234.4 929.0,232.8 928.0,232.1 927.0,231.3 926.0,233.3 925.0,233.7 924.0,235.4 923.0,231.1 922.0,233.7 921.0,231.3 920.0,231.0 919.0,232.9 918.0,230.7 917.0,230.0 916.0,230.6 915.0,230.8 914.0,233.5 913.0,233.3 912.0,232.8 911.0,234.9 910.0,234.0 909.0,230.2 908.0,233.8 907.0,235.1 906.0,232.7 905.0,234.7 904.0,231.1 903.0,231.2 902.0,231.8 901.0,233.4 900.0,234.0 899.0,234.1 898.0,232.2 897.0,231.0 896.0,231.2 895.0,233.5 894.0,235.7 893.0,232.2 892.0,233.0 891.0,232.3 890.0,233.6 889.0,233.2 888.0,230.6 887.0,233.8 886.0,231.2 885.0,233.9 884.0,233.8 883.0,235.8 882.0,235.2 881.0,229.6 880.0,232.0 879.0,230.2 878.0,231.4 877.0,231.9 876.0,232.4 875.0,232.3 874.0,233.5 873.0,233.9 872.0,234.2 871.0,234.8 870.0,231.4 869.0,233.0 868.0,231.4 867.0,230.4 866.0,233.1 865.0,233.9 864.0,234.0 863.0,232.9 862.0,230.0 861.0,231.4 860.0,234.7 859.0,232.8 858.0,232.3 857.0,232.6 856.0,229.8 855.0,232.9 854.0,233.2 853.0,230.6 852.0,232.7 851.0,230.3 850.0,231.1 849.0,229.5 848.0,232.9 847.0,231.8 846.0,232.1 845.0,232.9 844.0,235.2 843.0,230.0 842.0,230.3 841.0,232.0 840.0,232.5 839.0,231.5 838.0,230.6 837.0,232.9 836.0,229.6 835.0,233.3 834.0,231.2 833.0,235.3 832.0,232.3 831.0,233.8 830.0,234.3 829.0,233.0 828.0,232.6 827.0,232.3 826.0,231.7" fill="#1ea3a6" opacity="1.0"/>
<polygon points="826.0,240.6 827.0,240.6 828.0,241.4 829.0,242.6 830.0,240.7 831.0,241.3 832.0,242.4 833.0,243.0 834.0,241.1 835.0,239.5 836.0,240.0 837.0,244.4 838.0,241.6 839.0,240.8 840.0,239.9 841.0,238.5 842.0,240.5 843.0,241.6 844.0,243.0 845.0,240.1 846.0,239.3 847.0,240.1 848.0,241.0 849.0,242.5 850.0,242.7 851.0,241.7 852.0,239.3 853.0,240.8 854.0,241.9 855.0,241.6 856.0,242.9 857.0,240.7 858.0,241.6 859.0,242.0 860.0,242.7 861.0,245.8 862.0,243.6 863.0,241.2 864.0,242.1 865.0,242.6 866.0,239.8 867.0,243.3 868.0,245.9 869.0,243.2 870.0,243.3 871.0,243.2 872.0,243.9 873.0,240.3 874.0,242.2 875.0,242.0 876.0,242.3 877.0,241.1 878.0,242.1 879.0,240.6 880.0,239.7 881.0,242.0 882.0,240.6 883.0,242.6 884.0,241.4 885.0,244.0 886.0,244.5 887.0,243.4 888.0,239.4 889.0,245.7 890.0,241.5 891.0,244.1 892.0,244.4 893.0,243.7 894.0,243.0 895.0,240.0 896.0,241.8 897.0,241.8 898.0,241.7 899.0,241.1 900.0,241.9 901.0,243.3 902.0,241.3 903.0,245.8 904.0,243.9 905.0,242.7 906.0,244.4 907.0,242.7 908.0,243.4 909.0,242.6 910.0,242.7 911.0,244.1 912.0,242.2 913.0,243.3 914.0,243.8 915.0,242.8 916.0,243.6 917.0,243.0 918.0,245.4 919.0,239.8 920.0,242.8 921.0,242.8 922.0,241.4 923.0,243.0 924.0,242.5 925.0,245.8 926.0,241.8 927.0,243.2 928.0,243.1 929.0,244.8 930.0,243.8 931.0,243.1 932.0,248.6 933.0,248.0 934.0,244.4 935.0,243.5 936.0,246.0 937.0,247.6 938.0,246.6 939.0,243.7 940.0,243.5 941.0,245.9 942.0,244.6 943.0,244.9 944.0,241.6 945.0,246.0 946.0,245.7 947.0,244.9 948.0,246.2 949.0,243.0 950.0,241.8 951.0,245.6 952.0,243.5 953.0,247.1 954.0,241.9 955.0,244.3 956.0,246.8 957.0,245.0 958.0,244.7 959.0,245.5 960.0,244.7 961.0,244.0 962.0,241.4 963.0,241.4 964.0,243.4 965.0,244.1 966.0,242.1 967.0,246.7 968.0,245.1 969.0,244.3 970.0,242.6 971.0,244.6 972.0,247.9 973.0,244.5 974.0,244.1 975.0,245.8 976.0,247.5 977.0,245.8 978.0,246.2 979.0,248.3 980.0,245.2 981.0,244.3 982.0,243.3 983.0,247.4 984.0,244.2 985.0,245.7 986.0,246.8 987.0,247.2 988.0,246.0 989.0,243.9 990.0,242.7 991.0,246.1 992.0,246.4 993.0,250.5 994.0,246.8 995.0,247.9 996.0,244.3 997.0,244.0 998.0,246.0 999.0,244.9 1000.0,248.2 1001.0,244.0 1002.0,248.1 1003.0,246.9 1004.0,244.0 1005.0,245.3 1006.0,246.9 1007.0,244.1 1008.0,246.0 1009.0,247.7 1010.0,248.4 1011.0,246.5 1012.0,246.0 1013.0,246.4 1014.0,246.2 1015.0,246.3 1016.0,244.4 1017.0,247.2 1018.0,244.0 1019.0,247.0 1020.0,244.4 1021.0,244.9 1022.0,246.6 1023.0,249.1 1024.0,248.5 1025.0,245.5 1026.0,247.5 1027.0,247.4 1028.0,244.7 1029.0,245.9 1030.0,248.4 1031.0,247.2 1032.0,244.7 1033.0,247.1 1034.0,246.3 1035.0,246.1 1036.0,244.3 1037.0,248.4 1038.0,247.3 1039.0,245.3 1040.0,245.6 1041.0,245.9 1042.0,248.1 1043.0,245.8 1044.0,248.0 1045.0,245.9 1046.0,246.3 1047.0,244.3 1048.0,247.6 1049.0,244.4 1050.0,245.9 1051.0,246.5 1052.0,248.0 1053.0,245.6 1054.0,246.3 1055.0,245.6 1056.0,248.8 1057.0,245.5 1058.0,245.0 1059.0,246.9 1060.0,246.2 1061.0,245.4 1062.0,246.1 1063.0,244.4 1064.0,247.4 1065.0,249.7 1066.0,250.0 1067.0,248.6 1068.0,247.8 1069.0,245.8 1070.0,247.1 1071.0,246.1 1072.0,245.4 1073.0,246.4 1074.0,246.8 1075.0,245.9 1076.0,245.5 1077.0,246.6 1078.0,246.0 1079.0,244.6 1080.0,245.7 1081.0,246.8 1082.0,246.3 1083.0,244.2 1084.0,246.4 1085.0,248.5 1086.0,245.7 1087.0,245.4 1088.0,247.4 1089.0,246.9 1090.0,248.0 1091.0,245.6 1092.0,246.0 1093.0,246.6 1094.0,242.9 1095.0,245.7 1096.0,247.5 1097.0,247.5 1098.0,247.7 1099.0,248.7 1100.0,246.6 1101.0,244.5 1102.0,246.6 1103.0,245.7 1104.0,247.2 1105.0,244.6 1106.0,245.6 1107.0,244.4 1108.0,248.1 1109.0,247.8 1110.0,246.5 1111.0,249.9 1112.0,247.7 1113.0,247.2 1114.0,246.3 1115.0,247.4 1116.0,249.0 1117.0,249.1 1118.0,249.3 1119.0,248.1 1120.0,248.2 1121.0,251.2 1122.0,247.8 1123.0,248.3 1124.0,245.1 1125.0,247.2 1126.0,251.0 1127.0,248.6 1128.0,247.1 1129.0,248.2 1130.0,248.0 1131.0,248.7 1132.0,245.6 1133.0,247.9 1134.0,248.5 1135.0,246.5 1136.0,249.3 1137.0,247.1 1138.0,248.1 1139.0,247.4 1140.0,246.5 1141.0,248.3 1142.0,249.7 1143.0,247.5 1144.0,247.5 1145.0,246.8 1146.0,247.2 1147.0,246.6 1148.0,245.1 1149.0,246.1 1150.0,246.3 1151.0,246.0 1152.0,247.7 1153.0,247.4 1154.0,246.5 1155.0,247.1 1156.0,247.8 1157.0,247.5 1158.0,248.0 1159.0,243.6 1160.0,245.1 1161.0,247.0 1162.0,247.1 1163.0,245.4 1164.0,246.0 1165.0,248.4 1166.0,246.1 1167.0,245.1 1168.0,248.3 1169.0,244.7 1170.0,246.1 1171.0,246.5 1172.0,247.3 1173.0,249.5 1174.0,248.5 1175.0,249.9 1176.0,250.0 1177.0,247.3 1178.0,246.5 1179.0,247.4 1180.0,246.8 1181.0,245.1 1182.0,248.4 1183.0,246.2 1184.0,248.2 1185.0,248.4 1186.0,245.3 1187.0,250.3 1188.0,247.9 1189.0,248.7 1190.0,247.4 1191.0,248.0 1192.0,250.4 1193.0,249.5 1194.0,249.3 1195.0,248.7 1196.0,247.3 1197.0,249.5 1198.0,247.5 1199.0,248.5 1200.0,247.8 1201.0,247.1 1202.0,247.3 1203.0,246.8 1204.0,248.5 1205.0,247.0 1206.0,247.0 1207.0,247.3 1208.0,247.4 1209.0,250.3 1210.0,248.7 1211.0,248.0 1212.0,250.0 1213.0,247.9 1214.0,247.5 1215.0,246.9 1216.0,247.3 1217.0,248.9 1218.0,248.5 1219.0,248.6 1220.0,250.6 1221.0,248.7 1222.0,249.9 1223.0,250.8 1224.0,249.5 1225.0,251.1 1226.0,248.5 1227.0,246.7 1228.0,248.9 1229.0,249.6 1230.0,246.8 1231.0,246.6 1232.0,249.5 1233.0,246.9 1234.0,248.9 1235.0,250.1 1236.0,249.6 1237.0,246.5 1238.0,246.4 1239.0,249.4 1240.0,248.6 1241.0,248.1 1242.0,248.5 1243.0,248.3 1244.0,250.4 1245.0,248.5 1246.0,250.0 1247.0,247.4 1248.0,252.3 1249.0,251.2 1250.0,249.5 1251.0,247.2 1252.0,252.3 1253.0,250.0 1254.0,251.8 1255.0,250.2 1256.0,250.7 1257.0,249.7 1258.0,251.0 1259.0,251.8 1260.0,249.8 1261.0,250.3 1262.0,247.7 1263.0,249.7 1264.0,250.1 1265.0,252.3 1266.0,251.9 1267.0,252.2 1268.0,250.2 1269.0,250.4 1270.0,252.4 1271.0,249.3 1272.0,249.5 1273.0,250.2 1274.0,249.0 1275.0,247.3 1276.0,250.0 1277.0,252.6 1278.0,251.8 1279.0,254.0 1280.0,251.2 1281.0,251.9 1282.0,251.2 1283.0,249.9 1284.0,249.1 1285.0,250.2 1286.0,251.1 1287.0,250.5 1288.0,251.4 1289.0,249.5 1290.0,250.6 1291.0,250.5 1292.0,252.3 1293.0,252.0 1294.0,251.0 1295.0,252.7 1296.0,251.9 1297.0,250.8 1298.0,250.3 1299.0,250.1 1300.0,250.0 1301.0,251.2 1302.0,253.1 1303.0,250.2 1304.0,254.2 1305.0,252.3 1306.0,252.1 1307.0,250.9 1308.0,252.5 1309.0,250.5 1310.0,251.8 1311.0,253.7 1312.0,252.7 1313.0,252.4 1314.0,251.5 1315.0,253.8 1316.0,250.0 1316.0,256.3 1315.0,257.0 1314.0,257.1 1313.0,256.2 1312.0,259.1 1311.0,255.2 1310.0,255.3 1309.0,255.7 1308.0,256.9 1307.0,257.8 1306.0,259.1 1305.0,256.4 1304.0,258.1 1303.0,259.3 1302.0,259.1 1301.0,256.0 1300.0,254.5 1299.0,256.4 1298.0,255.6 1297.0,255.7 1296.0,258.7 1295.0,257.7 1294.0,258.8 1293.0,257.9 1292.0,257.7 1291.0,256.8 1290.0,256.4 1289.0,256.4 1288.0,254.6 1287.0,256.7 1286.0,256.9 1285.0,252.8 1284.0,256.4 1283.0,256.8 1282.0,254.4 1281.0,256.0 1280.0,257.1 1279.0,255.0 1278.0,258.5 1277.0,256.6 1276.0,255.2 1275.0,254.4 1274.0,252.6 1273.0,253.3 1272.0,257.6 1271.0,254.5 1270.0,254.8 1269.0,254.0 1268.0,256.6 1267.0,257.7 1266.0,258.3 1265.0,256.2 1264.0,254.6 1263.0,256.1 1262.0,256.6 1261.0,255.7 1260.0,251.9 1259.0,254.1 1258.0,255.3 1257.0,257.1 1256.0,256.8 1255.0,256.4 1254.0,253.1 1253.0,255.9 1252.0,255.5 1251.0,252.9 1250.0,255.4 1249.0,256.5 1248.0,256.7 1247.0,255.2 1246.0,254.4 1245.0,253.6 1244.0,256.1 1243.0,255.9 1242.0,253.1 1241.0,254.4 1240.0,255.2 1239.0,254.3 1238.0,254.6 1237.0,255.5 1236.0,253.9 1235.0,254.1 1234.0,256.1 1233.0,254.8 1232.0,253.9 1231.0,253.5 1230.0,253.4 1229.0,254.9 1228.0,253.1 1227.0,253.3 1226.0,256.0 1225.0,255.4 1224.0,256.2 1223.0,255.8 1222.0,255.4 1221.0,256.4 1220.0,255.0 1219.0,256.2 1218.0,256.3 1217.0,257.2 1216.0,254.7 1215.0,254.1 1214.0,255.9 1213.0,256.3 1212.0,254.4 1211.0,256.4 1210.0,258.5 1209.0,257.9 1208.0,255.1 1207.0,254.9 1206.0,254.3 1205.0,253.6 1204.0,255.4 1203.0,253.6 1202.0,255.9 1201.0,254.4 1200.0,256.0 1199.0,254.4 1198.0,253.7 1197.0,254.0 1196.0,252.4 1195.0,252.8 1194.0,254.8 1193.0,257.8 1192.0,255.4 1191.0,254.0 1190.0,254.7 1189.0,251.8 1188.0,254.5 1187.0,253.3 1186.0,253.1 1185.0,255.6 1184.0,257.6 1183.0,253.0 1182.0,253.5 1181.0,255.8 1180.0,253.2 1179.0,250.4 1178.0,252.0 1177.0,252.6 1176.0,255.3 1175.0,257.7 1174.0,255.4 1173.0,255.5 1172.0,252.9 1171.0,254.5 1170.0,254.7 1169.0,253.7 1168.0,252.0 1167.0,251.3 1166.0,252.3 1165.0,251.1 1164.0,254.3 1163.0,251.5 1162.0,252.7 1161.0,253.6 1160.0,254.0 1159.0,254.1 1158.0,257.1 1157.0,253.2 1156.0,255.3 1155.0,254.4 1154.0,252.0 1153.0,252.4 1152.0,253.5 1151.0,254.0 1150.0,255.4 1149.0,252.8 1148.0,251.5 1147.0,255.3 1146.0,253.8 1145.0,251.9 1144.0,252.5 1143.0,253.7 1142.0,253.0 1141.0,255.3 1140.0,254.1 1139.0,254.1 1138.0,252.9 1137.0,253.2 1136.0,254.7 1135.0,255.4 1134.0,254.4 1133.0,253.7 1132.0,254.8 1131.0,256.9 1130.0,252.7 1129.0,254.3 1128.0,253.3 1127.0,254.8 1126.0,255.5 1125.0,253.0 1124.0,252.9 1123.0,254.8 1122.0,256.7 1121.0,258.5 1120.0,257.1 1119.0,255.6 1118.0,254.2 1117.0,255.4 1116.0,253.4 1115.0,253.9 1114.0,254.0 1113.0,253.3 1112.0,253.1 1111.0,255.5 1110.0,254.7 1109.0,256.9 1108.0,253.2 1107.0,253.2 1106.0,254.8 1105.0,257.2 1104.0,253.2 1103.0,252.9 1102.0,254.0 1101.0,252.9 1100.0,256.6 1099.0,253.8 1098.0,254.6 1097.0,256.0 1096.0,254.6 1095.0,252.7 1094.0,252.0 1093.0,252.2 1092.0,256.7 1091.0,252.8 1090.0,252.3 1089.0,254.9 1088.0,253.9 1087.0,253.1 1086.0,254.8 1085.0,255.9 1084.0,256.1 1083.0,252.9 1082.0,254.0 1081.0,252.8 1080.0,252.5 1079.0,253.3 1078.0,253.0 1077.0,252.3 1076.0,252.8 1075.0,252.8 1074.0,253.0 1073.0,253.3 1072.0,253.3 1071.0,255.2 1070.0,253.9 1069.0,256.9 1068.0,255.2 1067.0,253.8 1066.0,256.0 1065.0,258.2 1064.0,253.2 1063.0,252.8 1062.0,251.6 1061.0,255.8 1060.0,251.7 1059.0,254.2 1058.0,253.5 1057.0,254.5 1056.0,254.5 1055.0,252.7 1054.0,255.6 1053.0,255.2 1052.0,254.8 1051.0,255.0 1050.0,253.2 1049.0,252.8 1048.0,252.3 1047.0,252.8 1046.0,252.4 1045.0,254.0 1044.0,255.2 1043.0,254.5 1042.0,253.0 1041.0,254.0 1040.0,255.1 1039.0,254.4 1038.0,254.3 1037.0,256.3 1036.0,253.9 1035.0,254.6 1034.0,256.2 1033.0,254.0 1032.0,258.6 1031.0,253.3 1030.0,251.8 1029.0,251.8 1028.0,252.3 1027.0,254.9 1026.0,253.7 1025.0,257.4 1024.0,255.8 1023.0,256.2 1022.0,255.6 1021.0,257.5 1020.0,255.4 1019.0,254.3 1018.0,253.7 1017.0,254.7 1016.0,254.9 1015.0,255.0 1014.0,254.7 1013.0,256.5 1012.0,254.9 1011.0,254.5 1010.0,253.1 1009.0,252.3 1008.0,255.0 1007.0,252.3 1006.0,254.0 1005.0,253.3 1004.0,252.9 1003.0,255.5 1002.0,253.0 1001.0,252.9 1000.0,253.6 999.0,254.6 998.0,255.3 997.0,254.7 996.0,253.8 995.0,253.8 994.0,255.8 993.0,257.2 992.0,255.8 991.0,255.2 990.0,253.3 989.0,253.7 988.0,252.4 987.0,251.9 986.0,253.5 985.0,253.3 984.0,253.3 983.0,255.0 982.0,252.5 981.0,251.8 980.0,252.4 979.0,254.2 978.0,252.8 977.0,255.2 976.0,255.7 975.0,254.8 974.0,252.6 973.0,254.0 972.0,257.5 971.0,252.3 970.0,253.7 969.0,253.4 968.0,252.4 967.0,254.7 966.0,254.1 965.0,254.2 964.0,252.1 963.0,252.7 962.0,253.1 961.0,252.2 960.0,254.2 959.0,253.6 958.0,255.0 957.0,255.1 956.0,253.9 955.0,252.4 954.0,253.7 953.0,254.1 952.0,255.4 951.0,252.6 950.0,250.1 949.0,253.6 948.0,252.5 947.0,252.8 946.0,253.9 945.0,252.5 944.0,250.1 943.0,251.3 942.0,252.6 941.0,251.0 940.0,253.9 939.0,252.6 938.0,254.2 937.0,254.2 936.0,253.9 935.0,254.1 934.0,251.5 933.0,254.6 932.0,255.7 931.0,252.6 930.0,254.8 929.0,253.4 928.0,252.8 927.0,252.8 926.0,253.8 925.0,254.9 924.0,251.3 923.0,251.9 922.0,252.5 921.0,253.6 920.0,251.6 919.0,250.5 918.0,253.7 917.0,256.2 916.0,252.3 915.0,255.7 914.0,253.6 913.0,254.0 912.0,253.6 911.0,250.4 910.0,251.8 909.0,252.2 908.0,252.4 907.0,251.6 906.0,253.5 905.0,251.8 904.0,254.3 903.0,253.1 902.0,253.1 901.0,255.7 900.0,251.1 899.0,252.2 898.0,251.1 897.0,251.8 896.0,251.6 895.0,251.8 894.0,253.2 893.0,251.7 892.0,257.3 891.0,254.3 890.0,253.3 889.0,252.7 888.0,252.0 887.0,253.6 886.0,254.7 885.0,252.0 884.0,251.1 883.0,249.8 882.0,250.1 881.0,251.6 880.0,249.1 879.0,251.4 878.0,251.0 877.0,249.9 876.0,251.0 875.0,251.8 874.0,254.6 873.0,251.1 872.0,249.4 871.0,254.5 870.0,253.7 869.0,252.8 868.0,253.4 867.0,253.2 866.0,252.4 865.0,250.8 864.0,251.0 863.0,251.4 862.0,254.1 861.0,254.8 860.0,253.6 859.0,252.5 858.0,251.2 857.0,254.9 856.0,251.8 855.0,248.9 854.0,251.9 853.0,252.3 852.0,251.8 851.0,252.0 850.0,254.7 849.0,253.2 848.0,249.3 847.0,252.0 846.0,248.6 845.0,249.4 844.0,253.2 843.0,250.4 842.0,250.7 841.0,252.1 840.0,251.7 839.0,251.1 838.0,252.5 837.0,251.7 836.0,249.1 835.0,247.7 834.0,252.0 833.0,253.5 832.0,251.5 831.0,251.9 830.0,253.3 829.0,256.2 828.0,254.1 827.0,250.4 826.0,249.5" fill="#20a886" opacity="1.0"/>
<polygon points="826.0,262.2 827.0,262.9 828.0,262.0 829.0,261.9 830.0,263.0 831.0,259.2 832.0,260.3 833.0,260.6 834.0,261.8 835.0,261.3 836.0,259.2 837.0,261.2 838.0,263.7 839.0,260.0 840.0,259.9 841.0,263.3 842.0,259.9 843.0,258.8 844.0,262.1 845.0,260.8 846.0,260.8 847.0,260.0 848.0,261.1 849.0,260.0 850.0,261.2 851.0,259.5 852.0,262.7 853.0,262.8 854.0,262.9 855.0,262.1 856.0,264.0 857.0,263.0 858.0,264.1 859.0,263.3 860.0,262.5 861.0,263.6 862.0,262.1 863.0,260.0 864.0,264.1 865.0,263.2 866.0,262.7 867.0,262.9 868.0,260.4 869.0,260.8 870.0,260.0 871.0,262.2 872.0,260.8 873.0,260.9 874.0,261.8 875.0,263.6 876.0,261.3 877.0,264.1 878.0,260.4 879.0,265.8 880.0,265.5 881.0,262.6 882.0,262.5 883.0,261.0 884.0,262.0 885.0,263.2 886.0,261.7 887.0,265.0 888.0,264.5 889.0,262.9 890.0,261.5 891.0,259.8 892.0,263.5 893.0,262.6 894.0,262.6 895.0,261.5 896.0,260.5 897.0,261.4 898.0,261.2 899.0,260.9 900.0,259.3 901.0,262.1 902.0,261.9 903.0,262.8 904.0,263.1 905.0,262.5 906.0,261.7 907.0,262.3 908.0,261.5 909.0,258.8 910.0,261.6 911.0,262.2 912.0,260.0 913.0,261.2 914.0,263.3 915.0,262.2 916.0,264.6 917.0,260.9 918.0,261.7 919.0,260.0 920.0,261.7 921.0,261.8 922.0,262.9 923.0,263.9 924.0,264.1 925.0,264.1 926.0,259.1 927.0,260.8 928.0,262.3 929.0,261.9 930.0,262.0 931.0,260.6 932.0,260.6 933.0,265.1 934.0,264.8 935.0,264.5 936.0,261.2 937.0,262.5 938.0,261.7 939.0,263.3 940.0,264.3 941.0,264.1 942.0,263.0 943.0,261.4 944.0,261.7 945.0,264.4 946.0,261.5 947.0,261.9 948.0,264.4 949.0,262.4 950.0,261.6 951.0,262.3 952.0,261.8 953.0,261.9 954.0,263.3 955.0,261.4 956.0,264.2 957.0,263.6 958.0,260.9 959.0,265.0 960.0,261.3 961.0,260.8 962.0,260.1 963.0,262.9 964.0,261.3 965.0,262.5 966.0,264.3 967.0,260.6 968.0,262.2 969.0,264.9 970.0,260.2 971.0,260.9 972.0,262.7 973.0,263.0 974.0,263.1 975.0,262.5 976.0,263.7 977.0,263.4 978.0,263.0 979.0,261.6 980.0,262.6 981.0,261.9 982.0,264.1 983.0,262.2 984.0,263.9 985.0,264.0 986.0,263.0 987.0,259.8 988.0,261.9 989.0,261.2 990.0,259.5 991.0,261.7 992.0,264.1 993.0,261.5 994.0,259.6 995.0,263.8 996.0,262.7 997.0,263.5 998.0,261.7 999.0,262.2 1000.0,264.5 1001.0,263.2 1002.0,263.6 1003.0,265.0 1004.0,262.3 1005.0,263.2 1006.0,261.6 1007.0,261.5 1008.0,260.2 1009.0,263.7 1010.0,263.8 1011.0,264.0 1012.0,263.2 1013.0,264.1 1014.0,264.5 1015.0,263.9 1016.0,261.8 1017.0,260.4 1018.0,264.1 1019.0,265.2 1020.0,261.5 1021.0,262.7 1022.0,263.6 1023.0,263.0 1024.0,263.3 1025.0,263.5 1026.0,263.4 1027.0,262.2 1028.0,262.8 1029.0,263.4 1030.0,261.1 1031.0,260.7 1032.0,262.2 1033.0,264.1 1034.0,261.3 1035.0,260.9 1036.0,263.7 1037.0,263.6 1038.0,263.6 1039.0,262.9 1040.0,263.5 1041.0,262.4 1042.0,263.2 1043.0,263.6 1044.0,262.9 1045.0,264.2 1046.0,263.4 1047.0,262.0 1048.0,260.3 1049.0,261.1 1050.0,260.4 1051.0,261.2 1052.0,262.4 1053.0,260.7 1054.0,262.4 1055.0,262.9 1056.0,263.6 1057.0,264.3 1058.0,261.0 1059.0,261.1 1060.0,265.8 1061.0,262.5 1062.0,260.6 1063.0,262.6 1064.0,265.0 1065.0,260.3 1066.0,260.6 1067.0,262.5 1068.0,261.7 1069.0,261.4 1070.0,263.2 1071.0,265.1 1072.0,263.1 1073.0,263.7 1074.0,263.1 1075.0,261.6 1076.0,259.3 1077.0,260.4 1078.0,260.8 1079.0,263.9 1080.0,260.8 1081.0,262.8 1082.0,262.3 1083.0,262.0 1084.0,261.2 1085.0,261.6 1086.0,263.7 1087.0,263.1 1088.0,260.3 1089.0,261.9 1090.0,259.1 1091.0,262.5 1092.0,261.9 1093.0,261.9 1094.0,259.0 1095.0,260.5 1096.0,260.4 1097.0,259.9 1098.0,259.6 1099.0,258.3 1100.0,259.7 1101.0,260.1 1102.0,259.9 1103.0,260.9 1104.0,262.3 1105.0,261.7 1106.0,260.5 1107.0,259.2 1108.0,259.8 1109.0,260.5 1110.0,263.0 1111.0,262.4 1112.0,262.1 1113.0,261.0 1114.0,260.7 1115.0,261.5 1116.0,262.2 1117.0,261.3 1118.0,262.9 1119.0,260.1 1120.0,261.5 1121.0,261.1 1122.0,259.1 1123.0,260.0 1124.0,259.5 1125.0,262.7 1126.0,261.3 1127.0,262.6 1128.0,261.0 1129.0,262.1 1130.0,262.5 1131.0,261.8 1132.0,261.9 1133.0,264.2 1134.0,262.0 1135.0,263.7 1136.0,260.1 1137.0,262.8 1138.0,260.9 1139.0,261.9 1140.0,260.2 1141.0,261.1 1142.0,262.4 1143.0,264.0 1144.0,263.0 1145.0,262.9 1146.0,261.2 1147.0,264.8 1148.0,261.0 1149.0,263.9 1150.0,261.8 1151.0,264.1 1152.0,262.0 1153.0,261.9 1154.0,265.9 1155.0,259.8 1156.0,261.2 1157.0,259.6 1158.0,262.9 1159.0,261.5 1160.0,264.0 1161.0,261.4 1162.0,259.8 1163.0,257.7 1164.0,260.6 1165.0,260.6 1166.0,262.5 1167.0,264.7 1168.0,260.9 1169.0,260.6 1170.0,259.0 1171.0,262.2 1172.0,261.1 1173.0,261.4 1174.0,263.7 1175.0,262.5 1176.0,262.5 1177.0,263.1 1178.0,263.8 1179.0,259.7 1180.0,260.3 1181.0,260.9 1182.0,264.2 1183.0,261.6 1184.0,261.0 1185.0,262.6 1186.0,264.3 1187.0,262.5 1188.0,262.5 1189.0,261.9 1190.0,263.0 1191.0,262.6 1192.0,262.3 1193.0,263.0 1194.0,262.8 1195.0,264.6 1196.0,259.7 1197.0,260.7 1198.0,261.6 1199.0,263.3 1200.0,262.8 1201.0,260.4 1202.0,261.8 1203.0,262.6 1204.0,264.0 1205.0,262.3 1206.0,261.5 1207.0,262.2 1208.0,265.1 1209.0,265.3 1210.0,261.1 1211.0,261.4 1212.0,262.7 1213.0,263.2 1214.0,262.3 1215.0,264.0 1216.0,264.5 1217.0,262.5 1218.0,262.1 1219.0,266.2 1220.0,264.1 1221.0,262.7 1222.0,263.2 1223.0,263.2 1224.0,263.5 1225.0,267.2 1226.0,263.8 1227.0,264.3 1228.0,261.7 1229.0,258.7 1230.0,262.3 1231.0,262.4 1232.0,262.0 1233.0,261.5 1234.0,262.4 1235.0,260.4 1236.0,260.0 1237.0,259.8 1238.0,264.1 1239.0,264.5 1240.0,262.7 1241.0,262.6 1242.0,260.7 1243.0,262.6 1244.0,262.1 1245.0,262.9 1246.0,261.3 1247.0,262.0 1248.0,263.9 1249.0,259.6 1250.0,261.3 1251.0,260.4 1252.0,264.8 1253.0,264.4 1254.0,257.4 1255.0,261.3 1256.0,262.7 1257.0,263.7 1258.0,263.7 1259.0,262.2 1260.0,261.7 1261.0,263.5 1262.0,262.0 1263.0,264.3 1264.0,261.6 1265.0,261.5 1266.0,262.9 1267.0,266.4 1268.0,260.7 1269.0,262.1 1270.0,260.2 1271.0,262.0 1272.0,260.0 1273.0,260.4 1274.0,261.4 1275.0,260.4 1276.0,260.2 1277.0,261.8 1278.0,263.1 1279.0,261.1 1280.0,264.5 1281.0,260.2 1282.0,263.5 1283.0,262.6 1284.0,261.0 1285.0,262.1 1286.0,263.0 1287.0,260.7 1288.0,264.2 1289.0,264.5 1290.0,263.7 1291.0,263.9 1292.0,264.1 1293.0,259.5 1294.0,261.9 1295.0,263.1 1296.0,263.8 1297.0,263.7 1298.0,263.2 1299.0,263.9 1300.0,262.7 1301.0,262.7 1302.0,264.4 1303.0,263.9 1304.0,262.1 1305.0,261.9 1306.0,264.1 1307.0,263.7 1308.0,261.0 1309.0,263.9 1310.0,263.7 1311.0,263.1 1312.0,264.8 1313.0,263.1 1314.0,264.2 1315.0,262.3 1316.0,261.1 1316.0,268.6 1315.0,269.1 1314.0,268.3 1313.0,270.6 1312.0,270.7 1311.0,267.5 1310.0,271.1 1309.0,267.5 1308.0,268.7 1307.0,269.1 1306.0,268.0 1305.0,268.7 1304.0,266.3 1303.0,267.2 1302.0,267.8 1301.0,268.0 1300.0,270.4 1299.0,268.9 1298.0,267.7 1297.0,267.7 1296.0,269.3 1295.0,270.2 1294.0,268.5 1293.0,266.2 1292.0,267.7 1291.0,269.4 1290.0,269.0 1289.0,271.0 1288.0,268.1 1287.0,269.4 1286.0,268.4 1285.0,269.5 1284.0,267.9 1283.0,267.2 1282.0,265.9 1281.0,265.9 1280.0,270.3 1279.0,267.7 1278.0,267.7 1277.0,270.4 1276.0,265.7 1275.0,265.5 1274.0,268.1 1273.0,267.6 1272.0,267.7 1271.0,268.4 1270.0,265.9 1269.0,267.9 1268.0,266.6 1267.0,269.4 1266.0,267.4 1265.0,268.9 1264.0,268.0 1263.0,267.7 1262.0,265.2 1261.0,269.5 1260.0,269.9 1259.0,268.8 1258.0,268.3 1257.0,267.0 1256.0,268.4 1255.0,267.1 1254.0,268.6 1253.0,268.5 1252.0,271.0 1251.0,267.9 1250.0,267.7 1249.0,266.0 1248.0,265.9 1247.0,269.3 1246.0,264.3 1245.0,268.9 1244.0,270.0 1243.0,269.1 1242.0,266.4 1241.0,267.6 1240.0,271.7 1239.0,270.5 1238.0,268.5 1237.0,268.2 1236.0,264.9 1235.0,267.2 1234.0,267.6 1233.0,266.4 1232.0,265.1 1231.0,265.2 1230.0,265.5 1229.0,269.7 1228.0,266.1 1227.0,269.8 1226.0,271.0 1225.0,270.0 1224.0,270.2 1223.0,269.1 1222.0,268.8 1221.0,270.0 1220.0,268.5 1219.0,267.8 1218.0,269.9 1217.0,267.9 1216.0,267.5 1215.0,270.0 1214.0,268.4 1213.0,269.7 1212.0,270.0 1211.0,269.7 1210.0,268.2 1209.0,270.8 1208.0,270.4 1207.0,270.4 1206.0,269.4 1205.0,268.4 1204.0,269.7 1203.0,268.9 1202.0,267.3 1201.0,270.6 1200.0,269.7 1199.0,268.0 1198.0,269.6 1197.0,265.6 1196.0,268.2 1195.0,270.3 1194.0,268.2 1193.0,271.3 1192.0,270.8 1191.0,269.4 1190.0,269.9 1189.0,269.0 1188.0,266.1 1187.0,268.9 1186.0,270.7 1185.0,269.9 1184.0,269.2 1183.0,266.0 1182.0,267.7 1181.0,265.8 1180.0,265.5 1179.0,268.6 1178.0,267.5 1177.0,270.2 1176.0,266.8 1175.0,267.8 1174.0,268.9 1173.0,269.9 1172.0,268.3 1171.0,266.5 1170.0,265.8 1169.0,267.6 1168.0,266.8 1167.0,268.6 1166.0,267.1 1165.0,265.6 1164.0,267.9 1163.0,268.8 1162.0,267.4 1161.0,269.3 1160.0,265.8 1159.0,267.4 1158.0,268.4 1157.0,266.4 1156.0,266.9 1155.0,268.3 1154.0,268.2 1153.0,269.1 1152.0,270.4 1151.0,268.5 1150.0,268.0 1149.0,268.9 1148.0,266.8 1147.0,270.4 1146.0,269.2 1145.0,271.7 1144.0,268.7 1143.0,266.6 1142.0,271.7 1141.0,266.8 1140.0,268.7 1139.0,268.9 1138.0,268.7 1137.0,268.2 1136.0,271.1 1135.0,268.2 1134.0,269.5 1133.0,269.5 1132.0,268.6 1131.0,267.5 1130.0,269.2 1129.0,269.1 1128.0,269.7 1127.0,268.6 1126.0,269.7 1125.0,269.2 1124.0,267.3 1123.0,266.2 1122.0,266.7 1121.0,270.5 1120.0,269.5 1119.0,267.0 1118.0,269.5 1117.0,268.2 1116.0,267.0 1115.0,266.2 1114.0,267.2 1113.0,269.4 1112.0,269.6 1111.0,268.8 1110.0,267.0 1109.0,267.9 1108.0,268.1 1107.0,269.2 1106.0,269.2 1105.0,267.1 1104.0,266.9 1103.0,267.0 1102.0,267.2 1101.0,267.1 1100.0,267.9 1099.0,267.2 1098.0,269.4 1097.0,268.2 1096.0,266.3 1095.0,267.2 1094.0,267.4 1093.0,266.7 1092.0,268.7 1091.0,268.8 1090.0,269.3 1089.0,268.5 1088.0,267.7 1087.0,267.9 1086.0,269.4 1085.0,272.8 1084.0,269.3 1083.0,272.2 1082.0,269.6 1081.0,270.0 1080.0,270.4 1079.0,270.9 1078.0,268.9 1077.0,267.1 1076.0,271.5 1075.0,270.0 1074.0,270.0 1073.0,270.1 1072.0,271.2 1071.0,271.3 1070.0,269.3 1069.0,268.9 1068.0,272.5 1067.0,269.2 1066.0,268.5 1065.0,269.6 1064.0,270.3 1063.0,270.2 1062.0,269.2 1061.0,268.2 1060.0,271.8 1059.0,270.3 1058.0,269.8 1057.0,268.9 1056.0,269.8 1055.0,270.5 1054.0,271.3 1053.0,269.6 1052.0,269.8 1051.0,269.5 1050.0,269.7 1049.0,269.1 1048.0,271.2 1047.0,269.3 1046.0,270.6 1045.0,271.0 1044.0,272.1 1043.0,271.9 1042.0,268.2 1041.0,268.7 1040.0,271.3 1039.0,270.8 1038.0,271.4 1037.0,272.1 1036.0,270.5 1035.0,270.0 1034.0,269.7 1033.0,271.3 1032.0,269.8 1031.0,272.0 1030.0,272.3 1029.0,267.6 1028.0,270.2 1027.0,267.8 1026.0,269.7 1025.0,269.3 1024.0,269.8 1023.0,271.5 1022.0,272.1 1021.0,269.1 1020.0,269.5 1019.0,272.6 1018.0,270.2 1017.0,269.1 1016.0,269.4 1015.0,270.6 1014.0,270.1 1013.0,271.5 1012.0,270.3 1011.0,272.0 1010.0,271.8 1009.0,272.6 1008.0,272.7 1007.0,269.7 1006.0,270.5 1005.0,271.1 1004.0,271.1 1003.0,270.7 1002.0,273.5 1001.0,272.9 1000.0,273.0 999.0,271.7 998.0,271.5 997.0,272.8 996.0,271.9 995.0,269.8 994.0,269.3 993.0,270.4 992.0,271.5 991.0,268.9 990.0,270.5 989.0,271.9 988.0,269.8 987.0,268.6 986.0,270.0 985.0,272.2 984.0,269.9 983.0,269.7 982.0,271.9 981.0,274.7 980.0,269.6 979.0,270.8 978.0,270.6 977.0,271.4 976.0,274.3 975.0,273.1 974.0,269.9 973.0,272.1 972.0,272.6 971.0,272.0 970.0,270.0 969.0,271.5 968.0,270.1 967.0,269.6 966.0,270.4 965.0,270.5 964.0,271.0 963.0,272.0 962.0,270.0 961.0,270.7 960.0,270.2 959.0,273.3 958.0,270.7 957.0,269.9 956.0,271.2 955.0,271.1 954.0,273.7 953.0,270.4 952.0,270.7 951.0,271.6 950.0,272.5 949.0,272.5 948.0,273.3 947.0,270.0 946.0,271.5 945.0,272.2 944.0,267.8 943.0,271.4 942.0,271.4 941.0,273.2 940.0,273.4 939.0,272.7 938.0,270.8 937.0,270.8 936.0,269.7 935.0,270.7 934.0,272.9 933.0,273.0 932.0,269.3 931.0,270.7 930.0,272.8 929.0,272.4 928.0,273.2 927.0,273.7 926.0,271.5 925.0,273.3 924.0,270.7 923.0,271.0 922.0,271.2 921.0,275.1 920.0,271.5 919.0,272.1 918.0,270.5 917.0,271.5 916.0,271.2 915.0,272.9 914.0,273.2 913.0,271.6 912.0,272.6 911.0,271.9 910.0,272.0 909.0,269.8 908.0,271.0 907.0,273.5 906.0,272.6 905.0,271.9 904.0,272.3 903.0,270.6 902.0,270.9 901.0,271.2 900.0,274.1 899.0,272.8 898.0,271.5 897.0,270.8 896.0,273.1 895.0,268.1 894.0,271.4 893.0,274.3 892.0,273.5 891.0,272.5 890.0,271.6 889.0,273.5 888.0,272.4 887.0,273.0 886.0,273.5 885.0,273.9 884.0,273.4 883.0,270.1 882.0,274.1 881.0,272.9 880.0,272.7 879.0,273.8 878.0,272.9 877.0,271.6 876.0,273.4 875.0,272.4 874.0,271.6 873.0,271.4 872.0,269.2 871.0,271.7 870.0,272.6 869.0,273.9 868.0,272.6 867.0,269.4 866.0,269.4 865.0,271.6 864.0,273.6 863.0,272.4 862.0,274.4 861.0,275.5 860.0,273.3 859.0,272.2 858.0,275.0 857.0,274.5 856.0,273.2 855.0,273.4 854.0,271.4 853.0,273.1 852.0,271.5 851.0,271.8 850.0,270.3 849.0,269.2 848.0,271.7 847.0,273.9 846.0,273.6 845.0,272.3 844.0,273.0 843.0,271.9 842.0,272.2 841.0,273.8 840.0,273.9 839.0,271.7 838.0,271.7 837.0,271.7 836.0,271.3 835.0,272.1 834.0,272.4 833.0,272.1 832.0,272.4 831.0,272.5 830.0,271.4 829.0,273.9 828.0,270.4 827.0,269.3 826.0,273.0" fill="#22ae46" opacity="1.0"/>
<polygon points="826.0,279.7 827.0,280.9 828.0,281.2 829.0,279.6 830.0,282.1 831.0,281.3 832.0,281.3 833.0,278.6 834.0,280.4 835.0,280.1 836.0,279.9 837.0,280.9 838.0,278.3 839.0,280.1 840.0,281.5 841.0,281.1 842.0,281.2 843.0,280.7 844.0,282.1 845.0,280.3 846.0,278.8 847.0,279.8 848.0,281.1 849.0,279.1 850.0,281.0 851.0,279.1 852.0,277.8 853.0,279.6 854.0,280.7 855.0,283.3 856.0,281.0 857.0,279.3 858.0,278.0 859.0,279.8 860.0,281.0 861.0,282.0 862.0,280.0 863.0,278.7 864.0,278.8 865.0,279.0 866.0,277.0 867.0,280.3 868.0,279.2 869.0,280.8 870.0,281.0 871.0,280.9 872.0,280.5 873.0,280.0 874.0,277.8 875.0,277.9 876.0,280.1 877.0,279.0 878.0,280.2 879.0,278.3 880.0,279.0 881.0,276.2 882.0,276.1 883.0,276.9 884.0,278.4 885.0,281.0 886.0,277.6 887.0,277.9 888.0,278.3 889.0,278.7 890.0,277.9 891.0,277.9 892.0,281.3 893.0,278.2 894.0,276.4 895.0,274.6 896.0,277.7 897.0,280.1 898.0,278.1 899.0,277.7 900.0,279.9 901.0,280.2 902.0,278.5 903.0,277.3 904.0,277.8 905.0,278.2 906.0,278.0 907.0,278.8 908.0,276.2 909.0,278.9 910.0,278.5 911.0,281.9 912.0,275.7 913.0,279.6 914.0,279.6 915.0,278.2 916.0,278.6 917.0,277.9 918.0,276.0 919.0,278.4 920.0,278.9 921.0,281.6 922.0,278.3 923.0,276.9 924.0,277.0 925.0,278.0 926.0,277.1 927.0,280.1 928.0,277.8 929.0,277.8 930.0,276.5 931.0,278.6 932.0,279.8 933.0,277.6 934.0,276.2 935.0,275.7 936.0,274.6 937.0,277.8 938.0,280.9 939.0,280.0 940.0,278.6 941.0,277.7 942.0,279.0 943.0,278.2 944.0,279.6 945.0,278.1 946.0,274.8 947.0,276.3 948.0,278.3 949.0,278.0 950.0,279.9 951.0,277.9 952.0,275.9 953.0,275.3 954.0,275.8 955.0,274.5 956.0,276.5 957.0,276.6 958.0,276.2 959.0,276.6 960.0,279.9 961.0,277.5 962.0,277.3 963.0,277.6 964.0,275.5 965.0,278.9 966.0,278.8 967.0,274.8 968.0,275.6 969.0,276.8 970.0,278.1 971.0,276.7 972.0,277.4 973.0,277.1 974.0,276.7 975.0,276.9 976.0,278.4 977.0,274.7 978.0,272.8 979.0,274.3 980.0,275.0 981.0,274.7 982.0,274.5 983.0,274.5 984.0,274.7 985.0,277.1 986.0,277.8 987.0,275.8 988.0,275.1 989.0,275.6 990.0,274.0 991.0,273.4 992.0,275.2 993.0,274.1 994.0,276.4 995.0,277.4 996.0,274.4 997.0,273.1 998.0,275.1 999.0,276.4 1000.0,276.2 1001.0,277.9 1002.0,275.7 1003.0,275.2 1004.0,273.1 1005.0,274.8 1006.0,274.1 1007.0,275.2 1008.0,278.4 1009.0,278.1 1010.0,280.4 1011.0,277.3 1012.0,276.7 1013.0,275.5 1014.0,275.7 1015.0,276.2 1016.0,274.9 1017.0,272.3 1018.0,275.1 1019.0,274.3 1020.0,274.0 1021.0,278.2 1022.0,272.7 1023.0,276.6 1024.0,273.5 1025.0,273.5 1026.0,273.7 1027.0,272.2 1028.0,274.1 1029.0,273.6 1030.0,274.6 1031.0,274.4 1032.0,279.1 1033.0,274.2 1034.0,273.9 1035.0,275.1 1036.0,277.7 1037.0,273.3 1038.0,273.8 1039.0,274.2 1040.0,272.9 1041.0,271.2 1042.0,275.0 1043.0,271.2 1044.0,273.6 1045.0,275.0 1046.0,274.9 1047.0,272.4 1048.0,273.1 1049.0,275.7 1050.0,274.2 1051.0,274.9 1052.0,273.3 1053.0,273.9 1054.0,272.5 1055.0,276.7 1056.0,274.7 1057.0,274.4 1058.0,272.9 1059.0,275.5 1060.0,274.7 1061.0,273.8 1062.0,273.5 1063.0,274.5 1064.0,271.8 1065.0,274.6 1066.0,274.7 1067.0,274.5 1068.0,273.5 1069.0,274.8 1070.0,274.7 1071.0,272.3 1072.0,271.8 1073.0,273.2 1074.0,271.2 1075.0,272.1 1076.0,272.6 1077.0,277.2 1078.0,274.0 1079.0,272.9 1080.0,271.5 1081.0,273.5 1082.0,274.0 1083.0,272.4 1084.0,275.0 1085.0,271.5 1086.0,272.5 1087.0,272.6 1088.0,274.8 1089.0,273.1 1090.0,276.5 1091.0,270.3 1092.0,272.9 1093.0,273.9 1094.0,272.1 1095.0,270.9 1096.0,272.8 1097.0,270.6 1098.0,269.0 1099.0,270.1 1100.0,270.6 1101.0,272.6 1102.0,274.0 1103.0,271.9 1104.0,271.7 1105.0,272.4 1106.0,272.8 1107.0,272.9 1108.0,270.8 1109.0,272.3 1110.0,270.8 1111.0,274.1 1112.0,269.7 1113.0,268.4 1114.0,271.3 1115.0,271.7 1116.0,272.0 1117.0,271.1 1118.0,269.5 1119.0,271.8 1120.0,270.5 1121.0,272.0 1122.0,271.3 1123.0,270.7 1124.0,274.9 1125.0,273.0 1126.0,273.2 1127.0,274.1 1128.0,272.7 1129.0,270.2 1130.0,272.7 1131.0,274.8 1132.0,272.8 1133.0,273.9 1134.0,274.3 1135.0,273.1 1136.0,272.2 1137.0,272.9 1138.0,271.2 1139.0,274.4 1140.0,271.6 1141.0,273.9 1142.0,274.3 1143.0,272.3 1144.0,272.1 1145.0,274.4 1146.0,270.7 1147.0,271.5 1148.0,272.0 1149.0,271.2 1150.0,274.5 1151.0,273.4 1152.0,272.1 1153.0,274.0 1154.0,273.6 1155.0,272.7 1156.0,273.7 1157.0,271.8 1158.0,270.3 1159.0,268.7 1160.0,274.7 1161.0,271.5 1162.0,270.7 1163.0,273.1 1164.0,272.0 1165.0,271.5 1166.0,272.7 1167.0,272.7 1168.0,271.5 1169.0,270.2 1170.0,273.4 1171.0,271.6 1172.0,271.7 1173.0,271.0 1174.0,271.5 1175.0,269.8 1176.0,271.0 1177.0,272.8 1178.0,274.3 1179.0,274.7 1180.0,272.9 1181.0,273.5 1182.0,269.7 1183.0,269.2 1184.0,274.8 1185.0,270.6 1186.0,274.0 1187.0,272.0 1188.0,272.3 1189.0,271.6 1190.0,271.4 1191.0,274.4 1192.0,270.7 1193.0,273.9 1194.0,273.3 1195.0,270.8 1196.0,272.7 1197.0,272.0 1198.0,271.9 1199.0,272.6 1200.0,271.1 1201.0,272.8 1202.0,270.7 1203.0,272.0 1204.0,272.1 1205.0,273.0 1206.0,269.6 1207.0,272.5 1208.0,271.3 1209.0,274.3 1210.0,274.2 1211.0,270.5 1212.0,272.1 1213.0,270.0 1214.0,270.8 1215.0,269.5 1216.0,272.1 1217.0,272.7 1218.0,269.2 1219.0,270.9 1220.0,273.7 1221.0,271.1 1222.0,273.3 1223.0,271.0 1224.0,271.0 1225.0,272.7 1226.0,273.7 1227.0,270.6 1228.0,270.1 1229.0,272.4 1230.0,272.1 1231.0,273.4 1232.0,272.6 1233.0,272.0 1234.0,270.7 1235.0,271.2 1236.0,272.0 1237.0,272.7 1238.0,272.6 1239.0,273.4 1240.0,271.8 1241.0,272.0 1242.0,270.7 1243.0,269.6 1244.0,270.0 1245.0,269.2 1246.0,271.3 1247.0,270.4 1248.0,271.6 1249.0,272.9 1250.0,273.3 1251.0,271.7 1252.0,272.6 1253.0,270.7 1254.0,271.4 1255.0,271.8 1256.0,271.0 1257.0,271.3 1258.0,274.5 1259.0,276.3 1260.0,272.8 1261.0,272.1 1262.0,270.0 1263.0,273.1 1264.0,273.8 1265.0,274.5 1266.0,269.8 1267.0,272.5 1268.0,274.1 1269.0,271.8 1270.0,270.5 1271.0,270.1 1272.0,271.8 1273.0,271.7 1274.0,271.0 1275.0,269.3 1276.0,272.8 1277.0,272.5 1278.0,272.4 1279.0,272.6 1280.0,270.5 1281.0,270.9 1282.0,270.7 1283.0,275.1 1284.0,273.5 1285.0,272.7 1286.0,272.1 1287.0,274.4 1288.0,271.7 1289.0,272.2 1290.0,270.9 1291.0,272.6 1292.0,272.5 1293.0,272.2 1294.0,269.4 1295.0,269.5 1296.0,271.0 1297.0,274.7 1298.0,273.2 1299.0,272.7 1300.0,271.6 1301.0,272.1 1302.0,272.6 1303.0,270.4 1304.0,269.6 1305.0,272.6 1306.0,270.8 1307.0,272.3 1308.0,272.1 1309.0,271.3 1310.0,273.6 1311.0,270.9 1312.0,271.3 1313.0,273.2 1314.0,272.2 1315.0,272.4 1316.0,272.2 1316.0,274.9 1315.0,277.2 1314.0,278.6 1313.0,277.6 1312.0,277.3 1311.0,273.4 1310.0,275.5 1309.0,273.3 1308.0,278.1 1307.0,276.5 1306.0,278.0 1305.0,275.8 1304.0,275.0 1303.0,274.7 1302.0,276.2 1301.0,275.6 1300.0,278.3 1299.0,277.0 1298.0,277.2 1297.0,279.5 1296.0,278.3 1295.0,273.5 1294.0,276.0 1293.0,277.8 1292.0,277.3 1291.0,278.0 1290.0,276.7 1289.0,277.7 1288.0,277.0 1287.0,278.7 1286.0,274.8 1285.0,275.5 1284.0,277.0 1283.0,278.9 1282.0,276.3 1281.0,276.0 1280.0,279.6 1279.0,277.9 1278.0,276.3 1277.0,279.1 1276.0,277.3 1275.0,276.4 1274.0,275.5 1273.0,277.3 1272.0,275.2 1271.0,273.9 1270.0,275.3 1269.0,278.3 1268.0,279.4 1267.0,275.4 1266.0,276.8 1265.0,278.2 1264.0,280.6 1263.0,278.4 1262.0,275.8 1261.0,278.9 1260.0,276.8 1259.0,281.2 1258.0,278.6 1257.0,277.1 1256.0,277.0 1255.0,278.2 1254.0,278.8 1253.0,273.5 1252.0,278.9 1251.0,279.7 1250.0,275.9 1249.0,279.6 1248.0,277.2 1247.0,273.7 1246.0,274.7 1245.0,275.5 1244.0,274.3 1243.0,276.4 1242.0,279.9 1241.0,277.7 1240.0,277.7 1239.0,277.9 1238.0,277.9 1237.0,275.8 1236.0,276.0 1235.0,275.7 1234.0,279.3 1233.0,278.6 1232.0,276.8 1231.0,278.3 1230.0,276.4 1229.0,276.7 1228.0,275.6 1227.0,278.2 1226.0,278.5 1225.0,277.6 1224.0,276.7 1223.0,277.6 1222.0,275.3 1221.0,279.6 1220.0,277.7 1219.0,278.7 1218.0,277.9 1217.0,280.4 1216.0,275.3 1215.0,276.9 1214.0,279.5 1213.0,277.8 1212.0,280.8 1211.0,276.7 1210.0,278.6 1209.0,278.2 1208.0,279.1 1207.0,277.9 1206.0,279.2 1205.0,280.3 1204.0,279.0 1203.0,277.3 1202.0,276.8 1201.0,278.6 1200.0,278.4 1199.0,279.6 1198.0,279.4 1197.0,278.2 1196.0,279.0 1195.0,278.1 1194.0,279.3 1193.0,279.0 1192.0,277.8 1191.0,279.3 1190.0,278.2 1189.0,278.8 1188.0,277.8 1187.0,277.1 1186.0,278.5 1185.0,277.0 1184.0,280.0 1183.0,278.5 1182.0,277.8 1181.0,278.0 1180.0,279.6 1179.0,279.7 1178.0,280.0 1177.0,277.4 1176.0,279.9 1175.0,276.6 1174.0,274.9 1173.0,278.8 1172.0,278.9 1171.0,276.0 1170.0,277.6 1169.0,279.5 1168.0,280.7 1167.0,278.6 1166.0,278.7 1165.0,279.0 1164.0,278.7 1163.0,277.4 1162.0,277.3 1161.0,275.8 1160.0,279.2 1159.0,277.6 1158.0,278.5 1157.0,276.7 1156.0,277.7 1155.0,277.9 1154.0,279.3 1153.0,279.9 1152.0,279.5 1151.0,282.4 1150.0,280.2 1149.0,280.7 1148.0,277.2 1147.0,278.8 1146.0,279.5 1145.0,281.3 1144.0,281.8 1143.0,282.8 1142.0,278.4 1141.0,278.9 1140.0,279.0 1139.0,279.6 1138.0,279.9 1137.0,280.0 1136.0,279.6 1135.0,281.0 1134.0,282.3 1133.0,282.9 1132.0,280.3 1131.0,279.5 1130.0,280.3 1129.0,278.6 1128.0,279.2 1127.0,280.6 1126.0,279.4 1125.0,280.8 1124.0,280.4 1123.0,278.5 1122.0,279.1 1121.0,278.6 1120.0,279.1 1119.0,280.5 1118.0,278.9 1117.0,280.5 1116.0,275.9 1115.0,279.4 1114.0,280.2 1113.0,279.1 1112.0,277.8 1111.0,281.4 1110.0,280.1 1109.0,278.3 1108.0,279.0 1107.0,279.5 1106.0,278.5 1105.0,279.8 1104.0,281.1 1103.0,278.8 1102.0,281.2 1101.0,281.4 1100.0,280.7 1099.0,279.8 1098.0,280.4 1097.0,276.7 1096.0,280.3 1095.0,276.8 1094.0,279.7 1093.0,280.7 1092.0,282.2 1091.0,281.2 1090.0,279.3 1089.0,278.4 1088.0,281.6 1087.0,276.4 1086.0,280.3 1085.0,278.7 1084.0,280.7 1083.0,281.4 1082.0,284.7 1081.0,280.9 1080.0,280.3 1079.0,281.8 1078.0,281.3 1077.0,282.0 1076.0,280.3 1075.0,278.9 1074.0,280.9 1073.0,282.7 1072.0,279.1 1071.0,281.2 1070.0,281.2 1069.0,279.6 1068.0,284.3 1067.0,283.9 1066.0,283.7 1065.0,282.4 1064.0,281.7 1063.0,280.5 1062.0,282.3 1061.0,280.8 1060.0,281.5 1059.0,281.5 1058.0,280.1 1057.0,281.8 1056.0,282.9 1055.0,283.3 1054.0,284.4 1053.0,283.0 1052.0,282.6 1051.0,281.7 1050.0,284.2 1049.0,281.0 1048.0,280.1 1047.0,280.7 1046.0,283.2 1045.0,281.6 1044.0,282.5 1043.0,280.5 1042.0,281.4 1041.0,282.1 1040.0,280.1 1039.0,284.8 1038.0,283.5 1037.0,281.7 1036.0,283.2 1035.0,282.0 1034.0,281.4 1033.0,283.9 1032.0,285.7 1031.0,282.2 1030.0,282.3 1029.0,281.0 1028.0,280.5 1027.0,280.7 1026.0,284.7 1025.0,282.0 1024.0,282.5 1023.0,283.1 1022.0,283.2 1021.0,285.7 1020.0,283.9 1019.0,284.2 1018.0,281.8 1017.0,281.5 1016.0,284.6 1015.0,283.3 1014.0,283.2 1013.0,283.3 1012.0,285.6 1011.0,285.0 1010.0,285.9 1009.0,284.2 1008.0,286.7 1007.0,283.5 1006.0,284.1 1005.0,285.4 1004.0,283.7 1003.0,284.0 1002.0,287.0 1001.0,284.1 1000.0,284.6 999.0,284.2 998.0,284.0 997.0,284.6 996.0,287.0 995.0,285.4 994.0,286.0 993.0,284.2 992.0,282.4 991.0,282.4 990.0,284.3 989.0,285.0 988.0,283.8 987.0,284.8 986.0,285.0 985.0,284.4 984.0,285.5 983.0,284.0 982.0,283.0 981.0,283.6 980.0,285.5 979.0,283.7 978.0,283.9 977.0,284.0 976.0,286.7 975.0,286.1 974.0,283.9 973.0,285.2 972.0,286.4 971.0,286.4 970.0,287.4 969.0,286.7 968.0,285.8 967.0,283.9 966.0,286.5 965.0,287.1 964.0,284.1 963.0,286.5 962.0,284.5 961.0,286.0 960.0,286.7 959.0,285.8 958.0,285.2 957.0,287.4 956.0,286.2 955.0,284.8 954.0,285.5 953.0,285.6 952.0,284.1 951.0,286.8 950.0,287.8 949.0,286.6 948.0,287.2 947.0,287.8 946.0,286.2 945.0,286.5 944.0,287.8 943.0,288.7 942.0,288.2 941.0,284.7 940.0,288.3 939.0,286.8 938.0,287.2 937.0,286.6 936.0,284.3 935.0,283.4 934.0,285.6 933.0,285.9 932.0,285.4 931.0,289.1 930.0,286.6 929.0,288.2 928.0,287.5 927.0,287.0 926.0,287.2 925.0,287.7 924.0,285.8 923.0,286.9 922.0,286.7 921.0,290.0 920.0,286.4 919.0,286.6 918.0,289.2 917.0,289.6 916.0,287.4 915.0,286.5 914.0,288.8 913.0,287.6 912.0,289.9 911.0,286.3 910.0,288.9 909.0,290.2 908.0,289.1 907.0,290.2 906.0,289.4 905.0,288.5 904.0,286.7 903.0,289.2 902.0,287.4 901.0,290.2 900.0,286.7 899.0,285.3 898.0,286.9 897.0,287.5 896.0,287.3 895.0,286.9 894.0,287.1 893.0,289.2 892.0,289.6 891.0,285.1 890.0,288.8 889.0,289.3 888.0,287.9 887.0,290.0 886.0,289.1 885.0,291.3 884.0,288.7 883.0,287.7 882.0,287.7 881.0,288.8 880.0,289.4 879.0,286.7 878.0,289.6 877.0,289.3 876.0,289.6 875.0,287.8 874.0,290.9 873.0,290.2 872.0,290.2 871.0,291.2 870.0,290.4 869.0,289.9 868.0,291.2 867.0,289.2 866.0,288.2 865.0,289.8 864.0,291.7 863.0,291.9 862.0,294.3 861.0,291.8 860.0,290.5 859.0,289.7 858.0,288.7 857.0,288.4 856.0,292.0 855.0,292.3 854.0,291.2 853.0,290.3 852.0,290.2 851.0,289.1 850.0,293.5 849.0,290.6 848.0,289.7 847.0,290.5 846.0,290.4 845.0,290.5 844.0,289.9 843.0,294.4 842.0,291.6 841.0,292.6 840.0,289.7 839.0,292.7 838.0,291.6 837.0,290.2 836.0,289.4 835.0,292.3 834.0,291.2 833.0,292.2 832.0,292.4 831.0,292.5 830.0,290.9 829.0,291.5 828.0,290.9 827.0,292.4 826.0,291.3" fill="#84aa22" opacity="1.0"/>
<polygon points="826.0,302.8 827.0,301.3 828.0,300.5 829.0,298.4 830.0,304.8 831.0,301.7 832.0,301.6 833.0,298.8 834.0,302.7 835.0,302.0 836.0,298.2 837.0,302.6 838.0,297.9 839.0,299.2 840.0,298.0 841.0,300.0 842.0,297.9 843.0,300.6 844.0,298.9 845.0,298.0 846.0,303.0 847.0,299.1 848.0,297.3 849.0,302.7 850.0,300.9 851.0,296.8 852.0,297.4 853.0,300.1 854.0,298.5 855.0,296.8 856.0,298.7 857.0,298.2 858.0,299.3 859.0,299.2 860.0,300.2 861.0,299.1 862.0,296.4 863.0,297.7 864.0,297.5 865.0,296.6 866.0,295.5 867.0,300.3 868.0,298.2 869.0,298.3 870.0,298.2 871.0,295.8 872.0,300.2 873.0,298.2 874.0,297.0 875.0,296.8 876.0,297.4 877.0,297.1 878.0,296.9 879.0,300.4 880.0,298.1 881.0,298.8 882.0,300.2 883.0,298.3 884.0,299.1 885.0,294.8 886.0,294.7 887.0,296.9 888.0,298.9 889.0,298.6 890.0,297.7 891.0,298.4 892.0,296.2 893.0,292.1 894.0,295.7 895.0,293.8 896.0,297.2 897.0,296.2 898.0,294.6 899.0,295.9 900.0,295.8 901.0,296.7 902.0,298.7 903.0,294.8 904.0,297.5 905.0,294.3 906.0,296.0 907.0,295.4 908.0,297.1 909.0,296.9 910.0,294.2 911.0,294.3 912.0,295.4 913.0,293.5 914.0,294.2 915.0,295.6 916.0,293.0 917.0,293.4 918.0,292.6 919.0,295.0 920.0,295.4 921.0,290.5 922.0,292.9 923.0,294.8 924.0,294.7 925.0,295.0 926.0,295.0 927.0,291.1 928.0,290.3 929.0,293.8 930.0,294.1 931.0,295.4 932.0,292.2 933.0,294.1 934.0,293.7 935.0,292.8 936.0,293.5 937.0,294.6 938.0,293.8 939.0,296.1 940.0,297.2 941.0,295.2 942.0,293.2 943.0,293.4 944.0,293.3 945.0,290.0 946.0,288.2 947.0,291.9 948.0,292.5 949.0,293.4 950.0,292.7 951.0,290.3 952.0,291.9 953.0,294.2 954.0,292.3 955.0,294.7 956.0,293.2 957.0,291.7 958.0,291.8 959.0,293.4 960.0,294.9 961.0,293.5 962.0,290.7 963.0,293.2 964.0,291.6 965.0,293.0 966.0,292.3 967.0,290.9 968.0,290.8 969.0,291.6 970.0,291.0 971.0,292.7 972.0,293.5 973.0,291.3 974.0,290.2 975.0,293.3 976.0,289.5 977.0,290.6 978.0,290.1 979.0,291.2 980.0,291.7 981.0,292.5 982.0,290.5 983.0,290.9 984.0,291.0 985.0,289.8 986.0,292.5 987.0,290.9 988.0,289.4 989.0,292.5 990.0,291.0 991.0,292.0 992.0,288.5 993.0,291.1 994.0,288.3 995.0,291.2 996.0,289.9 997.0,290.0 998.0,291.2 999.0,291.4 1000.0,291.1 1001.0,290.6 1002.0,290.3 1003.0,289.2 1004.0,291.5 1005.0,289.8 1006.0,291.6 1007.0,286.2 1008.0,290.3 1009.0,287.9 1010.0,287.4 1011.0,290.1 1012.0,291.8 1013.0,292.7 1014.0,289.3 1015.0,289.6 1016.0,289.4 1017.0,291.7 1018.0,289.0 1019.0,288.4 1020.0,291.5 1021.0,288.2 1022.0,289.5 1023.0,289.2 1024.0,286.1 1025.0,286.3 1026.0,287.2 1027.0,288.8 1028.0,289.1 1029.0,287.8 1030.0,287.4 1031.0,288.5 1032.0,288.0 1033.0,288.3 1034.0,286.7 1035.0,287.4 1036.0,289.7 1037.0,288.5 1038.0,288.4 1039.0,291.1 1040.0,287.9 1041.0,287.2 1042.0,288.1 1043.0,288.3 1044.0,287.9 1045.0,287.1 1046.0,284.9 1047.0,288.3 1048.0,286.6 1049.0,287.8 1050.0,286.6 1051.0,289.5 1052.0,287.6 1053.0,284.9 1054.0,285.7 1055.0,285.2 1056.0,285.5 1057.0,284.0 1058.0,285.5 1059.0,286.2 1060.0,287.4 1061.0,286.6 1062.0,286.6 1063.0,287.5 1064.0,286.3 1065.0,284.7 1066.0,287.0 1067.0,285.1 1068.0,286.5 1069.0,286.7 1070.0,282.6 1071.0,285.6 1072.0,282.4 1073.0,283.7 1074.0,283.5 1075.0,286.7 1076.0,287.1 1077.0,284.3 1078.0,285.2 1079.0,284.7 1080.0,286.8 1081.0,283.8 1082.0,285.8 1083.0,284.6 1084.0,287.8 1085.0,284.7 1086.0,282.6 1087.0,286.1 1088.0,284.5 1089.0,286.0 1090.0,283.5 1091.0,285.1 1092.0,284.2 1093.0,285.7 1094.0,281.6 1095.0,285.5 1096.0,283.6 1097.0,284.8 1098.0,284.0 1099.0,282.6 1100.0,282.4 1101.0,287.2 1102.0,284.0 1103.0,284.6 1104.0,283.1 1105.0,283.9 1106.0,286.1 1107.0,284.1 1108.0,283.5 1109.0,283.0 1110.0,281.0 1111.0,284.2 1112.0,284.2 1113.0,281.6 1114.0,281.5 1115.0,283.9 1116.0,283.6 1117.0,281.5 1118.0,281.5 1119.0,280.6 1120.0,283.1 1121.0,282.8 1122.0,282.1 1123.0,280.6 1124.0,281.3 1125.0,279.8 1126.0,280.4 1127.0,282.0 1128.0,281.7 1129.0,281.6 1130.0,280.6 1131.0,280.2 1132.0,283.1 1133.0,283.5 1134.0,283.9 1135.0,283.8 1136.0,281.5 1137.0,281.8 1138.0,282.0 1139.0,282.1 1140.0,282.7 1141.0,280.3 1142.0,279.3 1143.0,280.4 1144.0,282.0 1145.0,280.2 1146.0,280.9 1147.0,281.5 1148.0,280.8 1149.0,279.4 1150.0,282.5 1151.0,279.5 1152.0,282.2 1153.0,280.3 1154.0,279.8 1155.0,279.9 1156.0,280.6 1157.0,278.7 1158.0,281.4 1159.0,278.9 1160.0,279.0 1161.0,282.7 1162.0,282.6 1163.0,283.8 1164.0,282.3 1165.0,280.3 1166.0,280.3 1167.0,283.2 1168.0,281.5 1169.0,283.9 1170.0,278.7 1171.0,278.7 1172.0,283.5 1173.0,284.8 1174.0,281.4 1175.0,282.8 1176.0,278.1 1177.0,280.6 1178.0,279.0 1179.0,284.2 1180.0,284.4 1181.0,280.8 1182.0,278.5 1183.0,279.5 1184.0,278.3 1185.0,281.1 1186.0,281.5 1187.0,281.0 1188.0,279.0 1189.0,280.1 1190.0,276.7 1191.0,280.6 1192.0,278.5 1193.0,279.2 1194.0,282.3 1195.0,280.1 1196.0,279.8 1197.0,279.2 1198.0,280.8 1199.0,276.7 1200.0,278.3 1201.0,279.4 1202.0,279.9 1203.0,280.7 1204.0,283.1 1205.0,278.2 1206.0,280.4 1207.0,277.8 1208.0,280.9 1209.0,280.3 1210.0,280.6 1211.0,277.5 1212.0,281.2 1213.0,280.1 1214.0,280.5 1215.0,278.6 1216.0,279.6 1217.0,278.6 1218.0,279.2 1219.0,282.4 1220.0,279.8 1221.0,277.6 1222.0,279.1 1223.0,277.1 1224.0,278.4 1225.0,280.6 1226.0,280.1 1227.0,280.0 1228.0,278.5 1229.0,278.9 1230.0,277.7 1231.0,278.8 1232.0,280.8 1233.0,279.2 1234.0,282.3 1235.0,278.2 1236.0,280.7 1237.0,278.9 1238.0,279.9 1239.0,280.3 1240.0,278.7 1241.0,277.7 1242.0,276.1 1243.0,273.9 1244.0,275.9 1245.0,280.1 1246.0,277.9 1247.0,278.0 1248.0,276.7 1249.0,278.8 1250.0,278.5 1251.0,279.3 1252.0,278.7 1253.0,275.8 1254.0,277.8 1255.0,278.4 1256.0,277.1 1257.0,275.6 1258.0,275.9 1259.0,279.7 1260.0,276.6 1261.0,278.1 1262.0,279.3 1263.0,280.4 1264.0,276.8 1265.0,277.1 1266.0,278.6 1267.0,278.9 1268.0,275.3 1269.0,277.3 1270.0,279.0 1271.0,274.6 1272.0,279.2 1273.0,277.7 1274.0,279.9 1275.0,276.3 1276.0,279.9 1277.0,277.7 1278.0,276.9 1279.0,277.9 1280.0,278.0 1281.0,278.2 1282.0,277.1 1283.0,276.5 1284.0,274.6 1285.0,277.7 1286.0,277.7 1287.0,279.1 1288.0,276.5 1289.0,278.4 1290.0,278.1 1291.0,276.8 1292.0,276.5 1293.0,278.4 1294.0,278.7 1295.0,276.1 1296.0,277.2 1297.0,278.9 1298.0,275.6 1299.0,278.5 1300.0,277.7 1301.0,278.3 1302.0,279.3 1303.0,276.0 1304.0,277.6 1305.0,275.9 1306.0,276.8 1307.0,277.7 1308.0,276.8 1309.0,276.8 1310.0,278.4 1311.0,276.1 1312.0,274.4 1313.0,275.3 1314.0,274.5 1315.0,275.4 1316.0,276.9 1316.0,281.2 1315.0,281.9 1314.0,278.4 1313.0,280.9 1312.0,284.1 1311.0,280.7 1310.0,283.7 1309.0,281.8 1308.0,282.2 1307.0,282.8 1306.0,281.0 1305.0,280.2 1304.0,282.3 1303.0,280.4 1302.0,283.0 1301.0,280.6 1300.0,285.7 1299.0,283.0 1298.0,281.2 1297.0,283.7 1296.0,281.9 1295.0,279.0 1294.0,283.2 1293.0,284.7 1292.0,283.3 1291.0,280.2 1290.0,283.7 1289.0,285.2 1288.0,281.4 1287.0,283.3 1286.0,285.3 1285.0,285.8 1284.0,284.3 1283.0,282.8 1282.0,285.8 1281.0,283.2 1280.0,281.8 1279.0,282.8 1278.0,284.7 1277.0,282.2 1276.0,282.3 1275.0,284.7 1274.0,281.9 1273.0,283.3 1272.0,281.7 1271.0,284.0 1270.0,282.4 1269.0,284.1 1268.0,281.3 1267.0,281.6 1266.0,285.1 1265.0,281.6 1264.0,284.1 1263.0,284.8 1262.0,286.4 1261.0,283.8 1260.0,282.6 1259.0,285.2 1258.0,283.0 1257.0,285.0 1256.0,285.1 1255.0,284.5 1254.0,284.4 1253.0,282.9 1252.0,285.1 1251.0,285.9 1250.0,280.6 1249.0,286.7 1248.0,281.8 1247.0,284.5 1246.0,284.7 1245.0,286.3 1244.0,283.2 1243.0,279.8 1242.0,282.8 1241.0,284.1 1240.0,284.5 1239.0,285.7 1238.0,285.3 1237.0,283.7 1236.0,286.4 1235.0,284.1 1234.0,283.3 1233.0,283.6 1232.0,285.5 1231.0,281.3 1230.0,283.6 1229.0,284.7 1228.0,285.4 1227.0,288.0 1226.0,286.0 1225.0,287.5 1224.0,286.2 1223.0,284.9 1222.0,284.7 1221.0,284.8 1220.0,287.3 1219.0,288.0 1218.0,284.6 1217.0,284.4 1216.0,285.3 1215.0,284.8 1214.0,286.4 1213.0,285.5 1212.0,287.1 1211.0,286.2 1210.0,287.0 1209.0,288.4 1208.0,285.7 1207.0,284.9 1206.0,287.9 1205.0,284.4 1204.0,284.1 1203.0,287.0 1202.0,286.3 1201.0,285.8 1200.0,287.3 1199.0,283.7 1198.0,285.0 1197.0,287.4 1196.0,285.7 1195.0,287.5 1194.0,286.7 1193.0,283.8 1192.0,286.1 1191.0,286.8 1190.0,286.3 1189.0,285.8 1188.0,286.3 1187.0,286.0 1186.0,287.2 1185.0,285.1 1184.0,285.5 1183.0,286.9 1182.0,287.5 1181.0,288.5 1180.0,289.8 1179.0,290.0 1178.0,286.8 1177.0,289.0 1176.0,288.4 1175.0,289.2 1174.0,286.8 1173.0,290.3 1172.0,288.3 1171.0,287.6 1170.0,291.0 1169.0,289.4 1168.0,289.4 1167.0,291.8 1166.0,287.1 1165.0,287.5 1164.0,290.2 1163.0,290.4 1162.0,287.1 1161.0,286.7 1160.0,287.8 1159.0,290.1 1158.0,288.4 1157.0,286.4 1156.0,287.8 1155.0,287.3 1154.0,287.8 1153.0,288.3 1152.0,288.2 1151.0,285.7 1150.0,289.0 1149.0,287.8 1148.0,289.9 1147.0,290.5 1146.0,287.3 1145.0,289.9 1144.0,290.6 1143.0,286.6 1142.0,288.8 1141.0,287.3 1140.0,289.9 1139.0,289.3 1138.0,288.1 1137.0,287.9 1136.0,287.0 1135.0,288.7 1134.0,290.7 1133.0,289.5 1132.0,289.4 1131.0,290.7 1130.0,287.3 1129.0,286.6 1128.0,286.9 1127.0,291.4 1126.0,289.0 1125.0,291.9 1124.0,289.1 1123.0,291.7 1122.0,291.4 1121.0,292.4 1120.0,288.8 1119.0,290.2 1118.0,290.7 1117.0,289.7 1116.0,292.7 1115.0,290.2 1114.0,291.2 1113.0,289.2 1112.0,291.0 1111.0,289.8 1110.0,292.6 1109.0,292.1 1108.0,290.2 1107.0,290.4 1106.0,293.6 1105.0,291.6 1104.0,288.9 1103.0,292.4 1102.0,291.8 1101.0,293.4 1100.0,292.7 1099.0,289.5 1098.0,292.1 1097.0,292.8 1096.0,291.5 1095.0,292.9 1094.0,290.0 1093.0,291.2 1092.0,292.9 1091.0,294.1 1090.0,291.7 1089.0,293.2 1088.0,293.3 1087.0,292.4 1086.0,290.1 1085.0,293.6 1084.0,292.8 1083.0,293.4 1082.0,294.1 1081.0,292.7 1080.0,294.8 1079.0,292.8 1078.0,292.6 1077.0,296.9 1076.0,295.3 1075.0,295.2 1074.0,293.2 1073.0,292.7 1072.0,292.9 1071.0,294.1 1070.0,292.8 1069.0,295.8 1068.0,294.2 1067.0,293.1 1066.0,294.9 1065.0,293.6 1064.0,294.1 1063.0,295.1 1062.0,296.1 1061.0,294.3 1060.0,296.9 1059.0,296.3 1058.0,294.1 1057.0,294.6 1056.0,296.5 1055.0,294.8 1054.0,294.4 1053.0,293.2 1052.0,294.9 1051.0,296.0 1050.0,296.0 1049.0,295.4 1048.0,294.9 1047.0,297.3 1046.0,296.6 1045.0,294.3 1044.0,296.7 1043.0,297.2 1042.0,295.0 1041.0,299.0 1040.0,299.7 1039.0,296.2 1038.0,298.0 1037.0,295.0 1036.0,297.3 1035.0,298.8 1034.0,293.9 1033.0,295.9 1032.0,296.3 1031.0,294.8 1030.0,296.1 1029.0,295.8 1028.0,297.5 1027.0,296.1 1026.0,299.0 1025.0,296.9 1024.0,298.6 1023.0,298.8 1022.0,298.7 1021.0,299.1 1020.0,298.9 1019.0,299.4 1018.0,296.1 1017.0,302.8 1016.0,299.9 1015.0,299.2 1014.0,299.3 1013.0,299.6 1012.0,298.6 1011.0,299.3 1010.0,295.8 1009.0,299.6 1008.0,298.8 1007.0,296.8 1006.0,298.9 1005.0,300.4 1004.0,300.3 1003.0,298.9 1002.0,298.4 1001.0,301.0 1000.0,302.7 999.0,301.5 998.0,299.7 997.0,297.2 996.0,299.9 995.0,301.4 994.0,300.6 993.0,298.8 992.0,298.5 991.0,299.6 990.0,302.7 989.0,301.0 988.0,298.3 987.0,298.6 986.0,300.6 985.0,302.1 984.0,300.1 983.0,301.7 982.0,302.2 981.0,302.3 980.0,299.5 979.0,301.8 978.0,301.8 977.0,300.5 976.0,300.4 975.0,303.2 974.0,303.1 973.0,303.2 972.0,302.5 971.0,301.8 970.0,303.7 969.0,303.0 968.0,300.7 967.0,301.5 966.0,303.9 965.0,302.8 964.0,302.9 963.0,300.8 962.0,302.8 961.0,304.6 960.0,301.2 959.0,302.6 958.0,302.3 957.0,302.4 956.0,302.2 955.0,304.4 954.0,302.3 953.0,302.2 952.0,300.9 951.0,300.4 950.0,304.5 949.0,304.8 948.0,304.2 947.0,302.1 946.0,300.0 945.0,303.2 944.0,299.1 943.0,305.5 942.0,302.3 941.0,304.6 940.0,304.7 939.0,304.6 938.0,304.1 937.0,304.7 936.0,301.9 935.0,301.9 934.0,303.5 933.0,304.7 932.0,304.8 931.0,305.9 930.0,303.8 929.0,305.3 928.0,303.8 927.0,303.0 926.0,302.4 925.0,305.3 924.0,305.0 923.0,304.0 922.0,305.9 921.0,303.2 920.0,308.9 919.0,306.4 918.0,305.0 917.0,303.9 916.0,307.6 915.0,306.0 914.0,302.6 913.0,306.4 912.0,306.7 911.0,306.7 910.0,306.7 909.0,306.7 908.0,309.3 907.0,309.0 906.0,307.3 905.0,305.8 904.0,307.6 903.0,307.9 902.0,307.2 901.0,305.5 900.0,305.8 899.0,306.7 898.0,306.2 897.0,307.6 896.0,307.7 895.0,306.0 894.0,307.4 893.0,305.4 892.0,305.8 891.0,307.4 890.0,308.4 889.0,309.8 888.0,307.4 887.0,307.3 886.0,308.1 885.0,304.9 884.0,308.5 883.0,311.2 882.0,309.3 881.0,310.3 880.0,309.8 879.0,309.8 878.0,309.2 877.0,310.3 876.0,308.1 875.0,308.8 874.0,309.4 873.0,312.5 872.0,312.2 871.0,309.3 870.0,307.9 869.0,309.6 868.0,310.8 867.0,311.7 866.0,308.6 865.0,307.4 864.0,308.1 863.0,309.4 862.0,310.7 861.0,310.1 860.0,310.0 859.0,310.5 858.0,310.8 857.0,309.6 856.0,311.2 855.0,310.8 854.0,313.9 853.0,313.1 852.0,312.3 851.0,312.3 850.0,311.9 849.0,314.0 848.0,310.7 847.0,312.4 846.0,312.4 845.0,311.4 844.0,311.8 843.0,312.0 842.0,310.6 841.0,311.3 840.0,311.3 839.0,311.3 838.0,309.9 837.0,312.9 836.0,313.4 835.0,312.0 834.0,310.8 833.0,312.7 832.0,313.0 831.0,315.0 830.0,313.2 829.0,311.2 828.0,312.9 827.0,315.8 826.0,315.8" fill="#b3982a" opacity="1.0"/>
<polygon points="826.0,379.6 827.0,378.8 828.0,379.0 829.0,377.6 830.0,376.6 831.0,375.7 832.0,374.3 833.0,376.7 834.0,376.3 835.0,378.6 836.0,374.6 837.0,374.6 838.0,374.0 839.0,374.3 840.0,377.4 841.0,375.2 842.0,376.0 843.0,374.3 844.0,372.5 845.0,370.6 846.0,374.7 847.0,373.4 848.0,370.4 849.0,371.8 850.0,372.2 851.0,370.5 852.0,370.8 853.0,371.2 854.0,366.1 855.0,368.4 856.0,369.4 857.0,369.1 858.0,370.0 859.0,366.9 860.0,365.9 861.0,364.8 862.0,365.6 863.0,364.5 864.0,363.1 865.0,365.8 866.0,363.1 867.0,363.0 868.0,360.5 869.0,364.0 870.0,364.0 871.0,360.4 872.0,361.2 873.0,361.0 874.0,361.0 875.0,356.1 876.0,357.6 877.0,357.1 878.0,358.1 879.0,357.4 880.0,359.3 881.0,359.1 882.0,358.8 883.0,358.4 884.0,357.8 885.0,359.3 886.0,357.7 887.0,358.6 888.0,357.2 889.0,360.8 890.0,358.8 891.0,354.5 892.0,355.4 893.0,355.2 894.0,352.5 895.0,353.6 896.0,352.1 897.0,354.4 898.0,352.3 899.0,350.4 900.0,350.2 901.0,350.4 902.0,349.9 903.0,349.9 904.0,348.3 905.0,350.3 906.0,353.3 907.0,349.7 908.0,351.5 909.0,346.4 910.0,347.8 911.0,346.5 912.0,349.3 913.0,347.5 914.0,349.3 915.0,352.3 916.0,347.6 917.0,348.8 918.0,347.6 919.0,342.9 920.0,346.3 921.0,343.5 922.0,344.1 923.0,346.6 924.0,344.9 925.0,345.3 926.0,343.7 927.0,343.8 928.0,340.7 929.0,341.9 930.0,341.5 931.0,342.7 932.0,343.4 933.0,341.9 934.0,337.3 935.0,339.2 936.0,342.0 937.0,341.9 938.0,338.6 939.0,339.0 940.0,336.6 941.0,338.9 942.0,337.4 943.0,336.4 944.0,334.1 945.0,334.0 946.0,335.8 947.0,336.4 948.0,335.4 949.0,337.4 950.0,333.3 951.0,332.6 952.0,334.0 953.0,338.4 954.0,333.9 955.0,333.8 956.0,335.8 957.0,337.1 958.0,337.3 959.0,333.9 960.0,332.8 961.0,332.0 962.0,332.5 963.0,332.1 964.0,328.3 965.0,331.0 966.0,334.4 967.0,329.1 968.0,331.8 969.0,329.9 970.0,329.5 971.0,330.5 972.0,328.6 973.0,327.5 974.0,329.3 975.0,330.8 976.0,331.9 977.0,331.7 978.0,327.5 979.0,326.4 980.0,324.5 981.0,327.2 982.0,323.9 983.0,328.8 984.0,327.4 985.0,327.6 986.0,327.9 987.0,325.8 988.0,325.1 989.0,323.6 990.0,323.5 991.0,325.5 992.0,323.7 993.0,323.9 994.0,323.6 995.0,323.9 996.0,327.6 997.0,319.4 998.0,321.4 999.0,321.5 1000.0,323.0 1001.0,324.5 1002.0,322.1 1003.0,320.6 1004.0,320.8 1005.0,318.4 1006.0,322.1 1007.0,321.9 1008.0,320.5 1009.0,318.0 1010.0,318.5 1011.0,316.8 1012.0,319.2 1013.0,318.6 1014.0,317.9 1015.0,318.3 1016.0,314.8 1017.0,317.5 1018.0,319.0 1019.0,320.4 1020.0,319.1 1021.0,318.8 1022.0,315.6 1023.0,316.3 1024.0,314.6 1025.0,317.5 1026.0,318.0 1027.0,316.2 1028.0,316.2 1029.0,316.5 1030.0,315.0 1031.0,317.2 1032.0,313.5 1033.0,311.8 1034.0,316.3 1035.0,314.6 1036.0,313.0 1037.0,312.6 1038.0,315.9 1039.0,313.1 1040.0,313.5 1041.0,314.9 1042.0,312.6 1043.0,312.0 1044.0,308.5 1045.0,314.6 1046.0,311.0 1047.0,312.8 1048.0,313.4 1049.0,310.1 1050.0,311.7 1051.0,314.3 1052.0,313.4 1053.0,309.9 1054.0,309.3 1055.0,309.3 1056.0,310.8 1057.0,312.2 1058.0,312.0 1059.0,310.0 1060.0,306.2 1061.0,310.5 1062.0,310.1 1063.0,313.7 1064.0,308.5 1065.0,308.9 1066.0,304.5 1067.0,308.9 1068.0,308.0 1069.0,305.1 1070.0,305.6 1071.0,307.5 1072.0,306.4 1073.0,304.9 1074.0,309.0 1075.0,306.9 1076.0,306.1 1077.0,308.8 1078.0,306.7 1079.0,306.6 1080.0,311.0 1081.0,309.3 1082.0,307.7 1083.0,307.2 1084.0,304.8 1085.0,299.5 1086.0,305.0 1087.0,302.9 1088.0,302.2 1089.0,305.7 1090.0,308.1 1091.0,305.9 1092.0,306.5 1093.0,306.4 1094.0,308.1 1095.0,307.0 1096.0,304.6 1097.0,304.0 1098.0,303.3 1099.0,302.5 1100.0,303.8 1101.0,301.5 1102.0,303.5 1103.0,307.4 1104.0,304.5 1105.0,305.3 1106.0,300.5 1107.0,303.3 1108.0,303.7 1109.0,307.3 1110.0,305.3 1111.0,304.7 1112.0,301.8 1113.0,306.3 1114.0,305.4 1115.0,306.2 1116.0,306.4 1117.0,305.5 1118.0,302.1 1119.0,298.9 1120.0,299.2 1121.0,302.4 1122.0,303.4 1123.0,302.3 1124.0,301.9 1125.0,303.2 1126.0,300.6 1127.0,299.0 1128.0,300.7 1129.0,303.4 1130.0,303.4 1131.0,302.0 1132.0,300.7 1133.0,302.5 1134.0,300.8 1135.0,300.6 1136.0,301.3 1137.0,306.3 1138.0,303.7 1139.0,303.1 1140.0,297.9 1141.0,302.0 1142.0,303.5 1143.0,298.7 1144.0,301.6 1145.0,300.6 1146.0,303.1 1147.0,301.4 1148.0,302.4 1149.0,300.0 1150.0,298.9 1151.0,302.0 1152.0,302.4 1153.0,302.6 1154.0,303.3 1155.0,301.9 1156.0,303.2 1157.0,302.3 1158.0,301.0 1159.0,300.3 1160.0,300.4 1161.0,300.6 1162.0,302.0 1163.0,300.5 1164.0,300.7 1165.0,299.3 1166.0,301.2 1167.0,302.1 1168.0,296.4 1169.0,301.7 1170.0,304.4 1171.0,299.2 1172.0,301.1 1173.0,301.6 1174.0,299.4 1175.0,302.4 1176.0,301.8 1177.0,297.9 1178.0,303.9 1179.0,299.1 1180.0,302.4 1181.0,300.0 1182.0,298.8 1183.0,297.2 1184.0,303.1 1185.0,300.2 1186.0,300.8 1187.0,301.1 1188.0,305.6 1189.0,304.7 1190.0,301.8 1191.0,300.0 1192.0,305.7 1193.0,304.4 1194.0,297.9 1195.0,297.5 1196.0,300.5 1197.0,299.8 1198.0,296.8 1199.0,296.7 1200.0,299.1 1201.0,295.7 1202.0,298.4 1203.0,298.0 1204.0,294.5 1205.0,297.4 1206.0,299.3 1207.0,297.5 1208.0,295.3 1209.0,301.9 1210.0,297.2 1211.0,297.5 1212.0,298.7 1213.0,296.5 1214.0,298.3 1215.0,299.4 1216.0,298.5 1217.0,300.2 1218.0,300.4 1219.0,298.5 1220.0,299.8 1221.0,298.8 1222.0,297.2 1223.0,296.7 1224.0,297.2 1225.0,299.9 1226.0,299.0 1227.0,296.5 1228.0,297.9 1229.0,297.2 1230.0,294.7 1231.0,296.8 1232.0,294.1 1233.0,294.9 1234.0,296.8 1235.0,294.2 1236.0,296.8 1237.0,297.6 1238.0,295.2 1239.0,298.3 1240.0,298.7 1241.0,297.8 1242.0,297.5 1243.0,293.3 1244.0,298.2 1245.0,297.8 1246.0,295.4 1247.0,295.5 1248.0,292.1 1249.0,295.1 1250.0,297.5 1251.0,295.3 1252.0,293.2 1253.0,296.6 1254.0,294.2 1255.0,292.2 1256.0,293.5 1257.0,295.6 1258.0,295.8 1259.0,294.6 1260.0,294.3 1261.0,293.8 1262.0,291.6 1263.0,293.4 1264.0,294.2 1265.0,295.5 1266.0,294.1 1267.0,291.7 1268.0,291.9 1269.0,292.7 1270.0,293.2 1271.0,294.5 1272.0,291.9 1273.0,292.1 1274.0,293.4 1275.0,293.0 1276.0,291.5 1277.0,294.2 1278.0,290.2 1279.0,292.4 1280.0,290.3 1281.0,288.7 1282.0,290.4 1283.0,289.5 1284.0,291.7 1285.0,290.3 1286.0,288.6 1287.0,294.0 1288.0,291.6 1289.0,292.2 1290.0,292.8 1291.0,292.5 1292.0,290.6 1293.0,291.9 1294.0,291.0 1295.0,290.0 1296.0,290.1 1297.0,293.4 1298.0,294.5 1299.0,293.2 1300.0,292.5 1301.0,287.2 1302.0,290.2 1303.0,291.4 1304.0,292.6 1305.0,290.0 1306.0,291.3 1307.0,290.6 1308.0,292.2 1309.0,288.8 1310.0,288.0 1311.0,293.6 1312.0,289.2 1313.0,291.3 1314.0,289.3 1315.0,292.4 1316.0,288.8 1316.0,299.1 1315.0,299.0 1314.0,299.8 1313.0,297.8 1312.0,298.6 1311.0,301.5 1310.0,300.3 1309.0,297.3 1308.0,297.1 1307.0,300.8 1306.0,299.2 1305.0,299.2 1304.0,302.6 1303.0,301.2 1302.0,299.6 1301.0,299.3 1300.0,300.5 1299.0,302.1 1298.0,299.0 1297.0,300.2 1296.0,296.8 1295.0,297.0 1294.0,299.7 1293.0,300.1 1292.0,300.2 1291.0,299.9 1290.0,301.3 1289.0,300.0 1288.0,299.3 1287.0,300.3 1286.0,300.3 1285.0,301.0 1284.0,300.8 1283.0,298.5 1282.0,298.1 1281.0,297.8 1280.0,299.8 1279.0,299.2 1278.0,301.7 1277.0,301.6 1276.0,299.3 1275.0,298.7 1274.0,301.3 1273.0,301.7 1272.0,300.4 1271.0,302.5 1270.0,300.9 1269.0,304.5 1268.0,300.3 1267.0,298.2 1266.0,304.0 1265.0,300.9 1264.0,300.7 1263.0,301.7 1262.0,300.2 1261.0,303.3 1260.0,304.6 1259.0,301.6 1258.0,302.7 1257.0,302.0 1256.0,301.7 1255.0,302.1 1254.0,304.4 1253.0,302.4 1252.0,303.7 1251.0,301.3 1250.0,304.7 1249.0,303.2 1248.0,298.7 1247.0,306.0 1246.0,302.1 1245.0,305.1 1244.0,306.1 1243.0,301.0 1242.0,307.0 1241.0,307.4 1240.0,303.9 1239.0,306.6 1238.0,302.2 1237.0,304.4 1236.0,306.5 1235.0,303.2 1234.0,304.7 1233.0,303.7 1232.0,303.1 1231.0,305.5 1230.0,305.9 1229.0,306.2 1228.0,306.0 1227.0,307.2 1226.0,309.0 1225.0,306.0 1224.0,304.9 1223.0,303.6 1222.0,306.7 1221.0,306.2 1220.0,309.9 1219.0,310.0 1218.0,309.7 1217.0,309.0 1216.0,306.9 1215.0,307.4 1214.0,308.7 1213.0,308.0 1212.0,305.8 1211.0,305.7 1210.0,306.0 1209.0,309.3 1208.0,305.7 1207.0,305.6 1206.0,302.4 1205.0,306.1 1204.0,304.8 1203.0,308.3 1202.0,307.3 1201.0,306.5 1200.0,308.9 1199.0,304.2 1198.0,305.2 1197.0,307.8 1196.0,308.7 1195.0,306.8 1194.0,306.2 1193.0,313.6 1192.0,312.0 1191.0,308.4 1190.0,307.8 1189.0,312.0 1188.0,312.1 1187.0,313.8 1186.0,309.6 1185.0,309.5 1184.0,311.3 1183.0,306.7 1182.0,308.4 1181.0,306.8 1180.0,310.9 1179.0,308.7 1178.0,305.3 1177.0,308.0 1176.0,310.7 1175.0,313.0 1174.0,309.9 1173.0,311.7 1172.0,311.8 1171.0,310.5 1170.0,312.3 1169.0,310.1 1168.0,308.2 1167.0,307.2 1166.0,308.7 1165.0,308.6 1164.0,307.4 1163.0,306.9 1162.0,308.4 1161.0,309.5 1160.0,307.5 1159.0,309.9 1158.0,309.7 1157.0,311.3 1156.0,314.4 1155.0,310.6 1154.0,311.5 1153.0,310.5 1152.0,312.2 1151.0,309.2 1150.0,310.0 1149.0,310.3 1148.0,309.5 1147.0,309.4 1146.0,310.7 1145.0,309.6 1144.0,310.6 1143.0,310.0 1142.0,309.3 1141.0,311.2 1140.0,307.8 1139.0,313.0 1138.0,310.3 1137.0,314.3 1136.0,311.3 1135.0,310.0 1134.0,311.1 1133.0,308.9 1132.0,308.9 1131.0,309.5 1130.0,309.6 1129.0,309.5 1128.0,309.4 1127.0,310.9 1126.0,309.8 1125.0,308.9 1124.0,309.3 1123.0,310.8 1122.0,312.4 1121.0,312.2 1120.0,307.3 1119.0,310.3 1118.0,311.2 1117.0,315.4 1116.0,315.8 1115.0,312.9 1114.0,314.4 1113.0,315.5 1112.0,309.1 1111.0,313.6 1110.0,313.2 1109.0,311.7 1108.0,310.4 1107.0,309.3 1106.0,309.7 1105.0,314.0 1104.0,312.3 1103.0,314.1 1102.0,315.3 1101.0,311.5 1100.0,311.4 1099.0,314.2 1098.0,313.5 1097.0,312.7 1096.0,312.2 1095.0,313.6 1094.0,315.6 1093.0,317.4 1092.0,315.3 1091.0,313.9 1090.0,315.7 1089.0,311.7 1088.0,314.7 1087.0,312.3 1086.0,313.4 1085.0,310.9 1084.0,315.0 1083.0,314.6 1082.0,316.7 1081.0,316.4 1080.0,315.6 1079.0,316.3 1078.0,316.2 1077.0,317.7 1076.0,315.3 1075.0,313.3 1074.0,317.2 1073.0,311.9 1072.0,314.7 1071.0,313.2 1070.0,315.2 1069.0,316.1 1068.0,318.4 1067.0,318.7 1066.0,313.9 1065.0,317.2 1064.0,319.6 1063.0,322.1 1062.0,319.0 1061.0,321.5 1060.0,317.9 1059.0,315.7 1058.0,320.4 1057.0,320.5 1056.0,320.3 1055.0,317.7 1054.0,320.8 1053.0,319.7 1052.0,323.4 1051.0,322.3 1050.0,321.4 1049.0,320.6 1048.0,322.2 1047.0,320.0 1046.0,319.7 1045.0,321.2 1044.0,320.9 1043.0,319.2 1042.0,320.2 1041.0,321.7 1040.0,321.6 1039.0,324.4 1038.0,323.9 1037.0,320.8 1036.0,323.2 1035.0,323.2 1034.0,325.4 1033.0,321.0 1032.0,323.8 1031.0,325.0 1030.0,323.0 1029.0,325.8 1028.0,324.8 1027.0,324.2 1026.0,327.3 1025.0,328.7 1024.0,321.9 1023.0,328.8 1022.0,326.3 1021.0,328.3 1020.0,328.9 1019.0,330.2 1018.0,327.2 1017.0,327.4 1016.0,324.1 1015.0,326.5 1014.0,327.8 1013.0,328.6 1012.0,330.3 1011.0,326.0 1010.0,327.9 1009.0,324.6 1008.0,331.7 1007.0,330.7 1006.0,331.0 1005.0,324.7 1004.0,329.2 1003.0,330.9 1002.0,329.2 1001.0,332.5 1000.0,330.4 999.0,332.0 998.0,330.8 997.0,331.1 996.0,332.0 995.0,335.5 994.0,334.0 993.0,333.4 992.0,332.4 991.0,334.5 990.0,332.7 989.0,334.8 988.0,331.9 987.0,337.2 986.0,337.8 985.0,337.1 984.0,334.8 983.0,339.9 982.0,332.1 981.0,337.4 980.0,335.3 979.0,335.9 978.0,338.4 977.0,341.1 976.0,341.5 975.0,340.7 974.0,338.7 973.0,336.3 972.0,338.5 971.0,337.5 970.0,336.8 969.0,339.3 968.0,338.7 967.0,340.8 966.0,340.5 965.0,341.8 964.0,340.8 963.0,342.9 962.0,339.6 961.0,341.8 960.0,340.7 959.0,341.0 958.0,342.0 957.0,341.7 956.0,344.6 955.0,342.0 954.0,343.2 953.0,345.5 952.0,344.8 951.0,342.7 950.0,342.8 949.0,345.7 948.0,345.4 947.0,345.9 946.0,345.8 945.0,346.3 944.0,345.6 943.0,343.9 942.0,346.8 941.0,347.2 940.0,348.6 939.0,346.9 938.0,348.3 937.0,350.1 936.0,350.1 935.0,351.4 934.0,349.0 933.0,350.6 932.0,354.2 931.0,348.9 930.0,349.4 929.0,348.3 928.0,352.3 927.0,355.2 926.0,357.3 925.0,354.5 924.0,354.6 923.0,356.2 922.0,354.4 921.0,352.2 920.0,355.7 919.0,355.6 918.0,356.9 917.0,356.7 916.0,358.5 915.0,360.3 914.0,357.2 913.0,358.8 912.0,362.3 911.0,356.8 910.0,358.6 909.0,357.1 908.0,358.8 907.0,358.9 906.0,361.2 905.0,359.4 904.0,355.8 903.0,360.6 902.0,361.4 901.0,360.7 900.0,360.7 899.0,360.8 898.0,365.2 897.0,364.9 896.0,362.7 895.0,364.6 894.0,362.8 893.0,364.9 892.0,364.9 891.0,364.4 890.0,368.9 889.0,367.5 888.0,366.6 887.0,369.3 886.0,366.2 885.0,369.9 884.0,367.7 883.0,368.6 882.0,366.9 881.0,366.5 880.0,368.8 879.0,368.6 878.0,368.4 877.0,363.7 876.0,367.3 875.0,364.1 874.0,368.4 873.0,369.9 872.0,372.6 871.0,371.9 870.0,373.1 869.0,373.3 868.0,369.6 867.0,373.0 866.0,371.8 865.0,376.8 864.0,373.3 863.0,374.2 862.0,375.9 861.0,374.3 860.0,376.0 859.0,377.1 858.0,378.1 857.0,379.5 856.0,379.0 855.0,380.9 854.0,377.5 853.0,378.7 852.0,380.2 851.0,382.2 850.0,381.3 849.0,381.7 848.0,378.6 847.0,384.4 846.0,383.8 845.0,379.6 844.0,382.4 843.0,382.5 842.0,383.2 841.0,384.1 840.0,387.2 839.0,385.3 838.0,385.6 837.0,385.3 836.0,386.0 835.0,388.5 834.0,388.1 833.0,385.5 832.0,385.8 831.0,386.5 830.0,387.1 829.0,387.9 828.0,388.5 827.0,388.6 826.0,390.7" fill="#e5822c" opacity="1.0"/>
<polygon points="826.0,449.1 827.0,446.4 828.0,446.7 829.0,445.0 830.0,446.7 831.0,447.4 832.0,437.8 833.0,443.2 834.0,442.3 835.0,440.7 836.0,439.9 837.0,438.4 838.0,436.9 839.0,431.4 840.0,435.2 841.0,431.9 842.0,431.0 843.0,433.5 844.0,434.0 845.0,430.9 846.0,431.2 847.0,427.8 848.0,428.0 849.0,425.1 850.0,423.4 851.0,424.0 852.0,422.2 853.0,420.9 854.0,420.2 855.0,418.4 856.0,419.8 857.0,414.5 858.0,411.0 859.0,416.7 860.0,410.4 861.0,412.5 862.0,407.4 863.0,409.8 864.0,410.3 865.0,406.9 866.0,407.3 867.0,408.1 868.0,404.1 869.0,402.6 870.0,399.1 871.0,400.6 872.0,396.5 873.0,397.1 874.0,398.7 875.0,400.1 876.0,397.6 877.0,396.0 878.0,395.3 879.0,398.1 880.0,395.9 881.0,397.7 882.0,392.2 883.0,391.4 884.0,391.5 885.0,393.0 886.0,388.3 887.0,389.5 888.0,389.1 889.0,386.8 890.0,388.4 891.0,388.8 892.0,385.5 893.0,386.3 894.0,385.0 895.0,381.6 896.0,384.3 897.0,385.1 898.0,382.7 899.0,381.7 900.0,381.3 901.0,379.0 902.0,378.8 903.0,380.8 904.0,378.1 905.0,377.5 906.0,379.1 907.0,376.4 908.0,376.6 909.0,373.6 910.0,374.8 911.0,373.7 912.0,376.9 913.0,374.6 914.0,371.2 915.0,372.0 916.0,368.2 917.0,371.1 918.0,366.6 919.0,371.4 920.0,372.0 921.0,370.4 922.0,368.8 923.0,368.3 924.0,367.1 925.0,366.5 926.0,366.2 927.0,368.0 928.0,372.0 929.0,367.5 930.0,368.4 931.0,365.2 932.0,368.4 933.0,365.7 934.0,364.6 935.0,366.6 936.0,362.4 937.0,359.5 938.0,358.1 939.0,361.1 940.0,362.4 941.0,360.0 942.0,356.8 943.0,356.5 944.0,359.6 945.0,359.3 946.0,359.8 947.0,360.0 948.0,356.5 949.0,356.4 950.0,352.8 951.0,351.6 952.0,355.4 953.0,356.3 954.0,356.9 955.0,356.9 956.0,357.5 957.0,354.0 958.0,351.7 959.0,354.8 960.0,351.8 961.0,353.8 962.0,350.4 963.0,353.6 964.0,352.9 965.0,351.3 966.0,352.0 967.0,350.2 968.0,347.3 969.0,349.1 970.0,351.5 971.0,349.4 972.0,348.8 973.0,348.2 974.0,347.1 975.0,348.2 976.0,345.1 977.0,345.1 978.0,344.0 979.0,347.2 980.0,347.5 981.0,345.4 982.0,345.9 983.0,345.2 984.0,343.0 985.0,344.3 986.0,343.6 987.0,342.5 988.0,343.3 989.0,342.8 990.0,343.9 991.0,342.8 992.0,341.2 993.0,338.6 994.0,338.4 995.0,340.6 996.0,337.7 997.0,336.4 998.0,340.3 999.0,337.6 1000.0,339.0 1001.0,335.3 1002.0,337.1 1003.0,339.7 1004.0,338.6 1005.0,339.3 1006.0,336.2 1007.0,332.8 1008.0,334.7 1009.0,334.0 1010.0,339.3 1011.0,335.5 1012.0,337.2 1013.0,332.7 1014.0,335.8 1015.0,331.9 1016.0,332.3 1017.0,332.4 1018.0,332.9 1019.0,328.6 1020.0,333.4 1021.0,331.0 1022.0,332.5 1023.0,331.0 1024.0,330.0 1025.0,330.4 1026.0,329.9 1027.0,329.7 1028.0,330.0 1029.0,329.3 1030.0,331.0 1031.0,330.0 1032.0,328.5 1033.0,325.1 1034.0,330.4 1035.0,329.4 1036.0,329.0 1037.0,326.0 1038.0,328.1 1039.0,327.4 1040.0,327.1 1041.0,328.0 1042.0,329.1 1043.0,331.1 1044.0,329.1 1045.0,328.4 1046.0,326.0 1047.0,320.1 1048.0,326.5 1049.0,324.5 1050.0,324.1 1051.0,326.1 1052.0,326.7 1053.0,321.5 1054.0,329.2 1055.0,323.4 1056.0,326.7 1057.0,322.1 1058.0,323.7 1059.0,328.2 1060.0,327.6 1061.0,326.2 1062.0,328.0 1063.0,324.5 1064.0,324.2 1065.0,323.1 1066.0,325.1 1067.0,322.5 1068.0,319.3 1069.0,321.9 1070.0,321.0 1071.0,325.3 1072.0,319.1 1073.0,323.3 1074.0,322.3 1075.0,317.5 1076.0,316.4 1077.0,317.6 1078.0,320.2 1079.0,321.5 1080.0,321.2 1081.0,322.4 1082.0,322.2 1083.0,321.0 1084.0,322.3 1085.0,317.1 1086.0,320.9 1087.0,316.2 1088.0,317.0 1089.0,315.7 1090.0,315.9 1091.0,316.1 1092.0,317.4 1093.0,316.4 1094.0,316.3 1095.0,321.8 1096.0,318.9 1097.0,320.0 1098.0,320.5 1099.0,319.3 1100.0,318.3 1101.0,317.6 1102.0,314.7 1103.0,315.6 1104.0,316.1 1105.0,313.1 1106.0,315.7 1107.0,315.6 1108.0,313.8 1109.0,310.8 1110.0,315.0 1111.0,313.7 1112.0,316.0 1113.0,312.0 1114.0,315.8 1115.0,314.5 1116.0,310.0 1117.0,313.8 1118.0,311.2 1119.0,313.5 1120.0,313.9 1121.0,314.5 1122.0,312.1 1123.0,316.0 1124.0,312.0 1125.0,309.6 1126.0,314.1 1127.0,311.3 1128.0,309.9 1129.0,310.1 1130.0,313.9 1131.0,311.3 1132.0,313.2 1133.0,314.5 1134.0,310.6 1135.0,313.2 1136.0,312.0 1137.0,314.2 1138.0,308.6 1139.0,311.4 1140.0,309.5 1141.0,309.1 1142.0,310.5 1143.0,310.0 1144.0,309.7 1145.0,308.1 1146.0,308.9 1147.0,307.8 1148.0,312.5 1149.0,310.8 1150.0,307.8 1151.0,305.7 1152.0,306.2 1153.0,308.0 1154.0,306.2 1155.0,308.5 1156.0,307.3 1157.0,306.0 1158.0,305.9 1159.0,306.4 1160.0,305.1 1161.0,309.1 1162.0,305.7 1163.0,306.6 1164.0,307.5 1165.0,307.5 1166.0,307.4 1167.0,307.9 1168.0,304.7 1169.0,305.7 1170.0,303.8 1171.0,306.9 1172.0,306.2 1173.0,303.9 1174.0,307.9 1175.0,306.2 1176.0,303.4 1177.0,303.4 1178.0,303.7 1179.0,303.0 1180.0,305.0 1181.0,305.4 1182.0,306.0 1183.0,308.0 1184.0,305.9 1185.0,305.3 1186.0,308.0 1187.0,303.8 1188.0,302.0 1189.0,300.5 1190.0,301.8 1191.0,302.8 1192.0,308.6 1193.0,303.4 1194.0,303.5 1195.0,302.4 1196.0,301.1 1197.0,303.3 1198.0,305.5 1199.0,303.5 1200.0,302.9 1201.0,300.9 1202.0,298.2 1203.0,299.5 1204.0,299.4 1205.0,302.3 1206.0,299.7 1207.0,299.1 1208.0,300.4 1209.0,296.1 1210.0,299.3 1211.0,297.1 1212.0,301.1 1213.0,300.3 1214.0,302.5 1215.0,298.2 1216.0,301.8 1217.0,298.2 1218.0,298.9 1219.0,295.2 1220.0,296.3 1221.0,296.7 1222.0,299.1 1223.0,302.0 1224.0,299.7 1225.0,297.5 1226.0,297.6 1227.0,301.7 1228.0,299.6 1229.0,301.2 1230.0,295.8 1231.0,294.8 1232.0,298.1 1233.0,297.2 1234.0,299.4 1235.0,300.1 1236.0,301.2 1237.0,297.9 1238.0,299.2 1239.0,297.9 1240.0,298.0 1241.0,298.0 1242.0,298.1 1243.0,298.6 1244.0,296.4 1245.0,298.7 1246.0,297.3 1247.0,297.3 1248.0,296.7 1249.0,296.4 1250.0,297.2 1251.0,296.9 1252.0,299.1 1253.0,297.5 1254.0,294.9 1255.0,297.2 1256.0,294.7 1257.0,294.7 1258.0,295.0 1259.0,292.4 1260.0,294.2 1261.0,299.0 1262.0,297.1 1263.0,294.7 1264.0,297.4 1265.0,298.0 1266.0,297.2 1267.0,295.0 1268.0,295.3 1269.0,293.2 1270.0,296.3 1271.0,294.0 1272.0,297.8 1273.0,297.9 1274.0,298.3 1275.0,296.8 1276.0,298.3 1277.0,296.2 1278.0,296.0 1279.0,295.1 1280.0,297.0 1281.0,297.7 1282.0,296.8 1283.0,296.1 1284.0,294.1 1285.0,291.4 1286.0,296.3 1287.0,293.8 1288.0,294.8 1289.0,295.7 1290.0,294.2 1291.0,293.5 1292.0,292.3 1293.0,296.3 1294.0,295.9 1295.0,293.6 1296.0,297.1 1297.0,294.1 1298.0,294.0 1299.0,295.9 1300.0,292.8 1301.0,292.5 1302.0,297.8 1303.0,295.6 1304.0,294.3 1305.0,296.3 1306.0,292.7 1307.0,291.5 1308.0,291.8 1309.0,294.3 1310.0,293.1 1311.0,294.5 1312.0,293.2 1313.0,292.8 1314.0,292.4 1315.0,294.9 1316.0,292.1 1316.0,301.1 1315.0,302.2 1314.0,300.4 1313.0,304.9 1312.0,303.6 1311.0,303.6 1310.0,301.7 1309.0,301.6 1308.0,302.2 1307.0,299.4 1306.0,301.8 1305.0,301.9 1304.0,303.8 1303.0,304.5 1302.0,302.4 1301.0,301.5 1300.0,300.8 1299.0,302.7 1298.0,302.3 1297.0,300.7 1296.0,303.6 1295.0,302.4 1294.0,305.1 1293.0,303.7 1292.0,301.6 1291.0,302.8 1290.0,302.9 1289.0,303.7 1288.0,303.8 1287.0,299.6 1286.0,301.9 1285.0,301.2 1284.0,300.2 1283.0,303.1 1282.0,304.5 1281.0,303.0 1280.0,304.3 1279.0,301.3 1278.0,305.4 1277.0,303.9 1276.0,308.8 1275.0,305.1 1274.0,306.7 1273.0,306.2 1272.0,305.0 1271.0,305.0 1270.0,303.6 1269.0,303.1 1268.0,303.9 1267.0,307.4 1266.0,303.6 1265.0,306.0 1264.0,304.9 1263.0,301.9 1262.0,305.3 1261.0,308.9 1260.0,303.5 1259.0,300.6 1258.0,305.4 1257.0,302.7 1256.0,303.1 1255.0,306.0 1254.0,304.9 1253.0,304.4 1252.0,305.4 1251.0,305.1 1250.0,305.3 1249.0,306.8 1248.0,301.6 1247.0,309.0 1246.0,308.0 1245.0,305.6 1244.0,305.0 1243.0,305.4 1242.0,304.8 1241.0,306.6 1240.0,307.3 1239.0,304.0 1238.0,306.7 1237.0,305.8 1236.0,311.6 1235.0,307.3 1234.0,308.5 1233.0,307.8 1232.0,308.6 1231.0,306.9 1230.0,304.7 1229.0,309.0 1228.0,308.3 1227.0,309.2 1226.0,310.5 1225.0,307.8 1224.0,307.2 1223.0,309.8 1222.0,306.5 1221.0,306.0 1220.0,306.3 1219.0,304.8 1218.0,308.4 1217.0,307.9 1216.0,309.5 1215.0,305.4 1214.0,311.0 1213.0,309.9 1212.0,306.5 1211.0,305.7 1210.0,309.0 1209.0,306.6 1208.0,309.3 1207.0,304.8 1206.0,309.1 1205.0,309.5 1204.0,308.8 1203.0,308.4 1202.0,308.1 1201.0,307.7 1200.0,312.8 1199.0,310.5 1198.0,315.5 1197.0,311.4 1196.0,311.5 1195.0,309.1 1194.0,313.7 1193.0,309.8 1192.0,313.4 1191.0,313.3 1190.0,313.9 1189.0,313.2 1188.0,309.8 1187.0,312.0 1186.0,314.4 1185.0,311.4 1184.0,315.2 1183.0,316.2 1182.0,314.5 1181.0,314.8 1180.0,313.7 1179.0,312.4 1178.0,312.5 1177.0,312.7 1176.0,312.1 1175.0,313.7 1174.0,315.8 1173.0,314.2 1172.0,311.4 1171.0,313.2 1170.0,313.9 1169.0,313.9 1168.0,313.5 1167.0,317.9 1166.0,317.7 1165.0,316.8 1164.0,316.9 1163.0,312.6 1162.0,315.4 1161.0,317.3 1160.0,312.8 1159.0,315.6 1158.0,313.4 1157.0,313.6 1156.0,317.3 1155.0,317.4 1154.0,316.5 1153.0,315.0 1152.0,316.0 1151.0,316.0 1150.0,317.0 1149.0,321.4 1148.0,319.1 1147.0,319.2 1146.0,318.8 1145.0,316.3 1144.0,322.7 1143.0,316.5 1142.0,319.9 1141.0,320.0 1140.0,317.9 1139.0,320.3 1138.0,319.8 1137.0,323.3 1136.0,322.0 1135.0,321.9 1134.0,322.2 1133.0,320.6 1132.0,321.1 1131.0,320.8 1130.0,322.7 1129.0,318.5 1128.0,320.1 1127.0,321.4 1126.0,323.2 1125.0,318.5 1124.0,324.4 1123.0,323.8 1122.0,321.4 1121.0,324.0 1120.0,323.4 1119.0,323.3 1118.0,320.8 1117.0,321.0 1116.0,317.7 1115.0,326.2 1114.0,324.7 1113.0,324.7 1112.0,324.9 1111.0,324.8 1110.0,322.6 1109.0,323.8 1108.0,323.1 1107.0,326.9 1106.0,325.6 1105.0,324.9 1104.0,326.3 1103.0,326.4 1102.0,324.4 1101.0,325.1 1100.0,325.4 1099.0,330.2 1098.0,328.4 1097.0,328.2 1096.0,330.1 1095.0,330.1 1094.0,327.4 1093.0,326.8 1092.0,326.3 1091.0,324.4 1090.0,324.8 1089.0,327.8 1088.0,325.1 1087.0,325.2 1086.0,328.5 1085.0,327.6 1084.0,332.2 1083.0,328.5 1082.0,332.6 1081.0,332.3 1080.0,330.8 1079.0,328.5 1078.0,327.4 1077.0,327.7 1076.0,326.6 1075.0,329.0 1074.0,330.8 1073.0,331.3 1072.0,330.5 1071.0,334.3 1070.0,330.8 1069.0,330.5 1068.0,330.7 1067.0,330.4 1066.0,334.5 1065.0,331.2 1064.0,334.3 1063.0,334.2 1062.0,338.0 1061.0,337.3 1060.0,337.9 1059.0,334.9 1058.0,333.9 1057.0,335.8 1056.0,338.7 1055.0,332.1 1054.0,336.4 1053.0,334.6 1052.0,334.0 1051.0,333.1 1050.0,333.5 1049.0,332.7 1048.0,332.5 1047.0,330.7 1046.0,336.0 1045.0,339.5 1044.0,340.1 1043.0,338.8 1042.0,337.1 1041.0,338.2 1040.0,338.0 1039.0,336.8 1038.0,337.4 1037.0,339.4 1036.0,337.9 1035.0,338.8 1034.0,341.3 1033.0,338.1 1032.0,337.5 1031.0,339.9 1030.0,339.3 1029.0,339.3 1028.0,341.0 1027.0,339.0 1026.0,340.3 1025.0,340.1 1024.0,338.3 1023.0,340.2 1022.0,340.5 1021.0,340.3 1020.0,341.9 1019.0,337.5 1018.0,342.0 1017.0,341.1 1016.0,341.2 1015.0,342.7 1014.0,343.4 1013.0,343.0 1012.0,346.8 1011.0,343.7 1010.0,350.2 1009.0,344.0 1008.0,344.0 1007.0,347.1 1006.0,345.8 1005.0,349.9 1004.0,350.5 1003.0,350.8 1002.0,344.8 1001.0,347.6 1000.0,347.8 999.0,348.6 998.0,346.8 997.0,348.4 996.0,348.0 995.0,348.0 994.0,348.5 993.0,350.7 992.0,351.8 991.0,355.7 990.0,350.3 989.0,353.6 988.0,354.4 987.0,350.6 986.0,353.4 985.0,353.7 984.0,354.4 983.0,354.9 982.0,355.3 981.0,356.3 980.0,357.0 979.0,352.4 978.0,354.9 977.0,356.4 976.0,355.9 975.0,356.6 974.0,357.7 973.0,356.0 972.0,356.8 971.0,358.9 970.0,362.8 969.0,358.2 968.0,358.7 967.0,362.4 966.0,361.3 965.0,364.1 964.0,366.4 963.0,363.6 962.0,363.2 961.0,362.6 960.0,361.3 959.0,365.9 958.0,364.1 957.0,362.3 956.0,368.9 955.0,366.2 954.0,363.8 953.0,365.1 952.0,361.4 951.0,364.5 950.0,364.4 949.0,366.5 948.0,367.5 947.0,367.3 946.0,369.6 945.0,367.0 944.0,368.1 943.0,367.0 942.0,369.7 941.0,367.9 940.0,371.5 939.0,370.7 938.0,368.5 937.0,369.8 936.0,373.3 935.0,376.4 934.0,374.8 933.0,377.4 932.0,377.9 931.0,374.2 930.0,375.4 929.0,379.0 928.0,378.3 927.0,376.0 926.0,375.5 925.0,376.3 924.0,379.0 923.0,380.3 922.0,379.5 921.0,378.8 920.0,379.1 919.0,381.4 918.0,376.8 917.0,381.9 916.0,378.2 915.0,377.8 914.0,381.8 913.0,383.3 912.0,387.7 911.0,383.1 910.0,383.7 909.0,384.6 908.0,383.0 907.0,386.7 906.0,386.8 905.0,389.0 904.0,385.7 903.0,390.9 902.0,391.2 901.0,389.9 900.0,392.9 899.0,390.5 898.0,394.1 897.0,394.5 896.0,393.6 895.0,389.4 894.0,394.5 893.0,397.3 892.0,397.9 891.0,399.0 890.0,398.7 889.0,396.7 888.0,398.4 887.0,399.5 886.0,398.7 885.0,403.5 884.0,401.0 883.0,404.3 882.0,401.5 881.0,408.5 880.0,405.3 879.0,407.0 878.0,405.8 877.0,409.0 876.0,408.9 875.0,410.6 874.0,410.1 873.0,408.2 872.0,408.2 871.0,410.7 870.0,411.1 869.0,414.3 868.0,415.5 867.0,415.9 866.0,418.4 865.0,419.1 864.0,420.2 863.0,422.0 862.0,422.0 861.0,421.8 860.0,423.1 859.0,427.4 858.0,424.2 857.0,425.5 856.0,432.3 855.0,426.7 854.0,433.0 853.0,433.8 852.0,432.6 851.0,432.9 850.0,434.4 849.0,435.5 848.0,441.1 847.0,438.6 846.0,443.7 845.0,440.8 844.0,443.4 843.0,443.4 842.0,441.2 841.0,443.4 840.0,448.1 839.0,444.3 838.0,449.0 837.0,453.4 836.0,452.8 835.0,451.3 834.0,454.0 833.0,457.0 832.0,450.3 831.0,458.6 830.0,458.1 829.0,458.5 828.0,458.3 827.0,457.5 826.0,458.7" fill="#f55f86" opacity="1.0"/>
<line x1="826" y1="258.5" x2="1316.5" y2="258.5" stroke="#fff" stroke-width="6.5" opacity="0.9"/>
<line x1="826" y1="258.5" x2="1316.5" y2="258.5" stroke="#000" stroke-width="5.2" stroke-dasharray="5 6.2"/>
<rect x="1010.2" y="366.3" width="285" height="84.1" rx="8" fill="#fff" stroke="#333" stroke-width="2"/>
<rect x="1031.8" y="381.3" width="50.4" height="22.2" rx="11.1" fill="#000"/>
<text x="1057" y="398.2" font-family="Liberation Sans" font-size="16.5" font-weight="bold" fill="#fff" text-anchor="middle" >34.2</text>
<text transform="translate(1108.95,397.24) scale(1.0517,1)" font-family="Liberation Sans" font-size="15.68" font-weight="bold" font-style="normal" fill="#262626" >Isometric PAC</text>
<text transform="translate(1222.52,398.76) scale(1.3402,1)" font-family="Liberation Sans" font-size="8.27" font-weight="bold" font-style="normal" fill="#666" >mp</text>
<rect x="1031.3" y="422.2" width="4.3" height="4.3" rx="1" fill="#000"/>
<rect x="1040.8" y="422.2" width="4.3" height="4.3" rx="1" fill="#000"/>
<rect x="1050.2" y="422.2" width="4.3" height="4.3" rx="1" fill="#000"/>
<rect x="1059.6" y="422.2" width="4.3" height="4.3" rx="1" fill="#000"/>
<rect x="1069.1" y="422.2" width="4.3" height="4.3" rx="1" fill="#000"/>
<rect x="1078.5" y="422.2" width="4.3" height="4.3" rx="1" fill="#000"/>
<text transform="translate(1109.64,429.72) scale(1.0608,1)" font-family="Liberation Sans" font-size="15.64" font-weight="bold" font-style="normal" fill="#262626" >Line of Convergence</text>
<text x="810.3" y="152.6" font-family="Liberation Sans" font-size="22" font-weight="normal" fill="#4a4a4a" text-anchor="end" stroke="#4a4a4a" stroke-width="0.35">11000</text>
<text x="810.3" y="235.8" font-family="Liberation Sans" font-size="22" font-weight="normal" fill="#4a4a4a" text-anchor="end" stroke="#4a4a4a" stroke-width="0.35">10000</text>
<text x="808.6" y="268.8" font-family="Liberation Sans" font-size="23" font-weight="normal" fill="#1e1e1e" text-anchor="end" stroke="#1e1e1e" stroke-width="0.3">9500</text>
<text x="809.2" y="316.2" font-family="Liberation Sans" font-size="22" font-weight="normal" fill="#4a4a4a" text-anchor="end" stroke="#4a4a4a" stroke-width="0.35">9000</text>
<text x="809.2" y="397.1" font-family="Liberation Sans" font-size="22" font-weight="normal" fill="#4a4a4a" text-anchor="end" stroke="#4a4a4a" stroke-width="0.35">8000</text>
<text x="809.2" y="478.6" font-family="Liberation Sans" font-size="22" font-weight="normal" fill="#4a4a4a" text-anchor="end" stroke="#4a4a4a" stroke-width="0.35">7000</text>
<text x="825" y="508.6" font-family="Liberation Sans" font-size="22" font-weight="normal" fill="#4a4a4a" text-anchor="middle" stroke="#4a4a4a" stroke-width="0.35">0</text>
<text x="924" y="508.6" font-family="Liberation Sans" font-size="22" font-weight="normal" fill="#4a4a4a" text-anchor="middle" stroke="#4a4a4a" stroke-width="0.35">200</text>
<text x="1022" y="508.6" font-family="Liberation Sans" font-size="22" font-weight="normal" fill="#4a4a4a" text-anchor="middle" stroke="#4a4a4a" stroke-width="0.35">400</text>
<text x="1120" y="508.6" font-family="Liberation Sans" font-size="22" font-weight="normal" fill="#4a4a4a" text-anchor="middle" stroke="#4a4a4a" stroke-width="0.35">600</text>
<text x="1218.7" y="508.6" font-family="Liberation Sans" font-size="22" font-weight="normal" fill="#4a4a4a" text-anchor="middle" stroke="#4a4a4a" stroke-width="0.35">800</text>
<text x="1317.3" y="508.6" font-family="Liberation Sans" font-size="22" font-weight="normal" fill="#4a4a4a" text-anchor="middle" stroke="#4a4a4a" stroke-width="0.35">1000</text>
<text transform="translate(1039.95,555.05) scale(0.9228,1)" font-family="Liberation Sans" font-size="35.43" font-weight="bold" font-style="normal" fill="#000" >Year</text>
<text transform="translate(23.87,44.40) scale(1.0319,1)" font-family="Liberation Serif" font-size="51.36" font-weight="bold" font-style="normal" fill="#000" >A</text>
<text transform="translate(724.65,44.60) scale(0.9992,1)" font-family="Liberation Serif" font-size="52.46" font-weight="bold" font-style="normal" fill="#000" >B</text>
<line x1="714.3" y1="55.3" x2="714.3" y2="557" stroke="#333" stroke-width="3.4"/>
</svg>
</body></html>
